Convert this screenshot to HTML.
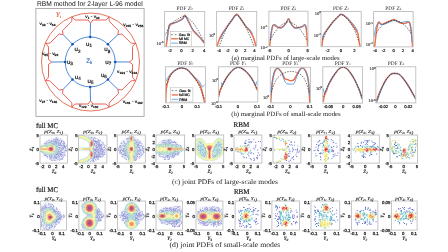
<!DOCTYPE html><html><head><meta charset="utf-8"><style>html,body{margin:0;padding:0;background:#fff;overflow:hidden}svg{display:block}</style></head><body>
<svg width="448" height="252" viewBox="0 0 448 252" style="will-change:transform;text-rendering:geometricPrecision">
<rect width="448" height="252" fill="#fff"/>
<text x="36.9" y="5.9" font-family="'Liberation Sans', sans-serif" font-size="6.8" fill="#111" text-anchor="start" textLength="105.8" lengthAdjust="spacingAndGlyphs">RBM method for 2-layer L-96 model</text>
<rect x="35.9" y="8.5" width="108.2" height="107.9" fill="none" stroke="#a6a6a6" stroke-width="0.9"/>
<circle cx="90.5" cy="62.0" r="49.0" fill="none" stroke="#e5765c" stroke-width="1.0"/>
<path d="M71.86,17.01 L74.3,19.4 L75.7,20 L88.1,20 L90.5,23.2 L92.9,20 L105.3,20 L106.7,19.4 L109.14,17.01" fill="none" stroke="#e4463c" stroke-width="0.85" stroke-linejoin="round"/>
<path d="M109.14,17.01 L109.17,20.42 L109.74,21.84 L118.5,30.6 L117.94,34.56 L121.9,34 L130.66,42.76 L132.08,43.33 L135.49,43.36" fill="none" stroke="#e4463c" stroke-width="0.85" stroke-linejoin="round"/>
<path d="M135.49,43.36 L133.1,45.8 L132.5,47.2 L132.5,59.6 L129.3,62 L132.5,64.4 L132.5,76.8 L133.1,78.2 L135.49,80.64" fill="none" stroke="#e4463c" stroke-width="0.85" stroke-linejoin="round"/>
<path d="M135.49,80.64 L132.08,80.67 L130.66,81.24 L121.9,90 L117.94,89.44 L118.5,93.4 L109.74,102.16 L109.17,103.58 L109.14,106.99" fill="none" stroke="#e4463c" stroke-width="0.85" stroke-linejoin="round"/>
<path d="M109.14,106.99 L106.7,104.6 L105.3,104 L92.9,104 L90.5,100.8 L88.1,104 L75.7,104 L74.3,104.6 L71.86,106.99" fill="none" stroke="#e4463c" stroke-width="0.85" stroke-linejoin="round"/>
<path d="M71.86,106.99 L71.83,103.58 L71.26,102.16 L62.5,93.4 L63.06,89.44 L59.1,90 L50.34,81.24 L48.92,80.67 L45.51,80.64" fill="none" stroke="#e4463c" stroke-width="0.85" stroke-linejoin="round"/>
<path d="M45.51,80.64 L47.9,78.2 L48.5,76.8 L48.5,64.4 L51.7,62 L48.5,59.6 L48.5,47.2 L47.9,45.8 L45.51,43.36" fill="none" stroke="#e4463c" stroke-width="0.85" stroke-linejoin="round"/>
<path d="M45.51,43.36 L48.92,43.33 L50.34,42.76 L59.1,34 L63.06,34.56 L62.5,30.6 L71.26,21.84 L71.83,20.42 L71.86,17.01" fill="none" stroke="#e4463c" stroke-width="0.85" stroke-linejoin="round"/>
<circle cx="90.2" cy="61.9" r="25.0" fill="none" stroke="#4a88d2" stroke-width="0.95"/>
<line x1="90.2" y1="36.9" x2="90.5" y2="23.2" stroke="#4a88d2" stroke-width="1.0"/>
<line x1="107.88" y1="44.22" x2="117.94" y2="34.56" stroke="#4a88d2" stroke-width="1.0"/>
<line x1="115.2" y1="61.9" x2="129.3" y2="62" stroke="#4a88d2" stroke-width="1.0"/>
<line x1="107.88" y1="79.58" x2="117.94" y2="89.44" stroke="#4a88d2" stroke-width="1.0"/>
<line x1="90.2" y1="86.9" x2="90.5" y2="100.8" stroke="#4a88d2" stroke-width="1.0"/>
<line x1="72.52" y1="79.58" x2="63.06" y2="89.44" stroke="#4a88d2" stroke-width="1.0"/>
<line x1="65.2" y1="61.9" x2="51.7" y2="62" stroke="#4a88d2" stroke-width="1.0"/>
<line x1="72.52" y1="44.22" x2="63.06" y2="34.56" stroke="#4a88d2" stroke-width="1.0"/>
<circle cx="90.2" cy="36.9" r="1.25" fill="#1450b4"/>
<circle cx="107.88" cy="44.22" r="1.25" fill="#1450b4"/>
<circle cx="115.2" cy="61.9" r="1.25" fill="#1450b4"/>
<circle cx="107.88" cy="79.58" r="1.25" fill="#1450b4"/>
<circle cx="90.2" cy="86.9" r="1.25" fill="#1450b4"/>
<circle cx="72.52" cy="79.58" r="1.25" fill="#1450b4"/>
<circle cx="65.2" cy="61.9" r="1.25" fill="#1450b4"/>
<circle cx="72.52" cy="44.22" r="1.25" fill="#1450b4"/>
<text x="86" y="45.7" font-family="'Liberation Sans', sans-serif" font-size="6.2" fill="#111" stroke="#111" stroke-width="0.18">u<tspan font-size="4.6" dy="1.4">1</tspan></text>
<text x="74.6" y="51.1" font-family="'Liberation Sans', sans-serif" font-size="6.2" fill="#111" stroke="#111" stroke-width="0.18">u<tspan font-size="4.6" dy="1.4">2</tspan></text>
<text x="66.9" y="64" font-family="'Liberation Sans', sans-serif" font-size="6.2" fill="#111" stroke="#111" stroke-width="0.18">u<tspan font-size="4.6" dy="1.4">3</tspan></text>
<text x="74.8" y="78.9" font-family="'Liberation Sans', sans-serif" font-size="6.2" fill="#111" stroke="#111" stroke-width="0.18">u<tspan font-size="4.6" dy="1.4">4</tspan></text>
<text x="87.6" y="82.9" font-family="'Liberation Sans', sans-serif" font-size="6.2" fill="#111" stroke="#111" stroke-width="0.18">u<tspan font-size="4.6" dy="1.4">5</tspan></text>
<text x="100.9" y="76.9" font-family="'Liberation Sans', sans-serif" font-size="6.2" fill="#111" stroke="#111" stroke-width="0.18">u<tspan font-size="4.6" dy="1.4">6</tspan></text>
<text x="105.3" y="64" font-family="'Liberation Sans', sans-serif" font-size="6.2" fill="#111" stroke="#111" stroke-width="0.18">u<tspan font-size="4.6" dy="1.4">7</tspan></text>
<text x="104.2" y="51.1" font-family="'Liberation Sans', sans-serif" font-size="6.2" fill="#111" stroke="#111" stroke-width="0.18">u<tspan font-size="4.6" dy="1.4">8</tspan></text>
<text x="86.2" y="63.4" font-family="'Liberation Sans', sans-serif" font-size="6.4" fill="#3d6fc4" stroke="#3d6fc4" stroke-width="0.15">Z<tspan font-size="4.4" dy="0.9">k</tspan></text>
<text x="56.0" y="17.2" font-family="'Liberation Serif', serif" font-style="italic" font-size="6.6" fill="#e0553f" stroke="#e0553f" stroke-width="0.15">Y<tspan font-size="4.3" dy="1">i</tspan></text>
<text x="85.3" y="18" font-family="'Liberation Sans', sans-serif" font-size="4.4" fill="#111" stroke="#111" stroke-width="0.2" textLength="14.3" lengthAdjust="spacingAndGlyphs">v<tspan font-size="3" dy="0.9">1</tspan><tspan dy="-0.9"> - v</tspan><tspan font-size="3" dy="0.9">32</tspan></text>
<text x="39.6" y="25.2" font-family="'Liberation Sans', sans-serif" font-size="4.4" fill="#111" stroke="#111" stroke-width="0.2" textLength="15.8" lengthAdjust="spacingAndGlyphs">v<tspan font-size="3" dy="0.9">33</tspan><tspan dy="-0.9"> - v</tspan><tspan font-size="3" dy="0.9">64</tspan></text>
<text x="123.3" y="25.6" font-family="'Liberation Sans', sans-serif" font-size="4.4" fill="#111" stroke="#111" stroke-width="0.2" textLength="20" lengthAdjust="spacingAndGlyphs">v<tspan font-size="3" dy="0.9">225</tspan><tspan dy="-0.9"> - v</tspan><tspan font-size="3" dy="0.9">256</tspan></text>
<text x="42" y="55.2" font-family="'Liberation Sans', sans-serif" font-size="4.4" fill="#111" stroke="#111" stroke-width="0.2" textLength="16.2" lengthAdjust="spacingAndGlyphs">v<tspan font-size="3" dy="0.9">65</tspan><tspan dy="-0.9"> - v</tspan><tspan font-size="3" dy="0.9">96</tspan></text>
<text x="117.1" y="72.6" font-family="'Liberation Sans', sans-serif" font-size="4.4" fill="#111" stroke="#111" stroke-width="0.2" textLength="20" lengthAdjust="spacingAndGlyphs">v<tspan font-size="3" dy="0.9">193</tspan><tspan dy="-0.9"> - v</tspan><tspan font-size="3" dy="0.9">224</tspan></text>
<text x="39.3" y="102" font-family="'Liberation Sans', sans-serif" font-size="4.4" fill="#111" stroke="#111" stroke-width="0.2" textLength="17.8" lengthAdjust="spacingAndGlyphs">v<tspan font-size="3" dy="0.9">97</tspan><tspan dy="-0.9"> - v</tspan><tspan font-size="3" dy="0.9">128</tspan></text>
<text x="79" y="107.4" font-family="'Liberation Sans', sans-serif" font-size="4.4" fill="#111" stroke="#111" stroke-width="0.2" textLength="19.2" lengthAdjust="spacingAndGlyphs">v<tspan font-size="3" dy="0.9">129</tspan><tspan dy="-0.9"> - v</tspan><tspan font-size="3" dy="0.9">160</tspan></text>
<text x="122.7" y="103" font-family="'Liberation Sans', sans-serif" font-size="4.4" fill="#111" stroke="#111" stroke-width="0.2" textLength="20" lengthAdjust="spacingAndGlyphs">v<tspan font-size="3" dy="0.9">161</tspan><tspan dy="-0.9"> - v</tspan><tspan font-size="3" dy="0.9">192</tspan></text>
<defs>
<clipPath id="mc0"><rect x="164.5" y="11.6" width="40.2" height="35.2"/></clipPath>
<clipPath id="mc1"><rect x="216.6" y="11.6" width="40.1" height="35"/></clipPath>
<clipPath id="mc2"><rect x="268.9" y="11.2" width="39.1" height="35.2"/></clipPath>
<clipPath id="mc3"><rect x="321" y="11.4" width="40.2" height="35.3"/></clipPath>
<clipPath id="mc4"><rect x="373.6" y="11.5" width="39.5" height="35.4"/></clipPath>
<clipPath id="mc5"><rect x="165.4" y="66.8" width="40" height="36"/></clipPath>
<clipPath id="mc6"><rect x="218.4" y="66.8" width="39.4" height="35.2"/></clipPath>
<clipPath id="mc7"><rect x="270.3" y="67.2" width="40.1" height="35.7"/></clipPath>
<clipPath id="mc8"><rect x="322.8" y="66.8" width="39.8" height="36.4"/></clipPath>
<clipPath id="mc9"><rect x="375.9" y="66.8" width="39.9" height="36.1"/></clipPath>
</defs>
<g clip-path="url(#mc0)">
<path d="M166.1,46.9 C166.52,43.88 168.02,32.52 168.6,28.8 C169.18,25.08 168.92,25.47 169.6,24.6 C170.28,23.73 171.15,24.22 172.7,23.6 C174.25,22.98 177.18,21.77 178.9,20.9 C180.62,20.03 181.97,19.33 183,18.4 C184.03,17.47 184.07,14.6 185.1,15.3 C186.13,16 187.83,20.02 189.2,22.6 C190.57,25.18 191.58,28.4 193.3,30.8 C195.02,33.2 197.7,35 199.5,37 C201.3,39 203.33,41.83 204.1,42.8" fill="none" stroke="#ee7048" stroke-width="1.5" stroke-linejoin="round" stroke-linecap="round"/>
<path d="M166.8,40 C167.07,38.17 167.9,31.63 168.4,29 C168.9,26.37 169.05,25.23 169.8,24.2 C170.55,23.17 171.87,23.08 172.9,22.8 C173.93,22.52 175,22.75 176,22.5 C177,22.25 177.73,21.9 178.9,21.3 C180.07,20.7 181.97,19.85 183,18.9 C184.03,17.95 184.23,15.15 185.1,15.6 C185.97,16.05 187.3,19.97 188.2,21.6 C189.1,23.23 189.65,24 190.5,25.4 C191.35,26.8 192.22,28.65 193.3,30 C194.38,31.35 195.97,32.28 197,33.5 C198.03,34.72 198.33,35.88 199.5,37.3 C200.67,38.72 203.25,41.22 204,42" fill="none" stroke="#3f8fdf" stroke-width="0.8" stroke-linejoin="round" stroke-linecap="round"/>
<path d="M164.6,36 C165.5,34.33 168.1,28.63 170,26 C171.9,23.37 173.67,21.8 176,20.2 C178.33,18.6 181.67,16.52 184,16.4 C186.33,16.28 188,17.73 190,19.5 C192,21.27 194.33,24.58 196,27 C197.67,29.42 198.6,31.42 200,34 C201.4,36.58 203.67,41.08 204.4,42.5" fill="none" stroke="#1a1a1a" stroke-width="0.6" stroke-linejoin="round" stroke-linecap="butt" stroke-dasharray="1.5,1.2"/>
</g>
<rect x="164.5" y="11.6" width="40.2" height="35.2" fill="none" stroke="#bababa" stroke-width="0.85"/>
<text x="184.6" y="9.6" font-family="'Liberation Serif', serif" font-size="5.3" fill="#2a2a2a" text-anchor="middle" textLength="16" lengthAdjust="spacingAndGlyphs">PDF <tspan font-style="italic">Z</tspan><tspan font-size="3.6" dy="0.8">0</tspan></text>
<g clip-path="url(#mc1)">
<path d="M217,46.7 C217.37,45.53 218.42,41.7 219.2,39.7 C219.98,37.7 220.45,36.78 221.7,34.7 C222.95,32.62 225.03,29.57 226.7,27.2 C228.37,24.83 230.03,22.65 231.7,20.5 C233.37,18.35 235.03,14.3 236.7,14.3 C238.37,14.3 240.18,18.5 241.7,20.5 C243.22,22.5 244.42,24.5 245.8,26.3 C247.18,28.1 248.75,29.48 250,31.3 C251.25,33.12 252.33,34.83 253.3,37.2 C254.27,39.57 255.3,43.92 255.8,45.5 C256.3,47.08 256.22,46.5 256.3,46.7" fill="none" stroke="#ee7048" stroke-width="1.5" stroke-linejoin="round" stroke-linecap="round"/>
<path d="M220.8,38.8 C220.98,38.3 221.37,37.02 221.9,35.8 C222.43,34.58 223.2,32.88 224,31.5 C224.8,30.12 225.42,29.28 226.7,27.5 C227.98,25.72 230.03,22.97 231.7,20.8 C233.37,18.63 235.03,14.5 236.7,14.5 C238.37,14.5 240.18,18.88 241.7,20.8 C243.22,22.72 244.75,24.72 245.8,26 C246.85,27.28 247.3,27.87 248,28.5 C248.7,29.13 249.25,28.92 250,29.8 C250.75,30.68 252.08,33.13 252.5,33.8" fill="none" stroke="#3f8fdf" stroke-width="0.8" stroke-linejoin="round" stroke-linecap="round"/>
<path d="M219.2,46.7 C220,44.58 222.2,38.12 224,34 C225.8,29.88 227.88,25.08 230,22 C232.12,18.92 234.53,15.5 236.7,15.5 C238.87,15.5 240.95,18.92 243,22 C245.05,25.08 247.13,29.88 249,34 C250.87,38.12 253.33,44.58 254.2,46.7" fill="none" stroke="#1a1a1a" stroke-width="0.6" stroke-linejoin="round" stroke-linecap="butt" stroke-dasharray="1.5,1.2"/>
</g>
<rect x="216.6" y="11.6" width="40.1" height="35" fill="none" stroke="#bababa" stroke-width="0.85"/>
<text x="236.65" y="9.6" font-family="'Liberation Serif', serif" font-size="5.3" fill="#2a2a2a" text-anchor="middle" textLength="16" lengthAdjust="spacingAndGlyphs">PDF <tspan font-style="italic">Z</tspan><tspan font-size="3.6" dy="0.8">1</tspan></text>
<g clip-path="url(#mc2)">
<path d="M269.6,46.4 C269.85,44.3 270.58,37.22 271.1,33.8 C271.62,30.38 272.17,27.35 272.7,25.9 C273.23,24.45 273.63,24.97 274.3,25.1 C274.97,25.23 275.77,26.25 276.7,26.7 C277.63,27.15 278.85,27.8 279.9,27.8 C280.95,27.8 281.95,27.55 283,26.7 C284.05,25.85 285.27,24.03 286.2,22.7 C287.13,21.37 287.8,18.57 288.6,18.7 C289.4,18.83 290.07,22.03 291,23.5 C291.93,24.97 293.02,26.83 294.2,27.5 C295.38,28.17 296.78,27.63 298.1,27.5 C299.42,27.37 300.95,27.1 302.1,26.7 C303.25,26.3 304.27,24.45 305,25.1 C305.73,25.75 306.05,27.05 306.5,30.6 C306.95,34.15 307.5,43.77 307.7,46.4" fill="none" stroke="#ee7048" stroke-width="1.5" stroke-linejoin="round" stroke-linecap="round"/>
<path d="M270.3,40 C270.58,38 271.33,30.58 272,28 C272.67,25.42 273.47,24.83 274.3,24.5 C275.13,24.17 276.05,25.42 277,26 C277.95,26.58 279,27.83 280,28 C281,28.17 281.97,27.83 283,27 C284.03,26.17 285.27,24.25 286.2,23 C287.13,21.75 287.8,19.33 288.6,19.5 C289.4,19.67 290.07,22.58 291,24 C291.93,25.42 293.03,27.33 294.2,28 C295.37,28.67 296.7,28.25 298,28 C299.3,27.75 300.83,27.08 302,26.5 C303.17,25.92 304.25,24.08 305,24.5 C305.75,24.92 306.25,28.25 306.5,29" fill="none" stroke="#3f8fdf" stroke-width="0.8" stroke-linejoin="round" stroke-linecap="round"/>
<path d="M270.3,40.2 C271.08,38.83 273.22,34.45 275,32 C276.78,29.55 278.73,27.18 281,25.5 C283.27,23.82 286.1,21.9 288.6,21.9 C291.1,21.9 293.77,23.82 296,25.5 C298.23,27.18 300.18,29.55 302,32 C303.82,34.45 306.08,38.83 306.9,40.2" fill="none" stroke="#1a1a1a" stroke-width="0.6" stroke-linejoin="round" stroke-linecap="butt" stroke-dasharray="1.5,1.2"/>
</g>
<rect x="268.9" y="11.2" width="39.1" height="35.2" fill="none" stroke="#bababa" stroke-width="0.85"/>
<text x="288.45" y="9.6" font-family="'Liberation Serif', serif" font-size="5.3" fill="#2a2a2a" text-anchor="middle" textLength="16" lengthAdjust="spacingAndGlyphs">PDF <tspan font-style="italic">Z</tspan><tspan font-size="3.6" dy="0.8">2</tspan></text>
<g clip-path="url(#mc3)">
<path d="M321.8,46.7 C322.08,44.83 322.52,38.48 323.5,35.5 C324.48,32.52 326.17,31.02 327.7,28.8 C329.23,26.58 331.03,24.13 332.7,22.2 C334.37,20.27 336.32,18.52 337.7,17.2 C339.08,15.88 339.75,14.45 341,14.3 C342.25,14.15 343.82,15.27 345.2,16.3 C346.58,17.33 347.92,18.83 349.3,20.5 C350.68,22.17 352.1,24.22 353.5,26.3 C354.9,28.38 356.78,30.5 357.7,33 C358.62,35.5 358.58,39.02 359,41.3 C359.42,43.58 360,45.8 360.2,46.7" fill="none" stroke="#ee7048" stroke-width="1.5" stroke-linejoin="round" stroke-linecap="round"/>
<path d="M322.5,38 C322.75,37.33 323.13,35.5 324,34 C324.87,32.5 326.53,30.5 327.7,29 C328.87,27.5 330.17,26.08 331,25 C331.83,23.92 331.58,23.75 332.7,22.5 C333.82,21.25 336.32,18.83 337.7,17.5 C339.08,16.17 339.75,14.67 341,14.5 C342.25,14.33 343.82,15.58 345.2,16.5 C346.58,17.42 348.17,18.92 349.3,20 C350.43,21.08 351.13,22.08 352,23 C352.87,23.92 353.58,24.17 354.5,25.5 C355.42,26.83 357,30.08 357.5,31" fill="none" stroke="#3f8fdf" stroke-width="0.8" stroke-linejoin="round" stroke-linecap="round"/>
<path d="M322.7,39.7 C323.58,37.92 326.12,32.2 328,29 C329.88,25.8 331.83,22.88 334,20.5 C336.17,18.12 338.67,14.78 341,14.7 C343.33,14.62 345.83,17.62 348,20 C350.17,22.38 352.25,25.58 354,29 C355.75,32.42 357.75,38.58 358.5,40.5" fill="none" stroke="#1a1a1a" stroke-width="0.6" stroke-linejoin="round" stroke-linecap="butt" stroke-dasharray="1.5,1.2"/>
</g>
<rect x="321" y="11.4" width="40.2" height="35.3" fill="none" stroke="#bababa" stroke-width="0.85"/>
<text x="341.1" y="9.6" font-family="'Liberation Serif', serif" font-size="5.3" fill="#2a2a2a" text-anchor="middle" textLength="16" lengthAdjust="spacingAndGlyphs">PDF <tspan font-style="italic">Z</tspan><tspan font-size="3.6" dy="0.8">3</tspan></text>
<g clip-path="url(#mc4)">
<path d="M374.6,46.9 C374.92,44.22 375.87,34.9 376.5,30.8 C377.13,26.7 377.62,23.4 378.4,22.3 C379.18,21.2 380.1,24.05 381.2,24.2 C382.3,24.35 383.57,23.68 385,23.2 C386.43,22.72 388.37,21.93 389.8,21.3 C391.23,20.67 392.33,19.4 393.6,19.4 C394.87,19.4 396.13,20.67 397.4,21.3 C398.67,21.93 399.78,22.88 401.2,23.2 C402.62,23.52 404.55,23.35 405.9,23.2 C407.25,23.05 408.42,21.03 409.3,22.3 C410.18,23.57 410.65,26.7 411.2,30.8 C411.75,34.9 412.37,44.22 412.6,46.9" fill="none" stroke="#ee7048" stroke-width="1.5" stroke-linejoin="round" stroke-linecap="round"/>
<path d="M373.8,37.5 C374.17,35.75 375.23,29.42 376,27 C376.77,24.58 377.53,23.42 378.4,23 C379.27,22.58 380.1,24.33 381.2,24.5 C382.3,24.67 383.57,24.42 385,24 C386.43,23.58 388.37,22.58 389.8,22 C391.23,21.42 392.33,20.58 393.6,20.5 C394.87,20.42 396.13,21.17 397.4,21.5 C398.67,21.83 399.78,22.5 401.2,22.5 C402.62,22.5 404.55,21.5 405.9,21.5 C407.25,21.5 408.45,21.08 409.3,22.5 C410.15,23.92 410.55,26.87 411,30 C411.45,33.13 411.83,39.42 412,41.3" fill="none" stroke="#3f8fdf" stroke-width="0.8" stroke-linejoin="round" stroke-linecap="round"/>
<path d="M376.5,32.7 C377.25,31.67 379.25,28.28 381,26.5 C382.75,24.72 384.9,23.02 387,22 C389.1,20.98 391.43,20.4 393.6,20.4 C395.77,20.4 397.93,20.98 400,22 C402.07,23.02 404.07,24.55 406,26.5 C407.93,28.45 410.67,32.5 411.6,33.7" fill="none" stroke="#1a1a1a" stroke-width="0.6" stroke-linejoin="round" stroke-linecap="butt" stroke-dasharray="1.5,1.2"/>
</g>
<rect x="373.6" y="11.5" width="39.5" height="35.4" fill="none" stroke="#bababa" stroke-width="0.85"/>
<text x="393.35" y="9.6" font-family="'Liberation Serif', serif" font-size="5.3" fill="#2a2a2a" text-anchor="middle" textLength="16" lengthAdjust="spacingAndGlyphs">PDF <tspan font-style="italic">Z</tspan><tspan font-size="3.6" dy="0.8">4</tspan></text>
<g clip-path="url(#mc5)">
<path d="M165.7,102.8 C165.8,100.48 165.85,92.77 166.3,88.9 C166.75,85.03 167.53,82.17 168.4,79.6 C169.27,77.03 170.13,75.22 171.5,73.5 C172.87,71.78 174.88,70.23 176.6,69.3 C178.32,68.37 180.07,67.9 181.8,67.9 C183.53,67.9 185.47,68.37 187,69.3 C188.53,70.23 189.63,71.95 191,73.5 C192.37,75.05 193.98,77.07 195.2,78.6 C196.42,80.13 197.27,80.98 198.3,82.7 C199.33,84.42 200.37,85.63 201.4,88.9 C202.43,92.17 203.98,100.07 204.5,102.3" fill="none" stroke="#ee7048" stroke-width="1.5" stroke-linejoin="round" stroke-linecap="round"/>
<path d="M166.3,80.7 C166.58,80.17 167.13,78.78 168,77.5 C168.87,76.22 170.07,74.42 171.5,73 C172.93,71.58 174.88,69.9 176.6,69 C178.32,68.1 180.07,67.52 181.8,67.6 C183.53,67.68 185.47,68.6 187,69.5 C188.53,70.4 189.67,71.62 191,73 C192.33,74.38 193.95,76.77 195,77.8 C196.05,78.83 196.55,78.58 197.3,79.2 C198.05,79.82 198.8,80.45 199.5,81.5 C200.2,82.55 201.02,84.6 201.5,85.5 C201.98,86.4 201.9,87.02 202.4,86.9 C202.9,86.78 204.15,85.15 204.5,84.8" fill="none" stroke="#3f8fdf" stroke-width="0.8" stroke-linejoin="round" stroke-linecap="round"/>
<path d="M166.3,84.8 C167.08,83.17 169.38,77.47 171,75 C172.62,72.53 174.2,71.17 176,70 C177.8,68.83 179.8,67.92 181.8,68 C183.8,68.08 185.97,69 188,70.5 C190.03,72 192.17,74.5 194,77 C195.83,79.5 197.25,81.8 199,85.5 C200.75,89.2 203.58,96.92 204.5,99.2" fill="none" stroke="#1a1a1a" stroke-width="0.6" stroke-linejoin="round" stroke-linecap="butt" stroke-dasharray="1.5,1.2"/>
</g>
<rect x="165.4" y="66.8" width="40" height="36" fill="none" stroke="#bababa" stroke-width="0.85"/>
<text x="185.4" y="64.6" font-family="'Liberation Serif', serif" font-size="5.3" fill="#2a2a2a" text-anchor="middle" textLength="16" lengthAdjust="spacingAndGlyphs">PDF <tspan font-style="italic">Y</tspan><tspan font-size="3.6" dy="0.8">0</tspan></text>
<g clip-path="url(#mc6)">
<path d="M218.7,96.5 C218.83,95.75 218.95,93.75 219.5,92 C220.05,90.25 220.92,88.25 222,86 C223.08,83.75 224.67,80.67 226,78.5 C227.33,76.33 228.67,74.58 230,73 C231.33,71.42 232.67,69.95 234,69 C235.33,68.05 236.67,67.38 238,67.3 C239.33,67.22 240.67,67.8 242,68.5 C243.33,69.2 244.67,70.25 246,71.5 C247.33,72.75 248.67,74.17 250,76 C251.33,77.83 252.92,80.42 254,82.5 C255.08,84.58 255.95,87.25 256.5,88.5 C257.05,89.75 257.17,89.75 257.3,90" fill="none" stroke="#ee7048" stroke-width="1.5" stroke-linejoin="round" stroke-linecap="round"/>
<path d="M221.4,82.8 C221.53,83.37 221.93,86 222.2,86.2 C222.47,86.4 222.37,85.32 223,84 C223.63,82.68 224.83,80.17 226,78.3 C227.17,76.43 228.67,74.38 230,72.8 C231.33,71.22 232.67,69.73 234,68.8 C235.33,67.87 236.67,67.28 238,67.2 C239.33,67.12 240.67,67.62 242,68.3 C243.33,68.98 244.67,70.05 246,71.3 C247.33,72.55 248.67,73.97 250,75.8 C251.33,77.63 253.07,80.68 254,82.3 C254.93,83.92 255.17,85.58 255.6,85.5 C256.03,85.42 256.43,82.42 256.6,81.8" fill="none" stroke="#3f8fdf" stroke-width="0.8" stroke-linejoin="round" stroke-linecap="round"/>
<path d="M219,95 C219.5,93.58 220.83,89.22 222,86.5 C223.17,83.78 224.67,80.92 226,78.7 C227.33,76.48 228.67,74.78 230,73.2 C231.33,71.62 232.67,70.15 234,69.2 C235.33,68.25 236.67,67.58 238,67.5 C239.33,67.42 240.67,68 242,68.7 C243.33,69.4 244.67,70.45 246,71.7 C247.33,72.95 248.67,74.37 250,76.2 C251.33,78.03 252.78,80.48 254,82.7 C255.22,84.92 256.75,88.37 257.3,89.5" fill="none" stroke="#1a1a1a" stroke-width="0.6" stroke-linejoin="round" stroke-linecap="butt" stroke-dasharray="1.5,1.2"/>
</g>
<rect x="218.4" y="66.8" width="39.4" height="35.2" fill="none" stroke="#bababa" stroke-width="0.85"/>
<text x="238.1" y="64.6" font-family="'Liberation Serif', serif" font-size="5.3" fill="#2a2a2a" text-anchor="middle" textLength="16" lengthAdjust="spacingAndGlyphs">PDF <tspan font-style="italic">Y</tspan><tspan font-size="3.6" dy="0.8">1</tspan></text>
<g clip-path="url(#mc7)">
<path d="M270.7,102.3 C270.97,99.03 271.68,87.68 272.3,82.7 C272.92,77.72 273.53,74.8 274.4,72.4 C275.27,70 276.3,68.3 277.5,68.3 C278.7,68.3 280.4,70.68 281.6,72.4 C282.8,74.12 283.67,77.4 284.7,78.6 C285.73,79.8 286.77,79.25 287.8,79.6 C288.83,79.95 289.87,80.7 290.9,80.7 C291.93,80.7 292.98,80.63 294,79.6 C295.02,78.57 295.98,76.22 297,74.5 C298.02,72.78 299.07,70.4 300.1,69.3 C301.13,68.2 302.17,67.38 303.2,67.9 C304.23,68.42 305.43,70.27 306.3,72.4 C307.17,74.53 307.82,75.72 308.4,80.7 C308.98,85.68 309.57,98.7 309.8,102.3" fill="none" stroke="#ee7048" stroke-width="1.5" stroke-linejoin="round" stroke-linecap="round"/>
<path d="M271,95 C271.25,92.5 271.93,83.92 272.5,80 C273.07,76.08 273.57,73.5 274.4,71.5 C275.23,69.5 276.3,67.75 277.5,68 C278.7,68.25 280.4,70.83 281.6,73 C282.8,75.17 283.8,79.2 284.7,81 C285.6,82.8 285.95,83.3 287,83.8 C288.05,84.3 289.83,84.05 291,84 C292.17,83.95 293,84.83 294,83.5 C295,82.17 295.98,78.25 297,76 C298.02,73.75 299.07,71.25 300.1,70 C301.13,68.75 302.17,68 303.2,68.5 C304.23,69 305.43,70.75 306.3,73 C307.17,75.25 307.87,78.33 308.4,82 C308.93,85.67 309.32,92.83 309.5,95" fill="none" stroke="#3f8fdf" stroke-width="0.8" stroke-linejoin="round" stroke-linecap="round"/>
<path d="M271.3,92 C272.08,90 274.05,83.08 276,80 C277.95,76.92 280.52,74.93 283,73.5 C285.48,72.07 288.23,71.4 290.9,71.4 C293.57,71.4 296.65,72.07 299,73.5 C301.35,74.93 303.27,76.75 305,80 C306.73,83.25 308.67,90.83 309.4,93" fill="none" stroke="#1a1a1a" stroke-width="0.6" stroke-linejoin="round" stroke-linecap="butt" stroke-dasharray="1.5,1.2"/>
</g>
<rect x="270.3" y="67.2" width="40.1" height="35.7" fill="none" stroke="#bababa" stroke-width="0.85"/>
<text x="290.35" y="64.6" font-family="'Liberation Serif', serif" font-size="5.3" fill="#2a2a2a" text-anchor="middle" textLength="16" lengthAdjust="spacingAndGlyphs">PDF <tspan font-style="italic">Y</tspan><tspan font-size="3.6" dy="0.8">2</tspan></text>
<g clip-path="url(#mc8)">
<path d="M323.3,101.3 C323.5,100.25 323.98,96.72 324.5,95 C325.02,93.28 325.73,92.67 326.4,91 C327.07,89.33 327.57,87.08 328.5,85 C329.43,82.92 330.75,80.58 332,78.5 C333.25,76.42 334.75,74.17 336,72.5 C337.25,70.83 338.35,69.37 339.5,68.5 C340.65,67.63 341.73,67.3 342.9,67.3 C344.07,67.3 345.23,67.55 346.5,68.5 C347.77,69.45 349.17,71.17 350.5,73 C351.83,74.83 353.25,77.17 354.5,79.5 C355.75,81.83 357,84.67 358,87 C359,89.33 359.87,91.63 360.5,93.5 C361.13,95.37 361.58,97.42 361.8,98.2" fill="none" stroke="#ee7048" stroke-width="1.5" stroke-linejoin="round" stroke-linecap="round"/>
<path d="M323.3,88.9 C323.5,89.58 323.97,92.98 324.5,93 C325.03,93.02 325.75,90.58 326.5,89 C327.25,87.42 328.08,85.33 329,83.5 C329.92,81.67 330.83,79.88 332,78 C333.17,76.12 334.75,73.82 336,72.2 C337.25,70.58 338.35,69.13 339.5,68.3 C340.65,67.47 341.73,67.18 342.9,67.2 C344.07,67.22 345.23,67.47 346.5,68.4 C347.77,69.33 349.17,71 350.5,72.8 C351.83,74.6 353.25,76.92 354.5,79.2 C355.75,81.48 357,84.28 358,86.5 C359,88.72 359.83,90.42 360.5,92.5 C361.17,94.58 361.75,97.92 362,99" fill="none" stroke="#3f8fdf" stroke-width="0.8" stroke-linejoin="round" stroke-linecap="round"/>
<path d="M323.5,97 C323.92,95.83 325.08,92.25 326,90 C326.92,87.75 328,85.5 329,83.5 C330,81.5 330.83,79.87 332,78 C333.17,76.13 334.75,73.9 336,72.3 C337.25,70.7 338.35,69.23 339.5,68.4 C340.65,67.57 341.73,67.28 342.9,67.3 C344.07,67.32 345.23,67.55 346.5,68.5 C347.77,69.45 349.17,71.17 350.5,73 C351.83,74.83 353.25,77.17 354.5,79.5 C355.75,81.83 356.78,84.08 358,87 C359.22,89.92 361.17,95.33 361.8,97" fill="none" stroke="#1a1a1a" stroke-width="0.6" stroke-linejoin="round" stroke-linecap="butt" stroke-dasharray="1.5,1.2"/>
</g>
<rect x="322.8" y="66.8" width="39.8" height="36.4" fill="none" stroke="#bababa" stroke-width="0.85"/>
<text x="342.7" y="64.6" font-family="'Liberation Serif', serif" font-size="5.3" fill="#2a2a2a" text-anchor="middle" textLength="16" lengthAdjust="spacingAndGlyphs">PDF <tspan font-style="italic">Y</tspan><tspan font-size="3.6" dy="0.8">3</tspan></text>
<g clip-path="url(#mc9)">
<path d="M376.3,101.3 C376.75,100.08 377.97,96.55 379,94 C380.03,91.45 381.25,88.5 382.5,86 C383.75,83.5 385.17,80.92 386.5,79 C387.83,77.08 389.42,75.42 390.5,74.5 C391.58,73.58 392,73.67 393,73.5 C394,73.33 395.5,73.42 396.5,73.5 C397.5,73.58 398,73.33 399,74 C400,74.67 401.25,76 402.5,77.5 C403.75,79 405.17,81 406.5,83 C407.83,85 409.33,87.5 410.5,89.5 C411.67,91.5 412.67,93.55 413.5,95 C414.33,96.45 415.17,97.67 415.5,98.2" fill="none" stroke="#ee7048" stroke-width="1.5" stroke-linejoin="round" stroke-linecap="round"/>
<path d="M376.8,102.5 C377.25,101.17 378.47,97.25 379.5,94.5 C380.53,91.75 381.75,88.67 383,86 C384.25,83.33 385.67,80.47 387,78.5 C388.33,76.53 389.83,75.08 391,74.2 C392.17,73.32 393,73.3 394,73.2 C395,73.1 396.08,73.38 397,73.6 C397.92,73.82 398.5,73.77 399.5,74.5 C400.5,75.23 401.75,76.5 403,78 C404.25,79.5 405.67,81.5 407,83.5 C408.33,85.5 409.83,87.92 411,90 C412.17,92.08 413.25,94.42 414,96 C414.75,97.58 415.25,98.92 415.5,99.5" fill="none" stroke="#3f8fdf" stroke-width="0.8" stroke-linejoin="round" stroke-linecap="round"/>
<path d="M377,100 C377.5,98.67 378.83,94.75 380,92 C381.17,89.25 382.67,86 384,83.5 C385.33,81 386.67,78.58 388,77 C389.33,75.42 390.75,74.58 392,74 C393.25,73.42 394.33,73.42 395.5,73.5 C396.67,73.58 397.75,73.67 399,74.5 C400.25,75.33 401.67,76.92 403,78.5 C404.33,80.08 405.67,82 407,84 C408.33,86 409.67,88.25 411,90.5 C412.33,92.75 414.33,96.33 415,97.5" fill="none" stroke="#1a1a1a" stroke-width="0.6" stroke-linejoin="round" stroke-linecap="butt" stroke-dasharray="1.5,1.2"/>
</g>
<rect x="375.9" y="66.8" width="39.9" height="36.1" fill="none" stroke="#bababa" stroke-width="0.85"/>
<text x="395.85" y="64.6" font-family="'Liberation Serif', serif" font-size="5.3" fill="#2a2a2a" text-anchor="middle" textLength="16" lengthAdjust="spacingAndGlyphs">PDF <tspan font-style="italic">Y</tspan><tspan font-size="3.6" dy="0.8">4</tspan></text>
<text x="170" y="51.8" font-family="'Liberation Sans', sans-serif" font-size="4.2" fill="#222" text-anchor="middle" stroke="#222" stroke-width="0.22">-2</text>
<text x="181.5" y="51.8" font-family="'Liberation Sans', sans-serif" font-size="4.2" fill="#222" text-anchor="middle" stroke="#222" stroke-width="0.22">0</text>
<text x="192.6" y="51.8" font-family="'Liberation Sans', sans-serif" font-size="4.2" fill="#222" text-anchor="middle" stroke="#222" stroke-width="0.22">2</text>
<text x="204.2" y="51.8" font-family="'Liberation Sans', sans-serif" font-size="4.2" fill="#222" text-anchor="middle" stroke="#222" stroke-width="0.22">4</text>
<text x="219" y="51.8" font-family="'Liberation Sans', sans-serif" font-size="4.2" fill="#222" text-anchor="middle" stroke="#222" stroke-width="0.22">-4</text>
<text x="227.8" y="51.8" font-family="'Liberation Sans', sans-serif" font-size="4.2" fill="#222" text-anchor="middle" stroke="#222" stroke-width="0.22">-2</text>
<text x="236.5" y="51.8" font-family="'Liberation Sans', sans-serif" font-size="4.2" fill="#222" text-anchor="middle" stroke="#222" stroke-width="0.22">0</text>
<text x="245.2" y="51.8" font-family="'Liberation Sans', sans-serif" font-size="4.2" fill="#222" text-anchor="middle" stroke="#222" stroke-width="0.22">2</text>
<text x="254.5" y="51.8" font-family="'Liberation Sans', sans-serif" font-size="4.2" fill="#222" text-anchor="middle" stroke="#222" stroke-width="0.22">4</text>
<text x="269.5" y="51.8" font-family="'Liberation Sans', sans-serif" font-size="4.2" fill="#222" text-anchor="middle" stroke="#222" stroke-width="0.22">-5</text>
<text x="288.6" y="51.8" font-family="'Liberation Sans', sans-serif" font-size="4.2" fill="#222" text-anchor="middle" stroke="#222" stroke-width="0.22">0</text>
<text x="307.6" y="51.8" font-family="'Liberation Sans', sans-serif" font-size="4.2" fill="#222" text-anchor="middle" stroke="#222" stroke-width="0.22">5</text>
<text x="327.7" y="51.8" font-family="'Liberation Sans', sans-serif" font-size="4.2" fill="#222" text-anchor="middle" stroke="#222" stroke-width="0.22">-2</text>
<text x="341" y="51.8" font-family="'Liberation Sans', sans-serif" font-size="4.2" fill="#222" text-anchor="middle" stroke="#222" stroke-width="0.22">0</text>
<text x="354.3" y="51.8" font-family="'Liberation Sans', sans-serif" font-size="4.2" fill="#222" text-anchor="middle" stroke="#222" stroke-width="0.22">2</text>
<text x="375" y="51.8" font-family="'Liberation Sans', sans-serif" font-size="4.2" fill="#222" text-anchor="middle" stroke="#222" stroke-width="0.22">-4</text>
<text x="383.5" y="51.8" font-family="'Liberation Sans', sans-serif" font-size="4.2" fill="#222" text-anchor="middle" stroke="#222" stroke-width="0.22">-2</text>
<text x="393.6" y="51.8" font-family="'Liberation Sans', sans-serif" font-size="4.2" fill="#222" text-anchor="middle" stroke="#222" stroke-width="0.22">0</text>
<text x="403" y="51.8" font-family="'Liberation Sans', sans-serif" font-size="4.2" fill="#222" text-anchor="middle" stroke="#222" stroke-width="0.22">2</text>
<text x="412.6" y="51.8" font-family="'Liberation Sans', sans-serif" font-size="4.2" fill="#222" text-anchor="middle" stroke="#222" stroke-width="0.22">4</text>
<text x="165.8" y="107.9" font-family="'Liberation Sans', sans-serif" font-size="4.2" fill="#222" text-anchor="middle" stroke="#222" stroke-width="0.22">-0.1</text>
<text x="181.8" y="107.9" font-family="'Liberation Sans', sans-serif" font-size="4.2" fill="#222" text-anchor="middle" stroke="#222" stroke-width="0.22">0</text>
<text x="197.3" y="107.9" font-family="'Liberation Sans', sans-serif" font-size="4.2" fill="#222" text-anchor="middle" stroke="#222" stroke-width="0.22">0.1</text>
<text x="218.6" y="107.9" font-family="'Liberation Sans', sans-serif" font-size="4.2" fill="#222" text-anchor="middle" stroke="#222" stroke-width="0.22">-0.1</text>
<text x="238" y="107.9" font-family="'Liberation Sans', sans-serif" font-size="4.2" fill="#222" text-anchor="middle" stroke="#222" stroke-width="0.22">0</text>
<text x="257.2" y="107.9" font-family="'Liberation Sans', sans-serif" font-size="4.2" fill="#222" text-anchor="middle" stroke="#222" stroke-width="0.22">0.1</text>
<text x="270.6" y="107.9" font-family="'Liberation Sans', sans-serif" font-size="4.2" fill="#222" text-anchor="middle" stroke="#222" stroke-width="0.22">-0.1</text>
<text x="290.5" y="107.9" font-family="'Liberation Sans', sans-serif" font-size="4.2" fill="#222" text-anchor="middle" stroke="#222" stroke-width="0.22">0</text>
<text x="309.6" y="107.9" font-family="'Liberation Sans', sans-serif" font-size="4.2" fill="#222" text-anchor="middle" stroke="#222" stroke-width="0.22">0.1</text>
<text x="328.4" y="107.9" font-family="'Liberation Sans', sans-serif" font-size="4.2" fill="#222" text-anchor="middle" stroke="#222" stroke-width="0.22">-0.05</text>
<text x="343.2" y="107.9" font-family="'Liberation Sans', sans-serif" font-size="4.2" fill="#222" text-anchor="middle" stroke="#222" stroke-width="0.22">0</text>
<text x="356.7" y="107.9" font-family="'Liberation Sans', sans-serif" font-size="4.2" fill="#222" text-anchor="middle" stroke="#222" stroke-width="0.22">0.05</text>
<text x="383.4" y="107.9" font-family="'Liberation Sans', sans-serif" font-size="4.2" fill="#222" text-anchor="middle" stroke="#222" stroke-width="0.22">-0.02</text>
<text x="395.5" y="107.9" font-family="'Liberation Sans', sans-serif" font-size="4.2" fill="#222" text-anchor="middle" stroke="#222" stroke-width="0.22">0</text>
<text x="408.3" y="107.9" font-family="'Liberation Sans', sans-serif" font-size="4.2" fill="#222" text-anchor="middle" stroke="#222" stroke-width="0.22">0.02</text>
<text x="163.6" y="45" font-family="'Liberation Sans', sans-serif" font-size="4.1" fill="#222" stroke="#222" stroke-width="0.1" text-anchor="end">10<tspan font-size="2.9" dy="-1.7">-5</tspan></text>
<text x="215.2" y="37" font-family="'Liberation Sans', sans-serif" font-size="4.1" fill="#222" stroke="#222" stroke-width="0.1" text-anchor="end">10<tspan font-size="2.9" dy="-1.7">0</tspan></text>
<text x="267.6" y="29.1" font-family="'Liberation Sans', sans-serif" font-size="4.1" fill="#222" stroke="#222" stroke-width="0.1" text-anchor="end">10<tspan font-size="2.9" dy="-1.7">-1</tspan></text>
<text x="267.6" y="49.3" font-family="'Liberation Sans', sans-serif" font-size="4.1" fill="#222" stroke="#222" stroke-width="0.1" text-anchor="end">10<tspan font-size="2.9" dy="-1.7">-2</tspan></text>
<text x="320.8" y="14.5" font-family="'Liberation Sans', sans-serif" font-size="4.1" fill="#222" stroke="#222" stroke-width="0.1" text-anchor="end">10<tspan font-size="2.9" dy="-1.7">0</tspan></text>
<text x="320.8" y="36.8" font-family="'Liberation Sans', sans-serif" font-size="4.1" fill="#222" stroke="#222" stroke-width="0.1" text-anchor="end">10<tspan font-size="2.9" dy="-1.7">-2</tspan></text>
<text x="372.9" y="25.3" font-family="'Liberation Sans', sans-serif" font-size="4.1" fill="#222" stroke="#222" stroke-width="0.1" text-anchor="end">10<tspan font-size="2.9" dy="-1.7">-1</tspan></text>
<text x="372.9" y="46.1" font-family="'Liberation Sans', sans-serif" font-size="4.1" fill="#222" stroke="#222" stroke-width="0.1" text-anchor="end">10<tspan font-size="2.9" dy="-1.7">-2</tspan></text>
<text x="218.2" y="81.7" font-family="'Liberation Sans', sans-serif" font-size="4.1" fill="#222" stroke="#222" stroke-width="0.1" text-anchor="end">10<tspan font-size="2.9" dy="-1.7">0</tspan></text>
<text x="218.2" y="104.6" font-family="'Liberation Sans', sans-serif" font-size="4.1" fill="#222" stroke="#222" stroke-width="0.1" text-anchor="end">10<tspan font-size="2.9" dy="-1.7">-5</tspan></text>
<text x="269.2" y="99.1" font-family="'Liberation Sans', sans-serif" font-size="4.1" fill="#222" stroke="#222" stroke-width="0.1" text-anchor="end">10<tspan font-size="2.9" dy="-1.7">0</tspan></text>
<text x="322.2" y="89.9" font-family="'Liberation Sans', sans-serif" font-size="4.1" fill="#222" stroke="#222" stroke-width="0.1" text-anchor="end">10<tspan font-size="2.9" dy="-1.7">0</tspan></text>
<text x="375.7" y="70.3" font-family="'Liberation Sans', sans-serif" font-size="4.1" fill="#222" stroke="#222" stroke-width="0.1" text-anchor="end">10<tspan font-size="2.9" dy="-1.7">0</tspan></text>
<text x="375.7" y="102.2" font-family="'Liberation Sans', sans-serif" font-size="4.1" fill="#222" stroke="#222" stroke-width="0.1" text-anchor="end">10<tspan font-size="2.9" dy="-1.7">-5</tspan></text>
<rect x="170.2" y="31.6" width="21" height="14.7" fill="#fff" stroke="#b0b0b0" stroke-width="0.5"/>
<line x1="171.2" y1="34.7" x2="177.8" y2="34.7" stroke="#1a1a1a" stroke-width="0.55" stroke-dasharray="1.7,1.9"/>
<line x1="171.2" y1="38.8" x2="177.8" y2="38.8" stroke="#ee7048" stroke-width="1.35"/>
<line x1="171.2" y1="43.1" x2="177.8" y2="43.1" stroke="#3f8fdf" stroke-width="0.75"/>
<text x="178.7" y="35.95" font-family="'Liberation Sans', sans-serif" font-size="3.5" fill="#1a1a1a" text-anchor="start" stroke="#1a1a1a" stroke-width="0.2" textLength="11.4" lengthAdjust="spacingAndGlyphs">Gau. fit</text>
<text x="178.7" y="40.05" font-family="'Liberation Sans', sans-serif" font-size="3.5" fill="#1a1a1a" text-anchor="start" stroke="#1a1a1a" stroke-width="0.2" textLength="10.6" lengthAdjust="spacingAndGlyphs">full MC</text>
<text x="178.7" y="44.35" font-family="'Liberation Sans', sans-serif" font-size="3.5" fill="#1a1a1a" text-anchor="start" stroke="#1a1a1a" stroke-width="0.2" textLength="8" lengthAdjust="spacingAndGlyphs">RBM</text>
<rect x="170.7" y="87.8" width="22.2" height="14.1" fill="#fff" stroke="#b0b0b0" stroke-width="0.5"/>
<line x1="171.7" y1="90.6" x2="178.3" y2="90.6" stroke="#1a1a1a" stroke-width="0.55" stroke-dasharray="1.7,1.9"/>
<line x1="171.7" y1="94.9" x2="178.3" y2="94.9" stroke="#ee7048" stroke-width="1.35"/>
<line x1="171.7" y1="99.3" x2="178.3" y2="99.3" stroke="#3f8fdf" stroke-width="0.75"/>
<text x="179.2" y="91.85" font-family="'Liberation Sans', sans-serif" font-size="3.5" fill="#1a1a1a" text-anchor="start" stroke="#1a1a1a" stroke-width="0.2" textLength="11.4" lengthAdjust="spacingAndGlyphs">Gau. fit</text>
<text x="179.2" y="96.15" font-family="'Liberation Sans', sans-serif" font-size="3.5" fill="#1a1a1a" text-anchor="start" stroke="#1a1a1a" stroke-width="0.2" textLength="10.6" lengthAdjust="spacingAndGlyphs">full MC</text>
<text x="179.2" y="100.55" font-family="'Liberation Sans', sans-serif" font-size="3.5" fill="#1a1a1a" text-anchor="start" stroke="#1a1a1a" stroke-width="0.2" textLength="8" lengthAdjust="spacingAndGlyphs">RBM</text>
<text x="231.5" y="60" font-family="'Liberation Serif', serif" font-size="6.6" fill="#1a1a1a" text-anchor="start" textLength="108.2" lengthAdjust="spacingAndGlyphs">(a) marginal PDFs of large-scale modes</text>
<text x="231.2" y="116.2" font-family="'Liberation Serif', serif" font-size="6.6" fill="#1a1a1a" text-anchor="start" textLength="109.5" lengthAdjust="spacingAndGlyphs">(b) marginal PDFs of small-scale modes</text>
<defs>
<filter id="bl" x="-10%" y="-10%" width="120%" height="120%"><feGaussianBlur stdDeviation="0.45"/></filter>
<filter id="bl2" x="-10%" y="-10%" width="120%" height="120%"><feGaussianBlur stdDeviation="0.25"/></filter>
<pattern id="cl" width="6" height="6" patternUnits="userSpaceOnUse"><rect width="6" height="6" fill="#e6e6f4"/><rect x="1.33" y="3.05" width="0.6" height="0.6" fill="#8aa0d8"/><rect x="5.13" y="2.65" width="0.6" height="0.6" fill="#7a7fd0"/><rect x="3.39" y="5.09" width="0.6" height="0.6" fill="#6f74c4"/><rect x="1.45" y="1.31" width="0.6" height="0.6" fill="#6f74c4"/><rect x="3.03" y="3.08" width="0.6" height="0.6" fill="#6f74c4"/><rect x="3.58" y="0.84" width="0.6" height="0.6" fill="#9a8ed6"/><rect x="4.86" y="2.93" width="0.6" height="0.6" fill="#7a7fd0"/><rect x="3.76" y="0.36" width="0.6" height="0.6" fill="#7a7fd0"/><rect x="1.69" y="0.17" width="0.6" height="0.6" fill="#8aa0d8"/><rect x="2.65" y="4.03" width="0.6" height="0.6" fill="#6f74c4"/><rect x="4" y="5.16" width="0.6" height="0.6" fill="#6f74c4"/><rect x="4.08" y="3.23" width="0.6" height="0.6" fill="#9a8ed6"/><rect x="4.92" y="0.55" width="0.6" height="0.6" fill="#9a8ed6"/><rect x="2.77" y="1.44" width="0.6" height="0.6" fill="#6f74c4"/></pattern>
<pattern id="sp" width="8" height="8" patternUnits="userSpaceOnUse"><rect width="8" height="8" fill="#000"/><rect x="5.61" y="6.16" width="0.9" height="0.9" fill="#fff"/><rect x="3.03" y="6" width="0.9" height="0.9" fill="#fff"/><rect x="4.13" y="3.85" width="0.9" height="0.9" fill="#fff"/><rect x="2.93" y="1.67" width="0.9" height="0.9" fill="#fff"/><rect x="2.42" y="6.59" width="0.9" height="0.9" fill="#fff"/><rect x="0.21" y="2.01" width="0.9" height="0.9" fill="#fff"/><rect x="4.36" y="5.01" width="0.9" height="0.9" fill="#fff"/><rect x="5.03" y="2.35" width="0.9" height="0.9" fill="#fff"/><rect x="3.9" y="4.12" width="0.9" height="0.9" fill="#fff"/><rect x="0.75" y="4.72" width="0.9" height="0.9" fill="#fff"/><rect x="4.56" y="7.11" width="0.9" height="0.9" fill="#fff"/><rect x="1.92" y="0.9" width="0.9" height="0.9" fill="#fff"/><rect x="3.47" y="4.6" width="0.9" height="0.9" fill="#fff"/><rect x="3.48" y="2.48" width="0.9" height="0.9" fill="#fff"/><rect x="0.48" y="6.46" width="0.9" height="0.9" fill="#fff"/><rect x="0.14" y="3.08" width="0.9" height="0.9" fill="#fff"/><rect x="2.99" y="0.86" width="0.9" height="0.9" fill="#fff"/><rect x="4.36" y="5.48" width="0.9" height="0.9" fill="#fff"/><rect x="2.72" y="4.22" width="0.9" height="0.9" fill="#fff"/><rect x="3.97" y="6.64" width="0.9" height="0.9" fill="#fff"/><rect x="2.01" y="1.7" width="0.9" height="0.9" fill="#fff"/><rect x="0.26" y="0.05" width="0.9" height="0.9" fill="#fff"/><rect x="0.78" y="3.86" width="0.9" height="0.9" fill="#fff"/><rect x="6.83" y="6.99" width="0.9" height="0.9" fill="#fff"/><rect x="2.1" y="1.9" width="0.9" height="0.9" fill="#fff"/><rect x="4.97" y="7.06" width="0.9" height="0.9" fill="#fff"/><rect x="2.45" y="2.59" width="0.9" height="0.9" fill="#fff"/><rect x="1" y="6.2" width="0.9" height="0.9" fill="#fff"/><rect x="2.71" y="6.26" width="0.9" height="0.9" fill="#fff"/><rect x="2.78" y="6.24" width="0.9" height="0.9" fill="#fff"/><rect x="4.9" y="0.74" width="0.9" height="0.9" fill="#fff"/><rect x="7" y="5.84" width="0.9" height="0.9" fill="#fff"/><rect x="1.95" y="4.57" width="0.9" height="0.9" fill="#fff"/><rect x="5.15" y="6.74" width="0.9" height="0.9" fill="#fff"/></pattern>
<mask id="spm" maskUnits="userSpaceOnUse" x="0" y="0" width="448" height="252"><rect width="448" height="252" fill="url(#sp)"/></mask>
<pattern id="bd" width="8" height="8" patternUnits="userSpaceOnUse"><rect x="3.15" y="1.86" width="0.7" height="0.7" fill="#4f9ad8"/><rect x="3.95" y="0.08" width="0.7" height="0.7" fill="#8a7ad0"/><rect x="7.11" y="2.27" width="0.7" height="0.7" fill="#8a7ad0"/><rect x="4.43" y="4.55" width="0.7" height="0.7" fill="#5a6cc8"/><rect x="4.56" y="2.39" width="0.7" height="0.7" fill="#4f9ad8"/><rect x="4.89" y="2.54" width="0.7" height="0.7" fill="#4f9ad8"/><rect x="5.31" y="0.16" width="0.7" height="0.7" fill="#5a6cc8"/></pattern>
<clipPath id="jc0"><rect x="40" y="135" width="27.4" height="28.1"/></clipPath>
<clipPath id="jc1"><rect x="78.6" y="135" width="28.3" height="28.1"/></clipPath>
<clipPath id="jc2"><rect x="117.3" y="135" width="28" height="28.1"/></clipPath>
<clipPath id="jc3"><rect x="156" y="135" width="28.6" height="28.1"/></clipPath>
<clipPath id="jc4"><rect x="195.3" y="135" width="28.4" height="28.1"/></clipPath>
<clipPath id="jc5"><rect x="234" y="135" width="27.9" height="28.1"/></clipPath>
<clipPath id="jc6"><rect x="273" y="135" width="27.9" height="28.1"/></clipPath>
<clipPath id="jc7"><rect x="311.3" y="135" width="28.7" height="28.1"/></clipPath>
<clipPath id="jc8"><rect x="351.1" y="135" width="28.2" height="28.1"/></clipPath>
<clipPath id="jc9"><rect x="390" y="135" width="27.6" height="28.1"/></clipPath>
<clipPath id="jc10"><rect x="40.7" y="201" width="25.7" height="29.1"/></clipPath>
<clipPath id="jc11"><rect x="78.9" y="201" width="26.2" height="29.1"/></clipPath>
<clipPath id="jc12"><rect x="117.6" y="201" width="28" height="29.1"/></clipPath>
<clipPath id="jc13"><rect x="156" y="201" width="26.4" height="29.1"/></clipPath>
<clipPath id="jc14"><rect x="196" y="201" width="26.9" height="29.1"/></clipPath>
<clipPath id="jc15"><rect x="235.1" y="201" width="26" height="29.1"/></clipPath>
<clipPath id="jc16"><rect x="271.9" y="201" width="27.5" height="29.1"/></clipPath>
<clipPath id="jc17"><rect x="311" y="201" width="28.7" height="29.1"/></clipPath>
<clipPath id="jc18"><rect x="351.4" y="201" width="26.5" height="29.1"/></clipPath>
<clipPath id="jc19"><rect x="391.4" y="201" width="25.7" height="29.1"/></clipPath>
</defs>
<g clip-path="url(#jc0)">
<path d="M40.27,146.8 C40.82,145.44 42.33,144.32 43.56,143.15 C44.8,141.98 46.17,140.67 47.67,139.78 C49.18,138.89 50.96,138.23 52.6,137.81 C54.25,137.39 55.89,137.06 57.54,137.25 C59.18,137.44 61.1,137.9 62.47,138.93 C63.84,139.96 65.07,141.74 65.76,143.43 C66.44,145.12 66.58,147.18 66.58,149.05 C66.58,150.92 66.44,152.98 65.76,154.67 C65.07,156.36 63.84,158.14 62.47,159.17 C61.1,160.2 59.18,160.62 57.54,160.85 C55.89,161.09 54.25,160.99 52.6,160.57 C50.96,160.15 49.18,159.26 47.67,158.32 C46.17,157.39 44.8,156.12 43.56,154.95 C42.33,153.78 40.82,152.66 40.27,151.3 C39.73,149.94 39.73,148.16 40.27,146.8Z" fill="#f1f1f9"/>
<path d="M44.05,147.44 C44.44,146.46 45.53,145.65 46.42,144.81 C47.3,143.96 48.29,143.02 49.38,142.38 C50.46,141.74 51.74,141.27 52.93,140.96 C54.11,140.66 55.29,140.42 56.48,140.56 C57.66,140.69 59.04,141.03 60.03,141.77 C61.01,142.51 61.9,143.79 62.4,145.01 C62.89,146.22 62.99,147.71 62.99,149.06 C62.99,150.4 62.89,151.89 62.4,153.1 C61.9,154.32 61.01,155.6 60.03,156.34 C59.04,157.08 57.66,157.38 56.48,157.55 C55.29,157.72 54.11,157.65 52.93,157.35 C51.74,157.05 50.46,156.41 49.38,155.73 C48.29,155.06 47.3,154.15 46.42,153.3 C45.53,152.46 44.44,151.65 44.05,150.67 C43.65,149.7 43.65,148.41 44.05,147.44Z" fill="#e6e6f4"/>
<g filter="url(#bl2)">
<path fill="#7292d4" d="M55.64 137.79h.75v.75h-.75zM56.19 137.54h.75v.75h-.75zM55.48 138.4h.75v.75h-.75zM57.61 138.62h.75v.75h-.75zM55.61 139.42h.75v.75h-.75zM57.8 139.2h.75v.75h-.75zM52.92 139.81h.75v.75h-.75zM54.82 139.9h.75v.75h-.75zM54.65 140.98h.75v.75h-.75zM56 140.79h.75v.75h-.75zM46.37 141.58h.75v.75h-.75zM49.15 141.49h.75v.75h-.75zM50.59 141.85h.75v.75h-.75zM53.07 142.56h.75v.75h-.75zM62.85 142.64h.75v.75h-.75zM63.42 142.6h.75v.75h-.75zM49.94 143.31h.75v.75h-.75zM52.31 143.07h.75v.75h-.75zM59.49 143h.75v.75h-.75zM52.02 144.02h.75v.75h-.75zM53.65 143.78h.75v.75h-.75zM57.89 144.11h.75v.75h-.75zM58.54 143.84h.75v.75h-.75zM60.87 144.1h.75v.75h-.75zM46.49 144.71h.75v.75h-.75zM47.61 144.76h.75v.75h-.75zM48.16 144.74h.75v.75h-.75zM54.59 144.89h.75v.75h-.75zM57.88 144.67h.75v.75h-.75zM47.24 145.37h.75v.75h-.75zM48.94 145.75h.75v.75h-.75zM52.92 145.45h.75v.75h-.75zM55.24 145.58h.75v.75h-.75zM61.2 145.37h.75v.75h-.75zM55.6 146.21h.75v.75h-.75zM61.66 146.6h.75v.75h-.75zM41.81 147.18h.75v.75h-.75zM45.63 147.11h.75v.75h-.75zM49.65 147.18h.75v.75h-.75zM51.4 147.18h.75v.75h-.75zM53.73 146.95h.75v.75h-.75zM55.23 147.27h.75v.75h-.75zM64.21 147.28h.75v.75h-.75zM40.92 148.13h.75v.75h-.75zM43.37 147.86h.75v.75h-.75zM53.05 148.21h.75v.75h-.75zM53.64 147.98h.75v.75h-.75zM59.26 148.25h.75v.75h-.75zM62.82 148.1h.75v.75h-.75zM41.67 149.03h.75v.75h-.75zM48.39 148.88h.75v.75h-.75zM50.43 148.72h.75v.75h-.75zM46.45 149.57h.75v.75h-.75zM49.19 149.47h.75v.75h-.75zM60.9 149.77h.75v.75h-.75zM64.96 149.8h.75v.75h-.75zM44.95 150.63h.75v.75h-.75zM53.92 150.44h.75v.75h-.75zM57.64 150.5h.75v.75h-.75zM45.6 151.43h.75v.75h-.75zM53.22 150.97h.75v.75h-.75zM55.58 151.3h.75v.75h-.75zM56.24 151.19h.75v.75h-.75zM58.69 151.12h.75v.75h-.75zM61.09 151.45h.75v.75h-.75zM44.37 152.03h.75v.75h-.75zM47.63 152.13h.75v.75h-.75zM51.4 152.09h.75v.75h-.75zM56.13 151.89h.75v.75h-.75zM56.83 151.87h.75v.75h-.75zM61.96 151.92h.75v.75h-.75zM62.6 152.13h.75v.75h-.75zM53.74 152.85h.75v.75h-.75zM62.81 152.76h.75v.75h-.75zM59.2 153.84h.75v.75h-.75zM53.98 154.33h.75v.75h-.75zM54.76 154.25h.75v.75h-.75zM64.23 154.31h.75v.75h-.75zM46.38 156.23h.75v.75h-.75zM48.93 156.14h.75v.75h-.75zM61.12 155.88h.75v.75h-.75zM58.77 156.7h.75v.75h-.75zM63.23 156.87h.75v.75h-.75zM53.73 157.64h.75v.75h-.75zM56.17 157.68h.75v.75h-.75zM58.36 157.74h.75v.75h-.75zM56.44 158.33h.75v.75h-.75zM62.45 158.43h.75v.75h-.75zM61.74 159.14h.75v.75h-.75z"/>
<path fill="#8c84d0" d="M56.29 138.43h.75v.75h-.75zM60.34 138.5h.75v.75h-.75zM53.05 139.31h.75v.75h-.75zM57.06 138.98h.75v.75h-.75zM48.03 139.76h.75v.75h-.75zM62.52 140.77h.75v.75h-.75zM63.31 140.92h.75v.75h-.75zM49.22 142.35h.75v.75h-.75zM51.64 142.19h.75v.75h-.75zM54.58 142.29h.75v.75h-.75zM55.27 142.63h.75v.75h-.75zM52.98 143.19h.75v.75h-.75zM56.14 143.44h.75v.75h-.75zM60.06 143.14h.75v.75h-.75zM62.51 143.17h.75v.75h-.75zM49.01 144.04h.75v.75h-.75zM60.05 143.9h.75v.75h-.75zM52.25 144.9h.75v.75h-.75zM58.72 145h.75v.75h-.75zM64.03 144.87h.75v.75h-.75zM45.83 145.68h.75v.75h-.75zM48.37 145.53h.75v.75h-.75zM53.87 145.84h.75v.75h-.75zM57.01 145.5h.75v.75h-.75zM63.35 145.67h.75v.75h-.75zM46.47 146.24h.75v.75h-.75zM49.69 146.26h.75v.75h-.75zM56.22 146.21h.75v.75h-.75zM64.79 146.28h.75v.75h-.75zM48.45 147.03h.75v.75h-.75zM52.04 147.44h.75v.75h-.75zM57.6 147.33h.75v.75h-.75zM65.18 147.09h.75v.75h-.75zM48.36 148.14h.75v.75h-.75zM43.27 148.63h.75v.75h-.75zM47.35 148.65h.75v.75h-.75zM51.59 148.93h.75v.75h-.75zM52.05 148.9h.75v.75h-.75zM58.73 148.89h.75v.75h-.75zM47.19 149.59h.75v.75h-.75zM56.94 150.58h.75v.75h-.75zM44.14 151.12h.75v.75h-.75zM44.97 151.12h.75v.75h-.75zM48.07 151.11h.75v.75h-.75zM51.55 151.33h.75v.75h-.75zM59.18 151.26h.75v.75h-.75zM60.96 151.8h.75v.75h-.75zM52.11 152.94h.75v.75h-.75zM55.62 152.67h.75v.75h-.75zM56.88 152.94h.75v.75h-.75zM45.59 153.63h.75v.75h-.75zM49.05 153.83h.75v.75h-.75zM52.14 153.73h.75v.75h-.75zM56.28 153.8h.75v.75h-.75zM43.56 154.55h.75v.75h-.75zM48.2 154.19h.75v.75h-.75zM49.57 154.37h.75v.75h-.75zM56.24 154.46h.75v.75h-.75zM58.62 154.35h.75v.75h-.75zM62.65 154.61h.75v.75h-.75zM44.15 155.36h.75v.75h-.75zM46.4 155.37h.75v.75h-.75zM54.02 155.05h.75v.75h-.75zM54.46 155.09h.75v.75h-.75zM57.91 155.15h.75v.75h-.75zM60.34 155.02h.75v.75h-.75zM63.6 155.27h.75v.75h-.75zM47.26 155.9h.75v.75h-.75zM52.17 156.85h.75v.75h-.75zM53.08 156.75h.75v.75h-.75zM54.78 156.64h.75v.75h-.75zM51.37 157.71h.75v.75h-.75zM49.58 158.95h.75v.75h-.75zM58.53 159.27h.75v.75h-.75zM60.33 159.3h.75v.75h-.75zM51.17 159.89h.75v.75h-.75zM52.13 160.05h.75v.75h-.75zM55.55 159.86h.75v.75h-.75z"/>
<path fill="#6670c4" d="M54.45 139.21h.75v.75h-.75zM51.21 140.69h.75v.75h-.75zM55.19 140.78h.75v.75h-.75zM60.93 140.94h.75v.75h-.75zM52.35 141.5h.75v.75h-.75zM52.76 141.42h.75v.75h-.75zM54.53 141.83h.75v.75h-.75zM58.37 141.85h.75v.75h-.75zM46.4 142.48h.75v.75h-.75zM60.82 142.21h.75v.75h-.75zM44.02 143.25h.75v.75h-.75zM46.61 143.33h.75v.75h-.75zM54.04 143.21h.75v.75h-.75zM54.38 143.16h.75v.75h-.75zM57.91 143.13h.75v.75h-.75zM64.06 143.02h.75v.75h-.75zM48.43 143.78h.75v.75h-.75zM50.55 143.92h.75v.75h-.75zM51.26 144.04h.75v.75h-.75zM52.91 144.18h.75v.75h-.75zM55.24 143.8h.75v.75h-.75zM63.46 143.97h.75v.75h-.75zM45.16 144.65h.75v.75h-.75zM62.56 144.95h.75v.75h-.75zM65.91 144.74h.75v.75h-.75zM51.35 145.84h.75v.75h-.75zM52.07 145.4h.75v.75h-.75zM59.54 145.36h.75v.75h-.75zM64.07 145.43h.75v.75h-.75zM51.45 146.35h.75v.75h-.75zM54.71 146.64h.75v.75h-.75zM64.07 146.22h.75v.75h-.75zM65.72 146.26h.75v.75h-.75zM44.25 147.08h.75v.75h-.75zM44.81 147.04h.75v.75h-.75zM48.93 147.38h.75v.75h-.75zM50.72 147.42h.75v.75h-.75zM61.9 146.96h.75v.75h-.75zM63.37 147.3h.75v.75h-.75zM44.78 148.07h.75v.75h-.75zM48.85 147.88h.75v.75h-.75zM50.82 148.06h.75v.75h-.75zM51.21 147.93h.75v.75h-.75zM53.08 148.66h.75v.75h-.75zM55.97 148.95h.75v.75h-.75zM57.22 148.71h.75v.75h-.75zM62.51 148.96h.75v.75h-.75zM49.99 149.67h.75v.75h-.75zM44.29 150.25h.75v.75h-.75zM45.95 150.56h.75v.75h-.75zM49.02 150.55h.75v.75h-.75zM51.65 150.38h.75v.75h-.75zM65.62 150.35h.75v.75h-.75zM47.18 151h.75v.75h-.75zM49.85 151.97h.75v.75h-.75zM57.58 151.76h.75v.75h-.75zM52.9 152.86h.75v.75h-.75zM44.37 153.61h.75v.75h-.75zM44.93 153.63h.75v.75h-.75zM47.41 153.36h.75v.75h-.75zM48.38 153.71h.75v.75h-.75zM49.83 153.6h.75v.75h-.75zM53.94 153.52h.75v.75h-.75zM54.72 153.44h.75v.75h-.75zM61.24 153.75h.75v.75h-.75zM55.63 154.22h.75v.75h-.75zM57.23 154.29h.75v.75h-.75zM60.1 154.32h.75v.75h-.75zM61.59 154.19h.75v.75h-.75zM45.06 155.02h.75v.75h-.75zM49.78 155.4h.75v.75h-.75zM61.89 155.86h.75v.75h-.75zM53.9 156.87h.75v.75h-.75zM55.49 157.04h.75v.75h-.75zM56.11 156.89h.75v.75h-.75zM50.79 158.38h.75v.75h-.75zM53.81 160.07h.75v.75h-.75z"/>
<path fill="#7680cc" d="M56.43 139.4h.75v.75h-.75zM49.75 139.91h.75v.75h-.75zM56.79 140.06h.75v.75h-.75zM59.32 139.99h.75v.75h-.75zM47.52 140.72h.75v.75h-.75zM50.84 141.02h.75v.75h-.75zM53.78 140.86h.75v.75h-.75zM56.4 141.77h.75v.75h-.75zM61.03 141.49h.75v.75h-.75zM64.14 141.67h.75v.75h-.75zM52.32 142.5h.75v.75h-.75zM56.3 142.38h.75v.75h-.75zM60.04 142.16h.75v.75h-.75zM45.19 143.01h.75v.75h-.75zM50.49 143.44h.75v.75h-.75zM45.13 144.25h.75v.75h-.75zM56.15 143.86h.75v.75h-.75zM49.1 144.83h.75v.75h-.75zM53.98 144.81h.75v.75h-.75zM59.53 144.66h.75v.75h-.75zM63.29 145h.75v.75h-.75zM41.59 145.56h.75v.75h-.75zM44.39 145.42h.75v.75h-.75zM49.86 145.57h.75v.75h-.75zM50.52 145.46h.75v.75h-.75zM54.61 145.56h.75v.75h-.75zM43.54 146.52h.75v.75h-.75zM44.99 146.25h.75v.75h-.75zM48.23 146.32h.75v.75h-.75zM50.73 146.17h.75v.75h-.75zM52.78 146.43h.75v.75h-.75zM52.84 147.35h.75v.75h-.75zM57.09 147.39h.75v.75h-.75zM58.77 147.09h.75v.75h-.75zM59.55 146.97h.75v.75h-.75zM54.78 148.01h.75v.75h-.75zM63.36 147.93h.75v.75h-.75zM42.49 148.63h.75v.75h-.75zM54.41 148.92h.75v.75h-.75zM60.76 148.83h.75v.75h-.75zM41.55 149.45h.75v.75h-.75zM45.14 149.4h.75v.75h-.75zM48.07 149.67h.75v.75h-.75zM53.03 149.56h.75v.75h-.75zM57.82 149.78h.75v.75h-.75zM62.51 149.38h.75v.75h-.75zM65.63 149.62h.75v.75h-.75zM50.66 150.28h.75v.75h-.75zM53.11 150.26h.75v.75h-.75zM54.39 150.45h.75v.75h-.75zM56.38 150.37h.75v.75h-.75zM60.12 150.16h.75v.75h-.75zM61.07 150.44h.75v.75h-.75zM63.98 150.46h.75v.75h-.75zM66.4 150.19h.75v.75h-.75zM40.97 151.23h.75v.75h-.75zM44.83 152.17h.75v.75h-.75zM45.64 152.14h.75v.75h-.75zM48.33 152.07h.75v.75h-.75zM53.02 151.91h.75v.75h-.75zM55.37 151.79h.75v.75h-.75zM47.59 152.78h.75v.75h-.75zM49.73 152.92h.75v.75h-.75zM58.7 152.7h.75v.75h-.75zM53.13 153.54h.75v.75h-.75zM58.36 153.57h.75v.75h-.75zM60.33 153.49h.75v.75h-.75zM48.86 154.45h.75v.75h-.75zM53.1 154.18h.75v.75h-.75zM61.7 155.35h.75v.75h-.75zM65.09 155.06h.75v.75h-.75zM50.71 156.16h.75v.75h-.75zM54.55 156.13h.75v.75h-.75zM55.42 155.86h.75v.75h-.75zM57.19 156.13h.75v.75h-.75zM58.62 155.99h.75v.75h-.75zM49.16 156.77h.75v.75h-.75zM49.57 156.88h.75v.75h-.75zM50.69 156.95h.75v.75h-.75zM54.76 158.3h.75v.75h-.75zM61.62 158.42h.75v.75h-.75zM53.6 159.31h.75v.75h-.75zM59.19 160.19h.75v.75h-.75z"/>
<path fill="#9c98da" d="M51.6 140.19h.75v.75h-.75zM58.44 140h.75v.75h-.75zM60.95 140.22h.75v.75h-.75zM61.61 139.94h.75v.75h-.75zM57.7 141.02h.75v.75h-.75zM59.51 140.59h.75v.75h-.75zM45.57 141.72h.75v.75h-.75zM53.56 141.83h.75v.75h-.75zM55.17 141.44h.75v.75h-.75zM56.98 141.48h.75v.75h-.75zM57.76 141.48h.75v.75h-.75zM48.17 142.31h.75v.75h-.75zM50.02 142.62h.75v.75h-.75zM50.63 142.17h.75v.75h-.75zM54.04 142.5h.75v.75h-.75zM59.42 142.34h.75v.75h-.75zM56.78 143.2h.75v.75h-.75zM63.37 143.29h.75v.75h-.75zM47.59 143.86h.75v.75h-.75zM50.59 144.82h.75v.75h-.75zM52.81 144.83h.75v.75h-.75zM55.21 145.02h.75v.75h-.75zM60.11 144.93h.75v.75h-.75zM60.88 144.8h.75v.75h-.75zM46.7 145.35h.75v.75h-.75zM56.41 145.64h.75v.75h-.75zM57.73 145.85h.75v.75h-.75zM45.88 146.65h.75v.75h-.75zM47.61 146.38h.75v.75h-.75zM48.93 146.56h.75v.75h-.75zM52.2 146.37h.75v.75h-.75zM56.83 146.5h.75v.75h-.75zM62.74 146.57h.75v.75h-.75zM47.43 146.96h.75v.75h-.75zM54.79 147.44h.75v.75h-.75zM60.21 147.42h.75v.75h-.75zM45.68 148.19h.75v.75h-.75zM52.29 147.75h.75v.75h-.75zM55.99 148.16h.75v.75h-.75zM60.92 147.94h.75v.75h-.75zM64.96 147.87h.75v.75h-.75zM65.57 147.88h.75v.75h-.75zM57.62 149.01h.75v.75h-.75zM61.83 148.77h.75v.75h-.75zM44.4 149.76h.75v.75h-.75zM53.77 149.6h.75v.75h-.75zM56.43 149.48h.75v.75h-.75zM47.34 150.5h.75v.75h-.75zM48.32 150.41h.75v.75h-.75zM49.86 150.31h.75v.75h-.75zM52.38 150.23h.75v.75h-.75zM55.17 150.36h.75v.75h-.75zM46.66 151.21h.75v.75h-.75zM57.96 151.19h.75v.75h-.75zM60.1 151.4h.75v.75h-.75zM65.68 151.11h.75v.75h-.75zM43.5 151.78h.75v.75h-.75zM52.33 151.93h.75v.75h-.75zM59.35 152.05h.75v.75h-.75zM63.5 151.75h.75v.75h-.75zM63.99 152.05h.75v.75h-.75zM46.49 152.65h.75v.75h-.75zM49.05 152.77h.75v.75h-.75zM50.37 152.57h.75v.75h-.75zM57.8 152.79h.75v.75h-.75zM59.6 152.59h.75v.75h-.75zM60.4 152.92h.75v.75h-.75zM61.58 152.61h.75v.75h-.75zM51.61 153.79h.75v.75h-.75zM64.07 153.82h.75v.75h-.75zM50.42 154.62h.75v.75h-.75zM52.36 154.58h.75v.75h-.75zM46.02 155.04h.75v.75h-.75zM49.1 155.09h.75v.75h-.75zM50.44 155.05h.75v.75h-.75zM51.48 155.01h.75v.75h-.75zM56.36 155.21h.75v.75h-.75zM58.53 155.28h.75v.75h-.75zM51.39 155.96h.75v.75h-.75zM59.58 156.02h.75v.75h-.75zM47.18 156.63h.75v.75h-.75zM57.17 156.76h.75v.75h-.75zM59.45 156.76h.75v.75h-.75zM47.38 157.81h.75v.75h-.75zM49.89 157.6h.75v.75h-.75zM55.19 157.35h.75v.75h-.75zM61.92 157.56h.75v.75h-.75zM49.83 158.5h.75v.75h-.75zM52.87 158.25h.75v.75h-.75zM59.37 158.46h.75v.75h-.75zM60.18 158.62h.75v.75h-.75zM61.03 158.5h.75v.75h-.75zM51.23 159.44h.75v.75h-.75zM57.05 159.07h.75v.75h-.75zM54.84 160.24h.75v.75h-.75z"/>
</g>
<g filter="url(#bl)">
<path d="M40,146.52 C40.91,145.3 43.52,144.98 45.48,144.27 C47.44,143.57 50.14,142.45 51.78,142.31 C53.43,142.17 54.39,142.77 55.34,143.43 C56.3,144.09 57.08,145.3 57.54,146.24 C57.99,147.18 58.08,148.11 58.08,149.05 C58.08,149.99 57.99,150.92 57.54,151.86 C57.08,152.8 56.3,154.01 55.34,154.67 C54.39,155.33 53.43,155.93 51.78,155.79 C50.14,155.65 47.44,154.53 45.48,153.83 C43.52,153.12 40.91,152.8 40,151.58 C39.09,150.36 39.09,147.74 40,146.52Z" fill="#b9e1da"/>
<path d="M40,147.36 C40.91,146.52 43.65,146.19 45.48,145.68 C47.31,145.16 49.5,144.32 50.96,144.27 C52.42,144.23 53.43,144.88 54.25,145.4 C55.07,145.91 55.57,146.76 55.89,147.36 C56.21,147.97 56.17,148.49 56.17,149.05 C56.17,149.61 56.21,150.13 55.89,150.74 C55.57,151.34 55.07,152.19 54.25,152.7 C53.43,153.22 52.42,153.87 50.96,153.83 C49.5,153.78 47.31,152.94 45.48,152.42 C43.65,151.91 40.91,151.58 40,150.74 C39.09,149.89 39.09,148.21 40,147.36Z" fill="#d7eeba"/>
<path d="M40,147.93 C40.91,147.41 43.84,147.41 45.48,147.08 C47.12,146.76 48.63,146.05 49.86,145.96 C51.1,145.87 52.15,146.19 52.88,146.52 C53.61,146.85 53.97,147.5 54.25,147.93 C54.52,148.35 54.52,148.68 54.52,149.05 C54.52,149.42 54.52,149.75 54.25,150.17 C53.97,150.6 53.61,151.25 52.88,151.58 C52.15,151.91 51.1,152.23 49.86,152.14 C48.63,152.05 47.12,151.34 45.48,151.02 C43.84,150.69 40.91,150.69 40,150.17 C39.09,149.66 39.09,148.44 40,147.93Z" fill="#faf3ad"/>
<path d="M41.1,149.05 L50.41,149.05" fill="none" stroke="#f3a674" stroke-width="1.2" stroke-linecap="round" stroke-linejoin="round"/>
<ellipse cx="50.96" cy="149.05" rx="2.74" ry="2.53" fill="#f3a674"/>
<ellipse cx="50.96" cy="149.05" rx="2.06" ry="1.97" fill="#dc6276"/>
<ellipse cx="50.96" cy="149.05" rx="1.1" ry="1.12" fill="#a5528f"/>
</g>
<g filter="url(#bl2)" opacity="0.8">
<path fill="#9aa8dc" d="M50.85 143.01h.7v.7h-.7zM55.19 145.02h.7v.7h-.7zM50.64 145.37h.7v.7h-.7zM51.29 145.37h.7v.7h-.7zM57.15 150.4h.7v.7h-.7zM56.01 151.17h.7v.7h-.7zM42.75 152.65h.7v.7h-.7zM43.15 152.74h.7v.7h-.7zM56.78 152.62h.7v.7h-.7zM47.39 154.22h.7v.7h-.7zM50.75 154.42h.7v.7h-.7z"/>
<path fill="#6fa8d0" d="M52.09 143.12h.7v.7h-.7zM53.65 143.44h.7v.7h-.7zM45.76 145.84h.7v.7h-.7zM46.5 146.51h.7v.7h-.7zM55.37 148.23h.7v.7h-.7zM57.09 148.18h.7v.7h-.7zM53.17 151.35h.7v.7h-.7zM56.81 152.16h.7v.7h-.7zM52.77 153.57h.7v.7h-.7zM51.21 155.04h.7v.7h-.7z"/>
<path fill="#7a9ad6" d="M53.15 143.38h.7v.7h-.7zM51.6 143.87h.7v.7h-.7zM53.16 144.23h.7v.7h-.7zM54.72 143.91h.7v.7h-.7zM46.78 144.67h.7v.7h-.7zM48.98 144.69h.7v.7h-.7zM51.95 144.96h.7v.7h-.7zM42.53 145.56h.7v.7h-.7zM52.8 146.26h.7v.7h-.7zM56.31 146.5h.7v.7h-.7zM40.83 147.05h.7v.7h-.7zM56.43 148.78h.7v.7h-.7zM41.09 151.03h.7v.7h-.7zM55.29 152.72h.7v.7h-.7z"/>
<path fill="#8a90d4" d="M54.02 144.19h.7v.7h-.7zM44.84 144.84h.7v.7h-.7zM47.56 145.69h.7v.7h-.7zM56.04 145.7h.7v.7h-.7zM47.46 146.45h.7v.7h-.7zM55.57 150.24h.7v.7h-.7zM54.5 151.22h.7v.7h-.7zM41.92 151.78h.7v.7h-.7zM51.2 154.19h.7v.7h-.7zM50.54 155.17h.7v.7h-.7z"/>
</g>
</g>
<rect x="40" y="135" width="27.4" height="28.1" fill="none" stroke="#bababa" stroke-width="0.85"/>
<g clip-path="url(#jc5)">
<path fill="#5a6ad0" d="M248.49 139.12h.95v.95h-.95zM253.37 139.14h.95v.95h-.95zM250.3 141.12h.95v.95h-.95zM258.14 140.99h.95v.95h-.95zM260.02 141.3h.95v.95h-.95zM251.23 141.71h.95v.95h-.95zM245.03 143.12h.95v.95h-.95zM245.46 142.87h.95v.95h-.95zM248.53 144.64h.95v.95h-.95zM259.97 147.47h.95v.95h-.95zM257.28 149.46h.95v.95h-.95zM241.17 153.52h.95v.95h-.95zM248.42 155.51h.95v.95h-.95zM243.71 157.05h.95v.95h-.95zM256.8 157.17h.95v.95h-.95zM254.05 159.13h.95v.95h-.95zM253.49 160.07h.95v.95h-.95z"/>
<path fill="#4a5cc0" d="M245.55 140.31h.95v.95h-.95zM255.24 141.68h.95v.95h-.95zM255.37 144.7h.95v.95h-.95zM253.47 147.78h.95v.95h-.95zM250.37 153.16h.95v.95h-.95zM259.23 154.54h.95v.95h-.95zM245.82 157.37h.95v.95h-.95zM256.09 157.36h.95v.95h-.95zM249.76 158.03h.95v.95h-.95zM250.73 159.23h.95v.95h-.95z"/>
<path fill="#4a8ad0" d="M248.48 141.28h.95v.95h-.95zM249.45 142.21h.95v.95h-.95zM244 143.14h.95v.95h-.95zM254.37 148.66h.95v.95h-.95zM251.15 152.25h.95v.95h-.95zM242.8 156.26h.95v.95h-.95z"/>
<path fill="#6a5cc0" d="M244.51 141.8h.95v.95h-.95zM248.72 141.88h.95v.95h-.95zM247.73 144.13h.95v.95h-.95zM255.13 146.51h.95v.95h-.95zM257.76 152.26h.95v.95h-.95zM253.09 153.31h.95v.95h-.95zM256.98 155.33h.95v.95h-.95zM253.49 157.84h.95v.95h-.95zM257 158.18h.95v.95h-.95z"/>
<path fill="#58b4c4" d="M244.98 144.9h.95v.95h-.95zM247.32 145.02h.95v.95h-.95zM239.96 145.47h.95v.95h-.95zM242.06 145.66h.95v.95h-.95zM243.86 145.52h.95v.95h-.95zM245.46 145.68h.95v.95h-.95zM246.78 145.63h.95v.95h-.95zM237.21 146.89h.95v.95h-.95zM248.62 146.85h.95v.95h-.95zM235.51 147.44h.95v.95h-.95zM249.79 149.74h.95v.95h-.95zM235.54 150.58h.95v.95h-.95zM237.07 151.25h.95v.95h-.95zM238.13 151.32h.95v.95h-.95zM239.28 151.63h.95v.95h-.95zM240.04 151.45h.95v.95h-.95zM248.49 151.46h.95v.95h-.95zM250.32 151.49h.95v.95h-.95zM240.71 152.64h.95v.95h-.95zM241.61 152.66h.95v.95h-.95zM244.61 152.64h.95v.95h-.95zM248.28 152.38h.95v.95h-.95zM242.74 153.46h.95v.95h-.95zM247.45 153.6h.95v.95h-.95zM247.57 154.03h.95v.95h-.95z"/>
<path fill="#f2e266" d="M245.02 145.77h.95v.95h-.95zM240.68 146.97h.95v.95h-.95zM242.63 146.63h.95v.95h-.95zM243.82 146.67h.95v.95h-.95zM244.93 146.91h.95v.95h-.95zM246 146.79h.95v.95h-.95zM236.47 147.73h.95v.95h-.95zM237.07 147.66h.95v.95h-.95zM237.93 147.66h.95v.95h-.95zM239.29 147.66h.95v.95h-.95zM240.13 147.69h.95v.95h-.95zM241.16 147.49h.95v.95h-.95zM247.58 148.88h.95v.95h-.95zM236.44 149.82h.95v.95h-.95zM243.07 149.73h.95v.95h-.95zM238.01 150.44h.95v.95h-.95zM240.11 150.79h.95v.95h-.95zM241.22 150.63h.95v.95h-.95zM241.89 150.65h.95v.95h-.95zM242.73 150.78h.95v.95h-.95zM243.71 150.53h.95v.95h-.95zM243.74 151.36h.95v.95h-.95zM245.04 151.25h.95v.95h-.95zM245.72 151.62h.95v.95h-.95z"/>
<path fill="#d62e3a" d="M245.01 147.76h.95v.95h-.95zM245.84 147.61h.95v.95h-.95zM246.46 147.52h.95v.95h-.95zM245.93 148.75h.95v.95h-.95zM246.73 148.4h.95v.95h-.95zM244.63 149.35h.95v.95h-.95zM245.65 149.46h.95v.95h-.95zM246.88 149.53h.95v.95h-.95zM244.66 150.61h.95v.95h-.95zM245.49 150.31h.95v.95h-.95zM246.63 150.26h.95v.95h-.95z"/>
<path fill="#f59548" d="M235.45 148.67h.95v.95h-.95zM236.36 148.81h.95v.95h-.95zM237.04 148.8h.95v.95h-.95zM238.25 148.8h.95v.95h-.95zM239.71 148.64h.95v.95h-.95zM240.79 148.61h.95v.95h-.95zM241.78 148.53h.95v.95h-.95zM235.02 149.51h.95v.95h-.95zM238.15 149.33h.95v.95h-.95zM238.75 149.47h.95v.95h-.95zM240 149.54h.95v.95h-.95zM240.82 149.39h.95v.95h-.95zM242.17 149.57h.95v.95h-.95zM243.88 149.31h.95v.95h-.95z"/>
</g>
<rect x="234" y="135" width="27.9" height="28.1" fill="none" stroke="#bababa" stroke-width="0.85"/>
<g clip-path="url(#jc10)">
<path d="M40.7,206.82 C41.56,202.94 43.91,202.94 45.84,202.46 C47.77,201.97 50.12,202.7 52.27,203.91 C54.41,205.12 56.46,207.69 58.69,209.73 C60.92,211.77 65.63,213.95 65.63,216.13 C65.63,218.31 60.92,220.74 58.69,222.82 C56.46,224.91 54.41,227.43 52.27,228.64 C50.12,229.86 47.77,230.58 45.84,230.1 C43.91,229.62 41.56,229.61 40.7,225.73 C39.84,221.85 39.84,210.7 40.7,206.82Z" fill="#f1f1f9"/>
<path d="M43.63,209.46 C44.25,206.67 45.95,206.67 47.34,206.32 C48.72,205.97 50.42,206.5 51.96,207.37 C53.5,208.24 54.98,210.09 56.59,211.56 C58.19,213.03 61.58,214.6 61.58,216.17 C61.58,217.74 58.19,219.49 56.59,220.99 C54.98,222.49 53.5,224.3 51.96,225.18 C50.42,226.05 48.72,226.57 47.34,226.23 C45.95,225.88 44.25,225.88 43.63,223.08 C43.02,220.29 43.02,212.26 43.63,209.46Z" fill="#e6e6f4"/>
<g filter="url(#bl2)">
<path fill="#7292d4" d="M44.76 203.47h.75v.75h-.75zM49.47 203.51h.75v.75h-.75zM50.39 204.51h.75v.75h-.75zM47.86 206.97h.75v.75h-.75zM49.46 206.72h.75v.75h-.75zM50.3 207.84h.75v.75h-.75zM51.3 207.8h.75v.75h-.75zM48.3 208.26h.75v.75h-.75zM56.66 208.43h.75v.75h-.75zM52.97 209.31h.75v.75h-.75zM49.08 209.97h.75v.75h-.75zM54.26 209.78h.75v.75h-.75zM47.45 210.95h.75v.75h-.75zM54.63 210.64h.75v.75h-.75zM43.31 211.63h.75v.75h-.75zM48.21 211.51h.75v.75h-.75zM48.04 212.45h.75v.75h-.75zM51.4 212.52h.75v.75h-.75zM60.18 212.56h.75v.75h-.75zM43.44 213h.75v.75h-.75zM45.93 213.43h.75v.75h-.75zM49.57 213.22h.75v.75h-.75zM57.7 214.22h.75v.75h-.75zM48.73 214.61h.75v.75h-.75zM51.18 214.55h.75v.75h-.75zM51.99 214.72h.75v.75h-.75zM53.68 214.93h.75v.75h-.75zM55.09 214.57h.75v.75h-.75zM57.02 214.74h.75v.75h-.75zM60.09 214.72h.75v.75h-.75zM63.27 214.57h.75v.75h-.75zM50.62 215.83h.75v.75h-.75zM64.06 216.43h.75v.75h-.75zM40.99 217.07h.75v.75h-.75zM55.41 216.99h.75v.75h-.75zM46.66 217.98h.75v.75h-.75zM47.47 218.21h.75v.75h-.75zM48.28 217.99h.75v.75h-.75zM50.47 217.88h.75v.75h-.75zM51.08 218.2h.75v.75h-.75zM57.45 218.03h.75v.75h-.75zM42.48 218.96h.75v.75h-.75zM45.47 218.63h.75v.75h-.75zM49.64 219.04h.75v.75h-.75zM41.94 219.51h.75v.75h-.75zM48.7 219.75h.75v.75h-.75zM53.49 219.36h.75v.75h-.75zM54.35 219.38h.75v.75h-.75zM55.45 219.62h.75v.75h-.75zM41.76 220.42h.75v.75h-.75zM49.77 220.57h.75v.75h-.75zM56.67 220.5h.75v.75h-.75zM44.95 221.19h.75v.75h-.75zM50.63 221.42h.75v.75h-.75zM51.93 221.2h.75v.75h-.75zM55.31 221.13h.75v.75h-.75zM56.84 221.38h.75v.75h-.75zM58.61 220.98h.75v.75h-.75zM45.14 222.02h.75v.75h-.75zM46.38 221.91h.75v.75h-.75zM48.76 221.84h.75v.75h-.75zM55.54 222.05h.75v.75h-.75zM59.32 222.07h.75v.75h-.75zM43.45 222.82h.75v.75h-.75zM54.72 222.74h.75v.75h-.75zM47.09 223.5h.75v.75h-.75zM48.03 223.8h.75v.75h-.75zM41.47 224.21h.75v.75h-.75zM48.17 224.62h.75v.75h-.75zM43.24 225.43h.75v.75h-.75zM47.28 225.36h.75v.75h-.75zM52.12 225.45h.75v.75h-.75zM41.07 225.84h.75v.75h-.75zM41.76 225.76h.75v.75h-.75zM48.99 225.78h.75v.75h-.75zM52.23 226.03h.75v.75h-.75zM49.12 226.97h.75v.75h-.75zM47.88 227.56h.75v.75h-.75zM52.74 227.7h.75v.75h-.75z"/>
<path fill="#6670c4" d="M48.33 203.44h.75v.75h-.75zM51.96 204.36h.75v.75h-.75zM44.87 206.13h.75v.75h-.75zM53.46 206.17h.75v.75h-.75zM44.28 206.82h.75v.75h-.75zM41.02 207.8h.75v.75h-.75zM49.09 207.72h.75v.75h-.75zM56.02 207.55h.75v.75h-.75zM48.66 208.52h.75v.75h-.75zM49.63 209.15h.75v.75h-.75zM56.71 209.2h.75v.75h-.75zM41.77 209.97h.75v.75h-.75zM51.88 210h.75v.75h-.75zM43.4 210.79h.75v.75h-.75zM50.52 210.82h.75v.75h-.75zM53.06 210.55h.75v.75h-.75zM43.95 211.67h.75v.75h-.75zM49.05 211.8h.75v.75h-.75zM52.34 211.69h.75v.75h-.75zM53.11 211.76h.75v.75h-.75zM43.31 212.37h.75v.75h-.75zM43.88 212.4h.75v.75h-.75zM46.4 212.27h.75v.75h-.75zM52.11 212.45h.75v.75h-.75zM45.05 213.11h.75v.75h-.75zM46.71 213.15h.75v.75h-.75zM58.36 213.41h.75v.75h-.75zM45.03 214.18h.75v.75h-.75zM45.62 213.81h.75v.75h-.75zM46.27 213.89h.75v.75h-.75zM48.28 214.73h.75v.75h-.75zM59.45 214.76h.75v.75h-.75zM42.67 215.61h.75v.75h-.75zM45.49 215.44h.75v.75h-.75zM51.24 215.8h.75v.75h-.75zM57.81 215.66h.75v.75h-.75zM59.41 215.37h.75v.75h-.75zM40.88 216.24h.75v.75h-.75zM46.54 216.2h.75v.75h-.75zM48.77 216.23h.75v.75h-.75zM50.56 216.44h.75v.75h-.75zM52.75 216.47h.75v.75h-.75zM57.55 216.53h.75v.75h-.75zM60.29 216.61h.75v.75h-.75zM61.05 216.33h.75v.75h-.75zM62.62 216.45h.75v.75h-.75zM43.32 217.18h.75v.75h-.75zM50.4 217.28h.75v.75h-.75zM53.94 216.96h.75v.75h-.75zM56.12 217.07h.75v.75h-.75zM48.9 218.18h.75v.75h-.75zM60.01 218.01h.75v.75h-.75zM41.88 218.8h.75v.75h-.75zM47.34 218.71h.75v.75h-.75zM56.29 218.97h.75v.75h-.75zM49.73 219.56h.75v.75h-.75zM51.3 219.68h.75v.75h-.75zM56.89 219.52h.75v.75h-.75zM57.9 219.38h.75v.75h-.75zM47.29 220.24h.75v.75h-.75zM48.14 220.59h.75v.75h-.75zM48.87 220.51h.75v.75h-.75zM51.23 220.44h.75v.75h-.75zM46.74 221.43h.75v.75h-.75zM53.47 221.23h.75v.75h-.75zM54.58 222.12h.75v.75h-.75zM56.78 221.81h.75v.75h-.75zM47.36 222.56h.75v.75h-.75zM48.27 222.61h.75v.75h-.75zM51.33 222.73h.75v.75h-.75zM50.32 223.69h.75v.75h-.75zM51.06 223.56h.75v.75h-.75zM56.2 223.85h.75v.75h-.75zM46.69 224.53h.75v.75h-.75zM47.29 224.53h.75v.75h-.75zM40.74 225.22h.75v.75h-.75zM45.92 225.4h.75v.75h-.75zM46.46 225.05h.75v.75h-.75zM50.52 225.04h.75v.75h-.75zM51.47 226.11h.75v.75h-.75zM54.41 226.22h.75v.75h-.75zM43.37 227.72h.75v.75h-.75zM45.82 228.59h.75v.75h-.75z"/>
<path fill="#9c98da" d="M51.21 203.74h.75v.75h-.75zM48.18 204.43h.75v.75h-.75zM44.05 205.17h.75v.75h-.75zM52.9 204.98h.75v.75h-.75zM45.54 206.13h.75v.75h-.75zM42.27 206.89h.75v.75h-.75zM46.36 206.8h.75v.75h-.75zM41.91 207.75h.75v.75h-.75zM44.01 207.7h.75v.75h-.75zM48.08 207.67h.75v.75h-.75zM42.68 208.48h.75v.75h-.75zM44.94 208.36h.75v.75h-.75zM52.87 208.35h.75v.75h-.75zM43.92 209.19h.75v.75h-.75zM50.57 209.04h.75v.75h-.75zM45.62 210h.75v.75h-.75zM46.28 210.8h.75v.75h-.75zM51.38 210.67h.75v.75h-.75zM51.93 210.74h.75v.75h-.75zM57.02 211.63h.75v.75h-.75zM59.2 211.82h.75v.75h-.75zM50.48 212.97h.75v.75h-.75zM59.12 213.38h.75v.75h-.75zM51.32 214.16h.75v.75h-.75zM52.7 214.05h.75v.75h-.75zM60.34 214.16h.75v.75h-.75zM40.72 214.85h.75v.75h-.75zM45.74 214.72h.75v.75h-.75zM47.13 214.56h.75v.75h-.75zM49.65 214.96h.75v.75h-.75zM54.48 214.61h.75v.75h-.75zM53.04 215.71h.75v.75h-.75zM56.68 215.74h.75v.75h-.75zM42.6 216.32h.75v.75h-.75zM44.08 216.24h.75v.75h-.75zM45.86 216.56h.75v.75h-.75zM55.91 216.45h.75v.75h-.75zM56.93 216.23h.75v.75h-.75zM59.35 216.62h.75v.75h-.75zM63.35 216.58h.75v.75h-.75zM42.42 217.42h.75v.75h-.75zM45.52 217.13h.75v.75h-.75zM51.13 217.13h.75v.75h-.75zM59.94 217.23h.75v.75h-.75zM61.13 217.07h.75v.75h-.75zM51.97 218.09h.75v.75h-.75zM54.55 217.97h.75v.75h-.75zM60.73 218.2h.75v.75h-.75zM52.25 218.97h.75v.75h-.75zM59.92 218.8h.75v.75h-.75zM60.86 218.72h.75v.75h-.75zM45.91 219.84h.75v.75h-.75zM47.54 219.67h.75v.75h-.75zM51.92 219.58h.75v.75h-.75zM58.6 219.37h.75v.75h-.75zM59.97 219.75h.75v.75h-.75zM44.18 220.48h.75v.75h-.75zM41.67 221.42h.75v.75h-.75zM45.92 221.09h.75v.75h-.75zM44.13 221.91h.75v.75h-.75zM45.87 221.97h.75v.75h-.75zM41.02 222.93h.75v.75h-.75zM44.11 223.54h.75v.75h-.75zM48.82 223.48h.75v.75h-.75zM41.12 224.24h.75v.75h-.75zM56.23 224.33h.75v.75h-.75zM51.5 225.2h.75v.75h-.75zM46.69 226.14h.75v.75h-.75zM46.53 228.52h.75v.75h-.75zM49.02 228.49h.75v.75h-.75zM49.57 228.46h.75v.75h-.75zM46.47 229.32h.75v.75h-.75zM48.2 229.21h.75v.75h-.75z"/>
<path fill="#8c84d0" d="M45.77 204.63h.75v.75h-.75zM48.91 204.62h.75v.75h-.75zM44.81 205.08h.75v.75h-.75zM50.42 205.44h.75v.75h-.75zM50.29 205.94h.75v.75h-.75zM52.9 205.79h.75v.75h-.75zM44.87 207.04h.75v.75h-.75zM45.94 207.37h.75v.75h-.75zM46.27 207.58h.75v.75h-.75zM49.91 207.64h.75v.75h-.75zM45.49 208.62h.75v.75h-.75zM46.65 208.61h.75v.75h-.75zM50.74 208.64h.75v.75h-.75zM55.98 208.54h.75v.75h-.75zM40.82 209.41h.75v.75h-.75zM41.52 209.39h.75v.75h-.75zM42.73 209.44h.75v.75h-.75zM46.66 209.13h.75v.75h-.75zM53.62 209.35h.75v.75h-.75zM54.45 209.39h.75v.75h-.75zM46.6 209.87h.75v.75h-.75zM49.81 209.88h.75v.75h-.75zM53.76 210.16h.75v.75h-.75zM40.85 210.61h.75v.75h-.75zM44.76 210.77h.75v.75h-.75zM58.43 210.66h.75v.75h-.75zM45.91 211.52h.75v.75h-.75zM49.74 211.64h.75v.75h-.75zM51.12 211.62h.75v.75h-.75zM56.04 211.36h.75v.75h-.75zM57.77 211.64h.75v.75h-.75zM45.72 212.17h.75v.75h-.75zM48.66 212.32h.75v.75h-.75zM50.37 212.39h.75v.75h-.75zM54.64 212.63h.75v.75h-.75zM51.97 213.35h.75v.75h-.75zM56.27 213.23h.75v.75h-.75zM53.83 213.92h.75v.75h-.75zM56.96 213.78h.75v.75h-.75zM52.74 214.61h.75v.75h-.75zM51.92 215.47h.75v.75h-.75zM53.55 215.66h.75v.75h-.75zM60.88 215.49h.75v.75h-.75zM64.17 215.55h.75v.75h-.75zM47.15 216.29h.75v.75h-.75zM48.11 216.41h.75v.75h-.75zM49.69 216.47h.75v.75h-.75zM53.47 216.54h.75v.75h-.75zM54.66 216.49h.75v.75h-.75zM55.26 216.53h.75v.75h-.75zM58.38 216.59h.75v.75h-.75zM44.3 217.4h.75v.75h-.75zM45.05 217.76h.75v.75h-.75zM46.42 218.61h.75v.75h-.75zM50.53 218.56h.75v.75h-.75zM55.53 218.67h.75v.75h-.75zM59.38 218.74h.75v.75h-.75zM55.95 219.69h.75v.75h-.75zM52.66 220.64h.75v.75h-.75zM56.05 220.49h.75v.75h-.75zM42.4 221.11h.75v.75h-.75zM52.85 220.97h.75v.75h-.75zM56.29 221.19h.75v.75h-.75zM49.77 222.15h.75v.75h-.75zM50.6 221.84h.75v.75h-.75zM53.82 222.59h.75v.75h-.75zM48.75 224.44h.75v.75h-.75zM50.56 224.48h.75v.75h-.75zM51.1 224.39h.75v.75h-.75zM48.12 225.19h.75v.75h-.75zM48.76 225h.75v.75h-.75zM49.58 225.43h.75v.75h-.75zM53.75 224.97h.75v.75h-.75zM45.88 226.1h.75v.75h-.75z"/>
<path fill="#7680cc" d="M42.75 205.92h.75v.75h-.75zM51.09 206.08h.75v.75h-.75zM43.41 206.71h.75v.75h-.75zM52.78 206.96h.75v.75h-.75zM47.52 207.82h.75v.75h-.75zM51.92 207.56h.75v.75h-.75zM41.9 208.4h.75v.75h-.75zM43.31 208.35h.75v.75h-.75zM51.89 208.54h.75v.75h-.75zM44.94 209.03h.75v.75h-.75zM47.45 209.1h.75v.75h-.75zM43.93 210.24h.75v.75h-.75zM44.7 209.97h.75v.75h-.75zM50.29 210h.75v.75h-.75zM51.09 209.82h.75v.75h-.75zM44.32 211.03h.75v.75h-.75zM53.69 210.58h.75v.75h-.75zM55.08 210.65h.75v.75h-.75zM56.05 210.84h.75v.75h-.75zM57.91 210.97h.75v.75h-.75zM42.38 211.65h.75v.75h-.75zM47.45 211.44h.75v.75h-.75zM53.95 211.36h.75v.75h-.75zM55.3 211.74h.75v.75h-.75zM41.81 212.51h.75v.75h-.75zM47.42 212.64h.75v.75h-.75zM55.35 212.49h.75v.75h-.75zM57.05 212.49h.75v.75h-.75zM47.37 213.16h.75v.75h-.75zM48.26 213.37h.75v.75h-.75zM48.82 213.37h.75v.75h-.75zM53.14 213.1h.75v.75h-.75zM53.91 213h.75v.75h-.75zM54.3 212.97h.75v.75h-.75zM57.85 213.09h.75v.75h-.75zM41.08 214.06h.75v.75h-.75zM43.14 213.88h.75v.75h-.75zM47.99 214.07h.75v.75h-.75zM48.68 213.82h.75v.75h-.75zM49.79 213.89h.75v.75h-.75zM52.28 214.06h.75v.75h-.75zM44.23 215.02h.75v.75h-.75zM56.08 214.94h.75v.75h-.75zM62.69 214.99h.75v.75h-.75zM43.92 215.59h.75v.75h-.75zM44.67 215.36h.75v.75h-.75zM51.18 216.32h.75v.75h-.75zM47.52 217.01h.75v.75h-.75zM54.52 217.15h.75v.75h-.75zM56.91 217.08h.75v.75h-.75zM59.42 217.27h.75v.75h-.75zM63.4 217h.75v.75h-.75zM41.46 217.83h.75v.75h-.75zM43.32 218.11h.75v.75h-.75zM49.73 217.79h.75v.75h-.75zM53.71 218.11h.75v.75h-.75zM56.25 217.85h.75v.75h-.75zM58.57 218.08h.75v.75h-.75zM59.31 218h.75v.75h-.75zM53.13 218.7h.75v.75h-.75zM53.55 218.89h.75v.75h-.75zM54.46 218.65h.75v.75h-.75zM56.92 218.82h.75v.75h-.75zM57.6 218.99h.75v.75h-.75zM58.43 218.82h.75v.75h-.75zM48.11 219.74h.75v.75h-.75zM53.06 219.77h.75v.75h-.75zM46.55 220.28h.75v.75h-.75zM49.53 221.38h.75v.75h-.75zM41.01 222.13h.75v.75h-.75zM47.4 221.8h.75v.75h-.75zM58.6 222.18h.75v.75h-.75zM48.8 222.99h.75v.75h-.75zM50.32 222.84h.75v.75h-.75zM52.18 222.98h.75v.75h-.75zM58.49 222.96h.75v.75h-.75zM53.48 223.74h.75v.75h-.75zM55.11 223.66h.75v.75h-.75zM43.52 224.49h.75v.75h-.75zM55.22 225.82h.75v.75h-.75zM44.94 226.92h.75v.75h-.75zM50.4 226.83h.75v.75h-.75zM51.07 226.91h.75v.75h-.75zM53.82 226.92h.75v.75h-.75zM49.04 227.74h.75v.75h-.75zM44.12 228.42h.75v.75h-.75zM47.5 229.35h.75v.75h-.75z"/>
</g>
<g filter="url(#bl)">
<path d="M43.27,211.78 C43.77,209.6 45,208.94 46.28,208.38 C47.55,207.81 49.44,207.68 50.9,208.38 C52.37,209.08 53.83,211.17 55.07,212.57 C56.3,213.96 58.3,215.36 58.3,216.76 C58.3,218.15 56.3,219.55 55.07,220.95 C53.83,222.34 52.37,224.4 50.9,225.14 C49.44,225.88 47.55,226.01 46.28,225.4 C45,224.79 43.77,223.74 43.27,221.47 C42.77,219.2 42.77,213.96 43.27,211.78Z" fill="#b9e1da"/>
<path d="M44.43,212.68 C44.84,210.86 45.87,210.31 46.93,209.84 C47.99,209.37 49.57,209.26 50.79,209.84 C52.01,210.42 53.23,212.17 54.26,213.33 C55.28,214.5 56.96,215.66 56.96,216.82 C56.96,217.99 55.28,219.15 54.26,220.32 C53.23,221.48 52.01,223.19 50.79,223.81 C49.57,224.43 47.99,224.53 46.93,224.03 C45.87,223.52 44.84,222.64 44.43,220.75 C44.01,218.86 44.01,214.5 44.43,212.68Z" fill="#d7eeba"/>
<path d="M45.74,213.69 C46.06,212.28 46.86,211.86 47.67,211.5 C48.49,211.13 49.71,211.05 50.66,211.5 C51.6,211.95 52.54,213.3 53.34,214.2 C54.13,215.1 55.43,216 55.43,216.9 C55.43,217.8 54.13,218.7 53.34,219.6 C52.54,220.5 51.6,221.82 50.66,222.3 C49.71,222.78 48.49,222.86 47.67,222.47 C46.86,222.07 46.06,221.4 45.74,219.94 C45.41,218.47 45.41,215.1 45.74,213.69Z" fill="#faf3ad"/>
<path d="M47.59,215.12 C47.78,214.3 48.24,214.05 48.72,213.84 C49.2,213.62 49.92,213.57 50.47,213.84 C51.02,214.1 51.58,214.89 52.04,215.42 C52.51,215.95 53.27,216.47 53.27,217 C53.27,217.53 52.51,218.06 52.04,218.59 C51.58,219.11 51.02,219.89 50.47,220.17 C49.92,220.45 49.2,220.5 48.72,220.27 C48.24,220.04 47.78,219.64 47.59,218.78 C47.4,217.93 47.4,215.95 47.59,215.12Z" fill="#f3a674"/>
<ellipse cx="50.21" cy="217.15" rx="1.93" ry="1.75" fill="#dc6276"/>
<ellipse cx="50.08" cy="217.15" rx="1.16" ry="1.05" fill="#a5528f"/>
</g>
<g filter="url(#bl2)" opacity="0.8">
<path fill="#9aa8dc" d="M48.95 209.14h.7v.7h-.7zM48.86 209.79h.7v.7h-.7zM46.48 210.63h.7v.7h-.7zM44.78 211.69h.7v.7h-.7zM51.93 211.83h.7v.7h-.7zM44.79 212.25h.7v.7h-.7zM43.3 213.4h.7v.7h-.7zM43.99 213.84h.7v.7h-.7zM44.75 216.17h.7v.7h-.7zM57.65 216.98h.7v.7h-.7zM55.11 220.22h.7v.7h-.7zM49.06 223.58h.7v.7h-.7zM46.68 224.46h.7v.7h-.7zM47.49 224.57h.7v.7h-.7z"/>
<path fill="#7a9ad6" d="M50.48 209.17h.7v.7h-.7zM54.46 214.13h.7v.7h-.7zM55.22 213.77h.7v.7h-.7zM43.3 214.58h.7v.7h-.7zM45.13 218.01h.7v.7h-.7zM43.5 220.28h.7v.7h-.7zM44.01 220.23h.7v.7h-.7zM52.01 221.37h.7v.7h-.7zM43.99 221.97h.7v.7h-.7zM46.34 222.15h.7v.7h-.7zM53.47 221.91h.7v.7h-.7zM50.44 222.7h.7v.7h-.7zM49.02 224.54h.7v.7h-.7z"/>
<path fill="#6fa8d0" d="M51.47 209.39h.7v.7h-.7zM47.48 210h.7v.7h-.7zM46.7 211.63h.7v.7h-.7zM53.46 211.53h.7v.7h-.7zM43.48 216.44h.7v.7h-.7zM56.84 216.3h.7v.7h-.7zM56.83 217.38h.7v.7h-.7zM45.13 218.63h.7v.7h-.7zM53.9 221.27h.7v.7h-.7zM46.26 222.72h.7v.7h-.7zM51.28 223.84h.7v.7h-.7zM48.33 224.25h.7v.7h-.7zM51.11 224.39h.7v.7h-.7z"/>
<path fill="#8a90d4" d="M50.4 210.14h.7v.7h-.7zM45.52 210.95h.7v.7h-.7zM52.72 211.78h.7v.7h-.7zM52.34 212.29h.7v.7h-.7zM45.09 213.1h.7v.7h-.7zM45.54 215h.7v.7h-.7zM56.31 215.77h.7v.7h-.7zM56.67 215.64h.7v.7h-.7zM56.1 217.31h.7v.7h-.7zM54.34 218.69h.7v.7h-.7zM52.98 220.2h.7v.7h-.7zM52.34 222.22h.7v.7h-.7z"/>
</g>
</g>
<rect x="40.7" y="201" width="25.7" height="29.1" fill="none" stroke="#bababa" stroke-width="0.85"/>
<g clip-path="url(#jc15)">
<path fill="#6a5cc0" d="M248.64 203.96h.95v.95h-.95zM252.72 206.92h.95v.95h-.95zM244.92 208.94h.95v.95h-.95zM239.87 209.7h.95v.95h-.95zM257.92 209.91h.95v.95h-.95zM257.12 210.85h.95v.95h-.95zM252.62 211.77h.95v.95h-.95zM255.46 218.68h.95v.95h-.95zM238.2 219.59h.95v.95h-.95zM239.34 220.05h.95v.95h-.95zM240.03 221.37h.95v.95h-.95zM255.1 221.46h.95v.95h-.95zM255.15 222.23h.95v.95h-.95zM239.12 223.35h.95v.95h-.95zM240.1 223.21h.95v.95h-.95zM255.64 224.16h.95v.95h-.95zM242.75 224.88h.95v.95h-.95zM239.36 225.84h.95v.95h-.95zM240.87 225.86h.95v.95h-.95zM249.59 227.02h.95v.95h-.95z"/>
<path fill="#4a5cc0" d="M243.19 207.07h.95v.95h-.95zM243.85 206.9h.95v.95h-.95zM246.85 208.19h.95v.95h-.95zM255.22 208.12h.95v.95h-.95zM249.83 209.09h.95v.95h-.95zM253.27 209.14h.95v.95h-.95zM239.01 211.81h.95v.95h-.95zM256.47 213.86h.95v.95h-.95zM240.07 218.58h.95v.95h-.95zM251.49 218.49h.95v.95h-.95zM239.29 221.28h.95v.95h-.95zM249.67 224.09h.95v.95h-.95zM245.83 226.24h.95v.95h-.95z"/>
<path fill="#4a8ad0" d="M247.47 208.23h.95v.95h-.95zM241.21 210.13h.95v.95h-.95zM242.31 209.88h.95v.95h-.95zM238.09 210.5h.95v.95h-.95zM240.41 211.04h.95v.95h-.95zM250.72 211.06h.95v.95h-.95zM252.39 210.97h.95v.95h-.95zM252.74 213.85h.95v.95h-.95zM255.37 213.92h.95v.95h-.95zM257.54 214.55h.95v.95h-.95zM253.63 220.36h.95v.95h-.95zM254.21 220.5h.95v.95h-.95zM241.93 223.4h.95v.95h-.95zM246.08 224.98h.95v.95h-.95zM246.63 225.71h.95v.95h-.95zM243.89 226.79h.95v.95h-.95zM245.8 226.79h.95v.95h-.95z"/>
<path fill="#5a6ad0" d="M248.71 207.74h.95v.95h-.95zM253.19 210.12h.95v.95h-.95zM254.29 209.82h.95v.95h-.95zM256.04 218.33h.95v.95h-.95zM243.28 221.46h.95v.95h-.95zM256.05 221.08h.95v.95h-.95zM247.93 223.2h.95v.95h-.95zM257.5 223.04h.95v.95h-.95zM248.72 224.16h.95v.95h-.95zM250.62 226.27h.95v.95h-.95z"/>
<path fill="#58b4c4" d="M245.79 209.68h.95v.95h-.95zM246.54 209.74h.95v.95h-.95zM243.92 210.86h.95v.95h-.95zM245.2 210.61h.95v.95h-.95zM247.76 210.56h.95v.95h-.95zM248.66 210.76h.95v.95h-.95zM240.98 211.6h.95v.95h-.95zM248.73 211.46h.95v.95h-.95zM240.82 213.54h.95v.95h-.95zM251.51 213.64h.95v.95h-.95zM240.02 214.83h.95v.95h-.95zM250.44 215.36h.95v.95h-.95zM240.89 216.43h.95v.95h-.95zM240.4 217.74h.95v.95h-.95zM251.49 217.4h.95v.95h-.95zM242.08 218.23h.95v.95h-.95zM241.02 219.08h.95v.95h-.95zM248.58 219.48h.95v.95h-.95zM249.73 219.19h.95v.95h-.95zM242.74 220.2h.95v.95h-.95zM243.91 220.27h.95v.95h-.95zM244.69 220.49h.95v.95h-.95zM246.05 220.33h.95v.95h-.95zM247.91 220.3h.95v.95h-.95zM248.9 220.38h.95v.95h-.95zM249.56 220.54h.95v.95h-.95zM243.83 221.36h.95v.95h-.95zM245.86 220.95h.95v.95h-.95zM246.86 221.26h.95v.95h-.95z"/>
<path fill="#a6d890" d="M245.81 210.95h.95v.95h-.95zM243.82 211.72h.95v.95h-.95zM245.85 211.57h.95v.95h-.95zM246.64 211.55h.95v.95h-.95zM248 211.61h.95v.95h-.95zM248.59 212.59h.95v.95h-.95zM241.82 213.61h.95v.95h-.95zM242.32 215.72h.95v.95h-.95zM241.97 216.28h.95v.95h-.95zM242.32 217.31h.95v.95h-.95zM249.48 217.59h.95v.95h-.95zM242.77 218.27h.95v.95h-.95zM247.95 218.45h.95v.95h-.95zM248.75 218.67h.95v.95h-.95zM244.12 219.63h.95v.95h-.95zM245.09 219.11h.95v.95h-.95zM245.74 219.11h.95v.95h-.95zM246.59 219.38h.95v.95h-.95zM248 219.37h.95v.95h-.95z"/>
<path fill="#f2e266" d="M243.71 212.87h.95v.95h-.95zM244.78 212.98h.95v.95h-.95zM245.6 212.87h.95v.95h-.95zM246.75 212.97h.95v.95h-.95zM247.76 212.89h.95v.95h-.95zM243.29 213.44h.95v.95h-.95zM244.01 213.55h.95v.95h-.95zM246.93 213.39h.95v.95h-.95zM247.46 213.39h.95v.95h-.95zM242.8 214.44h.95v.95h-.95zM248.95 216.48h.95v.95h-.95zM243.16 217.29h.95v.95h-.95zM247.69 217.29h.95v.95h-.95zM244.1 218.25h.95v.95h-.95zM244.72 218.28h.95v.95h-.95zM246.7 218.21h.95v.95h-.95z"/>
<path fill="#f59548" d="M244.9 213.74h.95v.95h-.95zM245.91 213.56h.95v.95h-.95zM243.76 214.56h.95v.95h-.95zM247.57 214.8h.95v.95h-.95zM243.71 215.77h.95v.95h-.95zM248.02 215.34h.95v.95h-.95zM243.95 216.77h.95v.95h-.95zM247.07 216.54h.95v.95h-.95zM245.15 217.37h.95v.95h-.95zM245.58 217.62h.95v.95h-.95zM246.66 217.3h.95v.95h-.95z"/>
<path fill="#d62e3a" d="M244.81 214.86h.95v.95h-.95zM245.94 214.37h.95v.95h-.95zM246.97 214.74h.95v.95h-.95zM245.03 215.52h.95v.95h-.95zM245.8 215.48h.95v.95h-.95zM245.05 216.46h.95v.95h-.95zM245.94 216.56h.95v.95h-.95z"/>
</g>
<rect x="235.1" y="201" width="26" height="29.1" fill="none" stroke="#bababa" stroke-width="0.85"/>
<g clip-path="url(#jc1)">
<path d="M87.09,136.41 C87.8,134.39 92,136.45 94.17,136.97 C96.33,137.48 98.36,138.42 100.11,139.5 C101.85,140.57 103.65,141.84 104.64,143.43 C105.63,145.02 106.05,147.18 106.05,149.05 C106.05,150.92 105.63,153.08 104.64,154.67 C103.65,156.26 101.85,157.53 100.11,158.6 C98.36,159.68 96.33,160.62 94.17,161.13 C92,161.65 87.8,163.71 87.09,161.69 C86.38,159.68 89.92,153.27 89.92,149.05 C89.92,144.84 86.38,138.42 87.09,136.41Z" fill="#f1f1f9"/>
<path d="M89.81,139.95 C90.32,138.5 93.34,139.98 94.9,140.35 C96.46,140.72 97.92,141.4 99.18,142.17 C100.44,142.95 101.73,143.86 102.44,145 C103.15,146.15 103.46,147.7 103.46,149.05 C103.46,150.4 103.15,151.95 102.44,153.1 C101.73,154.24 100.44,155.15 99.18,155.93 C97.92,156.7 96.46,157.38 94.9,157.75 C93.34,158.12 90.32,159.6 89.81,158.15 C89.3,156.7 91.85,152.08 91.85,149.05 C91.85,146.02 89.3,141.4 89.81,139.95Z" fill="#e6e6f4"/>
<g filter="url(#bl2)">
<path fill="#7292d4" d="M88.26 136.66h.75v.75h-.75zM91.4 136.77h.75v.75h-.75zM95.61 138.22h.75v.75h-.75zM97.86 139.23h.75v.75h-.75zM91.77 141.8h.75v.75h-.75zM93.34 141.41h.75v.75h-.75zM91.46 142.37h.75v.75h-.75zM96.2 143.18h.75v.75h-.75zM102.65 143.4h.75v.75h-.75zM89.39 144.2h.75v.75h-.75zM93.43 143.79h.75v.75h-.75zM98.79 144.11h.75v.75h-.75zM89.92 144.93h.75v.75h-.75zM99.72 144.81h.75v.75h-.75zM92.98 145.61h.75v.75h-.75zM99.69 145.48h.75v.75h-.75zM97.32 146.22h.75v.75h-.75zM97.82 146.56h.75v.75h-.75zM92.97 148.03h.75v.75h-.75zM91.81 148.97h.75v.75h-.75zM92.15 148.75h.75v.75h-.75zM102.16 148.93h.75v.75h-.75zM101.31 149.76h.75v.75h-.75zM103.59 149.83h.75v.75h-.75zM93.99 150.57h.75v.75h-.75zM98.11 150.26h.75v.75h-.75zM103.03 150.59h.75v.75h-.75zM98.16 151.33h.75v.75h-.75zM94.56 152.02h.75v.75h-.75zM95.54 151.93h.75v.75h-.75zM101.95 151.92h.75v.75h-.75zM102.71 152.2h.75v.75h-.75zM92.29 152.62h.75v.75h-.75zM95.38 152.69h.75v.75h-.75zM102.65 152.64h.75v.75h-.75zM91.45 153.52h.75v.75h-.75zM98.1 153.49h.75v.75h-.75zM104.52 153.74h.75v.75h-.75zM91.38 154.42h.75v.75h-.75zM100.37 154.59h.75v.75h-.75zM91.63 154.97h.75v.75h-.75zM93.99 155.36h.75v.75h-.75zM97.04 155.4h.75v.75h-.75zM98.13 156.02h.75v.75h-.75zM96.41 156.72h.75v.75h-.75zM90.05 157.68h.75v.75h-.75zM90.73 157.79h.75v.75h-.75zM94.59 157.5h.75v.75h-.75zM96.58 157.54h.75v.75h-.75zM92.44 158.38h.75v.75h-.75zM97.81 158.6h.75v.75h-.75zM90.92 160.24h.75v.75h-.75zM90.13 160.93h.75v.75h-.75zM93.15 160.77h.75v.75h-.75z"/>
<path fill="#6670c4" d="M89.77 137.57h.75v.75h-.75zM94.64 137.76h.75v.75h-.75zM88.44 138.49h.75v.75h-.75zM88.22 139.33h.75v.75h-.75zM98.68 140.09h.75v.75h-.75zM100.32 140.04h.75v.75h-.75zM94.94 140.82h.75v.75h-.75zM96.4 140.97h.75v.75h-.75zM94.98 141.58h.75v.75h-.75zM95.77 141.67h.75v.75h-.75zM98.97 141.56h.75v.75h-.75zM101.91 141.65h.75v.75h-.75zM96.52 142.64h.75v.75h-.75zM97.38 142.35h.75v.75h-.75zM98.93 142.63h.75v.75h-.75zM98.82 143.09h.75v.75h-.75zM91.81 143.9h.75v.75h-.75zM93.91 144.02h.75v.75h-.75zM97.08 144h.75v.75h-.75zM93.87 144.68h.75v.75h-.75zM98.07 144.81h.75v.75h-.75zM100.5 144.96h.75v.75h-.75zM103.62 144.64h.75v.75h-.75zM96.16 145.61h.75v.75h-.75zM98.91 145.62h.75v.75h-.75zM93.12 146.65h.75v.75h-.75zM98.82 146.58h.75v.75h-.75zM89.96 147.21h.75v.75h-.75zM93.26 147.41h.75v.75h-.75zM98.89 147.33h.75v.75h-.75zM101.39 147.96h.75v.75h-.75zM90.84 148.77h.75v.75h-.75zM101.45 148.76h.75v.75h-.75zM92.25 149.72h.75v.75h-.75zM93.28 149.42h.75v.75h-.75zM97.34 149.56h.75v.75h-.75zM92.61 150.62h.75v.75h-.75zM104.64 150.4h.75v.75h-.75zM90.96 151.31h.75v.75h-.75zM91.78 151.03h.75v.75h-.75zM95.69 150.98h.75v.75h-.75zM102.66 151.13h.75v.75h-.75zM90.9 152.11h.75v.75h-.75zM98.13 152.13h.75v.75h-.75zM101.24 152.63h.75v.75h-.75zM100.45 153.58h.75v.75h-.75zM90.86 154.42h.75v.75h-.75zM94.2 154.35h.75v.75h-.75zM101.93 154.29h.75v.75h-.75zM104.47 154.18h.75v.75h-.75zM88.97 155.27h.75v.75h-.75zM90.71 155.45h.75v.75h-.75zM97.9 155.11h.75v.75h-.75zM95.63 155.81h.75v.75h-.75zM96.31 156.15h.75v.75h-.75zM96.96 155.89h.75v.75h-.75zM98.91 155.81h.75v.75h-.75zM100.31 155.99h.75v.75h-.75zM88.28 157.03h.75v.75h-.75zM93.07 156.62h.75v.75h-.75zM95.85 157.43h.75v.75h-.75zM93.44 158.21h.75v.75h-.75zM87.52 160.74h.75v.75h-.75z"/>
<path fill="#9c98da" d="M91.01 137.63h.75v.75h-.75zM93.43 139.76h.75v.75h-.75zM97.9 140.04h.75v.75h-.75zM90.89 140.93h.75v.75h-.75zM102.86 142.59h.75v.75h-.75zM97.99 143.34h.75v.75h-.75zM100.5 144.22h.75v.75h-.75zM101.29 143.99h.75v.75h-.75zM102.62 143.76h.75v.75h-.75zM89.22 145.73h.75v.75h-.75zM89.87 146.52h.75v.75h-.75zM101.14 146.61h.75v.75h-.75zM101.28 147.42h.75v.75h-.75zM90.58 147.94h.75v.75h-.75zM93.78 148.04h.75v.75h-.75zM96.37 147.86h.75v.75h-.75zM93.08 148.98h.75v.75h-.75zM93.95 148.68h.75v.75h-.75zM97.19 149.04h.75v.75h-.75zM94.92 149.59h.75v.75h-.75zM95.58 149.57h.75v.75h-.75zM96.31 149.78h.75v.75h-.75zM101.8 149.8h.75v.75h-.75zM101.44 150.48h.75v.75h-.75zM98.77 150.96h.75v.75h-.75zM101.1 150.97h.75v.75h-.75zM92.23 152.16h.75v.75h-.75zM94.04 152.01h.75v.75h-.75zM96.99 153.83h.75v.75h-.75zM101.9 153.35h.75v.75h-.75zM98.76 154.26h.75v.75h-.75zM95.55 154.97h.75v.75h-.75zM102.93 155.37h.75v.75h-.75zM90.24 155.76h.75v.75h-.75zM102.73 156h.75v.75h-.75zM98.01 157.02h.75v.75h-.75zM100.4 156.65h.75v.75h-.75zM97.17 157.5h.75v.75h-.75zM98.07 157.36h.75v.75h-.75zM88.43 158.38h.75v.75h-.75zM92.98 159.38h.75v.75h-.75zM97.23 159.1h.75v.75h-.75zM95.67 160.16h.75v.75h-.75zM94.15 161.04h.75v.75h-.75z"/>
<path fill="#7680cc" d="M92.42 137.56h.75v.75h-.75zM94.13 137.43h.75v.75h-.75zM93.04 139.37h.75v.75h-.75zM88.59 140.25h.75v.75h-.75zM92.42 139.8h.75v.75h-.75zM93.97 141.01h.75v.75h-.75zM95.44 140.62h.75v.75h-.75zM97.44 140.85h.75v.75h-.75zM97.85 140.58h.75v.75h-.75zM97.89 141.74h.75v.75h-.75zM92.5 142.3h.75v.75h-.75zM92.54 142.96h.75v.75h-.75zM94.24 143.37h.75v.75h-.75zM94.6 143.09h.75v.75h-.75zM91.79 145h.75v.75h-.75zM100.95 145.84h.75v.75h-.75zM92.24 147.35h.75v.75h-.75zM97.09 147h.75v.75h-.75zM104.23 147.2h.75v.75h-.75zM97.78 148h.75v.75h-.75zM98.86 147.96h.75v.75h-.75zM96.21 148.8h.75v.75h-.75zM100.36 148.87h.75v.75h-.75zM102.56 148.96h.75v.75h-.75zM90.93 149.79h.75v.75h-.75zM97.85 149.4h.75v.75h-.75zM99.56 149.51h.75v.75h-.75zM100.2 149.69h.75v.75h-.75zM105.87 149.49h.75v.75h-.75zM93.34 150.22h.75v.75h-.75zM94.95 150.25h.75v.75h-.75zM95.44 150.28h.75v.75h-.75zM99.59 150.3h.75v.75h-.75zM100.44 151.28h.75v.75h-.75zM102.23 151.27h.75v.75h-.75zM93.14 152.09h.75v.75h-.75zM98.62 152h.75v.75h-.75zM100.34 151.84h.75v.75h-.75zM104.38 152.08h.75v.75h-.75zM91.67 152.91h.75v.75h-.75zM92.97 152.73h.75v.75h-.75zM97.17 152.66h.75v.75h-.75zM98.86 152.59h.75v.75h-.75zM93.14 153.8h.75v.75h-.75zM94.82 153.44h.75v.75h-.75zM99.5 153.63h.75v.75h-.75zM103.44 153.69h.75v.75h-.75zM89.23 154.51h.75v.75h-.75zM95.82 154.22h.75v.75h-.75zM99.38 154.43h.75v.75h-.75zM96.53 155.27h.75v.75h-.75zM99.43 155.4h.75v.75h-.75zM89.19 156.1h.75v.75h-.75zM94.15 156.02h.75v.75h-.75zM94.23 156.72h.75v.75h-.75zM89.33 158.38h.75v.75h-.75zM90.77 158.23h.75v.75h-.75zM94.12 158.27h.75v.75h-.75zM92.65 159.1h.75v.75h-.75zM94.92 159.2h.75v.75h-.75zM97.79 159.24h.75v.75h-.75zM92.97 160.08h.75v.75h-.75zM92.63 161.02h.75v.75h-.75z"/>
<path fill="#8c84d0" d="M90.58 138.57h.75v.75h-.75zM92.98 138.6h.75v.75h-.75zM94.03 140.11h.75v.75h-.75zM88.64 140.68h.75v.75h-.75zM91.35 140.9h.75v.75h-.75zM92.98 140.86h.75v.75h-.75zM88.31 141.79h.75v.75h-.75zM89.18 141.71h.75v.75h-.75zM96.61 141.4h.75v.75h-.75zM97.3 141.8h.75v.75h-.75zM90.96 142.23h.75v.75h-.75zM90 143.86h.75v.75h-.75zM90.63 144.17h.75v.75h-.75zM98 143.96h.75v.75h-.75zM99.6 144.22h.75v.75h-.75zM90.66 145.04h.75v.75h-.75zM93.36 144.56h.75v.75h-.75zM95.77 145.01h.75v.75h-.75zM96.24 144.66h.75v.75h-.75zM98.66 144.99h.75v.75h-.75zM101.43 144.77h.75v.75h-.75zM104.65 144.81h.75v.75h-.75zM94.89 145.56h.75v.75h-.75zM97.94 145.77h.75v.75h-.75zM92.33 146.45h.75v.75h-.75zM95.79 146.5h.75v.75h-.75zM100.21 146.48h.75v.75h-.75zM104.2 146.19h.75v.75h-.75zM95.58 147.13h.75v.75h-.75zM96.59 147.12h.75v.75h-.75zM101.87 147.4h.75v.75h-.75zM103.44 147.07h.75v.75h-.75zM95.84 147.83h.75v.75h-.75zM100.27 147.93h.75v.75h-.75zM105.08 148.05h.75v.75h-.75zM94.75 148.91h.75v.75h-.75zM95.62 148.88h.75v.75h-.75zM104.36 148.89h.75v.75h-.75zM93.97 149.6h.75v.75h-.75zM90.64 150.48h.75v.75h-.75zM97.03 150.54h.75v.75h-.75zM96.43 151.14h.75v.75h-.75zM89.96 152.14h.75v.75h-.75zM94.69 152.88h.75v.75h-.75zM103.85 152.59h.75v.75h-.75zM90.07 153.68h.75v.75h-.75zM95.67 153.58h.75v.75h-.75zM98.87 153.43h.75v.75h-.75zM89.93 154.55h.75v.75h-.75zM101.44 154.61h.75v.75h-.75zM102.57 154.57h.75v.75h-.75zM103.74 154.26h.75v.75h-.75zM94.6 155.9h.75v.75h-.75zM99.66 156.14h.75v.75h-.75zM101.42 156.22h.75v.75h-.75zM94.59 157.03h.75v.75h-.75zM95.81 156.77h.75v.75h-.75zM98.72 156.72h.75v.75h-.75zM101.91 156.66h.75v.75h-.75zM93.77 157.37h.75v.75h-.75zM89.11 159.13h.75v.75h-.75zM92.21 159.79h.75v.75h-.75z"/>
</g>
<g filter="url(#bl)">
<path d="M78.6,135.98 C79.54,136.26 82.56,136.99 84.26,137.67 C85.96,138.35 87.61,139.1 88.79,140.06 C89.97,141.02 90.82,142.31 91.33,143.43 C91.85,144.55 92,145.87 91.9,146.8 C91.81,147.74 90.96,148.68 90.77,149.05" fill="none" stroke="#b9e1da" stroke-width="4.2" stroke-linecap="round" stroke-linejoin="round"/>
<path d="M78.6,162.12 C79.54,161.84 82.56,161.11 84.26,160.43 C85.96,159.75 87.61,159 88.79,158.04 C89.97,157.08 90.82,155.79 91.33,154.67 C91.85,153.55 92,152.23 91.9,151.3 C91.81,150.36 90.96,149.42 90.77,149.05" fill="none" stroke="#b9e1da" stroke-width="4.2" stroke-linecap="round" stroke-linejoin="round"/>
<path d="M78.6,149.05 L91.05,149.05" fill="none" stroke="#b9e1da" stroke-width="3" stroke-linecap="round" stroke-linejoin="round"/>
<path d="M78.6,135.98 C79.54,136.26 82.56,136.99 84.26,137.67 C85.96,138.35 87.61,139.1 88.79,140.06 C89.97,141.02 90.82,142.31 91.33,143.43 C91.85,144.55 92,145.87 91.9,146.8 C91.81,147.74 90.96,148.68 90.77,149.05" fill="none" stroke="#d7eeba" stroke-width="2.9" stroke-linecap="round" stroke-linejoin="round"/>
<path d="M78.6,162.12 C79.54,161.84 82.56,161.11 84.26,160.43 C85.96,159.75 87.61,159 88.79,158.04 C89.97,157.08 90.82,155.79 91.33,154.67 C91.85,153.55 92,152.23 91.9,151.3 C91.81,150.36 90.96,149.42 90.77,149.05" fill="none" stroke="#d7eeba" stroke-width="2.9" stroke-linecap="round" stroke-linejoin="round"/>
<path d="M78.6,149.05 L91.05,149.05" fill="none" stroke="#d7eeba" stroke-width="2.1" stroke-linecap="round" stroke-linejoin="round"/>
<path d="M78.6,135.98 C79.54,136.26 82.56,136.99 84.26,137.67 C85.96,138.35 87.61,139.1 88.79,140.06 C89.97,141.02 90.82,142.31 91.33,143.43 C91.85,144.55 92,145.87 91.9,146.8 C91.81,147.74 90.96,148.68 90.77,149.05" fill="none" stroke="#faf3ad" stroke-width="1.8" stroke-linecap="round" stroke-linejoin="round"/>
<path d="M78.6,162.12 C79.54,161.84 82.56,161.11 84.26,160.43 C85.96,159.75 87.61,159 88.79,158.04 C89.97,157.08 90.82,155.79 91.33,154.67 C91.85,153.55 92,152.23 91.9,151.3 C91.81,150.36 90.96,149.42 90.77,149.05" fill="none" stroke="#faf3ad" stroke-width="1.8" stroke-linecap="round" stroke-linejoin="round"/>
<path d="M78.6,149.05 L91.05,149.05" fill="none" stroke="#faf3ad" stroke-width="1.4" stroke-linecap="round" stroke-linejoin="round"/>
<path d="M83.69,149.05 L90.49,149.05" fill="none" stroke="#f3a674" stroke-width="0.9" stroke-linecap="round" stroke-linejoin="round"/>
<ellipse cx="91.48" cy="143.71" rx="1.42" ry="3.09" fill="#f3a674"/>
<ellipse cx="91.48" cy="154.39" rx="1.42" ry="3.09" fill="#f3a674"/>
<ellipse cx="91.62" cy="143.71" rx="0.91" ry="2.25" fill="#dc6276"/>
<ellipse cx="91.62" cy="154.39" rx="0.91" ry="2.25" fill="#dc6276"/>
<ellipse cx="91.62" cy="143.71" rx="0.42" ry="0.98" fill="#a5528f"/>
</g>
<g filter="url(#bl2)" opacity="0.8">
<path fill="#8a90d4" d="M90.96 140.6h.7v.7h-.7zM90.2 145.03h.7v.7h-.7z"/>
<path fill="#6fa8d0" d="M92.99 144.69h.7v.7h-.7zM93.3 148.69h.7v.7h-.7zM93.01 155.78h.7v.7h-.7z"/>
<path fill="#7a9ad6" d="M92.52 148.16h.7v.7h-.7zM93.33 151.24h.7v.7h-.7zM93.8 152.05h.7v.7h-.7zM93.44 152.7h.7v.7h-.7zM88.49 159.78h.7v.7h-.7z"/>
<path fill="#9aa8dc" d="M93.33 149.66h.7v.7h-.7zM89.83 150.26h.7v.7h-.7zM89.76 151.35h.7v.7h-.7zM90.57 151.23h.7v.7h-.7zM89.76 154.62h.7v.7h-.7zM89.97 158.47h.7v.7h-.7zM88.32 159.4h.7v.7h-.7z"/>
</g>
</g>
<rect x="78.6" y="135" width="28.3" height="28.1" fill="none" stroke="#bababa" stroke-width="0.85"/>
<g clip-path="url(#jc6)">
<path fill="#58b4c4" d="M273.26 135.15h.95v.95h-.95zM273.95 135.07h.95v.95h-.95zM273.43 137.07h.95v.95h-.95zM274.07 137.06h.95v.95h-.95zM275.2 137.31h.95v.95h-.95zM276 137.97h.95v.95h-.95zM276.81 138.39h.95v.95h-.95zM281.8 138.27h.95v.95h-.95zM279.21 139.03h.95v.95h-.95zM283.09 139.26h.95v.95h-.95zM280.62 140.08h.95v.95h-.95zM282.82 141.17h.95v.95h-.95zM284.89 140.85h.95v.95h-.95zM285.53 141.69h.95v.95h-.95zM286.41 147.58h.95v.95h-.95zM273.17 148.42h.95v.95h-.95zM281.79 148.52h.95v.95h-.95zM284.42 148.51h.95v.95h-.95zM273.97 149.68h.95v.95h-.95zM278.97 149.58h.95v.95h-.95zM282.56 149.73h.95v.95h-.95zM283.71 149.69h.95v.95h-.95zM283.47 155.52h.95v.95h-.95zM280.8 158.39h.95v.95h-.95zM283.55 158.83h.95v.95h-.95zM279.66 160.92h.95v.95h-.95zM276.41 161.77h.95v.95h-.95zM276.93 161.85h.95v.95h-.95zM277.79 161.78h.95v.95h-.95z"/>
<path fill="#f2e266" d="M274.23 136.06h.95v.95h-.95zM275.93 137.08h.95v.95h-.95zM277.78 137.35h.95v.95h-.95zM278.78 137.32h.95v.95h-.95zM278.77 138.31h.95v.95h-.95zM282.06 139.15h.95v.95h-.95zM283.62 140.35h.95v.95h-.95zM283.93 140.7h.95v.95h-.95zM284.83 142.03h.95v.95h-.95zM285.78 145.6h.95v.95h-.95zM285.79 146.78h.95v.95h-.95zM274.06 148.77h.95v.95h-.95zM275.46 148.88h.95v.95h-.95zM275.99 148.65h.95v.95h-.95zM277.24 148.59h.95v.95h-.95zM278.89 148.72h.95v.95h-.95zM279.68 148.81h.95v.95h-.95zM280.62 148.88h.95v.95h-.95zM282.79 148.81h.95v.95h-.95zM285.83 148.34h.95v.95h-.95zM280.01 149.33h.95v.95h-.95zM281.84 149.31h.95v.95h-.95zM285.83 149.53h.95v.95h-.95zM285.41 150.49h.95v.95h-.95zM285.74 151.57h.95v.95h-.95zM286.63 151.29h.95v.95h-.95zM282.55 158.15h.95v.95h-.95zM283.74 158.12h.95v.95h-.95zM281.65 159.26h.95v.95h-.95zM279.04 160.12h.95v.95h-.95zM280.16 159.83h.95v.95h-.95zM276.27 160.66h.95v.95h-.95zM278.17 160.95h.95v.95h-.95zM273.14 161.75h.95v.95h-.95zM274.14 162.02h.95v.95h-.95z"/>
<path fill="#4a8ad0" d="M288.36 140.13h.95v.95h-.95zM294.05 141.78h.95v.95h-.95zM290.64 144.13h.95v.95h-.95zM293.92 144.68h.95v.95h-.95zM288.56 148.76h.95v.95h-.95zM288.71 150.63h.95v.95h-.95zM288.35 155.46h.95v.95h-.95z"/>
<path fill="#6a5cc0" d="M290.62 141.23h.95v.95h-.95zM287.67 146.48h.95v.95h-.95zM298.88 150.62h.95v.95h-.95zM292.18 151.31h.95v.95h-.95zM287.75 153.33h.95v.95h-.95zM295.37 154.4h.95v.95h-.95zM287.39 155.47h.95v.95h-.95zM292.51 157h.95v.95h-.95zM293.21 159.15h.95v.95h-.95z"/>
<path fill="#5a6ad0" d="M290.64 141.68h.95v.95h-.95zM291.62 144.72h.95v.95h-.95zM297.35 145.63h.95v.95h-.95zM293.22 148.88h.95v.95h-.95zM297.07 148.54h.95v.95h-.95zM295.22 149.25h.95v.95h-.95zM296.86 149.35h.95v.95h-.95zM298.2 151.68h.95v.95h-.95zM296.35 152.48h.95v.95h-.95zM288.75 156.12h.95v.95h-.95zM293.06 156.17h.95v.95h-.95zM290.17 159.77h.95v.95h-.95z"/>
<path fill="#f59548" d="M284.56 142.77h.95v.95h-.95zM285.53 142.94h.95v.95h-.95zM286.41 142.95h.95v.95h-.95zM284.95 143.74h.95v.95h-.95zM284.93 144.63h.95v.95h-.95zM284.82 152.19h.95v.95h-.95zM285.39 152.38h.95v.95h-.95zM286.76 154.29h.95v.95h-.95zM286.71 155.15h.95v.95h-.95zM284.01 155.96h.95v.95h-.95zM286.69 156.28h.95v.95h-.95zM283.89 157.19h.95v.95h-.95zM286.67 157.03h.95v.95h-.95zM284.45 158.28h.95v.95h-.95zM286.36 158.07h.95v.95h-.95zM284.66 159.15h.95v.95h-.95zM285.6 159.31h.95v.95h-.95z"/>
<path fill="#4a5cc0" d="M289.17 143.92h.95v.95h-.95zM287.58 145.77h.95v.95h-.95zM292.3 147.54h.95v.95h-.95zM292.5 149.49h.95v.95h-.95zM289.53 150.77h.95v.95h-.95zM296.76 150.52h.95v.95h-.95zM289.39 152.64h.95v.95h-.95zM296.31 156.07h.95v.95h-.95zM291.42 157.82h.95v.95h-.95zM285.85 160.03h.95v.95h-.95zM288.55 160.7h.95v.95h-.95z"/>
<path fill="#d62e3a" d="M284.95 153.49h.95v.95h-.95zM285.51 153.55h.95v.95h-.95zM284.72 154.28h.95v.95h-.95zM285.84 154.04h.95v.95h-.95zM285.82 155.33h.95v.95h-.95zM284.43 156.41h.95v.95h-.95zM285.46 156.13h.95v.95h-.95zM284.68 157.23h.95v.95h-.95zM285.92 157.04h.95v.95h-.95zM285.45 158.01h.95v.95h-.95z"/>
</g>
<rect x="273" y="135" width="27.9" height="28.1" fill="none" stroke="#bababa" stroke-width="0.85"/>
<g clip-path="url(#jc11)">
<path d="M82.83,202.16 C84.66,201.68 89.16,202.75 92,203.91 C94.84,205.07 97.85,207.21 99.86,209.15 C101.87,211.09 104.05,213.42 104.05,215.55 C104.05,217.68 101.87,220.01 99.86,221.95 C97.85,223.89 94.84,226.03 92,227.19 C89.16,228.35 84.66,229.42 82.83,228.94 C81,228.45 80.34,226.51 81,224.28 C81.65,222.05 86.76,218.46 86.76,215.55 C86.76,212.64 81.65,209.05 81,206.82 C80.34,204.59 81,202.65 82.83,202.16Z" fill="#f1f1f9"/>
<path d="M84.9,205.91 C86.22,205.56 89.46,206.33 91.5,207.17 C93.54,208.01 95.71,209.54 97.16,210.94 C98.61,212.34 100.18,214.01 100.18,215.55 C100.18,217.09 98.61,218.76 97.16,220.16 C95.71,221.56 93.54,223.09 91.5,223.93 C89.46,224.77 86.22,225.54 84.9,225.19 C83.58,224.84 83.11,223.44 83.58,221.84 C84.05,220.23 87.73,217.65 87.73,215.55 C87.73,213.45 84.05,210.87 83.58,209.26 C83.11,207.66 83.58,206.26 84.9,205.91Z" fill="#e6e6f4"/>
<g filter="url(#bl2)">
<path fill="#8c84d0" d="M84.13 202.6h.75v.75h-.75zM84.12 203.72h.75v.75h-.75zM86.43 203.79h.75v.75h-.75zM87.3 203.76h.75v.75h-.75zM88.49 203.59h.75v.75h-.75zM84.09 205.43h.75v.75h-.75zM88.04 205.89h.75v.75h-.75zM83.78 206.69h.75v.75h-.75zM95.73 206.8h.75v.75h-.75zM87.12 207.58h.75v.75h-.75zM91.22 207.39h.75v.75h-.75zM92.88 207.44h.75v.75h-.75zM84.11 208.3h.75v.75h-.75zM91.88 208.19h.75v.75h-.75zM95.21 208.53h.75v.75h-.75zM98.17 208.35h.75v.75h-.75zM86.25 209.27h.75v.75h-.75zM88.76 209.19h.75v.75h-.75zM94.27 209h.75v.75h-.75zM98.92 209.92h.75v.75h-.75zM91.67 210.62h.75v.75h-.75zM99.33 210.96h.75v.75h-.75zM84.64 211.73h.75v.75h-.75zM85.34 211.54h.75v.75h-.75zM94.45 211.5h.75v.75h-.75zM96.48 211.73h.75v.75h-.75zM100.79 211.42h.75v.75h-.75zM98.53 212.4h.75v.75h-.75zM89.67 213.1h.75v.75h-.75zM91.93 213.35h.75v.75h-.75zM93.35 213.36h.75v.75h-.75zM86.86 214.91h.75v.75h-.75zM95.06 215.05h.75v.75h-.75zM97.38 215.61h.75v.75h-.75zM103.15 215.82h.75v.75h-.75zM87.18 216.35h.75v.75h-.75zM90.37 216.51h.75v.75h-.75zM96.5 216.26h.75v.75h-.75zM92.88 216.96h.75v.75h-.75zM94.54 217.17h.75v.75h-.75zM85.6 218.19h.75v.75h-.75zM94.46 218.06h.75v.75h-.75zM86.49 218.87h.75v.75h-.75zM85.29 219.59h.75v.75h-.75zM88.48 219.64h.75v.75h-.75zM89.44 219.61h.75v.75h-.75zM92.93 219.6h.75v.75h-.75zM94.41 219.49h.75v.75h-.75zM97.75 219.41h.75v.75h-.75zM100.8 219.78h.75v.75h-.75zM85.34 220.5h.75v.75h-.75zM91.87 220.54h.75v.75h-.75zM83.95 220.98h.75v.75h-.75zM86.32 221.27h.75v.75h-.75zM87.96 221.08h.75v.75h-.75zM90.22 222.23h.75v.75h-.75zM91.26 222.11h.75v.75h-.75zM88.64 222.59h.75v.75h-.75zM91.87 222.59h.75v.75h-.75zM92.6 222.87h.75v.75h-.75zM93.53 222.76h.75v.75h-.75zM95.9 222.8h.75v.75h-.75zM82.09 223.73h.75v.75h-.75zM96.47 223.41h.75v.75h-.75zM81.33 224.48h.75v.75h-.75zM85.57 224.36h.75v.75h-.75zM87.9 224.97h.75v.75h-.75zM88.81 225.15h.75v.75h-.75zM83.32 226.25h.75v.75h-.75zM83.95 226.92h.75v.75h-.75zM87.01 226.65h.75v.75h-.75zM82.5 227.51h.75v.75h-.75z"/>
<path fill="#7292d4" d="M84.47 203.82h.75v.75h-.75zM89.4 205.3h.75v.75h-.75zM88.65 205.77h.75v.75h-.75zM89.39 206.12h.75v.75h-.75zM90.92 206.16h.75v.75h-.75zM94.48 206.21h.75v.75h-.75zM91.24 206.84h.75v.75h-.75zM92.58 206.88h.75v.75h-.75zM85.66 207.63h.75v.75h-.75zM86.18 208.55h.75v.75h-.75zM88.02 209.29h.75v.75h-.75zM90.42 209.12h.75v.75h-.75zM83.99 209.88h.75v.75h-.75zM85.67 209.94h.75v.75h-.75zM85.29 210.84h.75v.75h-.75zM88.54 210.6h.75v.75h-.75zM88.04 211.59h.75v.75h-.75zM97.38 211.81h.75v.75h-.75zM99.15 211.7h.75v.75h-.75zM88.94 212.41h.75v.75h-.75zM90.09 212.55h.75v.75h-.75zM98.91 212.42h.75v.75h-.75zM85.61 213.25h.75v.75h-.75zM88.53 213.43h.75v.75h-.75zM92.71 213.11h.75v.75h-.75zM97.43 213.16h.75v.75h-.75zM88.93 214h.75v.75h-.75zM98.98 214.12h.75v.75h-.75zM99.65 214.17h.75v.75h-.75zM91.19 215.04h.75v.75h-.75zM93.61 214.62h.75v.75h-.75zM95.7 214.61h.75v.75h-.75zM96.75 214.81h.75v.75h-.75zM98.23 214.74h.75v.75h-.75zM95.28 216.54h.75v.75h-.75zM97.48 216.57h.75v.75h-.75zM102.11 216.19h.75v.75h-.75zM87.25 217.28h.75v.75h-.75zM89.41 217.2h.75v.75h-.75zM91.32 216.95h.75v.75h-.75zM92.06 217.32h.75v.75h-.75zM98.96 217.2h.75v.75h-.75zM101.25 216.98h.75v.75h-.75zM88.88 218.06h.75v.75h-.75zM89.43 218.07h.75v.75h-.75zM93.57 218.1h.75v.75h-.75zM99.18 218.18h.75v.75h-.75zM100.71 217.8h.75v.75h-.75zM87.01 218.69h.75v.75h-.75zM90.32 218.85h.75v.75h-.75zM98.17 219.65h.75v.75h-.75zM88.51 220.48h.75v.75h-.75zM99.87 220.43h.75v.75h-.75zM84.93 220.99h.75v.75h-.75zM91.97 220.98h.75v.75h-.75zM85.6 222.07h.75v.75h-.75zM89.68 222.12h.75v.75h-.75zM84.89 222.92h.75v.75h-.75zM81.6 223.79h.75v.75h-.75zM93.72 224.59h.75v.75h-.75zM84.95 225.13h.75v.75h-.75zM82.26 226.06h.75v.75h-.75zM84.67 226.2h.75v.75h-.75zM92.53 226.16h.75v.75h-.75zM83.22 227.35h.75v.75h-.75zM83.95 227.72h.75v.75h-.75zM85.66 228.23h.75v.75h-.75z"/>
<path fill="#6670c4" d="M90.09 203.77h.75v.75h-.75zM87.32 206.16h.75v.75h-.75zM90.22 205.78h.75v.75h-.75zM94.24 206.76h.75v.75h-.75zM87.69 207.44h.75v.75h-.75zM93.73 207.57h.75v.75h-.75zM96.03 207.59h.75v.75h-.75zM87.35 208.24h.75v.75h-.75zM89.48 208.18h.75v.75h-.75zM90.51 208.42h.75v.75h-.75zM90.85 208.31h.75v.75h-.75zM93.68 208.21h.75v.75h-.75zM96.04 208.4h.75v.75h-.75zM83.79 209.41h.75v.75h-.75zM90.97 209.07h.75v.75h-.75zM96.63 208.96h.75v.75h-.75zM99.34 209.21h.75v.75h-.75zM88.89 209.79h.75v.75h-.75zM91.97 210.01h.75v.75h-.75zM94.55 210.03h.75v.75h-.75zM96.71 210.14h.75v.75h-.75zM97.57 209.84h.75v.75h-.75zM84.48 211.03h.75v.75h-.75zM86.13 210.91h.75v.75h-.75zM87.22 210.99h.75v.75h-.75zM95.13 210.83h.75v.75h-.75zM95.86 210.89h.75v.75h-.75zM86.3 211.72h.75v.75h-.75zM89.42 211.44h.75v.75h-.75zM91.19 211.76h.75v.75h-.75zM87.01 212.63h.75v.75h-.75zM89.3 212.24h.75v.75h-.75zM94.96 212.2h.75v.75h-.75zM96.48 212.16h.75v.75h-.75zM90.28 213.22h.75v.75h-.75zM95.86 213.27h.75v.75h-.75zM90.44 214.09h.75v.75h-.75zM92.47 213.83h.75v.75h-.75zM97.5 214.18h.75v.75h-.75zM101.44 213.84h.75v.75h-.75zM88.61 214.8h.75v.75h-.75zM91.66 214.96h.75v.75h-.75zM103.03 214.7h.75v.75h-.75zM90.26 215.63h.75v.75h-.75zM93.46 215.63h.75v.75h-.75zM94.18 215.79h.75v.75h-.75zM89.34 216.61h.75v.75h-.75zM101.42 216.17h.75v.75h-.75zM88.7 217.11h.75v.75h-.75zM90.18 216.96h.75v.75h-.75zM95.96 217.12h.75v.75h-.75zM96.91 217.16h.75v.75h-.75zM100.94 216.96h.75v.75h-.75zM102.46 217.1h.75v.75h-.75zM87.92 217.76h.75v.75h-.75zM91.98 217.87h.75v.75h-.75zM88.61 218.95h.75v.75h-.75zM91.96 219.54h.75v.75h-.75zM92.8 220.38h.75v.75h-.75zM94.41 220.52h.75v.75h-.75zM95.25 220.4h.75v.75h-.75zM96.53 220.3h.75v.75h-.75zM98.36 220.45h.75v.75h-.75zM100.67 220.32h.75v.75h-.75zM88.58 221.05h.75v.75h-.75zM90.86 221.1h.75v.75h-.75zM96.13 220.96h.75v.75h-.75zM87.29 222.96h.75v.75h-.75zM84.47 223.45h.75v.75h-.75zM90.55 223.47h.75v.75h-.75zM93.48 223.41h.75v.75h-.75zM90.23 224.29h.75v.75h-.75zM92.66 225.03h.75v.75h-.75zM86.08 226.04h.75v.75h-.75zM91.06 226.1h.75v.75h-.75zM84.94 226.78h.75v.75h-.75zM84.93 227.68h.75v.75h-.75zM85.61 227.48h.75v.75h-.75z"/>
<path fill="#7680cc" d="M82.29 204.37h.75v.75h-.75zM84.81 204.97h.75v.75h-.75zM81.56 205.92h.75v.75h-.75zM85.3 206.04h.75v.75h-.75zM82.4 206.9h.75v.75h-.75zM93.48 206.68h.75v.75h-.75zM86.17 207.43h.75v.75h-.75zM83.06 209.92h.75v.75h-.75zM90.14 210.01h.75v.75h-.75zM92.49 210.99h.75v.75h-.75zM97.31 210.95h.75v.75h-.75zM88.52 211.41h.75v.75h-.75zM91.72 211.79h.75v.75h-.75zM85.6 212.23h.75v.75h-.75zM86.09 212.32h.75v.75h-.75zM91.29 212.28h.75v.75h-.75zM94.25 212.62h.75v.75h-.75zM97.56 212.35h.75v.75h-.75zM87.3 213.3h.75v.75h-.75zM88.04 213.27h.75v.75h-.75zM95.04 213.21h.75v.75h-.75zM96.78 213.22h.75v.75h-.75zM90.98 214.24h.75v.75h-.75zM98.44 214.19h.75v.75h-.75zM100.48 213.87h.75v.75h-.75zM89.34 214.62h.75v.75h-.75zM94.26 214.89h.75v.75h-.75zM88.47 215.76h.75v.75h-.75zM91.86 215.51h.75v.75h-.75zM95.23 215.49h.75v.75h-.75zM103.71 215.7h.75v.75h-.75zM88.14 217.34h.75v.75h-.75zM95.16 217.32h.75v.75h-.75zM91.33 218.23h.75v.75h-.75zM92.85 218h.75v.75h-.75zM97.69 218.15h.75v.75h-.75zM98.35 217.76h.75v.75h-.75zM91.12 218.81h.75v.75h-.75zM98.48 219.03h.75v.75h-.75zM100 218.73h.75v.75h-.75zM95.72 220.17h.75v.75h-.75zM97.7 220.34h.75v.75h-.75zM85.47 220.96h.75v.75h-.75zM89.34 220.96h.75v.75h-.75zM84.85 221.93h.75v.75h-.75zM87.74 222.08h.75v.75h-.75zM94.42 221.94h.75v.75h-.75zM86.47 222.69h.75v.75h-.75zM90.86 223.36h.75v.75h-.75zM92.9 223.64h.75v.75h-.75zM95.1 223.64h.75v.75h-.75zM95.65 223.84h.75v.75h-.75zM83.24 224.59h.75v.75h-.75zM94.27 224.32h.75v.75h-.75zM83.99 225.35h.75v.75h-.75zM87.33 225.31h.75v.75h-.75zM89.3 225.05h.75v.75h-.75zM82.96 226.92h.75v.75h-.75zM83.79 228.17h.75v.75h-.75z"/>
<path fill="#9c98da" d="M89.7 204.36h.75v.75h-.75zM82.16 205.86h.75v.75h-.75zM84.08 205.82h.75v.75h-.75zM91.94 205.76h.75v.75h-.75zM85.27 206.71h.75v.75h-.75zM83.94 207.48h.75v.75h-.75zM90.22 207.72h.75v.75h-.75zM87.3 208.98h.75v.75h-.75zM92.87 209.41h.75v.75h-.75zM93.5 209.06h.75v.75h-.75zM98.51 209.4h.75v.75h-.75zM89.68 210.16h.75v.75h-.75zM95.16 209.87h.75v.75h-.75zM88.03 210.69h.75v.75h-.75zM89.56 210.78h.75v.75h-.75zM91.1 210.94h.75v.75h-.75zM96.56 210.6h.75v.75h-.75zM98.07 210.87h.75v.75h-.75zM92.74 211.45h.75v.75h-.75zM93.65 211.4h.75v.75h-.75zM98.27 211.37h.75v.75h-.75zM99.82 211.71h.75v.75h-.75zM87.94 212.52h.75v.75h-.75zM96.02 212.24h.75v.75h-.75zM101.67 213.08h.75v.75h-.75zM87.25 213.79h.75v.75h-.75zM89.7 214.16h.75v.75h-.75zM95.96 213.92h.75v.75h-.75zM96.76 214.05h.75v.75h-.75zM100.03 214.89h.75v.75h-.75zM100.63 214.71h.75v.75h-.75zM89.75 215.41h.75v.75h-.75zM96.9 215.72h.75v.75h-.75zM99.14 215.65h.75v.75h-.75zM101.51 215.55h.75v.75h-.75zM88.88 216.5h.75v.75h-.75zM93.6 216.53h.75v.75h-.75zM96.02 216.36h.75v.75h-.75zM99.22 216.38h.75v.75h-.75zM86.49 217.43h.75v.75h-.75zM97.45 217.05h.75v.75h-.75zM99.74 217.45h.75v.75h-.75zM87.04 217.92h.75v.75h-.75zM95.1 217.81h.75v.75h-.75zM87.76 218.77h.75v.75h-.75zM89.25 218.69h.75v.75h-.75zM91.91 218.63h.75v.75h-.75zM95.96 218.62h.75v.75h-.75zM87.01 219.6h.75v.75h-.75zM90.29 219.67h.75v.75h-.75zM91.01 219.53h.75v.75h-.75zM99.18 219.71h.75v.75h-.75zM99.85 219.38h.75v.75h-.75zM99.31 220.4h.75v.75h-.75zM90.36 221.15h.75v.75h-.75zM93.64 220.98h.75v.75h-.75zM94.07 221.4h.75v.75h-.75zM96.62 220.95h.75v.75h-.75zM84.04 222.16h.75v.75h-.75zM93.52 222.01h.75v.75h-.75zM83.86 222.82h.75v.75h-.75zM87.82 222.89h.75v.75h-.75zM96.86 222.81h.75v.75h-.75zM89.34 223.67h.75v.75h-.75zM84.72 224.22h.75v.75h-.75zM85.4 225.19h.75v.75h-.75zM85.31 225.85h.75v.75h-.75zM87.77 227.04h.75v.75h-.75z"/>
</g>
<g filter="url(#bl)">
<path d="M89.38,207.98 C89.95,208.42 92.04,209.34 92.79,210.6 C93.53,211.86 93.83,213.9 93.83,215.55 C93.83,217.2 93.53,219.24 92.79,220.5 C92.04,221.76 89.95,222.68 89.38,223.12" fill="none" stroke="#b9e1da" stroke-width="6" stroke-linecap="round" stroke-linejoin="round"/>
<ellipse cx="89.51" cy="208.1" rx="7.86" ry="7.27" fill="#b9e1da"/>
<ellipse cx="89.51" cy="223" rx="7.86" ry="7.27" fill="#b9e1da"/>
<path d="M89.38,207.98 C89.95,208.42 92.04,209.34 92.79,210.6 C93.53,211.86 93.83,213.9 93.83,215.55 C93.83,217.2 93.53,219.24 92.79,220.5 C92.04,221.76 89.95,222.68 89.38,223.12" fill="none" stroke="#d7eeba" stroke-width="4.4" stroke-linecap="round" stroke-linejoin="round"/>
<ellipse cx="89.51" cy="208.1" rx="6.55" ry="6.11" fill="#d7eeba"/>
<ellipse cx="89.51" cy="223" rx="6.55" ry="6.11" fill="#d7eeba"/>
<path d="M89.38,207.98 C89.95,208.42 92.04,209.34 92.79,210.6 C93.53,211.86 93.83,213.9 93.83,215.55 C93.83,217.2 93.53,219.24 92.79,220.5 C92.04,221.76 89.95,222.68 89.38,223.12" fill="none" stroke="#faf3ad" stroke-width="2.6" stroke-linecap="round" stroke-linejoin="round"/>
<ellipse cx="89.51" cy="208.1" rx="5.24" ry="4.95" fill="#faf3ad"/>
<ellipse cx="89.51" cy="223" rx="5.24" ry="4.95" fill="#faf3ad"/>
<ellipse cx="89.51" cy="208.1" rx="4.06" ry="4.22" fill="#f3a674"/>
<ellipse cx="89.51" cy="223" rx="4.06" ry="4.22" fill="#f3a674"/>
<ellipse cx="89.51" cy="208.1" rx="3.14" ry="3.35" fill="#dc6276"/>
<ellipse cx="89.51" cy="223" rx="3.14" ry="3.35" fill="#dc6276"/>
<ellipse cx="89.51" cy="208.1" rx="1.83" ry="2.04" fill="#a5528f"/>
<ellipse cx="89.51" cy="223" rx="1.83" ry="2.04" fill="#a5528f"/>
</g>
<g filter="url(#bl2)" opacity="0.8">
<path fill="#7a9ad6" d="M84.63 202.94h.7v.7h-.7zM86.86 213.36h.7v.7h-.7zM87.67 213.34h.7v.7h-.7zM94.94 213.42h.7v.7h-.7zM88.61 214.04h.7v.7h-.7zM90.18 214.13h.7v.7h-.7zM85.56 217.8h.7v.7h-.7zM96.67 221.17h.7v.7h-.7zM84.69 225.75h.7v.7h-.7zM85.4 227.48h.7v.7h-.7zM87.76 227.78h.7v.7h-.7z"/>
<path fill="#6fa8d0" d="M86.52 203.76h.7v.7h-.7zM84.8 205.32h.7v.7h-.7zM94.86 205.93h.7v.7h-.7zM81.69 207.62h.7v.7h-.7zM84.11 210.92h.7v.7h-.7zM91.93 215.69h.7v.7h-.7zM91.32 217.34h.7v.7h-.7zM91.68 217.19h.7v.7h-.7zM84.47 219.58h.7v.7h-.7zM94.93 220.39h.7v.7h-.7zM96.66 221.85h.7v.7h-.7z"/>
<path fill="#9aa8dc" d="M84.78 204.39h.7v.7h-.7zM82.52 206.1h.7v.7h-.7zM83.93 206.81h.7v.7h-.7zM84.08 209.36h.7v.7h-.7zM95.16 209.22h.7v.7h-.7zM96.91 209.34h.7v.7h-.7zM95.97 210.62h.7v.7h-.7zM84.89 211.65h.7v.7h-.7zM94.4 211.61h.7v.7h-.7zM86.34 213.17h.7v.7h-.7zM95.85 214.97h.7v.7h-.7zM95.27 216.63h.7v.7h-.7zM86.22 217.09h.7v.7h-.7zM94.53 219.67h.7v.7h-.7zM83.24 224.2h.7v.7h-.7zM85.48 226.73h.7v.7h-.7z"/>
<path fill="#8a90d4" d="M83.82 207.36h.7v.7h-.7zM95.17 215.63h.7v.7h-.7zM96.14 215.78h.7v.7h-.7zM95.03 217.32h.7v.7h-.7zM96.1 217.27h.7v.7h-.7zM96.65 223.53h.7v.7h-.7zM95.78 224.5h.7v.7h-.7zM83.65 224.99h.7v.7h-.7z"/>
</g>
</g>
<rect x="78.9" y="201" width="26.2" height="29.1" fill="none" stroke="#bababa" stroke-width="0.85"/>
<g clip-path="url(#jc16)">
<path fill="#58b4c4" d="M284.51 204.17h.95v.95h-.95zM284.85 205.04h.95v.95h-.95zM285.56 205.05h.95v.95h-.95zM287.51 210.08h.95v.95h-.95zM280.59 210.57h.95v.95h-.95zM282.61 211.08h.95v.95h-.95zM286.64 210.51h.95v.95h-.95zM279.66 211.93h.95v.95h-.95zM280.88 211.77h.95v.95h-.95zM282.95 211.46h.95v.95h-.95zM285.58 211.79h.95v.95h-.95zM287.66 211.65h.95v.95h-.95zM279.83 212.43h.95v.95h-.95zM280.83 212.62h.95v.95h-.95zM285.56 212.99h.95v.95h-.95zM288.2 212.4h.95v.95h-.95zM279.7 213.58h.95v.95h-.95zM281.02 213.45h.95v.95h-.95zM288.47 213.7h.95v.95h-.95zM279.63 214.31h.95v.95h-.95zM280.56 214.77h.95v.95h-.95zM285.75 214.53h.95v.95h-.95zM287.27 214.48h.95v.95h-.95zM288.6 214.78h.95v.95h-.95zM279.61 215.7h.95v.95h-.95zM282.44 215.5h.95v.95h-.95zM286.19 215.35h.95v.95h-.95zM288.22 215.52h.95v.95h-.95zM279.84 216.5h.95v.95h-.95zM281.78 216.36h.95v.95h-.95zM283.56 216.6h.95v.95h-.95zM285.52 216.51h.95v.95h-.95zM288.1 216.78h.95v.95h-.95zM289.4 216.57h.95v.95h-.95zM279.51 217.31h.95v.95h-.95zM282.59 217.45h.95v.95h-.95zM284.81 217.53h.95v.95h-.95zM287.46 217.24h.95v.95h-.95zM288.59 217.17h.95v.95h-.95zM289.27 217.33h.95v.95h-.95zM290.21 217.19h.95v.95h-.95zM279.87 218.35h.95v.95h-.95zM282.93 218.46h.95v.95h-.95zM285.3 218.29h.95v.95h-.95zM287.34 218.29h.95v.95h-.95zM289.04 218.69h.95v.95h-.95zM279.93 219.15h.95v.95h-.95zM280.7 219.21h.95v.95h-.95zM282.82 219.49h.95v.95h-.95zM285.67 219.36h.95v.95h-.95zM287.47 219.23h.95v.95h-.95zM288.58 219.36h.95v.95h-.95zM279.99 220.49h.95v.95h-.95zM281.62 220.33h.95v.95h-.95zM282.72 220.06h.95v.95h-.95zM287.46 220.01h.95v.95h-.95zM288.34 220.05h.95v.95h-.95zM289.52 221.26h.95v.95h-.95zM280.46 222.05h.95v.95h-.95zM280.72 223.13h.95v.95h-.95zM281.83 224.14h.95v.95h-.95z"/>
<path fill="#6a5cc0" d="M275.28 205.34h.95v.95h-.95zM279 206.83h.95v.95h-.95zM276.95 208.19h.95v.95h-.95zM290.39 208.13h.95v.95h-.95zM276.02 209.56h.95v.95h-.95zM279.11 210.84h.95v.95h-.95zM291.35 210.71h.95v.95h-.95zM290.12 211.68h.95v.95h-.95zM274.88 212.89h.95v.95h-.95zM276.94 213.5h.95v.95h-.95zM292.18 215.76h.95v.95h-.95zM293.86 216.43h.95v.95h-.95zM296.67 216.71h.95v.95h-.95zM274.76 218.12h.95v.95h-.95zM277.64 218.31h.95v.95h-.95zM292.98 218.1h.95v.95h-.95zM278.06 219.14h.95v.95h-.95zM277.92 222.2h.95v.95h-.95zM294.94 221.94h.95v.95h-.95zM291.23 222.99h.95v.95h-.95z"/>
<path fill="#4a5cc0" d="M275.91 205.38h.95v.95h-.95zM295.73 209.63h.95v.95h-.95zM292.29 214.44h.95v.95h-.95zM296.79 215.77h.95v.95h-.95zM278.02 216.32h.95v.95h-.95zM279.13 216.75h.95v.95h-.95zM292.2 217.26h.95v.95h-.95zM293.26 221.1h.95v.95h-.95zM295.91 221.34h.95v.95h-.95zM296.71 222.14h.95v.95h-.95zM278.01 223.24h.95v.95h-.95zM291.45 224.22h.95v.95h-.95zM277.91 224.97h.95v.95h-.95z"/>
<path fill="#5a6ad0" d="M275.79 206.11h.95v.95h-.95zM277.06 207.01h.95v.95h-.95zM278.57 211.51h.95v.95h-.95zM293.82 214.69h.95v.95h-.95zM274.99 215.29h.95v.95h-.95zM276.21 215.8h.95v.95h-.95zM278.88 218.26h.95v.95h-.95zM295.17 223.29h.95v.95h-.95zM281.49 225.06h.95v.95h-.95zM276.75 226.05h.95v.95h-.95z"/>
<path fill="#4a8ad0" d="M277.13 205.91h.95v.95h-.95zM275.3 206.96h.95v.95h-.95zM290.55 210.08h.95v.95h-.95zM296.21 211.68h.95v.95h-.95zM296.78 211.85h.95v.95h-.95zM277.13 219.07h.95v.95h-.95zM276.14 220.18h.95v.95h-.95zM277.23 221.04h.95v.95h-.95zM280.06 223.19h.95v.95h-.95z"/>
<path fill="#f2e266" d="M282.44 206.14h.95v.95h-.95zM285.37 205.91h.95v.95h-.95zM286.33 206.17h.95v.95h-.95zM288.27 206.81h.95v.95h-.95zM288.28 208.11h.95v.95h-.95zM287.32 209.11h.95v.95h-.95zM288.09 208.72h.95v.95h-.95zM280.72 209.67h.95v.95h-.95zM282.64 209.92h.95v.95h-.95zM285.78 209.87h.95v.95h-.95zM286.28 209.81h.95v.95h-.95zM283.4 210.76h.95v.95h-.95zM285.52 210.61h.95v.95h-.95zM283.32 220.53h.95v.95h-.95zM284.47 220.22h.95v.95h-.95zM285.63 220.29h.95v.95h-.95zM283.69 220.99h.95v.95h-.95zM287.68 221.17h.95v.95h-.95zM282 222.45h.95v.95h-.95zM287.6 221.99h.95v.95h-.95zM288.35 222.25h.95v.95h-.95zM288.21 223.02h.95v.95h-.95zM282.45 224.26h.95v.95h-.95zM282.4 224.75h.95v.95h-.95zM284.54 226.19h.95v.95h-.95zM285.28 225.95h.95v.95h-.95zM286.25 225.95h.95v.95h-.95z"/>
<path fill="#f59548" d="M284.56 206.35h.95v.95h-.95zM281.53 206.91h.95v.95h-.95zM284.36 207.7h.95v.95h-.95zM283.82 209.12h.95v.95h-.95zM284.61 208.63h.95v.95h-.95zM283.55 209.8h.95v.95h-.95zM284.61 221.3h.95v.95h-.95zM285.49 221.08h.95v.95h-.95zM286.73 221.49h.95v.95h-.95zM283.44 222.01h.95v.95h-.95zM284.66 221.97h.95v.95h-.95zM283.35 223.01h.95v.95h-.95zM284.41 223.13h.95v.95h-.95zM283.38 224.01h.95v.95h-.95zM286.71 224.9h.95v.95h-.95z"/>
<path fill="#d62e3a" d="M282.65 206.71h.95v.95h-.95zM283.63 206.93h.95v.95h-.95zM285.45 207.24h.95v.95h-.95zM286.42 206.97h.95v.95h-.95zM281.66 207.67h.95v.95h-.95zM282.93 208.14h.95v.95h-.95zM283.36 208.2h.95v.95h-.95zM285.22 208.13h.95v.95h-.95zM286.32 207.96h.95v.95h-.95zM281.91 208.6h.95v.95h-.95zM282.37 208.88h.95v.95h-.95zM285.72 208.66h.95v.95h-.95zM286.39 208.92h.95v.95h-.95zM285.5 222.43h.95v.95h-.95zM286.23 222h.95v.95h-.95zM285.21 223.09h.95v.95h-.95zM286.44 223.35h.95v.95h-.95zM284.71 224.07h.95v.95h-.95zM285.46 224.33h.95v.95h-.95zM285.53 225.15h.95v.95h-.95z"/>
</g>
<rect x="271.9" y="201" width="27.5" height="29.1" fill="none" stroke="#bababa" stroke-width="0.85"/>
<g clip-path="url(#jc2)">
<path d="M131.3,135.56 C133.63,135.56 136.34,137.81 138.3,139.22 C140.26,140.62 141.99,142.35 143.06,143.99 C144.13,145.63 144.74,147.36 144.74,149.05 C144.74,150.74 144.13,152.47 143.06,154.11 C141.99,155.75 140.26,157.48 138.3,158.88 C136.34,160.29 133.63,162.54 131.3,162.54 C128.97,162.54 126.26,160.29 124.3,158.88 C122.34,157.48 120.61,155.75 119.54,154.11 C118.47,152.47 117.86,150.74 117.86,149.05 C117.86,147.36 118.47,145.63 119.54,143.99 C120.61,142.35 122.34,140.62 124.3,139.22 C126.26,137.81 128.97,135.56 131.3,135.56Z" fill="#f1f1f9"/>
<path d="M131.3,139.34 C132.98,139.34 134.93,140.96 136.34,141.97 C137.75,142.98 138.99,144.23 139.77,145.41 C140.54,146.59 140.98,147.84 140.98,149.05 C140.98,150.26 140.54,151.51 139.77,152.69 C138.99,153.87 137.75,155.12 136.34,156.13 C134.93,157.14 132.98,158.76 131.3,158.76 C129.62,158.76 127.67,157.14 126.26,156.13 C124.85,155.12 123.61,153.87 122.83,152.69 C122.06,151.51 121.62,150.26 121.62,149.05 C121.62,147.84 122.06,146.59 122.83,145.41 C123.61,144.23 124.85,142.98 126.26,141.97 C127.67,140.96 129.62,139.34 131.3,139.34Z" fill="#e6e6f4"/>
<g filter="url(#bl2)">
<path fill="#6670c4" d="M131.86 136.16h.75v.75h-.75zM126.3 138.4h.75v.75h-.75zM128.07 138.32h.75v.75h-.75zM130.09 138.3h.75v.75h-.75zM131.84 139.15h.75v.75h-.75zM132.81 139.36h.75v.75h-.75zM130.12 140.24h.75v.75h-.75zM135.68 139.76h.75v.75h-.75zM131.3 140.77h.75v.75h-.75zM133.55 140.77h.75v.75h-.75zM137.65 140.82h.75v.75h-.75zM129.7 142.37h.75v.75h-.75zM135.26 142.49h.75v.75h-.75zM138.28 142.59h.75v.75h-.75zM130.89 143.43h.75v.75h-.75zM131.96 143.4h.75v.75h-.75zM135.22 143.08h.75v.75h-.75zM127.77 144.05h.75v.75h-.75zM128.79 143.89h.75v.75h-.75zM136.84 144.22h.75v.75h-.75zM119.91 145.03h.75v.75h-.75zM122.52 144.79h.75v.75h-.75zM133.75 144.91h.75v.75h-.75zM128 145.64h.75v.75h-.75zM129.34 145.66h.75v.75h-.75zM130.16 145.76h.75v.75h-.75zM133.27 145.35h.75v.75h-.75zM136.75 145.78h.75v.75h-.75zM128.91 146.16h.75v.75h-.75zM130.88 146.41h.75v.75h-.75zM132.79 146.54h.75v.75h-.75zM136.01 146.54h.75v.75h-.75zM127.81 147.02h.75v.75h-.75zM132.1 147.25h.75v.75h-.75zM135.81 147.26h.75v.75h-.75zM138.29 146.98h.75v.75h-.75zM142.2 147.06h.75v.75h-.75zM124.05 148.08h.75v.75h-.75zM126.26 148.06h.75v.75h-.75zM127.97 148.06h.75v.75h-.75zM134.41 147.87h.75v.75h-.75zM118.13 148.56h.75v.75h-.75zM123.25 148.69h.75v.75h-.75zM126.97 148.79h.75v.75h-.75zM127.7 148.8h.75v.75h-.75zM130.53 148.87h.75v.75h-.75zM132.81 148.79h.75v.75h-.75zM140.63 148.76h.75v.75h-.75zM120.49 149.69h.75v.75h-.75zM123.98 149.53h.75v.75h-.75zM129.39 149.75h.75v.75h-.75zM135.28 149.66h.75v.75h-.75zM137.55 149.77h.75v.75h-.75zM128.67 150.2h.75v.75h-.75zM138.13 150.58h.75v.75h-.75zM140.1 150.28h.75v.75h-.75zM123.8 151.41h.75v.75h-.75zM124.82 151.17h.75v.75h-.75zM142.86 151.3h.75v.75h-.75zM134.48 152.13h.75v.75h-.75zM132.69 152.73h.75v.75h-.75zM135.93 153.39h.75v.75h-.75zM126.38 154.51h.75v.75h-.75zM131.04 154.21h.75v.75h-.75zM133.38 154.26h.75v.75h-.75zM134.1 154.31h.75v.75h-.75zM139.15 154.31h.75v.75h-.75zM124.95 155.22h.75v.75h-.75zM130.94 155.39h.75v.75h-.75zM140.84 155.06h.75v.75h-.75zM121.69 156.03h.75v.75h-.75zM132.9 155.96h.75v.75h-.75zM134.17 155.84h.75v.75h-.75zM136.85 156.04h.75v.75h-.75zM139.27 155.95h.75v.75h-.75zM122.49 156.71h.75v.75h-.75zM130.98 156.98h.75v.75h-.75zM125.42 157.64h.75v.75h-.75zM134.48 157.7h.75v.75h-.75zM135.06 157.8h.75v.75h-.75zM128.56 159.03h.75v.75h-.75zM133.73 158.99h.75v.75h-.75zM134.89 160.15h.75v.75h-.75z"/>
<path fill="#7292d4" d="M129.55 136.58h.75v.75h-.75zM130.24 136.58h.75v.75h-.75zM131.33 136.92h.75v.75h-.75zM132.83 136.73h.75v.75h-.75zM129.25 137.38h.75v.75h-.75zM130.42 137.48h.75v.75h-.75zM132.1 138.2h.75v.75h-.75zM137.59 139.33h.75v.75h-.75zM133.38 139.83h.75v.75h-.75zM123.1 140.81h.75v.75h-.75zM127.2 140.96h.75v.75h-.75zM129.33 140.59h.75v.75h-.75zM130.52 140.93h.75v.75h-.75zM135.96 140.67h.75v.75h-.75zM139.3 140.74h.75v.75h-.75zM123.31 141.62h.75v.75h-.75zM123.94 141.81h.75v.75h-.75zM127.3 141.68h.75v.75h-.75zM132.89 141.39h.75v.75h-.75zM121.38 142.53h.75v.75h-.75zM127.34 142.63h.75v.75h-.75zM130.08 142.15h.75v.75h-.75zM120.66 143.03h.75v.75h-.75zM126.29 143.08h.75v.75h-.75zM127.72 143.03h.75v.75h-.75zM134.4 144.14h.75v.75h-.75zM135.79 144.14h.75v.75h-.75zM124.73 144.55h.75v.75h-.75zM125.56 144.91h.75v.75h-.75zM135.21 144.65h.75v.75h-.75zM136.81 144.92h.75v.75h-.75zM139.88 144.94h.75v.75h-.75zM141.4 144.86h.75v.75h-.75zM120.6 145.47h.75v.75h-.75zM124.94 145.72h.75v.75h-.75zM131.72 145.46h.75v.75h-.75zM137.54 145.81h.75v.75h-.75zM119.71 146.16h.75v.75h-.75zM127.11 146.22h.75v.75h-.75zM129.3 146.17h.75v.75h-.75zM120.01 147.03h.75v.75h-.75zM125.29 147.44h.75v.75h-.75zM127.19 147.43h.75v.75h-.75zM128.46 147.08h.75v.75h-.75zM130.14 147.38h.75v.75h-.75zM137.62 147.16h.75v.75h-.75zM127.06 148.03h.75v.75h-.75zM131.23 148.17h.75v.75h-.75zM137.29 147.78h.75v.75h-.75zM143.25 147.89h.75v.75h-.75zM120.47 148.63h.75v.75h-.75zM128.68 149.03h.75v.75h-.75zM135.89 149.02h.75v.75h-.75zM139.01 148.77h.75v.75h-.75zM124.7 149.53h.75v.75h-.75zM131.11 149.56h.75v.75h-.75zM120.52 150.57h.75v.75h-.75zM125.62 150.44h.75v.75h-.75zM129.58 150.33h.75v.75h-.75zM136.78 150.47h.75v.75h-.75zM143.05 150.58h.75v.75h-.75zM123.05 151.25h.75v.75h-.75zM126.42 150.95h.75v.75h-.75zM135.16 151.12h.75v.75h-.75zM139.02 151.3h.75v.75h-.75zM120.75 151.97h.75v.75h-.75zM124.89 152.15h.75v.75h-.75zM130.37 152.22h.75v.75h-.75zM131.26 152h.75v.75h-.75zM137.71 151.94h.75v.75h-.75zM143.65 151.89h.75v.75h-.75zM124.06 152.69h.75v.75h-.75zM138.21 153.01h.75v.75h-.75zM121.48 153.62h.75v.75h-.75zM124.9 153.53h.75v.75h-.75zM128.55 153.55h.75v.75h-.75zM134.87 153.81h.75v.75h-.75zM142.21 153.7h.75v.75h-.75zM121.54 154.48h.75v.75h-.75zM122.99 154.55h.75v.75h-.75zM127.12 154.54h.75v.75h-.75zM129.45 154.16h.75v.75h-.75zM130.16 154.47h.75v.75h-.75zM135.79 154.24h.75v.75h-.75zM140.49 154.62h.75v.75h-.75zM141.43 154.58h.75v.75h-.75zM125.48 154.99h.75v.75h-.75zM135.85 155.37h.75v.75h-.75zM131.24 156.12h.75v.75h-.75zM137.45 156.11h.75v.75h-.75zM140.86 155.76h.75v.75h-.75zM132.7 156.72h.75v.75h-.75zM135.91 157h.75v.75h-.75zM139.71 156.98h.75v.75h-.75zM137.52 157.59h.75v.75h-.75zM126.29 158.96h.75v.75h-.75zM133.67 160.06h.75v.75h-.75zM129.67 160.92h.75v.75h-.75z"/>
<path fill="#7680cc" d="M132.12 136.56h.75v.75h-.75zM128.76 137.8h.75v.75h-.75zM133.61 137.61h.75v.75h-.75zM129.29 138.27h.75v.75h-.75zM131 138.38h.75v.75h-.75zM134.29 139.1h.75v.75h-.75zM131.8 139.8h.75v.75h-.75zM128.66 140.88h.75v.75h-.75zM134.45 141.67h.75v.75h-.75zM136.82 141.62h.75v.75h-.75zM139.92 141.35h.75v.75h-.75zM130.91 142.35h.75v.75h-.75zM131.66 142.36h.75v.75h-.75zM133.6 142.45h.75v.75h-.75zM136 142.46h.75v.75h-.75zM139.66 142.16h.75v.75h-.75zM121.44 143.21h.75v.75h-.75zM127.15 143.27h.75v.75h-.75zM128.48 143.42h.75v.75h-.75zM138.54 143.06h.75v.75h-.75zM132.61 144.12h.75v.75h-.75zM133.54 144.23h.75v.75h-.75zM127.04 144.84h.75v.75h-.75zM130.47 144.98h.75v.75h-.75zM134.05 144.6h.75v.75h-.75zM122.32 145.43h.75v.75h-.75zM126.44 145.6h.75v.75h-.75zM132.91 145.57h.75v.75h-.75zM134.46 145.61h.75v.75h-.75zM140.61 145.83h.75v.75h-.75zM143.23 145.78h.75v.75h-.75zM119.14 146.52h.75v.75h-.75zM124.08 146.22h.75v.75h-.75zM126.32 146.58h.75v.75h-.75zM136.67 146.49h.75v.75h-.75zM141.7 146.25h.75v.75h-.75zM119.21 147.43h.75v.75h-.75zM129.47 147.03h.75v.75h-.75zM139.03 146.98h.75v.75h-.75zM120.89 147.78h.75v.75h-.75zM131.94 148.13h.75v.75h-.75zM135.92 148.18h.75v.75h-.75zM136.73 148.15h.75v.75h-.75zM142.38 148.22h.75v.75h-.75zM143.82 147.88h.75v.75h-.75zM129.52 148.83h.75v.75h-.75zM131.8 149.02h.75v.75h-.75zM125.27 149.51h.75v.75h-.75zM126.28 149.73h.75v.75h-.75zM127.24 149.68h.75v.75h-.75zM127.93 149.46h.75v.75h-.75zM132.11 149.56h.75v.75h-.75zM134.52 149.38h.75v.75h-.75zM136.11 149.65h.75v.75h-.75zM136.51 149.64h.75v.75h-.75zM118.44 150.3h.75v.75h-.75zM121.72 150.31h.75v.75h-.75zM122.24 150.2h.75v.75h-.75zM122.98 150.59h.75v.75h-.75zM127.1 150.22h.75v.75h-.75zM127.79 150.61h.75v.75h-.75zM133.32 150.5h.75v.75h-.75zM135.98 151.04h.75v.75h-.75zM136.55 151.1h.75v.75h-.75zM137.46 151.11h.75v.75h-.75zM121.32 152.08h.75v.75h-.75zM136.06 152.18h.75v.75h-.75zM143.34 151.83h.75v.75h-.75zM120.61 152.65h.75v.75h-.75zM130.11 152.87h.75v.75h-.75zM140.54 152.84h.75v.75h-.75zM123.86 153.41h.75v.75h-.75zM125.48 153.76h.75v.75h-.75zM139.08 153.51h.75v.75h-.75zM122.21 154.52h.75v.75h-.75zM127.8 154.23h.75v.75h-.75zM131.67 155.02h.75v.75h-.75zM128.91 156.88h.75v.75h-.75zM129.62 156.83h.75v.75h-.75zM130.11 156.8h.75v.75h-.75zM128.46 157.39h.75v.75h-.75zM129.29 157.83h.75v.75h-.75zM131.3 157.69h.75v.75h-.75zM129.74 159.31h.75v.75h-.75zM128.92 160.23h.75v.75h-.75zM135.67 159.82h.75v.75h-.75zM131.69 160.87h.75v.75h-.75z"/>
<path fill="#8c84d0" d="M127.12 138.29h.75v.75h-.75zM132.77 138.5h.75v.75h-.75zM127.13 139.08h.75v.75h-.75zM132.83 140.12h.75v.75h-.75zM134.4 139.86h.75v.75h-.75zM135.2 139.92h.75v.75h-.75zM131.91 140.77h.75v.75h-.75zM133.33 141.74h.75v.75h-.75zM123.89 142.46h.75v.75h-.75zM128.8 142.44h.75v.75h-.75zM136.47 142.22h.75v.75h-.75zM137.67 142.15h.75v.75h-.75zM124.85 143.17h.75v.75h-.75zM136.47 143.44h.75v.75h-.75zM139.14 143.15h.75v.75h-.75zM125.62 144.18h.75v.75h-.75zM129.65 143.9h.75v.75h-.75zM132.04 143.91h.75v.75h-.75zM137.64 143.9h.75v.75h-.75zM138.18 143.93h.75v.75h-.75zM128.66 144.71h.75v.75h-.75zM135.78 144.6h.75v.75h-.75zM137.61 145.03h.75v.75h-.75zM138.32 145.05h.75v.75h-.75zM128.52 145.46h.75v.75h-.75zM135.34 145.38h.75v.75h-.75zM135.73 145.64h.75v.75h-.75zM125.55 146.48h.75v.75h-.75zM134.96 146.47h.75v.75h-.75zM124.79 147.39h.75v.75h-.75zM131.12 147.04h.75v.75h-.75zM133.53 147.35h.75v.75h-.75zM122.95 148.16h.75v.75h-.75zM129.69 148.05h.75v.75h-.75zM135.2 148.22h.75v.75h-.75zM139.25 147.79h.75v.75h-.75zM136.51 148.97h.75v.75h-.75zM118.48 149.61h.75v.75h-.75zM122.89 149.42h.75v.75h-.75zM132.57 149.6h.75v.75h-.75zM139.81 149.68h.75v.75h-.75zM142.07 149.53h.75v.75h-.75zM143.2 149.46h.75v.75h-.75zM119.91 150.54h.75v.75h-.75zM136.02 150.43h.75v.75h-.75zM141.45 150.33h.75v.75h-.75zM119.11 151.45h.75v.75h-.75zM120.14 151.1h.75v.75h-.75zM126.85 151.14h.75v.75h-.75zM128.86 150.97h.75v.75h-.75zM129.69 151.34h.75v.75h-.75zM133.38 151.37h.75v.75h-.75zM125.26 152.2h.75v.75h-.75zM131.88 151.78h.75v.75h-.75zM132.84 152h.75v.75h-.75zM139.78 151.85h.75v.75h-.75zM119.35 152.76h.75v.75h-.75zM124.6 152.67h.75v.75h-.75zM125.62 152.62h.75v.75h-.75zM126.15 152.69h.75v.75h-.75zM135.24 152.88h.75v.75h-.75zM142.89 153.01h.75v.75h-.75zM122.88 153.81h.75v.75h-.75zM136.77 153.66h.75v.75h-.75zM138.19 153.61h.75v.75h-.75zM123.71 154.24h.75v.75h-.75zM125.68 154.64h.75v.75h-.75zM136.61 154.51h.75v.75h-.75zM126.05 155.25h.75v.75h-.75zM128.69 155.32h.75v.75h-.75zM134.06 155.35h.75v.75h-.75zM127.09 155.77h.75v.75h-.75zM130.25 156.09h.75v.75h-.75zM128.05 156.97h.75v.75h-.75zM131.3 158.46h.75v.75h-.75zM136.47 158.28h.75v.75h-.75zM136.06 159.19h.75v.75h-.75zM128.52 160.67h.75v.75h-.75zM132.45 161.38h.75v.75h-.75z"/>
<path fill="#9c98da" d="M127.81 139.97h.75v.75h-.75zM132.87 140.58h.75v.75h-.75zM127.9 141.65h.75v.75h-.75zM129.55 141.4h.75v.75h-.75zM124.12 143.35h.75v.75h-.75zM129.71 143.37h.75v.75h-.75zM130.54 142.98h.75v.75h-.75zM132.82 143.1h.75v.75h-.75zM134.53 143.26h.75v.75h-.75zM140.68 143.22h.75v.75h-.75zM141.51 143.33h.75v.75h-.75zM126.99 144h.75v.75h-.75zM130.1 144.11h.75v.75h-.75zM135.31 144.24h.75v.75h-.75zM123.78 144.67h.75v.75h-.75zM127.89 144.66h.75v.75h-.75zM130.97 144.63h.75v.75h-.75zM132.8 144.92h.75v.75h-.75zM139.18 144.83h.75v.75h-.75zM123.02 145.85h.75v.75h-.75zM125.45 145.46h.75v.75h-.75zM138.21 145.48h.75v.75h-.75zM120.69 146.54h.75v.75h-.75zM132.11 146.58h.75v.75h-.75zM138.85 146.64h.75v.75h-.75zM136.72 147.12h.75v.75h-.75zM128.58 148.25h.75v.75h-.75zM133.7 147.89h.75v.75h-.75zM121.25 148.99h.75v.75h-.75zM133.68 148.59h.75v.75h-.75zM139.68 149.02h.75v.75h-.75zM119.02 149.67h.75v.75h-.75zM124.58 150.45h.75v.75h-.75zM130.2 150.44h.75v.75h-.75zM132.56 150.16h.75v.75h-.75zM134.98 150.15h.75v.75h-.75zM138.98 150.31h.75v.75h-.75zM140.67 150.41h.75v.75h-.75zM142.05 150.17h.75v.75h-.75zM122.48 151.1h.75v.75h-.75zM132.75 151.37h.75v.75h-.75zM127.81 152.16h.75v.75h-.75zM133.64 152.17h.75v.75h-.75zM134.88 152.2h.75v.75h-.75zM140.74 152.07h.75v.75h-.75zM120.15 152.64h.75v.75h-.75zM133.68 152.91h.75v.75h-.75zM136.92 152.63h.75v.75h-.75zM126.09 153.77h.75v.75h-.75zM129.52 153.85h.75v.75h-.75zM132.5 153.75h.75v.75h-.75zM134.07 153.76h.75v.75h-.75zM137.71 154.22h.75v.75h-.75zM123.79 155.07h.75v.75h-.75zM127.12 155.43h.75v.75h-.75zM132.62 155.12h.75v.75h-.75zM133.37 155.31h.75v.75h-.75zM136.62 155.4h.75v.75h-.75zM123.87 155.83h.75v.75h-.75zM128.85 156.21h.75v.75h-.75zM131.96 155.99h.75v.75h-.75zM135.31 156.23h.75v.75h-.75zM125.73 156.71h.75v.75h-.75zM127.15 156.74h.75v.75h-.75zM134.22 156.84h.75v.75h-.75zM123.94 157.57h.75v.75h-.75zM133.73 157.68h.75v.75h-.75zM139.18 157.8h.75v.75h-.75zM128.09 158.4h.75v.75h-.75zM130.19 158.57h.75v.75h-.75zM125.7 159.03h.75v.75h-.75zM135.21 159.17h.75v.75h-.75zM130.4 159.82h.75v.75h-.75z"/>
</g>
<g filter="url(#bl)">
<path d="M131.3,135 C132.23,135 133.07,137.34 134.1,139.22 C135.13,141.09 136.81,144.6 137.46,146.24 C138.11,147.88 138.02,148.11 138.02,149.05 C138.02,149.99 138.11,150.22 137.46,151.86 C136.81,153.5 135.13,157.01 134.1,158.88 C133.07,160.76 132.23,163.1 131.3,163.1 C130.37,163.1 129.53,160.76 128.5,158.88 C127.47,157.01 125.79,153.5 125.14,151.86 C124.49,150.22 124.58,149.99 124.58,149.05 C124.58,148.11 124.49,147.88 125.14,146.24 C125.79,144.6 127.47,141.09 128.5,139.22 C129.53,137.34 130.37,135 131.3,135Z" fill="#b9e1da"/>
<path d="M131.3,135.28 C131.86,135.28 132.33,137.39 132.98,139.22 C133.63,141.04 134.75,144.6 135.22,146.24 C135.69,147.88 135.78,148.11 135.78,149.05 C135.78,149.99 135.69,150.22 135.22,151.86 C134.75,153.5 133.63,157.06 132.98,158.88 C132.33,160.71 131.86,162.82 131.3,162.82 C130.74,162.82 130.27,160.71 129.62,158.88 C128.97,157.06 127.85,153.5 127.38,151.86 C126.91,150.22 126.82,149.99 126.82,149.05 C126.82,148.11 126.91,147.88 127.38,146.24 C127.85,144.6 128.97,141.04 129.62,139.22 C130.27,137.39 130.74,135.28 131.3,135.28Z" fill="#d7eeba"/>
<ellipse cx="131.3" cy="149.05" rx="1.68" ry="13.49" fill="#faf3ad"/>
<ellipse cx="131.3" cy="149.05" rx="2.8" ry="3.37" fill="#faf3ad"/>
<ellipse cx="131.3" cy="160.29" rx="2.24" ry="2.25" fill="#faf3ad"/>
<ellipse cx="131.3" cy="138.93" rx="1.12" ry="2.81" fill="#f3a674"/>
<ellipse cx="131.3" cy="149.05" rx="2.1" ry="2.53" fill="#f3a674"/>
<ellipse cx="131.3" cy="149.05" rx="1.4" ry="1.83" fill="#dc6276"/>
<ellipse cx="131.3" cy="138.37" rx="0.7" ry="1.69" fill="#dc6276"/>
<ellipse cx="131.3" cy="149.05" rx="0.84" ry="0.98" fill="#a5528f"/>
</g>
<g filter="url(#bl2)" opacity="0.8">
<path fill="#7a9ad6" d="M129.47 139.08h.7v.7h-.7zM127.91 142.45h.7v.7h-.7zM128.61 143.94h.7v.7h-.7zM134.13 145.8h.7v.7h-.7zM136.94 148.97h.7v.7h-.7zM124.92 150.24h.7v.7h-.7zM125.52 150.55h.7v.7h-.7zM134.26 151.25h.7v.7h-.7zM126.49 152.65h.7v.7h-.7zM127.34 155.87h.7v.7h-.7zM128.6 157.83h.7v.7h-.7z"/>
<path fill="#8a90d4" d="M133.71 140.06h.7v.7h-.7zM127.86 141.54h.7v.7h-.7zM134.97 143.36h.7v.7h-.7zM134.51 143.85h.7v.7h-.7zM136.7 146.5h.7v.7h-.7zM127.87 147h.7v.7h-.7zM135.92 147.11h.7v.7h-.7zM126.29 149.36h.7v.7h-.7zM127.76 149.81h.7v.7h-.7zM125.62 151.22h.7v.7h-.7zM133.59 151.38h.7v.7h-.7zM128.5 152.17h.7v.7h-.7zM127.28 152.65h.7v.7h-.7zM136.73 152.65h.7v.7h-.7zM127.97 155.26h.7v.7h-.7zM128.68 155.86h.7v.7h-.7zM132.83 156.04h.7v.7h-.7zM134.09 156.21h.7v.7h-.7zM134.06 157.84h.7v.7h-.7zM128.78 159.1h.7v.7h-.7z"/>
<path fill="#6fa8d0" d="M129.52 140.69h.7v.7h-.7zM128.57 142.16h.7v.7h-.7zM134.47 143.24h.7v.7h-.7zM126.31 146.61h.7v.7h-.7zM134.41 146.2h.7v.7h-.7zM134.99 147.01h.7v.7h-.7zM134.13 148.23h.7v.7h-.7zM126.33 148.86h.7v.7h-.7zM135.03 149.78h.7v.7h-.7zM129.46 151.84h.7v.7h-.7zM133.73 151.75h.7v.7h-.7zM129.52 152.63h.7v.7h-.7zM133.61 156.68h.7v.7h-.7zM128 157.68h.7v.7h-.7zM129.73 157.65h.7v.7h-.7z"/>
<path fill="#9aa8dc" d="M129.73 141.56h.7v.7h-.7zM127.3 148.65h.7v.7h-.7zM134.29 150.34h.7v.7h-.7zM134.87 150.16h.7v.7h-.7zM136.55 150.43h.7v.7h-.7zM135.7 152.1h.7v.7h-.7zM134.97 153.62h.7v.7h-.7zM128.71 154.63h.7v.7h-.7zM133.27 155.01h.7v.7h-.7zM128.74 156.99h.7v.7h-.7z"/>
</g>
</g>
<rect x="117.3" y="135" width="28" height="28.1" fill="none" stroke="#bababa" stroke-width="0.85"/>
<g clip-path="url(#jc7)">
<path fill="#f59548" d="M325.9 135.44h.95v.95h-.95zM324.82 136.55h.95v.95h-.95zM326.68 137.4h.95v.95h-.95zM326.66 138.22h.95v.95h-.95zM325.18 139.4h.95v.95h-.95zM325.77 139.32h.95v.95h-.95zM325.66 140.26h.95v.95h-.95zM325.86 146.77h.95v.95h-.95zM324.17 147.38h.95v.95h-.95zM327.02 147.38h.95v.95h-.95zM324.21 148.78h.95v.95h-.95zM323.66 149.3h.95v.95h-.95zM324.25 150.5h.95v.95h-.95zM327 150.73h.95v.95h-.95zM326.83 151.17h.95v.95h-.95z"/>
<path fill="#d62e3a" d="M325.74 136h.95v.95h-.95zM324.93 137.24h.95v.95h-.95zM325.81 137.17h.95v.95h-.95zM325.14 138.11h.95v.95h-.95zM326.05 138.13h.95v.95h-.95zM324.99 147.56h.95v.95h-.95zM325.67 147.69h.95v.95h-.95zM324.86 148.75h.95v.95h-.95zM325.8 148.74h.95v.95h-.95zM326.7 148.51h.95v.95h-.95zM324.98 149.75h.95v.95h-.95zM326.13 149.25h.95v.95h-.95zM326.97 149.37h.95v.95h-.95zM325.07 150.48h.95v.95h-.95zM325.96 150.63h.95v.95h-.95z"/>
<path fill="#58b4c4" d="M323.81 139.22h.95v.95h-.95zM326.72 138.97h.95v.95h-.95zM327.89 139.32h.95v.95h-.95zM324.12 140.18h.95v.95h-.95zM323.04 140.88h.95v.95h-.95zM324.11 141.23h.95v.95h-.95zM326.84 141.09h.95v.95h-.95zM322.82 142.01h.95v.95h-.95zM323.1 143.93h.95v.95h-.95zM322.92 145.07h.95v.95h-.95zM327.53 144.87h.95v.95h-.95zM329.38 144.64h.95v.95h-.95zM323.12 145.57h.95v.95h-.95zM323.77 145.54h.95v.95h-.95zM328.57 146h.95v.95h-.95zM322.23 146.51h.95v.95h-.95zM327.58 146.86h.95v.95h-.95zM328.42 148.76h.95v.95h-.95zM329.54 148.65h.95v.95h-.95zM321.91 149.47h.95v.95h-.95zM323.08 150.27h.95v.95h-.95zM328.04 150.29h.95v.95h-.95zM328.58 150.21h.95v.95h-.95zM328.01 151.37h.95v.95h-.95zM328.79 151.22h.95v.95h-.95zM323.12 152.15h.95v.95h-.95zM327.9 152.33h.95v.95h-.95zM329.51 152.41h.95v.95h-.95zM322.06 153.22h.95v.95h-.95zM327.76 157.21h.95v.95h-.95zM327.79 158.34h.95v.95h-.95zM324.13 159.31h.95v.95h-.95z"/>
<path fill="#6a5cc0" d="M330.86 139.18h.95v.95h-.95zM320.43 142.95h.95v.95h-.95zM319.31 144.58h.95v.95h-.95zM315.48 146.81h.95v.95h-.95zM336.35 146.91h.95v.95h-.95zM331.62 148.87h.95v.95h-.95zM332.69 150.52h.95v.95h-.95zM333.28 150.32h.95v.95h-.95zM332.7 151.37h.95v.95h-.95zM320.27 159.28h.95v.95h-.95z"/>
<path fill="#4a5cc0" d="M319.18 140.05h.95v.95h-.95zM318.34 141.14h.95v.95h-.95zM333.33 142.16h.95v.95h-.95zM321.86 142.77h.95v.95h-.95zM335.52 143.14h.95v.95h-.95zM316.27 144.12h.95v.95h-.95zM330.84 146.87h.95v.95h-.95zM330.87 150.58h.95v.95h-.95zM320 153.3h.95v.95h-.95zM332.77 154.31h.95v.95h-.95z"/>
<path fill="#4a8ad0" d="M332.34 140.18h.95v.95h-.95zM317.48 141.82h.95v.95h-.95zM318.11 144.85h.95v.95h-.95zM318.03 145.76h.95v.95h-.95zM336.51 145.61h.95v.95h-.95zM331.46 146.97h.95v.95h-.95zM313.51 150.32h.95v.95h-.95zM331.59 150.76h.95v.95h-.95zM320.83 152.49h.95v.95h-.95zM315.14 153.4h.95v.95h-.95zM316.4 155.34h.95v.95h-.95zM334.24 155.3h.95v.95h-.95zM336.39 155.02h.95v.95h-.95zM331.43 157.96h.95v.95h-.95z"/>
<path fill="#f2e266" d="M326.12 141.08h.95v.95h-.95zM325.75 142.04h.95v.95h-.95zM326.51 142.16h.95v.95h-.95zM324.7 142.81h.95v.95h-.95zM326.1 142.69h.95v.95h-.95zM327 142.98h.95v.95h-.95zM324.66 144.6h.95v.95h-.95zM326.86 144.55h.95v.95h-.95zM325.17 145.45h.95v.95h-.95zM325.59 145.47h.95v.95h-.95zM324.12 146.83h.95v.95h-.95zM325.06 146.53h.95v.95h-.95zM327.01 146.54h.95v.95h-.95zM324.23 151.29h.95v.95h-.95zM325.07 151.62h.95v.95h-.95zM324.76 152.15h.95v.95h-.95zM323.8 153.49h.95v.95h-.95zM325.72 153.08h.95v.95h-.95zM326.56 153.64h.95v.95h-.95zM323.8 154.26h.95v.95h-.95zM325.2 154.46h.95v.95h-.95zM326.95 154.07h.95v.95h-.95zM324.83 155.01h.95v.95h-.95zM325.86 154.98h.95v.95h-.95zM324.12 155.98h.95v.95h-.95zM325.17 156h.95v.95h-.95zM325.96 156.25h.95v.95h-.95zM326.53 156.3h.95v.95h-.95zM324.91 157.23h.95v.95h-.95zM325.07 158.27h.95v.95h-.95zM325.75 158.18h.95v.95h-.95zM326.73 158.25h.95v.95h-.95zM324.71 158.75h.95v.95h-.95zM326.95 158.91h.95v.95h-.95zM324.76 159.9h.95v.95h-.95zM325.56 159.79h.95v.95h-.95zM325.07 160.99h.95v.95h-.95zM325.76 160.82h.95v.95h-.95z"/>
<path fill="#5a6ad0" d="M332.72 141.69h.95v.95h-.95zM333.2 146.01h.95v.95h-.95zM318.04 147.67h.95v.95h-.95zM317.15 148.64h.95v.95h-.95zM314.51 149.79h.95v.95h-.95zM317.15 149.82h.95v.95h-.95zM331.84 149.72h.95v.95h-.95zM318.17 150.3h.95v.95h-.95zM320.18 152.62h.95v.95h-.95zM337.4 152.45h.95v.95h-.95zM318.94 153.05h.95v.95h-.95zM334.6 153.59h.95v.95h-.95zM315.44 155.38h.95v.95h-.95zM320.02 156.16h.95v.95h-.95zM332.7 156.22h.95v.95h-.95zM320.23 157.13h.95v.95h-.95z"/>
</g>
<rect x="311.3" y="135" width="28.7" height="28.1" fill="none" stroke="#bababa" stroke-width="0.85"/>
<g clip-path="url(#jc12)">
<path d="M131.6,202.75 C133.65,202.75 135.89,205.27 137.76,206.82 C139.63,208.37 141.63,210.6 142.8,212.06 C143.97,213.51 144.76,214.39 144.76,215.55 C144.76,216.71 143.97,217.59 142.8,219.04 C141.63,220.5 139.63,222.63 137.76,224.28 C135.89,225.93 133.65,228.94 131.6,228.94 C129.55,228.94 127.31,225.93 125.44,224.28 C123.57,222.63 121.57,220.5 120.4,219.04 C119.23,217.59 118.44,216.71 118.44,215.55 C118.44,214.39 119.23,213.51 120.4,212.06 C121.57,210.6 123.57,208.37 125.44,206.82 C127.31,205.27 129.55,202.75 131.6,202.75Z" fill="#f1f1f9"/>
<path d="M131.6,206.34 C133.08,206.34 134.69,208.16 136.04,209.28 C137.38,210.4 138.82,212 139.66,213.05 C140.5,214.1 141.08,214.73 141.08,215.56 C141.08,216.4 140.5,217.03 139.66,218.08 C138.82,219.13 137.38,220.66 136.04,221.85 C134.69,223.04 133.08,225.2 131.6,225.2 C130.12,225.2 128.51,223.04 127.16,221.85 C125.82,220.66 124.38,219.13 123.54,218.08 C122.7,217.03 122.12,216.4 122.12,215.56 C122.12,214.73 122.7,214.1 123.54,213.05 C124.38,212 125.82,210.4 127.16,209.28 C128.51,208.16 130.12,206.34 131.6,206.34Z" fill="#e6e6f4"/>
<g filter="url(#bl2)">
<path fill="#7292d4" d="M132.26 203.44h.75v.75h-.75zM132.78 203.64h.75v.75h-.75zM129.74 204.46h.75v.75h-.75zM131.24 204.61h.75v.75h-.75zM132.17 205.31h.75v.75h-.75zM130.57 205.87h.75v.75h-.75zM125.94 206.98h.75v.75h-.75zM134.36 206.8h.75v.75h-.75zM137.57 206.71h.75v.75h-.75zM132.33 207.78h.75v.75h-.75zM134.56 207.56h.75v.75h-.75zM128.22 208.23h.75v.75h-.75zM129.77 208.51h.75v.75h-.75zM130.53 208.18h.75v.75h-.75zM132.44 208.41h.75v.75h-.75zM132.89 208.63h.75v.75h-.75zM138.63 208.6h.75v.75h-.75zM124.97 208.98h.75v.75h-.75zM135.15 210.24h.75v.75h-.75zM136.27 209.99h.75v.75h-.75zM124.78 210.93h.75v.75h-.75zM129.62 210.62h.75v.75h-.75zM135.55 210.79h.75v.75h-.75zM137.18 210.6h.75v.75h-.75zM125.68 211.48h.75v.75h-.75zM126.44 211.38h.75v.75h-.75zM127.19 211.53h.75v.75h-.75zM128.32 211.63h.75v.75h-.75zM135.42 211.75h.75v.75h-.75zM121.72 212.43h.75v.75h-.75zM133.16 212.19h.75v.75h-.75zM124.35 214.21h.75v.75h-.75zM133.82 213.85h.75v.75h-.75zM138.56 213.75h.75v.75h-.75zM121.11 215.02h.75v.75h-.75zM122.51 214.74h.75v.75h-.75zM126.51 214.85h.75v.75h-.75zM129.59 214.64h.75v.75h-.75zM139.99 214.88h.75v.75h-.75zM140.79 214.91h.75v.75h-.75zM126.64 215.68h.75v.75h-.75zM132.15 215.71h.75v.75h-.75zM124.95 216.54h.75v.75h-.75zM125.55 216.62h.75v.75h-.75zM126.71 216.51h.75v.75h-.75zM128.17 216.29h.75v.75h-.75zM129.15 216.58h.75v.75h-.75zM137.69 216.26h.75v.75h-.75zM122.79 217.39h.75v.75h-.75zM132.4 217.25h.75v.75h-.75zM133 217.32h.75v.75h-.75zM133.73 217.05h.75v.75h-.75zM135.17 217.36h.75v.75h-.75zM143.36 217.35h.75v.75h-.75zM122.39 217.85h.75v.75h-.75zM123.35 218.09h.75v.75h-.75zM126.66 218.11h.75v.75h-.75zM129.67 217.91h.75v.75h-.75zM124.19 218.61h.75v.75h-.75zM129.11 218.64h.75v.75h-.75zM140.27 218.92h.75v.75h-.75zM137.92 220.59h.75v.75h-.75zM127.42 221.26h.75v.75h-.75zM128.88 221.14h.75v.75h-.75zM133.97 221.28h.75v.75h-.75zM124.21 222.18h.75v.75h-.75zM128.41 222.06h.75v.75h-.75zM130 222.08h.75v.75h-.75zM125.99 222.67h.75v.75h-.75zM129.77 222.84h.75v.75h-.75zM137.87 222.64h.75v.75h-.75zM128.26 223.65h.75v.75h-.75zM130.83 223.58h.75v.75h-.75zM132.82 223.68h.75v.75h-.75z"/>
<path fill="#7680cc" d="M130.77 204.37h.75v.75h-.75zM131.37 207.04h.75v.75h-.75zM132.14 206.76h.75v.75h-.75zM136.31 206.74h.75v.75h-.75zM129.95 207.5h.75v.75h-.75zM129.16 209.14h.75v.75h-.75zM134.43 209.15h.75v.75h-.75zM135.22 209.1h.75v.75h-.75zM131.25 209.81h.75v.75h-.75zM132.88 210.16h.75v.75h-.75zM133.88 209.78h.75v.75h-.75zM139.22 210.09h.75v.75h-.75zM126.82 210.56h.75v.75h-.75zM130.64 210.99h.75v.75h-.75zM132.25 211.02h.75v.75h-.75zM140.85 211h.75v.75h-.75zM121.91 211.44h.75v.75h-.75zM124.21 211.74h.75v.75h-.75zM121.2 212.55h.75v.75h-.75zM130.68 212.4h.75v.75h-.75zM134.43 212.62h.75v.75h-.75zM122.46 213.04h.75v.75h-.75zM129.07 213.26h.75v.75h-.75zM130.04 213.17h.75v.75h-.75zM131.38 213.17h.75v.75h-.75zM132.89 213.35h.75v.75h-.75zM137.95 213.16h.75v.75h-.75zM122.8 214.15h.75v.75h-.75zM123.63 213.89h.75v.75h-.75zM126.8 214.18h.75v.75h-.75zM127.38 214.14h.75v.75h-.75zM135.29 214.05h.75v.75h-.75zM139.5 213.88h.75v.75h-.75zM121.71 214.94h.75v.75h-.75zM136.1 214.83h.75v.75h-.75zM139.19 214.73h.75v.75h-.75zM143.53 214.88h.75v.75h-.75zM122.7 215.55h.75v.75h-.75zM133.78 215.76h.75v.75h-.75zM137.1 215.72h.75v.75h-.75zM140.39 216.59h.75v.75h-.75zM128.22 217.35h.75v.75h-.75zM136.9 217.4h.75v.75h-.75zM138.63 217.03h.75v.75h-.75zM124.04 218.24h.75v.75h-.75zM131.29 218.05h.75v.75h-.75zM136.04 217.81h.75v.75h-.75zM140.83 218.05h.75v.75h-.75zM142.74 218.13h.75v.75h-.75zM132.97 219.61h.75v.75h-.75zM136.33 219.69h.75v.75h-.75zM127.97 220.49h.75v.75h-.75zM131.34 220.56h.75v.75h-.75zM124.97 221.06h.75v.75h-.75zM131.65 223.02h.75v.75h-.75zM127.34 223.68h.75v.75h-.75zM127.16 224.45h.75v.75h-.75zM128.13 224.25h.75v.75h-.75zM127.52 225.22h.75v.75h-.75zM135.38 225.23h.75v.75h-.75zM130.59 226.9h.75v.75h-.75z"/>
<path fill="#9c98da" d="M127.37 206h.75v.75h-.75zM128.11 207.8h.75v.75h-.75zM131.25 207.83h.75v.75h-.75zM133.83 207.74h.75v.75h-.75zM135.59 207.62h.75v.75h-.75zM137.8 207.83h.75v.75h-.75zM128.92 208.23h.75v.75h-.75zM124.02 209.44h.75v.75h-.75zM131.16 209.39h.75v.75h-.75zM138.39 208.96h.75v.75h-.75zM136.77 210.01h.75v.75h-.75zM137.57 209.9h.75v.75h-.75zM134.81 210.87h.75v.75h-.75zM130.02 211.5h.75v.75h-.75zM133.93 211.51h.75v.75h-.75zM129.92 212.22h.75v.75h-.75zM140.76 212.65h.75v.75h-.75zM123.41 213.43h.75v.75h-.75zM132.29 213.25h.75v.75h-.75zM135.62 213.13h.75v.75h-.75zM142.04 212.96h.75v.75h-.75zM120.83 213.98h.75v.75h-.75zM134.55 213.85h.75v.75h-.75zM136.82 214h.75v.75h-.75zM138.02 213.92h.75v.75h-.75zM142.75 214.23h.75v.75h-.75zM119.33 214.88h.75v.75h-.75zM125.86 214.95h.75v.75h-.75zM134.62 214.65h.75v.75h-.75zM120.15 215.75h.75v.75h-.75zM124.35 215.48h.75v.75h-.75zM133.01 215.45h.75v.75h-.75zM134.44 215.72h.75v.75h-.75zM139.17 215.65h.75v.75h-.75zM141.55 215.66h.75v.75h-.75zM144.3 215.38h.75v.75h-.75zM121.64 216.35h.75v.75h-.75zM127.47 216.42h.75v.75h-.75zM132.39 216.63h.75v.75h-.75zM133.02 216.42h.75v.75h-.75zM133.82 216.4h.75v.75h-.75zM135.39 216.23h.75v.75h-.75zM138.7 216.16h.75v.75h-.75zM144 216.23h.75v.75h-.75zM120.32 217.34h.75v.75h-.75zM125.19 217.28h.75v.75h-.75zM129.69 217.13h.75v.75h-.75zM131.27 217.19h.75v.75h-.75zM142.85 217.4h.75v.75h-.75zM125.74 218.19h.75v.75h-.75zM134.81 218.16h.75v.75h-.75zM136.81 217.94h.75v.75h-.75zM132.04 218.9h.75v.75h-.75zM135.29 219.05h.75v.75h-.75zM125 219.75h.75v.75h-.75zM125.93 219.84h.75v.75h-.75zM126.76 219.69h.75v.75h-.75zM133.95 219.66h.75v.75h-.75zM137.97 219.6h.75v.75h-.75zM141.91 219.47h.75v.75h-.75zM123.23 220.24h.75v.75h-.75zM128.99 220.41h.75v.75h-.75zM133.98 220.62h.75v.75h-.75zM135.38 221.03h.75v.75h-.75zM133.94 222.18h.75v.75h-.75zM134.8 222.06h.75v.75h-.75zM137.09 221.92h.75v.75h-.75zM127.51 222.92h.75v.75h-.75zM128.28 222.77h.75v.75h-.75zM128.76 222.65h.75v.75h-.75zM130.48 222.9h.75v.75h-.75zM132.16 223.72h.75v.75h-.75zM133.85 223.71h.75v.75h-.75zM136.98 223.75h.75v.75h-.75zM128.85 224.4h.75v.75h-.75zM130.81 224.6h.75v.75h-.75zM132.14 224.24h.75v.75h-.75zM136.17 224.37h.75v.75h-.75zM134.6 225.33h.75v.75h-.75zM136.04 225.1h.75v.75h-.75zM131.44 228.52h.75v.75h-.75z"/>
<path fill="#6670c4" d="M133.62 205.77h.75v.75h-.75zM126.58 207.69h.75v.75h-.75zM125.05 208.42h.75v.75h-.75zM134.42 208.38h.75v.75h-.75zM135.63 208.16h.75v.75h-.75zM133.84 209.41h.75v.75h-.75zM132.22 209.99h.75v.75h-.75zM134.82 210.13h.75v.75h-.75zM131.58 210.55h.75v.75h-.75zM136.06 210.67h.75v.75h-.75zM127.16 212.56h.75v.75h-.75zM128.18 212.53h.75v.75h-.75zM136.06 212.29h.75v.75h-.75zM139.41 212.59h.75v.75h-.75zM128.14 213.04h.75v.75h-.75zM130.78 213.34h.75v.75h-.75zM134.38 213.19h.75v.75h-.75zM136.24 213.32h.75v.75h-.75zM138.74 212.99h.75v.75h-.75zM131.49 214.08h.75v.75h-.75zM123.33 214.92h.75v.75h-.75zM132.16 214.58h.75v.75h-.75zM135.39 214.65h.75v.75h-.75zM136.98 214.99h.75v.75h-.75zM138.01 214.81h.75v.75h-.75zM124.17 216.25h.75v.75h-.75zM129.73 216.47h.75v.75h-.75zM125.72 217.09h.75v.75h-.75zM127.48 217h.75v.75h-.75zM134.84 217.41h.75v.75h-.75zM136.43 217.27h.75v.75h-.75zM125.14 217.89h.75v.75h-.75zM127.16 217.77h.75v.75h-.75zM130.42 217.82h.75v.75h-.75zM133.69 217.9h.75v.75h-.75zM135.52 218.14h.75v.75h-.75zM129.91 218.58h.75v.75h-.75zM137.84 218.96h.75v.75h-.75zM121.65 219.46h.75v.75h-.75zM123.34 219.46h.75v.75h-.75zM129 219.52h.75v.75h-.75zM131.46 219.67h.75v.75h-.75zM127.64 220.6h.75v.75h-.75zM129.78 220.58h.75v.75h-.75zM130.8 220.34h.75v.75h-.75zM134.58 220.46h.75v.75h-.75zM129.74 221.19h.75v.75h-.75zM138.56 221.18h.75v.75h-.75zM132.87 222.12h.75v.75h-.75zM135.64 221.97h.75v.75h-.75zM138.83 222.73h.75v.75h-.75zM134.38 224.16h.75v.75h-.75zM131.33 225.06h.75v.75h-.75z"/>
<path fill="#8c84d0" d="M135.46 206.17h.75v.75h-.75zM137.19 206.66h.75v.75h-.75zM127.38 208.38h.75v.75h-.75zM136 208.46h.75v.75h-.75zM130.66 209.08h.75v.75h-.75zM137.69 208.99h.75v.75h-.75zM125 209.86h.75v.75h-.75zM127.26 210.08h.75v.75h-.75zM129.08 209.79h.75v.75h-.75zM123.33 210.88h.75v.75h-.75zM129.05 211.04h.75v.75h-.75zM133.1 210.8h.75v.75h-.75zM136.23 211.76h.75v.75h-.75zM139.21 211.7h.75v.75h-.75zM141.95 211.47h.75v.75h-.75zM125.17 212.48h.75v.75h-.75zM126.54 212.31h.75v.75h-.75zM131.62 212.4h.75v.75h-.75zM132.32 212.35h.75v.75h-.75zM133.74 212.35h.75v.75h-.75zM135.18 212.48h.75v.75h-.75zM139.98 212.42h.75v.75h-.75zM123.99 213.27h.75v.75h-.75zM127.22 213.05h.75v.75h-.75zM133.66 213.16h.75v.75h-.75zM139.18 213.41h.75v.75h-.75zM125.07 214.1h.75v.75h-.75zM128.78 213.85h.75v.75h-.75zM132.04 214.16h.75v.75h-.75zM136.08 213.89h.75v.75h-.75zM140.84 214.09h.75v.75h-.75zM143.19 214.23h.75v.75h-.75zM133.2 214.55h.75v.75h-.75zM142.01 214.56h.75v.75h-.75zM125.57 215.84h.75v.75h-.75zM128.43 215.82h.75v.75h-.75zM131.23 215.56h.75v.75h-.75zM140.01 215.43h.75v.75h-.75zM140.78 215.54h.75v.75h-.75zM122.76 216.29h.75v.75h-.75zM130.7 216.29h.75v.75h-.75zM128.09 217.84h.75v.75h-.75zM122.59 218.61h.75v.75h-.75zM126.61 218.93h.75v.75h-.75zM127.48 219.01h.75v.75h-.75zM131.17 218.71h.75v.75h-.75zM133.17 218.68h.75v.75h-.75zM137 218.73h.75v.75h-.75zM139.25 218.87h.75v.75h-.75zM130.04 219.62h.75v.75h-.75zM131.96 219.45h.75v.75h-.75zM135.28 219.69h.75v.75h-.75zM136.86 219.61h.75v.75h-.75zM140.83 219.8h.75v.75h-.75zM121.89 220.3h.75v.75h-.75zM126.81 220.2h.75v.75h-.75zM133 220.49h.75v.75h-.75zM135.58 220.47h.75v.75h-.75zM128.05 221.15h.75v.75h-.75zM131.98 221.1h.75v.75h-.75zM134.64 221.07h.75v.75h-.75zM125.8 221.95h.75v.75h-.75zM132.14 221.77h.75v.75h-.75zM124.11 222.66h.75v.75h-.75zM133.76 222.98h.75v.75h-.75zM125.19 223.81h.75v.75h-.75zM129.91 223.62h.75v.75h-.75zM128.18 225.84h.75v.75h-.75zM130.55 226.23h.75v.75h-.75zM129.87 226.68h.75v.75h-.75zM131.45 227.7h.75v.75h-.75z"/>
</g>
<g filter="url(#bl)">
<ellipse cx="131.6" cy="208.57" rx="6.72" ry="6.69" fill="#b9e1da"/>
<ellipse cx="131.6" cy="223.7" rx="6.44" ry="5.53" fill="#b9e1da"/>
<ellipse cx="131.6" cy="215.55" rx="3.92" ry="8.73" fill="#b9e1da"/>
<ellipse cx="131.6" cy="208.57" rx="5.04" ry="5.53" fill="#d7eeba"/>
<ellipse cx="131.6" cy="223.99" rx="5.04" ry="4.66" fill="#d7eeba"/>
<ellipse cx="131.6" cy="208.57" rx="3.92" ry="4.51" fill="#faf3ad"/>
<ellipse cx="131.6" cy="223.99" rx="3.92" ry="3.64" fill="#faf3ad"/>
<ellipse cx="131.6" cy="208.57" rx="3.36" ry="3.49" fill="#f3a674"/>
<ellipse cx="131.6" cy="223.99" rx="2.52" ry="2.33" fill="#f3a674"/>
<ellipse cx="131.6" cy="208.42" rx="2.24" ry="2.62" fill="#dc6276"/>
<ellipse cx="131.6" cy="208.28" rx="1.4" ry="1.75" fill="#a5528f"/>
<ellipse cx="131.6" cy="223.99" rx="1.4" ry="1.45" fill="#f29068"/>
</g>
<g filter="url(#bl2)" opacity="0.8">
<path fill="#7a9ad6" d="M131.5 203.36h.7v.7h-.7zM132.2 203.43h.7v.7h-.7zM135.61 209.84h.7v.7h-.7zM136.39 209.91h.7v.7h-.7zM128.27 213.41h.7v.7h-.7zM132.96 213.21h.7v.7h-.7zM127.56 213.76h.7v.7h-.7zM128.18 215.39h.7v.7h-.7zM133.18 216.45h.7v.7h-.7zM135.28 216.62h.7v.7h-.7zM129.69 217.12h.7v.7h-.7zM128.77 218.92h.7v.7h-.7zM133.65 218.87h.7v.7h-.7zM135.16 218.94h.7v.7h-.7zM128.07 220.36h.7v.7h-.7zM135.18 220.43h.7v.7h-.7zM125.85 221.37h.7v.7h-.7zM128.12 221.2h.7v.7h-.7zM136.15 223.47h.7v.7h-.7zM125.79 224.51h.7v.7h-.7zM137.07 224.43h.7v.7h-.7z"/>
<path fill="#6fa8d0" d="M129.9 204.24h.7v.7h-.7zM136.36 206.12h.7v.7h-.7zM135.47 207.35h.7v.7h-.7zM127.35 208.26h.7v.7h-.7zM134.58 211.6h.7v.7h-.7zM133.95 212.97h.7v.7h-.7zM134.38 213.42h.7v.7h-.7zM129.78 216.17h.7v.7h-.7zM132.82 219.04h.7v.7h-.7zM134.67 220.24h.7v.7h-.7zM135.53 222.86h.7v.7h-.7zM127.49 225.22h.7v.7h-.7z"/>
<path fill="#8a90d4" d="M134 204.5h.7v.7h-.7zM135.5 209.02h.7v.7h-.7zM137.7 210.91h.7v.7h-.7zM137.02 211.78h.7v.7h-.7zM129.21 213.85h.7v.7h-.7zM133.77 215.47h.7v.7h-.7zM128.15 217.4h.7v.7h-.7zM132.37 217.33h.7v.7h-.7zM131.95 218.75h.7v.7h-.7zM136.33 220.18h.7v.7h-.7zM127.52 221.13h.7v.7h-.7zM137.22 223.71h.7v.7h-.7z"/>
<path fill="#9aa8dc" d="M134.85 205.99h.7v.7h-.7zM135.46 205.84h.7v.7h-.7zM137.15 207.45h.7v.7h-.7zM125.12 208.27h.7v.7h-.7zM127.19 209.43h.7v.7h-.7zM137.86 210.09h.7v.7h-.7zM127.25 211.63h.7v.7h-.7zM129.15 214.81h.7v.7h-.7zM134.53 214.8h.7v.7h-.7zM132.02 215.53h.7v.7h-.7zM132.44 216.64h.7v.7h-.7zM133.72 219.71h.7v.7h-.7zM126.85 220.24h.7v.7h-.7zM135.99 222.14h.7v.7h-.7zM136.81 222.64h.7v.7h-.7zM137.65 223.64h.7v.7h-.7z"/>
</g>
</g>
<rect x="117.6" y="201" width="28" height="29.1" fill="none" stroke="#bababa" stroke-width="0.85"/>
<g clip-path="url(#jc17)">
<path fill="#58b4c4" d="M325.5 203.43h.95v.95h-.95zM323.49 203.88h.95v.95h-.95zM324.5 204.33h.95v.95h-.95zM326.48 203.88h.95v.95h-.95zM323.49 205.04h.95v.95h-.95zM321.01 206.82h.95v.95h-.95zM330.04 207.99h.95v.95h-.95zM329.36 209.17h.95v.95h-.95zM322.85 209.97h.95v.95h-.95zM319.86 210.77h.95v.95h-.95zM321.49 210.83h.95v.95h-.95zM329.27 210.57h.95v.95h-.95zM330.24 211.02h.95v.95h-.95zM319.19 211.99h.95v.95h-.95zM322.78 211.58h.95v.95h-.95zM323.64 211.93h.95v.95h-.95zM324.76 211.94h.95v.95h-.95zM327.39 211.79h.95v.95h-.95zM318.69 212.9h.95v.95h-.95zM319.89 212.99h.95v.95h-.95zM327.54 212.5h.95v.95h-.95zM330.48 212.53h.95v.95h-.95zM318.94 213.37h.95v.95h-.95zM321.02 213.56h.95v.95h-.95zM324.38 213.78h.95v.95h-.95zM331.35 213.55h.95v.95h-.95zM318.68 214.87h.95v.95h-.95zM319.56 214.55h.95v.95h-.95zM320.66 214.53h.95v.95h-.95zM321.48 214.5h.95v.95h-.95zM322.98 214.46h.95v.95h-.95zM325.79 214.86h.95v.95h-.95zM318.73 215.43h.95v.95h-.95zM321.66 215.43h.95v.95h-.95zM322.89 215.7h.95v.95h-.95zM323.78 215.82h.95v.95h-.95zM325.58 215.45h.95v.95h-.95zM326.45 215.64h.95v.95h-.95zM330.24 215.8h.95v.95h-.95zM318.76 216.74h.95v.95h-.95zM321.48 216.64h.95v.95h-.95zM326.44 216.38h.95v.95h-.95zM327.41 216.22h.95v.95h-.95zM330.31 216.76h.95v.95h-.95zM331.02 216.24h.95v.95h-.95zM322.42 217.42h.95v.95h-.95zM325.45 217.61h.95v.95h-.95zM330.53 217.75h.95v.95h-.95zM331.49 217.27h.95v.95h-.95zM321.82 218.47h.95v.95h-.95zM323.36 218.38h.95v.95h-.95zM326.38 218.37h.95v.95h-.95zM329.49 218.15h.95v.95h-.95zM330.42 218.69h.95v.95h-.95zM331.24 218.31h.95v.95h-.95zM319.58 219.59h.95v.95h-.95zM320.51 219.13h.95v.95h-.95zM329.2 219.62h.95v.95h-.95zM330.47 219.1h.95v.95h-.95zM331.24 219.57h.95v.95h-.95zM329.38 220.02h.95v.95h-.95zM330.26 220.35h.95v.95h-.95zM324.41 227.62h.95v.95h-.95z"/>
<path fill="#5a6ad0" d="M322.02 204.19h.95v.95h-.95zM314.9 207.15h.95v.95h-.95zM314.84 210.02h.95v.95h-.95zM314.85 210.61h.95v.95h-.95zM336.29 212.65h.95v.95h-.95zM315.27 216.22h.95v.95h-.95zM313.99 219.57h.95v.95h-.95zM333.44 219.5h.95v.95h-.95zM317.96 225.01h.95v.95h-.95z"/>
<path fill="#f2e266" d="M324.65 204.94h.95v.95h-.95zM325.82 204.87h.95v.95h-.95zM322.89 206.21h.95v.95h-.95zM323.8 206.08h.95v.95h-.95zM328.31 207.19h.95v.95h-.95zM322.89 207.87h.95v.95h-.95zM323.53 207.92h.95v.95h-.95zM328.48 208.12h.95v.95h-.95zM322.65 209.02h.95v.95h-.95zM323.37 208.74h.95v.95h-.95zM323.58 209.62h.95v.95h-.95zM325.43 210.93h.95v.95h-.95zM327.67 210.63h.95v.95h-.95zM328.48 210.51h.95v.95h-.95zM322.6 220.32h.95v.95h-.95zM323.56 220.05h.95v.95h-.95zM324.48 220.25h.95v.95h-.95zM320.7 221.55h.95v.95h-.95zM321.9 221.26h.95v.95h-.95zM324.41 221.34h.95v.95h-.95zM327.27 221.34h.95v.95h-.95zM328.42 221.42h.95v.95h-.95zM319.98 221.92h.95v.95h-.95zM320.66 222.2h.95v.95h-.95zM321.47 222.17h.95v.95h-.95zM323.86 222.37h.95v.95h-.95zM324.83 222.5h.95v.95h-.95zM326.45 222.1h.95v.95h-.95zM329.14 222.4h.95v.95h-.95zM319.75 223.27h.95v.95h-.95zM320.69 223.33h.95v.95h-.95zM321.86 223.15h.95v.95h-.95zM322.71 223.33h.95v.95h-.95zM324.41 223.06h.95v.95h-.95zM326.36 223.22h.95v.95h-.95zM327.3 223.1h.95v.95h-.95zM328.53 222.94h.95v.95h-.95zM329.41 222.96h.95v.95h-.95zM319.97 224.28h.95v.95h-.95zM320.61 224.06h.95v.95h-.95zM321.62 223.81h.95v.95h-.95zM322.79 224.39h.95v.95h-.95zM323.78 224.24h.95v.95h-.95zM324.53 223.97h.95v.95h-.95zM325.42 224.26h.95v.95h-.95zM326.76 224.36h.95v.95h-.95zM328.33 224.35h.95v.95h-.95zM329.17 223.94h.95v.95h-.95zM320.64 225.27h.95v.95h-.95zM321.69 225.03h.95v.95h-.95zM322.89 225.1h.95v.95h-.95zM323.65 224.85h.95v.95h-.95zM324.62 224.75h.95v.95h-.95zM326.65 224.93h.95v.95h-.95zM327.38 224.91h.95v.95h-.95zM323.6 225.95h.95v.95h-.95zM325.62 226.23h.95v.95h-.95z"/>
<path fill="#f59548" d="M326.39 205.34h.95v.95h-.95zM324.87 206.11h.95v.95h-.95zM327.43 206.19h.95v.95h-.95zM323.83 206.88h.95v.95h-.95zM324.32 207.02h.95v.95h-.95zM327.74 207.98h.95v.95h-.95zM324.42 208.99h.95v.95h-.95zM327.36 208.75h.95v.95h-.95zM324.36 209.72h.95v.95h-.95zM325.65 210.06h.95v.95h-.95zM327.19 209.76h.95v.95h-.95z"/>
<path fill="#4a8ad0" d="M314.23 205.8h.95v.95h-.95zM314.32 209.64h.95v.95h-.95zM316.83 209.81h.95v.95h-.95zM313.89 210.65h.95v.95h-.95zM318.11 210.99h.95v.95h-.95zM314.94 211.94h.95v.95h-.95zM314.11 213.52h.95v.95h-.95zM332.29 214.86h.95v.95h-.95zM318.64 219.28h.95v.95h-.95zM337.14 219.56h.95v.95h-.95zM332.35 220.14h.95v.95h-.95zM333.81 220h.95v.95h-.95zM315.13 221.1h.95v.95h-.95zM314.84 223.96h.95v.95h-.95z"/>
<path fill="#d62e3a" d="M325.34 206.01h.95v.95h-.95zM326.49 206.21h.95v.95h-.95zM325.55 206.7h.95v.95h-.95zM326.25 206.79h.95v.95h-.95zM327.2 207.01h.95v.95h-.95zM324.89 207.72h.95v.95h-.95zM325.68 207.91h.95v.95h-.95zM326.43 207.98h.95v.95h-.95zM325.48 209.02h.95v.95h-.95zM326.5 208.87h.95v.95h-.95z"/>
<path fill="#6a5cc0" d="M331.92 207.17h.95v.95h-.95zM317.68 209.7h.95v.95h-.95zM335.95 209.69h.95v.95h-.95zM316.97 210.87h.95v.95h-.95zM332.08 210.59h.95v.95h-.95zM316.14 212.66h.95v.95h-.95zM333.9 213.72h.95v.95h-.95zM314.19 218.49h.95v.95h-.95zM315.1 218.61h.95v.95h-.95zM335.31 221.38h.95v.95h-.95zM318.14 222.45h.95v.95h-.95zM331.37 223.06h.95v.95h-.95zM331.21 224.21h.95v.95h-.95z"/>
<path fill="#4a5cc0" d="M336.19 216.3h.95v.95h-.95zM315.89 223.08h.95v.95h-.95zM316.77 223.24h.95v.95h-.95zM316.11 226.12h.95v.95h-.95z"/>
<path fill="#a6d890" d="M321.82 219.31h.95v.95h-.95zM323.79 219.44h.95v.95h-.95zM324.88 219.51h.95v.95h-.95zM327.23 219.27h.95v.95h-.95zM320.1 220.25h.95v.95h-.95zM319.7 221.37h.95v.95h-.95zM330.49 221.95h.95v.95h-.95zM318.62 223.15h.95v.95h-.95zM330.57 223.03h.95v.95h-.95zM330.33 223.86h.95v.95h-.95zM320.07 224.95h.95v.95h-.95zM319.8 225.84h.95v.95h-.95zM320.51 225.86h.95v.95h-.95zM328.43 226.29h.95v.95h-.95zM321.86 226.66h.95v.95h-.95zM323.74 226.89h.95v.95h-.95zM324.76 227.23h.95v.95h-.95zM325.38 227.16h.95v.95h-.95z"/>
</g>
<rect x="311" y="201" width="28.7" height="29.1" fill="none" stroke="#bababa" stroke-width="0.85"/>
<g clip-path="url(#jc3)">
<path d="M156.86,147.65 C157.19,146.24 157.81,143.43 158.86,142.03 C159.91,140.62 161.72,139.82 163.15,139.22 C164.58,138.61 166.01,138.28 167.44,138.37 C168.87,138.47 170.3,139.17 171.73,139.78 C173.16,140.39 174.59,141.18 176.02,142.03 C177.45,142.87 179.12,143.9 180.31,144.84 C181.5,145.77 182.69,146.71 183.17,147.65 C183.65,148.58 183.65,149.52 183.17,150.45 C182.69,151.39 181.5,152.33 180.31,153.26 C179.12,154.2 177.45,155.23 176.02,156.07 C174.59,156.92 173.16,157.71 171.73,158.32 C170.3,158.93 168.87,159.63 167.44,159.73 C166.01,159.82 164.58,159.49 163.15,158.88 C161.72,158.28 159.91,157.48 158.86,156.07 C157.81,154.67 157.19,151.86 156.86,150.45 C156.52,149.05 156.52,149.05 156.86,147.65Z" fill="#f1f1f9"/>
<path d="M160.45,148.04 C160.69,147.03 161.14,145 161.89,143.99 C162.65,142.98 163.95,142.41 164.98,141.97 C166.01,141.53 167.04,141.29 168.07,141.36 C169.1,141.43 170.13,141.94 171.16,142.37 C172.19,142.81 173.22,143.39 174.25,143.99 C175.28,144.6 176.48,145.34 177.34,146.02 C178.2,146.69 179.05,147.36 179.4,148.04 C179.74,148.71 179.74,149.39 179.4,150.06 C179.05,150.74 178.2,151.41 177.34,152.08 C176.48,152.76 175.28,153.5 174.25,154.11 C173.22,154.71 172.19,155.29 171.16,155.73 C170.13,156.16 169.1,156.67 168.07,156.74 C167.04,156.81 166.01,156.57 164.98,156.13 C163.95,155.69 162.65,155.12 161.89,154.11 C161.14,153.1 160.69,151.07 160.45,150.06 C160.21,149.05 160.21,149.05 160.45,148.04Z" fill="#e6e6f4"/>
<g filter="url(#bl2)">
<path fill="#9c98da" d="M168.27 139.18h.75v.75h-.75zM165.62 139.92h.75v.75h-.75zM161.72 141.72h.75v.75h-.75zM172.92 141.77h.75v.75h-.75zM172.41 142.34h.75v.75h-.75zM176.35 142.3h.75v.75h-.75zM168.15 143.39h.75v.75h-.75zM175.41 143.21h.75v.75h-.75zM166.69 144.16h.75v.75h-.75zM157.57 145.76h.75v.75h-.75zM171.17 145.79h.75v.75h-.75zM179.64 145.67h.75v.75h-.75zM168.09 146.45h.75v.75h-.75zM169.87 146.24h.75v.75h-.75zM177.2 146.16h.75v.75h-.75zM162.56 147.33h.75v.75h-.75zM168.17 146.97h.75v.75h-.75zM168.91 147.13h.75v.75h-.75zM175.56 147.22h.75v.75h-.75zM165.23 148.1h.75v.75h-.75zM166.78 148.13h.75v.75h-.75zM169.2 148.18h.75v.75h-.75zM172.08 148.04h.75v.75h-.75zM175.43 147.88h.75v.75h-.75zM163.48 148.77h.75v.75h-.75zM168.4 149.03h.75v.75h-.75zM175.55 148.7h.75v.75h-.75zM182.4 148.78h.75v.75h-.75zM160.1 149.6h.75v.75h-.75zM168.42 149.64h.75v.75h-.75zM173.75 149.74h.75v.75h-.75zM175.5 149.36h.75v.75h-.75zM181.08 149.52h.75v.75h-.75zM159.46 150.61h.75v.75h-.75zM165.21 150.48h.75v.75h-.75zM176.1 150.33h.75v.75h-.75zM157.65 151.19h.75v.75h-.75zM160.15 151.12h.75v.75h-.75zM168.78 151.25h.75v.75h-.75zM169.62 151.1h.75v.75h-.75zM173.1 150.96h.75v.75h-.75zM174.62 151.38h.75v.75h-.75zM177.09 151.03h.75v.75h-.75zM170.81 151.84h.75v.75h-.75zM165.69 152.73h.75v.75h-.75zM178.82 152.71h.75v.75h-.75zM161.69 153.63h.75v.75h-.75zM165.55 153.72h.75v.75h-.75zM166.38 153.38h.75v.75h-.75zM177.07 153.54h.75v.75h-.75zM159.16 154.37h.75v.75h-.75zM162.7 154.48h.75v.75h-.75zM165.16 154.4h.75v.75h-.75zM172 154.19h.75v.75h-.75zM166.52 155.03h.75v.75h-.75zM168 155.12h.75v.75h-.75zM165.24 156.14h.75v.75h-.75zM163.21 156.62h.75v.75h-.75zM166.67 156.99h.75v.75h-.75zM169.2 156.74h.75v.75h-.75zM173.17 157.56h.75v.75h-.75zM165.02 158.6h.75v.75h-.75zM168.39 159.09h.75v.75h-.75z"/>
<path fill="#7292d4" d="M169.64 139.22h.75v.75h-.75zM164.17 140.25h.75v.75h-.75zM168.75 140.22h.75v.75h-.75zM169.84 139.86h.75v.75h-.75zM167.38 140.61h.75v.75h-.75zM168.96 140.67h.75v.75h-.75zM171.51 140.99h.75v.75h-.75zM171.32 141.42h.75v.75h-.75zM165.13 143.84h.75v.75h-.75zM172.19 144.04h.75v.75h-.75zM176 144.09h.75v.75h-.75zM162.72 145h.75v.75h-.75zM170.45 144.82h.75v.75h-.75zM164.06 145.65h.75v.75h-.75zM176.78 145.71h.75v.75h-.75zM159.31 146.6h.75v.75h-.75zM161.74 146.33h.75v.75h-.75zM164.79 146.24h.75v.75h-.75zM170.71 146.46h.75v.75h-.75zM173.92 146.64h.75v.75h-.75zM163.99 147.39h.75v.75h-.75zM164.99 147.16h.75v.75h-.75zM169.58 147.08h.75v.75h-.75zM170.56 147.39h.75v.75h-.75zM178.52 147.35h.75v.75h-.75zM167.41 148.15h.75v.75h-.75zM168.19 148h.75v.75h-.75zM161.13 148.57h.75v.75h-.75zM162.35 148.57h.75v.75h-.75zM176.91 148.84h.75v.75h-.75zM161.98 149.82h.75v.75h-.75zM173.25 149.82h.75v.75h-.75zM179.32 149.52h.75v.75h-.75zM182.73 149.56h.75v.75h-.75zM168.79 150.25h.75v.75h-.75zM172.2 150.6h.75v.75h-.75zM164.98 151.19h.75v.75h-.75zM170.56 150.97h.75v.75h-.75zM174.05 151.43h.75v.75h-.75zM178.45 151.35h.75v.75h-.75zM160.94 152.11h.75v.75h-.75zM161.63 152.17h.75v.75h-.75zM163.34 152.21h.75v.75h-.75zM163.62 152.77h.75v.75h-.75zM168.01 152.78h.75v.75h-.75zM175.19 152.66h.75v.75h-.75zM172.2 153.76h.75v.75h-.75zM158.38 154.42h.75v.75h-.75zM164 154.2h.75v.75h-.75zM165.86 154.26h.75v.75h-.75zM167.23 154.48h.75v.75h-.75zM176.13 154.41h.75v.75h-.75zM170.84 155.44h.75v.75h-.75zM169.61 155.95h.75v.75h-.75zM174.36 155.78h.75v.75h-.75zM173.78 156.58h.75v.75h-.75zM164.87 157.55h.75v.75h-.75zM168.04 157.4h.75v.75h-.75zM164.77 159.05h.75v.75h-.75z"/>
<path fill="#7680cc" d="M163.4 140.07h.75v.75h-.75zM163.43 140.56h.75v.75h-.75zM167.63 141.59h.75v.75h-.75zM168.09 141.73h.75v.75h-.75zM172.33 141.8h.75v.75h-.75zM173.83 141.73h.75v.75h-.75zM169.99 142.4h.75v.75h-.75zM175.2 142.21h.75v.75h-.75zM165.08 143.35h.75v.75h-.75zM166.39 142.96h.75v.75h-.75zM160.09 143.9h.75v.75h-.75zM161.18 144.23h.75v.75h-.75zM162.66 144.22h.75v.75h-.75zM171.62 144.02h.75v.75h-.75zM164.35 144.65h.75v.75h-.75zM166.58 144.98h.75v.75h-.75zM167.44 144.67h.75v.75h-.75zM168.98 144.68h.75v.75h-.75zM172.39 144.56h.75v.75h-.75zM172.83 144.84h.75v.75h-.75zM173.78 144.59h.75v.75h-.75zM161.92 145.56h.75v.75h-.75zM169.17 145.54h.75v.75h-.75zM174.81 145.64h.75v.75h-.75zM160.05 146.45h.75v.75h-.75zM172.41 146.26h.75v.75h-.75zM176.16 146.28h.75v.75h-.75zM180.8 146.4h.75v.75h-.75zM159.48 147.43h.75v.75h-.75zM165.78 147.06h.75v.75h-.75zM173.76 147.27h.75v.75h-.75zM177.03 147.32h.75v.75h-.75zM180.95 147.3h.75v.75h-.75zM158.58 148.13h.75v.75h-.75zM171.48 147.98h.75v.75h-.75zM176.13 147.87h.75v.75h-.75zM179.37 148.2h.75v.75h-.75zM170.78 149h.75v.75h-.75zM171.55 148.63h.75v.75h-.75zM172.88 148.65h.75v.75h-.75zM178.49 148.94h.75v.75h-.75zM179.33 148.66h.75v.75h-.75zM169.64 149.7h.75v.75h-.75zM170.69 149.39h.75v.75h-.75zM181.6 149.77h.75v.75h-.75zM157.62 150.41h.75v.75h-.75zM161.04 150.31h.75v.75h-.75zM163.96 150.22h.75v.75h-.75zM166.36 150.38h.75v.75h-.75zM168.35 150.33h.75v.75h-.75zM173.1 150.59h.75v.75h-.75zM164.34 151.21h.75v.75h-.75zM167.44 151.23h.75v.75h-.75zM171.17 151.21h.75v.75h-.75zM166.74 151.79h.75v.75h-.75zM167.42 151.78h.75v.75h-.75zM178.55 152.14h.75v.75h-.75zM161.97 152.57h.75v.75h-.75zM169.96 152.7h.75v.75h-.75zM172.17 152.57h.75v.75h-.75zM173.78 152.66h.75v.75h-.75zM176.36 152.82h.75v.75h-.75zM160.41 153.57h.75v.75h-.75zM163.2 153.82h.75v.75h-.75zM170.66 153.42h.75v.75h-.75zM175.3 153.49h.75v.75h-.75zM177.9 153.67h.75v.75h-.75zM166.36 154.45h.75v.75h-.75zM174.76 154.6h.75v.75h-.75zM158.81 155.35h.75v.75h-.75zM167.48 155.12h.75v.75h-.75zM172.22 155.24h.75v.75h-.75zM173.62 155.37h.75v.75h-.75zM172.09 155.89h.75v.75h-.75zM173.84 155.86h.75v.75h-.75zM162.56 157.01h.75v.75h-.75z"/>
<path fill="#6670c4" d="M168.45 140.15h.75v.75h-.75zM165.92 140.84h.75v.75h-.75zM173.96 141.03h.75v.75h-.75zM163.5 142.31h.75v.75h-.75zM164.82 142.22h.75v.75h-.75zM167.17 142.65h.75v.75h-.75zM168.79 142.46h.75v.75h-.75zM170.46 142.5h.75v.75h-.75zM174.76 142.17h.75v.75h-.75zM164.19 143.18h.75v.75h-.75zM165.56 142.96h.75v.75h-.75zM169.11 143.01h.75v.75h-.75zM169.92 143.03h.75v.75h-.75zM165.96 143.76h.75v.75h-.75zM168.34 143.89h.75v.75h-.75zM169.1 144h.75v.75h-.75zM169.56 143.91h.75v.75h-.75zM170.63 143.98h.75v.75h-.75zM161.02 145.03h.75v.75h-.75zM164.8 144.8h.75v.75h-.75zM168.37 144.64h.75v.75h-.75zM163.5 145.7h.75v.75h-.75zM165.82 145.67h.75v.75h-.75zM170.52 145.82h.75v.75h-.75zM172.06 145.78h.75v.75h-.75zM173.93 145.35h.75v.75h-.75zM175.53 145.81h.75v.75h-.75zM178.44 145.49h.75v.75h-.75zM179.98 145.56h.75v.75h-.75zM157.6 146.2h.75v.75h-.75zM164.39 146.32h.75v.75h-.75zM166.04 146.42h.75v.75h-.75zM167.58 146.46h.75v.75h-.75zM171.34 146.44h.75v.75h-.75zM175.59 146.33h.75v.75h-.75zM177.87 146.38h.75v.75h-.75zM162.05 147.23h.75v.75h-.75zM167.5 147.37h.75v.75h-.75zM171.41 147.43h.75v.75h-.75zM172.33 147.1h.75v.75h-.75zM160.85 147.86h.75v.75h-.75zM164.37 147.9h.75v.75h-.75zM165.63 147.82h.75v.75h-.75zM181.97 147.93h.75v.75h-.75zM164.33 148.76h.75v.75h-.75zM165.58 148.88h.75v.75h-.75zM167.43 148.67h.75v.75h-.75zM173.65 148.74h.75v.75h-.75zM174.44 148.82h.75v.75h-.75zM175.96 148.64h.75v.75h-.75zM164.06 149.77h.75v.75h-.75zM165.09 149.67h.75v.75h-.75zM167.56 149.63h.75v.75h-.75zM171.5 149.4h.75v.75h-.75zM174.64 149.52h.75v.75h-.75zM177.73 149.36h.75v.75h-.75zM180 149.65h.75v.75h-.75zM173.86 150.41h.75v.75h-.75zM162.63 151.4h.75v.75h-.75zM180.79 151.03h.75v.75h-.75zM164.3 152.23h.75v.75h-.75zM165.86 151.93h.75v.75h-.75zM169.09 151.76h.75v.75h-.75zM169.85 152.1h.75v.75h-.75zM172.3 152.18h.75v.75h-.75zM173.86 151.83h.75v.75h-.75zM177.81 152.24h.75v.75h-.75zM166.71 153.02h.75v.75h-.75zM170.47 152.71h.75v.75h-.75zM169.63 153.77h.75v.75h-.75zM172.81 153.49h.75v.75h-.75zM163.22 154.59h.75v.75h-.75zM169.85 154.45h.75v.75h-.75zM173.57 154.64h.75v.75h-.75zM176.92 154.62h.75v.75h-.75zM177.84 154.4h.75v.75h-.75zM161.63 156.17h.75v.75h-.75zM165.76 156.22h.75v.75h-.75zM167.19 155.81h.75v.75h-.75zM167.24 156.77h.75v.75h-.75zM171.61 156.58h.75v.75h-.75zM172.91 156.64h.75v.75h-.75zM169.08 157.5h.75v.75h-.75zM164.22 159.03h.75v.75h-.75zM167.55 159.15h.75v.75h-.75z"/>
<path fill="#8c84d0" d="M170.54 139.75h.75v.75h-.75zM161.98 140.83h.75v.75h-.75zM164.2 141.83h.75v.75h-.75zM161.93 142.37h.75v.75h-.75zM165.61 142.38h.75v.75h-.75zM168.32 142.58h.75v.75h-.75zM173.64 142.2h.75v.75h-.75zM164.18 143.91h.75v.75h-.75zM175.49 144.07h.75v.75h-.75zM177.2 144.03h.75v.75h-.75zM161.66 144.79h.75v.75h-.75zM177.82 144.79h.75v.75h-.75zM180.15 145.03h.75v.75h-.75zM162.61 145.8h.75v.75h-.75zM164.92 145.75h.75v.75h-.75zM166.76 145.56h.75v.75h-.75zM168.22 145.63h.75v.75h-.75zM169.97 145.39h.75v.75h-.75zM162.5 146.41h.75v.75h-.75zM166.57 146.62h.75v.75h-.75zM172.86 146.48h.75v.75h-.75zM174.83 147.07h.75v.75h-.75zM162.56 148.06h.75v.75h-.75zM163.49 147.79h.75v.75h-.75zM170.53 148.14h.75v.75h-.75zM158.39 148.81h.75v.75h-.75zM161.24 149.54h.75v.75h-.75zM163.16 149.37h.75v.75h-.75zM165.79 149.36h.75v.75h-.75zM166.37 149.65h.75v.75h-.75zM178.83 149.38h.75v.75h-.75zM167.61 150.36h.75v.75h-.75zM170.4 150.47h.75v.75h-.75zM171.22 150.24h.75v.75h-.75zM174.38 150.48h.75v.75h-.75zM175.45 150.51h.75v.75h-.75zM176.85 150.38h.75v.75h-.75zM180.38 150.37h.75v.75h-.75zM163.33 151.27h.75v.75h-.75zM172.91 152.19h.75v.75h-.75zM174.82 151.88h.75v.75h-.75zM158.65 153.02h.75v.75h-.75zM167.55 152.99h.75v.75h-.75zM172.87 152.67h.75v.75h-.75zM177.68 152.97h.75v.75h-.75zM173.87 153.62h.75v.75h-.75zM175.29 154.16h.75v.75h-.75zM159.55 155.93h.75v.75h-.75zM160.01 155.82h.75v.75h-.75zM168.36 155.79h.75v.75h-.75zM164.23 156.94h.75v.75h-.75zM171.54 157.51h.75v.75h-.75zM169.2 158.4h.75v.75h-.75zM168.78 158.99h.75v.75h-.75z"/>
</g>
<g filter="url(#bl)">
<path d="M156,145.12 C156.95,143.52 159.57,143.71 161.72,143.43 C163.87,143.15 166.49,143.15 168.87,143.43 C171.25,143.71 173.87,144.46 176.02,145.12 C178.16,145.77 180.41,146.71 181.74,147.36 C183.07,148.02 184.03,148.49 184.03,149.05 C184.03,149.61 183.07,150.08 181.74,150.74 C180.41,151.39 178.16,152.33 176.02,152.98 C173.87,153.64 171.25,154.39 168.87,154.67 C166.49,154.95 163.87,154.95 161.72,154.67 C159.57,154.39 156.95,154.58 156,152.98 C155.05,151.39 155.05,146.71 156,145.12Z" fill="#b9e1da"/>
<path d="M156,146.52 C156.95,145.49 159.57,145.54 161.72,145.4 C163.87,145.26 166.49,145.44 168.87,145.68 C171.25,145.91 173.87,146.38 176.02,146.8 C178.16,147.22 180.45,147.83 181.74,148.21 C183.03,148.58 183.74,148.77 183.74,149.05 C183.74,149.33 183.03,149.52 181.74,149.89 C180.45,150.27 178.16,150.88 176.02,151.3 C173.87,151.72 171.25,152.19 168.87,152.42 C166.49,152.66 163.87,152.84 161.72,152.7 C159.57,152.56 156.95,152.61 156,151.58 C155.05,150.55 155.05,147.55 156,146.52Z" fill="#d7eeba"/>
<path d="M156,147.79 C157.19,147.29 160.77,147.39 163.15,147.36 C165.53,147.34 167.92,147.5 170.3,147.65 C172.68,147.79 175.31,148.02 177.45,148.21 C179.59,148.39 182.12,148.63 183.17,148.77 C184.22,148.91 183.74,148.96 183.74,149.05 C183.74,149.14 184.22,149.19 183.17,149.33 C182.12,149.47 179.59,149.71 177.45,149.89 C175.31,150.08 172.68,150.31 170.3,150.45 C167.92,150.6 165.53,150.76 163.15,150.74 C160.77,150.71 157.19,150.81 156,150.31 C154.81,149.82 154.81,148.28 156,147.79Z" fill="#faf3ad"/>
<ellipse cx="176.02" cy="149.05" rx="7.44" ry="0.79" fill="#f3a674"/>
<ellipse cx="169.73" cy="149.05" rx="2.86" ry="1.69" fill="#f3a674"/>
<ellipse cx="169.59" cy="149.05" rx="2" ry="1.26" fill="#dc6276"/>
<ellipse cx="169.44" cy="149.05" rx="1.14" ry="0.84" fill="#a5528f"/>
</g>
<g filter="url(#bl2)" opacity="0.8">
<path fill="#9aa8dc" d="M162.81 144.2h.7v.7h-.7zM159.26 144.56h.7v.7h-.7zM171.6 144.82h.7v.7h-.7zM165.59 145.65h.7v.7h-.7zM167.41 145.5h.7v.7h-.7zM176.02 145.73h.7v.7h-.7zM163.56 146.19h.7v.7h-.7zM164.89 146.63h.7v.7h-.7zM169.08 147.39h.7v.7h-.7zM174.77 147.97h.7v.7h-.7zM180.15 148.18h.7v.7h-.7zM158.65 151.4h.7v.7h-.7zM162.47 151.18h.7v.7h-.7zM176.04 151.17h.7v.7h-.7zM176.93 151.01h.7v.7h-.7zM167.16 151.84h.7v.7h-.7zM173.16 151.84h.7v.7h-.7zM169.6 152.66h.7v.7h-.7zM167.64 154.27h.7v.7h-.7z"/>
<path fill="#6fa8d0" d="M163.15 143.81h.7v.7h-.7zM167.57 144.11h.7v.7h-.7zM171.46 145.5h.7v.7h-.7zM174.83 145.83h.7v.7h-.7zM167.4 146.51h.7v.7h-.7zM172.18 146.56h.7v.7h-.7zM176.37 146.23h.7v.7h-.7zM172.35 147.07h.7v.7h-.7zM177.7 150.2h.7v.7h-.7zM170.63 151.08h.7v.7h-.7zM174.68 150.96h.7v.7h-.7zM159.42 152.1h.7v.7h-.7zM165.86 151.83h.7v.7h-.7zM170.41 151.91h.7v.7h-.7zM174.35 152.03h.7v.7h-.7zM170.4 153.7h.7v.7h-.7zM160.97 154.19h.7v.7h-.7z"/>
<path fill="#8a90d4" d="M165.22 143.85h.7v.7h-.7zM165.81 143.86h.7v.7h-.7zM164.91 144.92h.7v.7h-.7zM168.44 144.81h.7v.7h-.7zM159.52 145.64h.7v.7h-.7zM161.72 145.83h.7v.7h-.7zM168.79 145.63h.7v.7h-.7zM158.46 146.64h.7v.7h-.7zM162.82 146.39h.7v.7h-.7zM159.47 146.99h.7v.7h-.7zM170.82 147.44h.7v.7h-.7zM177.23 148.05h.7v.7h-.7zM175.35 151.2h.7v.7h-.7zM161.83 152.15h.7v.7h-.7zM171.41 152.56h.7v.7h-.7zM172.86 152.71h.7v.7h-.7zM173.71 153.03h.7v.7h-.7zM169 154.62h.7v.7h-.7z"/>
<path fill="#7a9ad6" d="M160.11 144.72h.7v.7h-.7zM160.79 144.78h.7v.7h-.7zM164.91 145.55h.7v.7h-.7zM172.16 145.41h.7v.7h-.7zM165.95 146.5h.7v.7h-.7zM162.76 147.23h.7v.7h-.7zM167.99 147.3h.7v.7h-.7zM175.54 147.18h.7v.7h-.7zM176.84 146.97h.7v.7h-.7zM180.11 147.34h.7v.7h-.7zM182.43 149.56h.7v.7h-.7zM167.25 150.6h.7v.7h-.7zM173.76 150.23h.7v.7h-.7zM175.15 150.28h.7v.7h-.7zM173.78 151.08h.7v.7h-.7zM163.41 152.13h.7v.7h-.7zM177.95 152.2h.7v.7h-.7zM160.1 152.9h.7v.7h-.7zM172.17 152.8h.7v.7h-.7zM159.44 153.78h.7v.7h-.7z"/>
</g>
</g>
<rect x="156" y="135" width="28.6" height="28.1" fill="none" stroke="#bababa" stroke-width="0.85"/>
<g clip-path="url(#jc8)">
<path fill="#6a5cc0" d="M364.48 140.27h.95v.95h-.95zM368.69 140.01h.95v.95h-.95zM372.58 142.07h.95v.95h-.95zM365.86 142.87h.95v.95h-.95zM364.84 144.14h.95v.95h-.95zM373.17 144.59h.95v.95h-.95zM364.66 153.58h.95v.95h-.95zM363.74 156.05h.95v.95h-.95z"/>
<path fill="#4a8ad0" d="M365.82 140.28h.95v.95h-.95zM371.37 140.71h.95v.95h-.95zM360.81 141.76h.95v.95h-.95zM374.27 142.15h.95v.95h-.95zM360.83 142.77h.95v.95h-.95zM375.08 143.04h.95v.95h-.95zM366.74 144.05h.95v.95h-.95zM376.97 145.83h.95v.95h-.95zM355.32 146.46h.95v.95h-.95zM378.02 146.87h.95v.95h-.95z"/>
<path fill="#5a6ad0" d="M366.79 140.35h.95v.95h-.95zM367.31 140.22h.95v.95h-.95zM367.37 141.24h.95v.95h-.95zM362.89 141.93h.95v.95h-.95zM366.76 141.82h.95v.95h-.95zM357.87 145.95h.95v.95h-.95zM372.2 145.68h.95v.95h-.95zM354.97 151.42h.95v.95h-.95zM370.18 153.39h.95v.95h-.95zM376.21 153.6h.95v.95h-.95zM371.26 154.07h.95v.95h-.95zM369.17 155.21h.95v.95h-.95z"/>
<path fill="#4a5cc0" d="M357.36 142.98h.95v.95h-.95zM374.15 143.79h.95v.95h-.95zM360.1 145.04h.95v.95h-.95zM357.38 145.69h.95v.95h-.95zM371.22 145.76h.95v.95h-.95zM362.98 154.56h.95v.95h-.95zM370.65 154h.95v.95h-.95zM361.63 155.19h.95v.95h-.95zM362.63 156.01h.95v.95h-.95zM363.02 157.02h.95v.95h-.95zM364.81 156.89h.95v.95h-.95z"/>
<path fill="#58b4c4" d="M360.94 145.67h.95v.95h-.95zM361.93 145.69h.95v.95h-.95zM363.54 145.79h.95v.95h-.95zM365.62 145.48h.95v.95h-.95zM367.69 145.86h.95v.95h-.95zM370.19 145.75h.95v.95h-.95zM358.04 146.71h.95v.95h-.95zM361.98 146.93h.95v.95h-.95zM364.49 146.92h.95v.95h-.95zM365.54 146.9h.95v.95h-.95zM366.75 146.45h.95v.95h-.95zM369.21 146.61h.95v.95h-.95zM370.45 146.9h.95v.95h-.95zM371.24 146.93h.95v.95h-.95zM372.57 146.61h.95v.95h-.95zM373.51 146.58h.95v.95h-.95zM374.01 146.77h.95v.95h-.95zM374.93 146.95h.95v.95h-.95zM354.43 147.81h.95v.95h-.95zM376.32 147.69h.95v.95h-.95zM376.76 147.62h.95v.95h-.95zM352.45 148.56h.95v.95h-.95zM353.26 149.82h.95v.95h-.95zM378.07 149.52h.95v.95h-.95zM375.05 150.63h.95v.95h-.95zM359.79 151.46h.95v.95h-.95zM362.61 151.35h.95v.95h-.95zM366.8 151.64h.95v.95h-.95zM370.33 151.28h.95v.95h-.95zM371.36 151.49h.95v.95h-.95zM361.71 152.4h.95v.95h-.95zM362.99 152.42h.95v.95h-.95zM363.65 152.64h.95v.95h-.95zM369.71 152.22h.95v.95h-.95z"/>
<path fill="#f2e266" d="M358.85 147.93h.95v.95h-.95zM359.93 147.71h.95v.95h-.95zM360.63 147.57h.95v.95h-.95zM365.9 147.55h.95v.95h-.95zM367.63 147.5h.95v.95h-.95zM371.52 147.4h.95v.95h-.95zM372.27 147.56h.95v.95h-.95zM372.96 147.62h.95v.95h-.95zM353.49 148.69h.95v.95h-.95zM354.08 148.87h.95v.95h-.95zM356.02 148.56h.95v.95h-.95zM356.81 148.82h.95v.95h-.95zM358.03 148.33h.95v.95h-.95zM358.74 148.54h.95v.95h-.95zM359.87 148.85h.95v.95h-.95zM361.07 148.54h.95v.95h-.95zM361.77 148.58h.95v.95h-.95zM356.24 149.34h.95v.95h-.95zM357.15 149.43h.95v.95h-.95zM358.19 149.62h.95v.95h-.95zM359.21 149.43h.95v.95h-.95zM359.69 149.43h.95v.95h-.95zM360.63 149.81h.95v.95h-.95zM361.56 149.55h.95v.95h-.95zM355.2 150.3h.95v.95h-.95zM356.81 150.27h.95v.95h-.95zM357.92 150.38h.95v.95h-.95zM358.89 150.45h.95v.95h-.95zM361.01 150.25h.95v.95h-.95zM361.68 150.73h.95v.95h-.95zM362.79 150.66h.95v.95h-.95zM364.01 150.64h.95v.95h-.95zM368.36 150.74h.95v.95h-.95zM369.68 150.56h.95v.95h-.95zM371.52 150.64h.95v.95h-.95zM372.28 150.67h.95v.95h-.95zM373.19 150.48h.95v.95h-.95z"/>
<path fill="#d62e3a" d="M366.39 147.94h.95v.95h-.95zM375.23 147.94h.95v.95h-.95zM366.57 148.67h.95v.95h-.95zM367.68 148.42h.95v.95h-.95zM373.02 148.42h.95v.95h-.95zM374.05 148.69h.95v.95h-.95zM375.19 148.64h.95v.95h-.95zM376.05 148.34h.95v.95h-.95zM365.61 149.78h.95v.95h-.95zM366.67 149.4h.95v.95h-.95zM367.46 149.6h.95v.95h-.95zM373.23 149.26h.95v.95h-.95zM374.01 149.63h.95v.95h-.95zM374.95 149.8h.95v.95h-.95zM376.22 149.27h.95v.95h-.95zM377.24 149.38h.95v.95h-.95zM365.84 150.73h.95v.95h-.95zM366.8 150.48h.95v.95h-.95zM367.4 150.4h.95v.95h-.95z"/>
<path fill="#f59548" d="M369.23 147.8h.95v.95h-.95zM362.61 148.88h.95v.95h-.95zM363.97 148.78h.95v.95h-.95zM364.81 148.5h.95v.95h-.95zM368.8 148.71h.95v.95h-.95zM369.74 148.7h.95v.95h-.95zM370.4 148.54h.95v.95h-.95zM371.63 148.9h.95v.95h-.95zM372.53 148.39h.95v.95h-.95zM362.9 149.53h.95v.95h-.95zM363.64 149.38h.95v.95h-.95zM364.85 149.61h.95v.95h-.95zM368.31 149.46h.95v.95h-.95zM369.75 149.46h.95v.95h-.95zM370.26 149.5h.95v.95h-.95zM371.65 149.36h.95v.95h-.95zM372.49 149.64h.95v.95h-.95zM370.52 150.31h.95v.95h-.95zM374.35 150.24h.95v.95h-.95z"/>
</g>
<rect x="351.1" y="135" width="28.2" height="28.1" fill="none" stroke="#bababa" stroke-width="0.85"/>
<g clip-path="url(#jc13)">
<path d="M157.32,215.55 C157.32,213.51 158.07,211.19 159.17,209.73 C160.27,208.27 162.25,207.31 163.92,206.82 C165.59,206.33 167.44,207.06 169.2,206.82 C170.96,206.58 172.72,205.61 174.48,205.37 C176.24,205.12 178.53,204.4 179.76,205.37 C180.99,206.34 181.52,208.52 181.87,211.19 C182.22,213.85 182.22,218.8 181.87,221.37 C181.52,223.94 180.99,225.64 179.76,226.61 C178.53,227.58 176.24,227.58 174.48,227.19 C172.72,226.8 170.96,224.76 169.2,224.28 C167.44,223.8 165.59,224.67 163.92,224.28 C162.25,223.89 160.27,223.41 159.17,221.95 C158.07,220.5 157.32,217.59 157.32,215.55Z" fill="#f1f1f9"/>
<path d="M160.96,215.64 C160.96,214.18 161.5,212.5 162.29,211.45 C163.08,210.41 164.51,209.71 165.71,209.36 C166.91,209.01 168.25,209.53 169.51,209.36 C170.78,209.18 172.05,208.49 173.31,208.31 C174.58,208.14 176.23,207.61 177.12,208.31 C178,209.01 178.38,210.58 178.64,212.5 C178.89,214.42 178.89,217.98 178.64,219.83 C178.38,221.69 178,222.91 177.12,223.61 C176.23,224.3 174.58,224.3 173.31,224.02 C172.05,223.75 170.78,222.28 169.51,221.93 C168.25,221.58 166.91,222.21 165.71,221.93 C164.51,221.65 163.08,221.3 162.29,220.25 C161.5,219.21 160.96,217.11 160.96,215.64Z" fill="#e6e6f4"/>
<g filter="url(#bl2)">
<path fill="#7680cc" d="M175.61 206.24h.75v.75h-.75zM179.52 206.15h.75v.75h-.75zM170.62 206.92h.75v.75h-.75zM177.64 206.87h.75v.75h-.75zM173.73 207.43h.75v.75h-.75zM163.22 208.24h.75v.75h-.75zM170.44 208.95h.75v.75h-.75zM173.59 209.17h.75v.75h-.75zM161.16 209.79h.75v.75h-.75zM166.37 209.94h.75v.75h-.75zM167.49 210.11h.75v.75h-.75zM170.49 209.85h.75v.75h-.75zM171.26 210.14h.75v.75h-.75zM173.21 210.04h.75v.75h-.75zM162.42 210.58h.75v.75h-.75zM168.85 210.64h.75v.75h-.75zM159.19 211.47h.75v.75h-.75zM168.35 211.7h.75v.75h-.75zM173.04 211.68h.75v.75h-.75zM175.96 211.63h.75v.75h-.75zM166.52 212.33h.75v.75h-.75zM168.01 212.43h.75v.75h-.75zM176.01 212.4h.75v.75h-.75zM179.95 212.39h.75v.75h-.75zM158.83 213.43h.75v.75h-.75zM169.77 213.39h.75v.75h-.75zM162.44 213.86h.75v.75h-.75zM170.62 214.25h.75v.75h-.75zM171.26 214.12h.75v.75h-.75zM173.7 214.08h.75v.75h-.75zM178.46 214.17h.75v.75h-.75zM173.23 214.96h.75v.75h-.75zM176.82 214.7h.75v.75h-.75zM157.76 215.54h.75v.75h-.75zM170.72 215.45h.75v.75h-.75zM164.98 216.6h.75v.75h-.75zM166.74 216.21h.75v.75h-.75zM170.02 216.3h.75v.75h-.75zM176.82 216.18h.75v.75h-.75zM178.65 216.5h.75v.75h-.75zM172.34 216.98h.75v.75h-.75zM173.64 217.37h.75v.75h-.75zM160.32 218.2h.75v.75h-.75zM161.64 217.91h.75v.75h-.75zM162.4 218.17h.75v.75h-.75zM167.59 218.06h.75v.75h-.75zM172.84 218.14h.75v.75h-.75zM177.55 218.14h.75v.75h-.75zM158.71 218.71h.75v.75h-.75zM168.26 218.6h.75v.75h-.75zM177.16 218.63h.75v.75h-.75zM179.53 218.81h.75v.75h-.75zM160.39 219.62h.75v.75h-.75zM170.4 219.5h.75v.75h-.75zM175.97 219.67h.75v.75h-.75zM160.23 220.57h.75v.75h-.75zM161.1 220.45h.75v.75h-.75zM161.77 220.6h.75v.75h-.75zM163.37 220.19h.75v.75h-.75zM168.84 220.34h.75v.75h-.75zM177.6 220.16h.75v.75h-.75zM180.13 220.59h.75v.75h-.75zM180.81 221.08h.75v.75h-.75zM161.61 221.78h.75v.75h-.75zM163.99 222.18h.75v.75h-.75zM172.95 221.95h.75v.75h-.75zM179.32 222.56h.75v.75h-.75zM168.16 223.52h.75v.75h-.75zM172.96 223.38h.75v.75h-.75zM179.54 224.38h.75v.75h-.75zM173.64 226.19h.75v.75h-.75zM175.34 225.85h.75v.75h-.75zM179.26 225.85h.75v.75h-.75zM173.92 226.65h.75v.75h-.75z"/>
<path fill="#7292d4" d="M177.9 206.02h.75v.75h-.75zM165.13 208.46h.75v.75h-.75zM168.93 208.23h.75v.75h-.75zM174.81 208.46h.75v.75h-.75zM173.23 209.08h.75v.75h-.75zM174.79 209.01h.75v.75h-.75zM159.61 210.11h.75v.75h-.75zM165.84 209.81h.75v.75h-.75zM169.18 210.03h.75v.75h-.75zM176.88 210.21h.75v.75h-.75zM165.77 210.89h.75v.75h-.75zM177.57 210.68h.75v.75h-.75zM181.56 210.58h.75v.75h-.75zM174.83 211.52h.75v.75h-.75zM176.93 211.68h.75v.75h-.75zM162.61 212.17h.75v.75h-.75zM167.39 212.36h.75v.75h-.75zM176.79 212.16h.75v.75h-.75zM177.72 212.19h.75v.75h-.75zM181.56 212.18h.75v.75h-.75zM164.97 213.06h.75v.75h-.75zM166.37 213.09h.75v.75h-.75zM167.16 213.21h.75v.75h-.75zM176.3 213.39h.75v.75h-.75zM180.38 213.13h.75v.75h-.75zM165.22 214.12h.75v.75h-.75zM169.16 213.8h.75v.75h-.75zM172.01 213.98h.75v.75h-.75zM169.04 215.01h.75v.75h-.75zM179.38 214.8h.75v.75h-.75zM160.98 215.68h.75v.75h-.75zM161.58 215.75h.75v.75h-.75zM163.37 215.84h.75v.75h-.75zM167.57 215.56h.75v.75h-.75zM157.83 216.53h.75v.75h-.75zM164.21 216.27h.75v.75h-.75zM181.24 216.57h.75v.75h-.75zM181.82 216.44h.75v.75h-.75zM158.64 217.23h.75v.75h-.75zM161.98 217.3h.75v.75h-.75zM163.28 217.06h.75v.75h-.75zM175.3 217.18h.75v.75h-.75zM174.39 218.04h.75v.75h-.75zM176.4 217.81h.75v.75h-.75zM178.41 218.13h.75v.75h-.75zM174.36 218.93h.75v.75h-.75zM176.36 218.76h.75v.75h-.75zM164.39 219.56h.75v.75h-.75zM173.71 219.66h.75v.75h-.75zM179.18 219.65h.75v.75h-.75zM165.07 220.25h.75v.75h-.75zM165.93 220.29h.75v.75h-.75zM174.48 220.46h.75v.75h-.75zM176.87 220.22h.75v.75h-.75zM165.19 221.02h.75v.75h-.75zM165.96 220.98h.75v.75h-.75zM168.83 221.14h.75v.75h-.75zM169.69 221.09h.75v.75h-.75zM170.5 221.24h.75v.75h-.75zM172.97 221.18h.75v.75h-.75zM176.81 221.09h.75v.75h-.75zM177.58 221.15h.75v.75h-.75zM163.34 221.9h.75v.75h-.75zM176.95 222.08h.75v.75h-.75zM177.83 222.19h.75v.75h-.75zM181.21 221.99h.75v.75h-.75zM160.93 222.65h.75v.75h-.75zM161.65 222.8h.75v.75h-.75zM170.45 222.96h.75v.75h-.75z"/>
<path fill="#8c84d0" d="M164.91 206.89h.75v.75h-.75zM178.44 206.96h.75v.75h-.75zM171.32 207.62h.75v.75h-.75zM164.04 208.21h.75v.75h-.75zM169.83 208.34h.75v.75h-.75zM173.68 208.58h.75v.75h-.75zM175.59 208.53h.75v.75h-.75zM160.8 209.44h.75v.75h-.75zM169.73 208.98h.75v.75h-.75zM175.25 209.11h.75v.75h-.75zM174.68 210.24h.75v.75h-.75zM161.24 210.94h.75v.75h-.75zM165.15 211.04h.75v.75h-.75zM166.62 210.92h.75v.75h-.75zM168.39 210.76h.75v.75h-.75zM172.14 210.55h.75v.75h-.75zM178.75 211.01h.75v.75h-.75zM164.2 211.78h.75v.75h-.75zM169.8 211.48h.75v.75h-.75zM171.61 211.47h.75v.75h-.75zM173.65 211.8h.75v.75h-.75zM180.92 211.42h.75v.75h-.75zM164.05 212.27h.75v.75h-.75zM165.76 212.36h.75v.75h-.75zM173.55 212.59h.75v.75h-.75zM159.4 213.22h.75v.75h-.75zM165.97 213h.75v.75h-.75zM171.64 213.18h.75v.75h-.75zM172.12 213.25h.75v.75h-.75zM174.37 213.17h.75v.75h-.75zM176.82 213.06h.75v.75h-.75zM163.41 215.05h.75v.75h-.75zM164.08 214.84h.75v.75h-.75zM166.02 214.59h.75v.75h-.75zM168 214.95h.75v.75h-.75zM176.26 215h.75v.75h-.75zM162.42 215.53h.75v.75h-.75zM169.1 215.81h.75v.75h-.75zM177.81 215.74h.75v.75h-.75zM167.53 216.26h.75v.75h-.75zM171.19 216.4h.75v.75h-.75zM172.9 216.36h.75v.75h-.75zM175.59 216.62h.75v.75h-.75zM167.63 217.44h.75v.75h-.75zM178.66 217.1h.75v.75h-.75zM165.83 217.98h.75v.75h-.75zM175.55 218.07h.75v.75h-.75zM161.7 218.81h.75v.75h-.75zM162.81 218.84h.75v.75h-.75zM169.09 219.02h.75v.75h-.75zM173.6 218.81h.75v.75h-.75zM175.29 218.56h.75v.75h-.75zM166.59 219.74h.75v.75h-.75zM172.33 219.61h.75v.75h-.75zM164 220.32h.75v.75h-.75zM168.1 220.49h.75v.75h-.75zM170.54 220.31h.75v.75h-.75zM172.81 220.58h.75v.75h-.75zM173.66 220.38h.75v.75h-.75zM175.32 220.17h.75v.75h-.75zM176.03 220.25h.75v.75h-.75zM166.71 221.33h.75v.75h-.75zM175.3 221.36h.75v.75h-.75zM174.37 221.99h.75v.75h-.75zM165.67 222.74h.75v.75h-.75zM171.54 222.94h.75v.75h-.75zM175.42 222.67h.75v.75h-.75zM170.78 223.68h.75v.75h-.75zM172.2 223.48h.75v.75h-.75zM178.61 225.44h.75v.75h-.75zM178.8 226.16h.75v.75h-.75z"/>
<path fill="#9c98da" d="M173.69 206.57h.75v.75h-.75zM170.41 207.63h.75v.75h-.75zM165.87 208.32h.75v.75h-.75zM167.33 208.37h.75v.75h-.75zM171.58 208.24h.75v.75h-.75zM163.32 208.99h.75v.75h-.75zM160.12 209.93h.75v.75h-.75zM162.04 210.04h.75v.75h-.75zM175.32 210.19h.75v.75h-.75zM180.07 209.85h.75v.75h-.75zM181.14 209.85h.75v.75h-.75zM161.9 210.99h.75v.75h-.75zM163.96 210.76h.75v.75h-.75zM176.07 210.72h.75v.75h-.75zM179.19 210.62h.75v.75h-.75zM161.58 211.48h.75v.75h-.75zM164.76 211.83h.75v.75h-.75zM169.18 211.63h.75v.75h-.75zM170.72 211.38h.75v.75h-.75zM160.23 212.55h.75v.75h-.75zM163.42 212.38h.75v.75h-.75zM165.08 212.39h.75v.75h-.75zM170.84 212.46h.75v.75h-.75zM172.18 212.52h.75v.75h-.75zM172.82 212.47h.75v.75h-.75zM163.22 213.27h.75v.75h-.75zM163.99 213.31h.75v.75h-.75zM164.19 214.22h.75v.75h-.75zM167.97 213.91h.75v.75h-.75zM158.47 214.91h.75v.75h-.75zM160.22 214.97h.75v.75h-.75zM166.38 214.69h.75v.75h-.75zM170.64 215h.75v.75h-.75zM175.29 214.79h.75v.75h-.75zM177.97 214.63h.75v.75h-.75zM164.4 215.43h.75v.75h-.75zM165.75 215.65h.75v.75h-.75zM172.44 215.8h.75v.75h-.75zM173.58 215.77h.75v.75h-.75zM174.66 215.78h.75v.75h-.75zM176.35 215.8h.75v.75h-.75zM177 215.7h.75v.75h-.75zM158.57 216.5h.75v.75h-.75zM170.68 216.37h.75v.75h-.75zM172.31 216.15h.75v.75h-.75zM176.13 216.28h.75v.75h-.75zM179.31 216.36h.75v.75h-.75zM165.1 218.16h.75v.75h-.75zM166.49 217.81h.75v.75h-.75zM167.3 218.96h.75v.75h-.75zM169.61 218.85h.75v.75h-.75zM178.43 218.83h.75v.75h-.75zM162.67 219.45h.75v.75h-.75zM164.8 219.65h.75v.75h-.75zM165.72 219.67h.75v.75h-.75zM168.04 219.53h.75v.75h-.75zM166.68 220.35h.75v.75h-.75zM171.42 220.51h.75v.75h-.75zM178.49 220.47h.75v.75h-.75zM167.49 221.11h.75v.75h-.75zM172.42 221.11h.75v.75h-.75zM173.86 221.17h.75v.75h-.75zM162.45 221.96h.75v.75h-.75zM167.96 221.91h.75v.75h-.75zM178.72 221.91h.75v.75h-.75zM163.54 222.97h.75v.75h-.75zM168.78 222.7h.75v.75h-.75zM164.78 223.69h.75v.75h-.75zM171.15 223.52h.75v.75h-.75zM171.35 224.29h.75v.75h-.75zM175.44 224.5h.75v.75h-.75zM179.99 224.47h.75v.75h-.75zM177 226.16h.75v.75h-.75zM177.77 226.18h.75v.75h-.75z"/>
<path fill="#6670c4" d="M176.86 206.64h.75v.75h-.75zM166.69 207.49h.75v.75h-.75zM169 207.62h.75v.75h-.75zM179.57 207.7h.75v.75h-.75zM166.63 208.16h.75v.75h-.75zM168.4 208.48h.75v.75h-.75zM173.22 208.39h.75v.75h-.75zM176.26 208.15h.75v.75h-.75zM166.71 209.31h.75v.75h-.75zM171.43 209.35h.75v.75h-.75zM177.65 209.08h.75v.75h-.75zM178.82 209.01h.75v.75h-.75zM162.83 210.16h.75v.75h-.75zM165.12 209.84h.75v.75h-.75zM173.64 210.2h.75v.75h-.75zM178.52 210.01h.75v.75h-.75zM163.25 210.91h.75v.75h-.75zM167.55 210.75h.75v.75h-.75zM174.36 210.66h.75v.75h-.75zM162.4 211.35h.75v.75h-.75zM175.29 211.47h.75v.75h-.75zM180.06 211.46h.75v.75h-.75zM160.93 212.4h.75v.75h-.75zM169.97 212.16h.75v.75h-.75zM161.62 213.28h.75v.75h-.75zM170.53 213.16h.75v.75h-.75zM174.05 213.23h.75v.75h-.75zM177.67 213.41h.75v.75h-.75zM178.68 213.11h.75v.75h-.75zM179.15 213.14h.75v.75h-.75zM161.98 214.18h.75v.75h-.75zM163.35 213.99h.75v.75h-.75zM166.49 214.04h.75v.75h-.75zM167.21 214.04h.75v.75h-.75zM172.95 213.79h.75v.75h-.75zM176.77 213.89h.75v.75h-.75zM177.98 213.77h.75v.75h-.75zM179.34 214.2h.75v.75h-.75zM180.29 214.01h.75v.75h-.75zM171.6 215h.75v.75h-.75zM174.79 214.64h.75v.75h-.75zM160.45 215.42h.75v.75h-.75zM175.22 215.76h.75v.75h-.75zM163.52 216.47h.75v.75h-.75zM168.06 216.43h.75v.75h-.75zM174.77 216.4h.75v.75h-.75zM177.85 216.63h.75v.75h-.75zM162.51 217.05h.75v.75h-.75zM165.69 217.17h.75v.75h-.75zM177.59 217.01h.75v.75h-.75zM169.55 218.1h.75v.75h-.75zM170.5 218.21h.75v.75h-.75zM174.02 218.03h.75v.75h-.75zM159.52 218.74h.75v.75h-.75zM160.93 218.63h.75v.75h-.75zM165.18 218.67h.75v.75h-.75zM166.42 218.64h.75v.75h-.75zM172.28 218.78h.75v.75h-.75zM169.19 219.7h.75v.75h-.75zM177.85 219.44h.75v.75h-.75zM167.64 220.51h.75v.75h-.75zM170 220.3h.75v.75h-.75zM172.32 220.2h.75v.75h-.75zM179.18 220.34h.75v.75h-.75zM171.51 221.34h.75v.75h-.75zM174.5 221.43h.75v.75h-.75zM176.18 221.35h.75v.75h-.75zM167.26 221.78h.75v.75h-.75zM168.92 222.16h.75v.75h-.75zM176.18 221.79h.75v.75h-.75zM169.8 222.8h.75v.75h-.75zM172.4 222.81h.75v.75h-.75zM176.27 222.95h.75v.75h-.75zM177.12 222.76h.75v.75h-.75zM181.1 222.91h.75v.75h-.75zM167.31 223.72h.75v.75h-.75zM173.84 223.81h.75v.75h-.75zM174.43 223.46h.75v.75h-.75zM166.64 224.25h.75v.75h-.75zM176.21 224.2h.75v.75h-.75zM172.43 225.19h.75v.75h-.75zM173.77 225.42h.75v.75h-.75zM179.21 225.4h.75v.75h-.75zM172.11 225.86h.75v.75h-.75zM174.44 226.25h.75v.75h-.75z"/>
</g>
<g filter="url(#bl)">
<ellipse cx="169.2" cy="216.02" rx="12.14" ry="4.95" fill="#b9e1da"/>
<ellipse cx="169.2" cy="216.02" rx="11.62" ry="3.78" fill="#d7eeba"/>
<ellipse cx="162.47" cy="216.02" rx="4.49" ry="2.91" fill="#faf3ad"/>
<ellipse cx="176.59" cy="216.02" rx="3.43" ry="3.2" fill="#faf3ad"/>
<ellipse cx="169.2" cy="216.02" rx="7.92" ry="1.31" fill="#faf3ad"/>
<ellipse cx="162.34" cy="216.02" rx="3.43" ry="2.24" fill="#f3a674"/>
<ellipse cx="176.59" cy="216.02" rx="1.32" ry="1.66" fill="#f3a674"/>
<ellipse cx="162.47" cy="216.02" rx="2.38" ry="1.6" fill="#dc6276"/>
<ellipse cx="162.47" cy="216.02" rx="1.32" ry="1.02" fill="#a5528f"/>
</g>
<g filter="url(#bl2)" opacity="0.8">
<path fill="#9aa8dc" d="M164.4 211.6h.7v.7h-.7zM167.54 211.83h.7v.7h-.7zM170.66 212.38h.7v.7h-.7zM157.81 216.37h.7v.7h-.7zM180 218.07h.7v.7h-.7zM160.32 218.59h.7v.7h-.7zM165.76 218.83h.7v.7h-.7zM173.6 218.66h.7v.7h-.7zM171.99 219.53h.7v.7h-.7zM165.84 220.41h.7v.7h-.7z"/>
<path fill="#8a90d4" d="M171.45 211.79h.7v.7h-.7zM173.66 211.64h.7v.7h-.7zM166.46 212.59h.7v.7h-.7zM173.64 212.5h.7v.7h-.7zM164.16 213h.7v.7h-.7zM165.73 213.33h.7v.7h-.7zM167.58 213.13h.7v.7h-.7zM165.88 214h.7v.7h-.7zM173.11 213.96h.7v.7h-.7zM172.3 214.7h.7v.7h-.7zM166.6 219.68h.7v.7h-.7zM169.56 219.63h.7v.7h-.7zM173.06 219.47h.7v.7h-.7zM164.98 220.55h.7v.7h-.7z"/>
<path fill="#7a9ad6" d="M172.45 211.37h.7v.7h-.7zM160.92 212.62h.7v.7h-.7zM174.41 213.37h.7v.7h-.7zM169.98 214.21h.7v.7h-.7zM171.59 213.95h.7v.7h-.7zM158.79 218.01h.7v.7h-.7zM167.63 218.1h.7v.7h-.7zM178.44 218.81h.7v.7h-.7zM179.35 218.57h.7v.7h-.7zM165.21 219.45h.7v.7h-.7zM171.19 219.65h.7v.7h-.7zM169.12 220.56h.7v.7h-.7z"/>
<path fill="#6fa8d0" d="M173.08 211.81h.7v.7h-.7zM167.18 212.64h.7v.7h-.7zM172.19 213.02h.7v.7h-.7zM158.81 214.08h.7v.7h-.7zM171.6 214.75h.7v.7h-.7zM180.16 214.82h.7v.7h-.7zM172.96 217.36h.7v.7h-.7zM179.96 217.04h.7v.7h-.7zM170.41 218.73h.7v.7h-.7zM168.3 219.38h.7v.7h-.7zM169.25 219.8h.7v.7h-.7zM174.72 219.71h.7v.7h-.7zM176.11 219.67h.7v.7h-.7zM171.33 220.31h.7v.7h-.7z"/>
</g>
</g>
<rect x="156" y="201" width="26.4" height="29.1" fill="none" stroke="#bababa" stroke-width="0.85"/>
<g clip-path="url(#jc18)">
<path fill="#6a5cc0" d="M365.01 206.73h.95v.95h-.95zM364.95 207.71h.95v.95h-.95zM359.59 211.03h.95v.95h-.95zM372.51 210.7h.95v.95h-.95zM375.7 212.49h.95v.95h-.95zM358.42 220.18h.95v.95h-.95zM375.59 221.21h.95v.95h-.95zM358.6 221.95h.95v.95h-.95zM364.87 222.92h.95v.95h-.95zM368.68 223.26h.95v.95h-.95z"/>
<path fill="#4a8ad0" d="M367.66 207.25h.95v.95h-.95zM368.01 207.7h.95v.95h-.95zM367.06 208.79h.95v.95h-.95zM361.37 210.08h.95v.95h-.95zM363.14 210.13h.95v.95h-.95zM376.24 213.93h.95v.95h-.95zM355.41 219.44h.95v.95h-.95zM368.9 221.21h.95v.95h-.95zM369.45 222.21h.95v.95h-.95zM366.79 224.2h.95v.95h-.95zM370.78 223.82h.95v.95h-.95z"/>
<path fill="#5a6ad0" d="M364.84 208.96h.95v.95h-.95zM369.69 208.85h.95v.95h-.95zM368.75 209.88h.95v.95h-.95zM354.83 219.25h.95v.95h-.95zM366.75 221.54h.95v.95h-.95zM357.22 222.24h.95v.95h-.95zM356.63 223.24h.95v.95h-.95zM364.03 222.87h.95v.95h-.95zM369.52 223.86h.95v.95h-.95z"/>
<path fill="#4a5cc0" d="M356.72 210.05h.95v.95h-.95zM369.73 209.96h.95v.95h-.95zM375.23 209.81h.95v.95h-.95zM360.1 210.87h.95v.95h-.95zM373.61 211.72h.95v.95h-.95zM375.3 211.75h.95v.95h-.95zM374.63 212.44h.95v.95h-.95zM372.8 220.48h.95v.95h-.95zM363.77 221.41h.95v.95h-.95zM364.81 221.4h.95v.95h-.95zM355.67 221.91h.95v.95h-.95zM365 222.01h.95v.95h-.95zM362.13 222.93h.95v.95h-.95zM357.17 224.26h.95v.95h-.95z"/>
<path fill="#58b4c4" d="M359.5 211.76h.95v.95h-.95zM363.26 211.5h.95v.95h-.95zM369.65 211.99h.95v.95h-.95zM371.6 211.85h.95v.95h-.95zM355.27 212.85h.95v.95h-.95zM356.58 212.55h.95v.95h-.95zM360.12 212.52h.95v.95h-.95zM362.29 212.86h.95v.95h-.95zM364.32 212.84h.95v.95h-.95zM370.02 212.54h.95v.95h-.95zM362.83 213.6h.95v.95h-.95zM363.86 213.71h.95v.95h-.95zM366.63 213.8h.95v.95h-.95zM374.78 213.43h.95v.95h-.95zM375.18 213.54h.95v.95h-.95zM362.26 214.57h.95v.95h-.95zM363.27 214.66h.95v.95h-.95zM363.93 214.34h.95v.95h-.95zM364.85 214.38h.95v.95h-.95zM366.1 214.81h.95v.95h-.95zM374.72 214.48h.95v.95h-.95zM375.16 214.55h.95v.95h-.95zM362.88 215.63h.95v.95h-.95zM366.64 215.55h.95v.95h-.95zM364.02 216.75h.95v.95h-.95zM364.91 216.75h.95v.95h-.95zM355.45 218.17h.95v.95h-.95zM359.96 218.6h.95v.95h-.95zM360.93 218.61h.95v.95h-.95zM362.17 218.37h.95v.95h-.95zM363.97 218.11h.95v.95h-.95zM366.64 218.36h.95v.95h-.95zM372.87 218.3h.95v.95h-.95zM373.27 218.63h.95v.95h-.95zM361.17 219.07h.95v.95h-.95zM363.13 219.29h.95v.95h-.95zM367.08 219.21h.95v.95h-.95zM368.77 219.4h.95v.95h-.95zM371.85 219.3h.95v.95h-.95zM372.65 219.11h.95v.95h-.95zM365.13 220.41h.95v.95h-.95zM366.65 220.41h.95v.95h-.95z"/>
<path fill="#f2e266" d="M358.33 213h.95v.95h-.95zM371.81 212.88h.95v.95h-.95zM355.5 213.41h.95v.95h-.95zM359.59 213.6h.95v.95h-.95zM360.13 213.61h.95v.95h-.95zM370.61 213.45h.95v.95h-.95zM371.61 213.41h.95v.95h-.95zM372.7 213.9h.95v.95h-.95zM373.77 213.8h.95v.95h-.95zM360.52 214.36h.95v.95h-.95zM367.85 214.43h.95v.95h-.95zM368.73 214.86h.95v.95h-.95zM369.01 215.29h.95v.95h-.95zM373.83 215.6h.95v.95h-.95zM367.89 216.78h.95v.95h-.95zM368.87 216.23h.95v.95h-.95zM373.67 216.21h.95v.95h-.95zM354.67 217.44h.95v.95h-.95zM355.73 217.47h.95v.95h-.95zM358.56 217.68h.95v.95h-.95zM359.13 217.33h.95v.95h-.95zM360.04 217.29h.95v.95h-.95zM368.87 217.43h.95v.95h-.95zM369.85 217.24h.95v.95h-.95zM372.66 217.3h.95v.95h-.95zM373.82 217.16h.95v.95h-.95zM356.56 218.36h.95v.95h-.95zM370.7 218.37h.95v.95h-.95z"/>
<path fill="#f59548" d="M356.6 213.71h.95v.95h-.95zM357.13 213.7h.95v.95h-.95zM358.26 213.88h.95v.95h-.95zM369.93 213.91h.95v.95h-.95zM355.58 214.57h.95v.95h-.95zM356.43 214.47h.95v.95h-.95zM359.22 214.38h.95v.95h-.95zM369.63 214.42h.95v.95h-.95zM370.65 214.82h.95v.95h-.95zM372.52 214.39h.95v.95h-.95zM354.59 215.4h.95v.95h-.95zM359.38 215.67h.95v.95h-.95zM360.03 215.59h.95v.95h-.95zM369.7 215.34h.95v.95h-.95zM370.64 215.51h.95v.95h-.95zM371.72 215.67h.95v.95h-.95zM372.82 215.71h.95v.95h-.95zM355.29 216.25h.95v.95h-.95zM359.41 216.71h.95v.95h-.95zM369.55 216.37h.95v.95h-.95zM370.97 216.68h.95v.95h-.95zM371.76 216.44h.95v.95h-.95zM372.43 216.28h.95v.95h-.95zM370.62 217.27h.95v.95h-.95zM371.64 217.22h.95v.95h-.95z"/>
<path fill="#d62e3a" d="M357.3 214.54h.95v.95h-.95zM358.14 214.67h.95v.95h-.95zM355.53 215.31h.95v.95h-.95zM356.59 215.55h.95v.95h-.95zM357.62 215.57h.95v.95h-.95zM358.35 215.83h.95v.95h-.95zM356.24 216.26h.95v.95h-.95zM357.25 216.38h.95v.95h-.95zM358.34 216.53h.95v.95h-.95zM357.42 217.19h.95v.95h-.95z"/>
</g>
<rect x="351.4" y="201" width="26.5" height="29.1" fill="none" stroke="#bababa" stroke-width="0.85"/>
<g clip-path="url(#jc4)">
<g filter="url(#bl)">
<path d="M208.36,159.17 C207.46,160.2 204.48,158.98 202.68,158.04 C200.89,157.11 198.71,155.28 197.57,153.55 C196.44,151.81 196.06,149.52 195.87,147.65 C195.68,145.77 196.06,143.62 196.44,142.31 C196.81,140.99 197.38,140.25 198.14,139.78 C198.9,139.31 200.03,138.98 200.98,139.5 C201.93,140.01 202.97,141.56 203.82,142.87 C204.67,144.18 205.38,145.87 206.09,147.36 C206.8,148.86 207.7,149.89 208.08,151.86 C208.46,153.83 209.26,158.14 208.36,159.17Z" fill="none" stroke="#bfe4d4" stroke-width="2.8" stroke-linejoin="round"/>
<path d="M210.64,159.17 C211.54,160.2 214.52,158.98 216.32,158.04 C218.11,157.11 220.29,155.28 221.43,153.55 C222.56,151.81 222.94,149.52 223.13,147.65 C223.32,145.77 222.94,143.62 222.56,142.31 C222.19,140.99 221.62,140.25 220.86,139.78 C220.1,139.31 218.97,138.98 218.02,139.5 C217.07,140.01 216.03,141.56 215.18,142.87 C214.33,144.18 213.62,145.87 212.91,147.36 C212.2,148.86 211.3,149.89 210.92,151.86 C210.54,153.83 209.74,158.14 210.64,159.17Z" fill="none" stroke="#bfe4d4" stroke-width="2.8" stroke-linejoin="round"/>
<path d="M208.36,159.17 C207.46,160.2 204.48,158.98 202.68,158.04 C200.89,157.11 198.71,155.28 197.57,153.55 C196.44,151.81 196.06,149.52 195.87,147.65 C195.68,145.77 196.06,143.62 196.44,142.31 C196.81,140.99 197.38,140.25 198.14,139.78 C198.9,139.31 200.03,138.98 200.98,139.5 C201.93,140.01 202.97,141.56 203.82,142.87 C204.67,144.18 205.38,145.87 206.09,147.36 C206.8,148.86 207.7,149.89 208.08,151.86 C208.46,153.83 209.26,158.14 208.36,159.17Z" fill="#d2ebe2"/>
<path d="M210.64,159.17 C211.54,160.2 214.52,158.98 216.32,158.04 C218.11,157.11 220.29,155.28 221.43,153.55 C222.56,151.81 222.94,149.52 223.13,147.65 C223.32,145.77 222.94,143.62 222.56,142.31 C222.19,140.99 221.62,140.25 220.86,139.78 C220.1,139.31 218.97,138.98 218.02,139.5 C217.07,140.01 216.03,141.56 215.18,142.87 C214.33,144.18 213.62,145.87 212.91,147.36 C212.2,148.86 211.3,149.89 210.92,151.86 C210.54,153.83 209.74,158.14 210.64,159.17Z" fill="#d2ebe2"/>
<path d="M208.36,159.17 C207.46,160.2 204.48,158.98 202.68,158.04 C200.89,157.11 198.71,155.28 197.57,153.55 C196.44,151.81 196.06,149.52 195.87,147.65 C195.68,145.77 196.06,143.62 196.44,142.31 C196.81,140.99 197.38,140.25 198.14,139.78 C198.9,139.31 200.03,138.98 200.98,139.5 C201.93,140.01 202.97,141.56 203.82,142.87 C204.67,144.18 205.38,145.87 206.09,147.36 C206.8,148.86 207.7,149.89 208.08,151.86 C208.46,153.83 209.26,158.14 208.36,159.17Z" fill="none" stroke="#d7eeba" stroke-width="1.9" stroke-linejoin="round"/>
<path d="M210.64,159.17 C211.54,160.2 214.52,158.98 216.32,158.04 C218.11,157.11 220.29,155.28 221.43,153.55 C222.56,151.81 222.94,149.52 223.13,147.65 C223.32,145.77 222.94,143.62 222.56,142.31 C222.19,140.99 221.62,140.25 220.86,139.78 C220.1,139.31 218.97,138.98 218.02,139.5 C217.07,140.01 216.03,141.56 215.18,142.87 C214.33,144.18 213.62,145.87 212.91,147.36 C212.2,148.86 211.3,149.89 210.92,151.86 C210.54,153.83 209.74,158.14 210.64,159.17Z" fill="none" stroke="#d7eeba" stroke-width="1.9" stroke-linejoin="round"/>
<path d="M208.36,159.17 C207.46,160.2 204.48,158.98 202.68,158.04 C200.89,157.11 198.71,155.28 197.57,153.55 C196.44,151.81 196.06,149.52 195.87,147.65 C195.68,145.77 196.06,143.62 196.44,142.31 C196.81,140.99 197.38,140.25 198.14,139.78 C198.9,139.31 200.03,138.98 200.98,139.5 C201.93,140.01 202.97,141.56 203.82,142.87 C204.67,144.18 205.38,145.87 206.09,147.36 C206.8,148.86 207.7,149.89 208.08,151.86 C208.46,153.83 209.26,158.14 208.36,159.17Z" fill="none" stroke="#faf3ad" stroke-width="1.1" stroke-linejoin="round"/>
<path d="M210.64,159.17 C211.54,160.2 214.52,158.98 216.32,158.04 C218.11,157.11 220.29,155.28 221.43,153.55 C222.56,151.81 222.94,149.52 223.13,147.65 C223.32,145.77 222.94,143.62 222.56,142.31 C222.19,140.99 221.62,140.25 220.86,139.78 C220.1,139.31 218.97,138.98 218.02,139.5 C217.07,140.01 216.03,141.56 215.18,142.87 C214.33,144.18 213.62,145.87 212.91,147.36 C212.2,148.86 211.3,149.89 210.92,151.86 C210.54,153.83 209.74,158.14 210.64,159.17Z" fill="none" stroke="#faf3ad" stroke-width="1.1" stroke-linejoin="round"/>
<path d="M205.24,143.99 C206.42,142.68 212.58,142.68 213.76,143.99 C214.94,145.3 212.58,149.24 212.34,151.86 C212.1,154.48 213.29,158.42 212.34,159.73 C211.39,161.04 207.61,161.04 206.66,159.73 C205.71,158.42 206.9,154.48 206.66,151.86 C206.42,149.24 204.06,145.3 205.24,143.99Z" fill="#faf3ad"/>
<path d="M206.66,145.96 C207.32,145.07 211.68,145.07 212.34,145.96 C213,146.85 210.92,149.28 210.64,151.3 C210.35,153.31 211.01,156.92 210.64,158.04 C210.26,159.17 208.74,159.17 208.36,158.04 C207.99,156.92 208.65,153.31 208.36,151.3 C208.08,149.28 206,146.85 206.66,145.96Z" fill="#f3a674"/>
<path d="M207.51,147.08 C207.94,146.47 211.06,146.47 211.49,147.08 C211.91,147.69 210.3,149 210.07,150.74 C209.83,152.47 210.26,156.36 210.07,157.48 C209.88,158.6 209.12,158.6 208.93,157.48 C208.74,156.36 209.17,152.47 208.93,150.74 C208.7,149 207.09,147.69 207.51,147.08Z" fill="#dc6276"/>
<ellipse cx="209.5" cy="149.05" rx="1.28" ry="1.12" fill="#a5528f"/>
</g>
<g filter="url(#bl2)">
<path fill="#86c4c8" d="M198.86 141.67h.75v.75h-.75zM200.31 142.54h.75v.75h-.75zM200.18 143.28h.75v.75h-.75zM197.89 144.14h.75v.75h-.75zM200.17 144.89h.75v.75h-.75zM203.32 145.78h.75v.75h-.75zM197.89 146.56h.75v.75h-.75zM200.39 146.22h.75v.75h-.75zM201.71 146.34h.75v.75h-.75zM204.93 147.42h.75v.75h-.75zM204.16 148.12h.75v.75h-.75zM199.52 148.9h.75v.75h-.75zM200.08 151.08h.75v.75h-.75zM199.73 151.79h.75v.75h-.75zM204.34 151.81h.75v.75h-.75zM205.84 151.85h.75v.75h-.75zM204.87 152.66h.75v.75h-.75zM204.5 154.26h.75v.75h-.75zM205.21 154.39h.75v.75h-.75zM201.76 155.06h.75v.75h-.75zM202.59 155.21h.75v.75h-.75zM202.65 155.79h.75v.75h-.75zM217.71 143h.75v.75h-.75zM218.06 144.71h.75v.75h-.75zM214.94 145.51h.75v.75h-.75zM218.65 145.53h.75v.75h-.75zM216.16 146.49h.75v.75h-.75zM220.46 147.22h.75v.75h-.75zM221.04 147h.75v.75h-.75zM214.01 147.94h.75v.75h-.75zM217.25 148.23h.75v.75h-.75zM220.99 148.83h.75v.75h-.75zM219.47 150.28h.75v.75h-.75zM220.5 150.56h.75v.75h-.75zM213.15 151.05h.75v.75h-.75zM217.03 151.23h.75v.75h-.75zM220.37 152.04h.75v.75h-.75zM217.74 152.87h.75v.75h-.75zM212.37 153.68h.75v.75h-.75zM216.4 153.83h.75v.75h-.75zM218.94 153.41h.75v.75h-.75zM213.85 154.56h.75v.75h-.75z"/>
<path fill="#a0c8e0" d="M199.41 141.59h.75v.75h-.75zM201.67 143.2h.75v.75h-.75zM201.72 143.77h.75v.75h-.75zM199.57 144.82h.75v.75h-.75zM199.33 145.38h.75v.75h-.75zM197.27 146.19h.75v.75h-.75zM199.39 146.17h.75v.75h-.75zM201.73 147.16h.75v.75h-.75zM202.8 148.14h.75v.75h-.75zM197.24 148.74h.75v.75h-.75zM197.95 148.84h.75v.75h-.75zM200.13 148.73h.75v.75h-.75zM203.26 149.02h.75v.75h-.75zM201.17 149.65h.75v.75h-.75zM202.76 150.35h.75v.75h-.75zM204.96 151.21h.75v.75h-.75zM200.44 151.79h.75v.75h-.75zM201.18 153.51h.75v.75h-.75zM202.59 153.83h.75v.75h-.75zM203.46 155.76h.75v.75h-.75zM219.36 141.82h.75v.75h-.75zM218.56 142.49h.75v.75h-.75zM217.32 144.21h.75v.75h-.75zM218.78 143.91h.75v.75h-.75zM216.34 144.69h.75v.75h-.75zM217.24 144.63h.75v.75h-.75zM216.99 146.2h.75v.75h-.75zM218.55 147.83h.75v.75h-.75zM217.25 148.87h.75v.75h-.75zM214.52 149.84h.75v.75h-.75zM221.25 149.8h.75v.75h-.75zM213.34 150.31h.75v.75h-.75zM216.45 150.47h.75v.75h-.75zM214.47 152.2h.75v.75h-.75zM212.17 153.05h.75v.75h-.75zM213.31 152.77h.75v.75h-.75zM219.26 152.55h.75v.75h-.75zM215.32 153.38h.75v.75h-.75zM214.05 155.11h.75v.75h-.75zM217.03 155.45h.75v.75h-.75zM213.67 156h.75v.75h-.75z"/>
<path fill="#6fb4cc" d="M200.49 141.67h.75v.75h-.75zM200.85 142.33h.75v.75h-.75zM202.66 143.91h.75v.75h-.75zM201.06 145.56h.75v.75h-.75zM198.5 146.34h.75v.75h-.75zM197.73 147.06h.75v.75h-.75zM197.72 148h.75v.75h-.75zM200.06 147.86h.75v.75h-.75zM201.24 148.24h.75v.75h-.75zM201.77 148.93h.75v.75h-.75zM198.72 149.46h.75v.75h-.75zM198.06 150.21h.75v.75h-.75zM201.73 150.16h.75v.75h-.75zM204.94 150.26h.75v.75h-.75zM205.82 151.06h.75v.75h-.75zM199.49 152.63h.75v.75h-.75zM200.26 152.72h.75v.75h-.75zM206.82 152.98h.75v.75h-.75zM203.34 153.5h.75v.75h-.75zM204.98 153.77h.75v.75h-.75zM200.97 154.47h.75v.75h-.75zM204.07 156.23h.75v.75h-.75zM220.97 144.25h.75v.75h-.75zM215.65 144.65h.75v.75h-.75zM216.18 145.35h.75v.75h-.75zM220.36 146.58h.75v.75h-.75zM214.12 147.44h.75v.75h-.75zM213.8 148.68h.75v.75h-.75zM216.44 148.75h.75v.75h-.75zM217.82 148.67h.75v.75h-.75zM219.38 148.99h.75v.75h-.75zM214.03 149.37h.75v.75h-.75zM216.91 150.32h.75v.75h-.75zM217.98 150.53h.75v.75h-.75zM215.74 151.39h.75v.75h-.75zM218.71 151.35h.75v.75h-.75zM217.19 152.07h.75v.75h-.75zM218.56 152.03h.75v.75h-.75zM215.29 155.91h.75v.75h-.75zM212.39 156.96h.75v.75h-.75z"/>
<path fill="#7a9ad0" d="M203.27 144.56h.75v.75h-.75zM197.82 145.55h.75v.75h-.75zM201.79 145.69h.75v.75h-.75zM203.48 146.21h.75v.75h-.75zM200.24 147.08h.75v.75h-.75zM204.41 147.45h.75v.75h-.75zM205.04 147.96h.75v.75h-.75zM200.06 149.72h.75v.75h-.75zM202.15 149.57h.75v.75h-.75zM202.8 149.54h.75v.75h-.75zM205.08 149.37h.75v.75h-.75zM199.7 150.16h.75v.75h-.75zM202.79 151.43h.75v.75h-.75zM201.97 152.24h.75v.75h-.75zM205.33 151.99h.75v.75h-.75zM204.37 152.94h.75v.75h-.75zM202.74 154.38h.75v.75h-.75zM204.51 155.44h.75v.75h-.75zM205.87 155.78h.75v.75h-.75zM217.65 141.82h.75v.75h-.75zM218.07 142.62h.75v.75h-.75zM219.73 143.41h.75v.75h-.75zM216.36 143.94h.75v.75h-.75zM220.18 144.04h.75v.75h-.75zM218.71 144.78h.75v.75h-.75zM219.48 144.86h.75v.75h-.75zM215.42 145.67h.75v.75h-.75zM214.68 146.6h.75v.75h-.75zM218.49 146.24h.75v.75h-.75zM215.55 147.21h.75v.75h-.75zM221.79 147.03h.75v.75h-.75zM213.06 149.63h.75v.75h-.75zM215.74 149.81h.75v.75h-.75zM218.73 149.69h.75v.75h-.75zM215.6 150.18h.75v.75h-.75zM212.42 151.02h.75v.75h-.75zM216.54 152.78h.75v.75h-.75zM219.39 153.69h.75v.75h-.75zM216.44 154.3h.75v.75h-.75zM212.32 155.02h.75v.75h-.75zM214.68 155.2h.75v.75h-.75zM215.52 155.04h.75v.75h-.75zM213.23 156.05h.75v.75h-.75zM213.81 156.66h.75v.75h-.75z"/>
</g>
</g>
<rect x="195.3" y="135" width="28.4" height="28.1" fill="none" stroke="#bababa" stroke-width="0.85"/>
<g clip-path="url(#jc9)">
<path fill="#a6d890" d="M411.97 139.1h.95v.95h-.95zM414.86 140.09h.95v.95h-.95zM410.13 141.06h.95v.95h-.95zM393.83 142.75h.95v.95h-.95zM415.81 142.98h.95v.95h-.95zM390.98 143.59h.95v.95h-.95zM410.27 143.91h.95v.95h-.95zM411.36 143.71h.95v.95h-.95zM396.67 144.7h.95v.95h-.95zM416.02 144.63h.95v.95h-.95zM391.54 145.7h.95v.95h-.95zM408.09 145.71h.95v.95h-.95zM390.46 146.75h.95v.95h-.95zM395.34 147.49h.95v.95h-.95zM409.18 147.9h.95v.95h-.95zM396.66 150.41h.95v.95h-.95zM410.95 150.26h.95v.95h-.95zM391.91 151.44h.95v.95h-.95zM410.39 151.15h.95v.95h-.95zM415.3 151.6h.95v.95h-.95zM392.25 152.14h.95v.95h-.95zM394.23 152.53h.95v.95h-.95zM412.93 152.61h.95v.95h-.95zM396.83 153.38h.95v.95h-.95zM408.22 153.47h.95v.95h-.95zM408.38 154.32h.95v.95h-.95zM412.91 154.17h.95v.95h-.95zM408.11 155h.95v.95h-.95zM406.63 156.48h.95v.95h-.95zM407.13 156.08h.95v.95h-.95zM410.3 155.91h.95v.95h-.95zM406.2 157.22h.95v.95h-.95zM407.58 157.11h.95v.95h-.95z"/>
<path fill="#f2e266" d="M413.36 139.07h.95v.95h-.95zM394.14 140.02h.95v.95h-.95zM394.92 140.09h.95v.95h-.95zM411.04 139.77h.95v.95h-.95zM391.44 140.74h.95v.95h-.95zM390.51 142.01h.95v.95h-.95zM414.74 142.11h.95v.95h-.95zM409.5 143.16h.95v.95h-.95zM410.5 142.72h.95v.95h-.95zM413.8 142.9h.95v.95h-.95zM390.35 144.84h.95v.95h-.95zM417.12 146.02h.95v.95h-.95zM392 146.71h.95v.95h-.95zM409.97 146.95h.95v.95h-.95zM413.23 146.91h.95v.95h-.95zM390.22 147.93h.95v.95h-.95zM416.81 147.53h.95v.95h-.95zM392.48 148.41h.95v.95h-.95zM393.41 148.83h.95v.95h-.95zM411.35 149.55h.95v.95h-.95zM406.29 150.71h.95v.95h-.95zM412.13 151.18h.95v.95h-.95zM397.12 152.21h.95v.95h-.95zM399.9 153.1h.95v.95h-.95zM409.57 153.51h.95v.95h-.95zM411.35 153.14h.95v.95h-.95zM413.16 155.55h.95v.95h-.95zM411.47 156.08h.95v.95h-.95zM400.95 157.44h.95v.95h-.95zM401 158.37h.95v.95h-.95z"/>
<path fill="#c8e070" d="M414.83 139.01h.95v.95h-.95zM391.92 139.93h.95v.95h-.95zM413.8 140.23h.95v.95h-.95zM415.86 140.23h.95v.95h-.95zM415.03 140.78h.95v.95h-.95zM398.19 142.92h.95v.95h-.95zM416.68 144.06h.95v.95h-.95zM416.89 144.56h.95v.95h-.95zM391.31 147.53h.95v.95h-.95z"/>
<path fill="#58b4c4" d="M412.26 141.3h.95v.95h-.95zM413.17 141.28h.95v.95h-.95zM397.25 143.77h.95v.95h-.95zM412.36 143.63h.95v.95h-.95zM413.78 143.93h.95v.95h-.95zM409.24 144.54h.95v.95h-.95zM393.44 146.01h.95v.95h-.95zM409.46 145.52h.95v.95h-.95zM393.99 146.53h.95v.95h-.95zM399.97 146.7h.95v.95h-.95zM408.14 146.72h.95v.95h-.95zM412.24 146.56h.95v.95h-.95zM411.1 147.61h.95v.95h-.95zM395.33 148.36h.95v.95h-.95zM407.69 148.67h.95v.95h-.95zM408.52 148.7h.95v.95h-.95zM412.13 148.72h.95v.95h-.95zM400.1 149.79h.95v.95h-.95zM400.82 149.81h.95v.95h-.95zM407.67 149.64h.95v.95h-.95zM414.74 149.27h.95v.95h-.95zM391.52 150.56h.95v.95h-.95zM393.03 150.74h.95v.95h-.95zM401.92 151.51h.95v.95h-.95zM413.19 151.62h.95v.95h-.95zM398.58 152.13h.95v.95h-.95zM401.04 152.55h.95v.95h-.95zM405.38 152.2h.95v.95h-.95zM400.94 153.59h.95v.95h-.95zM406.42 153.45h.95v.95h-.95zM407.27 153.43h.95v.95h-.95zM400.77 154.36h.95v.95h-.95zM411.48 154.45h.95v.95h-.95zM405.43 154.97h.95v.95h-.95zM396.1 156.2h.95v.95h-.95zM396.69 156.91h.95v.95h-.95zM408.31 156.93h.95v.95h-.95zM401.91 157.94h.95v.95h-.95zM409.18 157.84h.95v.95h-.95z"/>
<path fill="#5a6ad0" d="M394.95 141.86h.95v.95h-.95zM395.27 142.62h.95v.95h-.95zM394.05 144.04h.95v.95h-.95zM415.03 143.6h.95v.95h-.95zM395.03 144.97h.95v.95h-.95zM396.06 144.97h.95v.95h-.95zM397.2 146.51h.95v.95h-.95zM397.1 147.79h.95v.95h-.95zM397.75 147.85h.95v.95h-.95zM412 149.74h.95v.95h-.95zM415 150.2h.95v.95h-.95zM393.09 152.45h.95v.95h-.95zM394.86 152.66h.95v.95h-.95zM410.39 152.5h.95v.95h-.95zM412.38 152.15h.95v.95h-.95zM413.87 152.15h.95v.95h-.95zM393.24 153.2h.95v.95h-.95zM394.01 153.21h.95v.95h-.95zM401.65 154.44h.95v.95h-.95zM405.59 154.33h.95v.95h-.95zM398.69 155.1h.95v.95h-.95zM412.28 155.4h.95v.95h-.95zM396.8 156.01h.95v.95h-.95z"/>
<path fill="#6cc0a0" d="M398.64 144.12h.95v.95h-.95zM398.73 145.46h.95v.95h-.95zM411.01 146.87h.95v.95h-.95zM415.16 146.84h.95v.95h-.95zM392.19 147.62h.95v.95h-.95zM395.92 147.94h.95v.95h-.95zM391.25 148.73h.95v.95h-.95zM399.58 148.47h.95v.95h-.95zM411.37 148.87h.95v.95h-.95zM414.94 148.72h.95v.95h-.95zM394.99 149.79h.95v.95h-.95zM392.08 150.24h.95v.95h-.95zM395.99 150.42h.95v.95h-.95zM397.8 150.71h.95v.95h-.95zM399.8 150.34h.95v.95h-.95zM395.26 151.32h.95v.95h-.95zM414.07 151.71h.95v.95h-.95zM406.65 152.33h.95v.95h-.95zM396.05 153.14h.95v.95h-.95zM399.9 155.42h.95v.95h-.95zM401.59 156.08h.95v.95h-.95zM405.66 157.39h.95v.95h-.95z"/>
<path fill="#f59548" d="M402.87 148.36h.95v.95h-.95zM404.51 148.38h.95v.95h-.95zM405.36 148.56h.95v.95h-.95zM403.42 152.59h.95v.95h-.95zM404.3 152.62h.95v.95h-.95zM403.32 153.18h.95v.95h-.95zM404.62 153.38h.95v.95h-.95zM402.7 154.21h.95v.95h-.95zM403.37 154.5h.95v.95h-.95zM404.56 154.49h.95v.95h-.95zM402.93 155.01h.95v.95h-.95zM403.51 155.06h.95v.95h-.95zM404.84 155.32h.95v.95h-.95zM402.72 156.28h.95v.95h-.95zM404.66 156.17h.95v.95h-.95z"/>
<path fill="#d62e3a" d="M403.82 148.8h.95v.95h-.95zM402.85 149.45h.95v.95h-.95zM403.79 149.41h.95v.95h-.95zM404.76 149.77h.95v.95h-.95zM402.59 150.51h.95v.95h-.95zM403.31 150.4h.95v.95h-.95zM404.53 150.26h.95v.95h-.95zM403.41 151.47h.95v.95h-.95zM404.68 151.52h.95v.95h-.95z"/>
</g>
<rect x="390" y="135" width="27.6" height="28.1" fill="none" stroke="#bababa" stroke-width="0.85"/>
<g clip-path="url(#jc14)">
<path d="M196.54,215.55 C196.54,213.08 196.9,209.83 198.15,208.28 C199.41,206.72 202.19,206.48 204.07,206.24 C205.95,206 207.66,206.92 209.45,206.82 C211.24,206.72 212.95,205.56 214.83,205.66 C216.71,205.75 219.45,205.75 220.75,207.4 C222.05,209.05 222.63,212.74 222.63,215.55 C222.63,218.36 222.05,222.44 220.75,224.28 C219.45,226.12 216.71,226.51 214.83,226.61 C212.95,226.71 211.24,224.96 209.45,224.86 C207.66,224.76 205.95,226.32 204.07,226.03 C202.19,225.74 199.41,224.86 198.15,223.12 C196.9,221.37 196.54,218.02 196.54,215.55Z" fill="#f1f1f9"/>
<path d="M200.16,215.64 C200.16,213.86 200.42,211.52 201.32,210.4 C202.23,209.28 204.23,209.11 205.58,208.93 C206.94,208.76 208.17,209.42 209.46,209.35 C210.75,209.28 211.97,208.44 213.33,208.51 C214.69,208.58 216.65,208.58 217.59,209.77 C218.53,210.96 218.95,213.61 218.95,215.64 C218.95,217.66 218.53,220.6 217.59,221.92 C216.65,223.25 214.69,223.53 213.33,223.6 C211.97,223.67 210.75,222.41 209.46,222.34 C208.17,222.27 206.94,223.39 205.58,223.18 C204.23,222.97 202.23,222.34 201.32,221.09 C200.42,219.83 200.16,217.42 200.16,215.64Z" fill="#e6e6f4"/>
<g filter="url(#bl2)">
<path fill="#7680cc" d="M212.38 206.21h.75v.75h-.75zM205.88 206.8h.75v.75h-.75zM211.46 206.98h.75v.75h-.75zM211.3 207.63h.75v.75h-.75zM210.66 208.59h.75v.75h-.75zM204.24 209.35h.75v.75h-.75zM206.75 210.16h.75v.75h-.75zM207.59 210.12h.75v.75h-.75zM214 210.12h.75v.75h-.75zM205.63 210.98h.75v.75h-.75zM199.22 211.43h.75v.75h-.75zM204.12 211.68h.75v.75h-.75zM204.89 211.59h.75v.75h-.75zM200.86 212.4h.75v.75h-.75zM201.58 212.47h.75v.75h-.75zM204.77 212.54h.75v.75h-.75zM206.77 212.42h.75v.75h-.75zM216.27 212.51h.75v.75h-.75zM216.78 212.33h.75v.75h-.75zM202.59 213.07h.75v.75h-.75zM205.95 212.98h.75v.75h-.75zM208.14 213.13h.75v.75h-.75zM213.84 213.25h.75v.75h-.75zM202.76 213.95h.75v.75h-.75zM210.5 213.96h.75v.75h-.75zM214.57 214.2h.75v.75h-.75zM201.2 214.57h.75v.75h-.75zM196.94 215.8h.75v.75h-.75zM213.12 215.65h.75v.75h-.75zM210.55 216.59h.75v.75h-.75zM205.65 217.16h.75v.75h-.75zM207.34 217.04h.75v.75h-.75zM209.86 217.12h.75v.75h-.75zM211.61 217.19h.75v.75h-.75zM211.96 217.31h.75v.75h-.75zM220.3 217.39h.75v.75h-.75zM211.28 217.93h.75v.75h-.75zM212.23 218.22h.75v.75h-.75zM207.18 218.93h.75v.75h-.75zM213.7 218.7h.75v.75h-.75zM202.47 219.8h.75v.75h-.75zM203.57 219.73h.75v.75h-.75zM205.92 219.69h.75v.75h-.75zM209.69 219.73h.75v.75h-.75zM211.48 219.47h.75v.75h-.75zM208.96 220.56h.75v.75h-.75zM210.56 220.43h.75v.75h-.75zM212.45 220.42h.75v.75h-.75zM204.35 221.42h.75v.75h-.75zM211.54 221.36h.75v.75h-.75zM219.25 221.27h.75v.75h-.75zM204.08 222.12h.75v.75h-.75zM209.11 222.04h.75v.75h-.75zM214.02 221.82h.75v.75h-.75zM201.01 222.65h.75v.75h-.75zM213.02 222.91h.75v.75h-.75zM217.61 222.98h.75v.75h-.75zM218.47 222.76h.75v.75h-.75zM219.56 222.96h.75v.75h-.75zM204.77 223.69h.75v.75h-.75zM204.09 224.53h.75v.75h-.75zM206.36 224.53h.75v.75h-.75zM211.19 224.46h.75v.75h-.75zM213.01 225.88h.75v.75h-.75z"/>
<path fill="#9c98da" d="M206.69 206.99h.75v.75h-.75zM209.01 206.8h.75v.75h-.75zM212.76 206.9h.75v.75h-.75zM207.43 207.66h.75v.75h-.75zM205.16 208.18h.75v.75h-.75zM211.47 208.5h.75v.75h-.75zM211.98 208.16h.75v.75h-.75zM219.2 208.56h.75v.75h-.75zM211.3 209.07h.75v.75h-.75zM211.17 209.77h.75v.75h-.75zM200.15 210.74h.75v.75h-.75zM202.81 210.73h.75v.75h-.75zM205.24 210.59h.75v.75h-.75zM209.96 210.95h.75v.75h-.75zM216.21 210.69h.75v.75h-.75zM214.79 211.6h.75v.75h-.75zM218 211.61h.75v.75h-.75zM218.67 211.55h.75v.75h-.75zM221.72 211.69h.75v.75h-.75zM209.23 212.64h.75v.75h-.75zM209.84 212.38h.75v.75h-.75zM214.79 212.17h.75v.75h-.75zM218.01 212.49h.75v.75h-.75zM220.79 212.4h.75v.75h-.75zM197.91 213h.75v.75h-.75zM208.84 213.09h.75v.75h-.75zM212.92 213.36h.75v.75h-.75zM217.93 213.04h.75v.75h-.75zM199.55 213.84h.75v.75h-.75zM206.62 214.24h.75v.75h-.75zM208.23 213.94h.75v.75h-.75zM212.88 214.19h.75v.75h-.75zM218.77 214.02h.75v.75h-.75zM215.35 215h.75v.75h-.75zM217.14 214.8h.75v.75h-.75zM210.82 215.78h.75v.75h-.75zM211.64 215.4h.75v.75h-.75zM216.96 215.71h.75v.75h-.75zM218.02 215.59h.75v.75h-.75zM196.78 216.33h.75v.75h-.75zM205.25 216.57h.75v.75h-.75zM208.92 216.34h.75v.75h-.75zM211.18 216.48h.75v.75h-.75zM212.32 216.57h.75v.75h-.75zM212.78 216.25h.75v.75h-.75zM220.38 216.36h.75v.75h-.75zM197.94 217.14h.75v.75h-.75zM201.62 217.44h.75v.75h-.75zM203.62 217.38h.75v.75h-.75zM206.76 217.19h.75v.75h-.75zM210.66 217.17h.75v.75h-.75zM215.61 217.13h.75v.75h-.75zM218.55 217.29h.75v.75h-.75zM200.83 218.11h.75v.75h-.75zM208.24 218.03h.75v.75h-.75zM201.97 218.85h.75v.75h-.75zM202.77 218.86h.75v.75h-.75zM212.32 218.81h.75v.75h-.75zM214.63 219.04h.75v.75h-.75zM218.01 218.95h.75v.75h-.75zM200.08 219.76h.75v.75h-.75zM201.65 219.7h.75v.75h-.75zM204.26 219.56h.75v.75h-.75zM209.03 219.62h.75v.75h-.75zM212.3 219.69h.75v.75h-.75zM218.01 219.71h.75v.75h-.75zM200.78 220.38h.75v.75h-.75zM205.17 220.54h.75v.75h-.75zM214.66 220.2h.75v.75h-.75zM215.42 221.37h.75v.75h-.75zM217.19 220.99h.75v.75h-.75zM221.06 221.3h.75v.75h-.75zM199.45 221.9h.75v.75h-.75zM200.09 222.04h.75v.75h-.75zM210.38 221.82h.75v.75h-.75zM213.03 222.12h.75v.75h-.75zM220.16 222.08h.75v.75h-.75zM202.04 222.86h.75v.75h-.75zM205.03 222.55h.75v.75h-.75zM205.58 222.83h.75v.75h-.75zM206.35 222.73h.75v.75h-.75zM214.62 222.73h.75v.75h-.75zM219.44 223.41h.75v.75h-.75zM220.89 223.52h.75v.75h-.75zM203.52 224.16h.75v.75h-.75zM202.5 225.24h.75v.75h-.75z"/>
<path fill="#7292d4" d="M213.96 206.57h.75v.75h-.75zM217.82 206.96h.75v.75h-.75zM201.84 207.66h.75v.75h-.75zM214.66 207.76h.75v.75h-.75zM205.69 208.27h.75v.75h-.75zM215.29 208.64h.75v.75h-.75zM217.87 208.46h.75v.75h-.75zM204.77 209.44h.75v.75h-.75zM207.21 209.19h.75v.75h-.75zM208.82 209.4h.75v.75h-.75zM218.37 209.34h.75v.75h-.75zM210.39 210.08h.75v.75h-.75zM214.42 210.2h.75v.75h-.75zM218.57 209.8h.75v.75h-.75zM213.02 210.79h.75v.75h-.75zM214.37 210.88h.75v.75h-.75zM200.96 211.61h.75v.75h-.75zM206.43 211.53h.75v.75h-.75zM207.38 211.49h.75v.75h-.75zM209.87 211.65h.75v.75h-.75zM204.38 212.26h.75v.75h-.75zM207.16 212.64h.75v.75h-.75zM212.81 212.49h.75v.75h-.75zM215.41 212.36h.75v.75h-.75zM218.51 212.54h.75v.75h-.75zM201.09 213.21h.75v.75h-.75zM221.9 213.29h.75v.75h-.75zM200.85 213.82h.75v.75h-.75zM204.41 214.13h.75v.75h-.75zM207.42 213.9h.75v.75h-.75zM216.23 214.2h.75v.75h-.75zM219.53 214.14h.75v.75h-.75zM203.38 214.72h.75v.75h-.75zM206.44 214.55h.75v.75h-.75zM207.35 214.64h.75v.75h-.75zM210.39 214.68h.75v.75h-.75zM200.1 215.37h.75v.75h-.75zM212.13 215.79h.75v.75h-.75zM213.84 215.42h.75v.75h-.75zM215.58 215.62h.75v.75h-.75zM201.65 216.39h.75v.75h-.75zM206.69 216.39h.75v.75h-.75zM208.21 216.5h.75v.75h-.75zM214.38 216.49h.75v.75h-.75zM204.84 217.26h.75v.75h-.75zM201.76 217.92h.75v.75h-.75zM206.4 217.9h.75v.75h-.75zM210.65 217.81h.75v.75h-.75zM214.43 217.87h.75v.75h-.75zM217.59 217.85h.75v.75h-.75zM221.9 218.24h.75v.75h-.75zM204.91 218.68h.75v.75h-.75zM208.3 218.93h.75v.75h-.75zM208.9 218.85h.75v.75h-.75zM211.4 218.97h.75v.75h-.75zM213.14 219.04h.75v.75h-.75zM218.56 218.71h.75v.75h-.75zM199.46 219.53h.75v.75h-.75zM200.86 219.8h.75v.75h-.75zM206.67 219.66h.75v.75h-.75zM210.38 219.38h.75v.75h-.75zM219.63 219.69h.75v.75h-.75zM219.96 219.42h.75v.75h-.75zM199.35 220.49h.75v.75h-.75zM201.83 220.54h.75v.75h-.75zM202.46 220.19h.75v.75h-.75zM208.01 220.18h.75v.75h-.75zM213.05 220.63h.75v.75h-.75zM221.15 220.21h.75v.75h-.75zM208.04 221.37h.75v.75h-.75zM207.62 221.91h.75v.75h-.75zM215.44 221.98h.75v.75h-.75zM217.91 222.15h.75v.75h-.75zM220.75 222.08h.75v.75h-.75zM204.38 223.56h.75v.75h-.75zM212.17 223.39h.75v.75h-.75zM213.02 223.51h.75v.75h-.75zM202.8 224.4h.75v.75h-.75zM210.63 224.42h.75v.75h-.75zM214.67 224.33h.75v.75h-.75zM218.36 224.51h.75v.75h-.75z"/>
<path fill="#8c84d0" d="M204.01 207.67h.75v.75h-.75zM205.13 207.49h.75v.75h-.75zM216.04 207.54h.75v.75h-.75zM217.13 207.62h.75v.75h-.75zM218.61 208.54h.75v.75h-.75zM212.87 208.96h.75v.75h-.75zM212.03 210.04h.75v.75h-.75zM213.21 210.17h.75v.75h-.75zM215.16 210.05h.75v.75h-.75zM216.33 210.11h.75v.75h-.75zM219.56 210.14h.75v.75h-.75zM204.03 210.92h.75v.75h-.75zM207.56 210.56h.75v.75h-.75zM215.43 210.69h.75v.75h-.75zM211.48 211.44h.75v.75h-.75zM216.92 211.61h.75v.75h-.75zM197.86 212.2h.75v.75h-.75zM199.23 212.51h.75v.75h-.75zM202.69 212.45h.75v.75h-.75zM211.41 212.65h.75v.75h-.75zM199.16 212.98h.75v.75h-.75zM205.1 213.13h.75v.75h-.75zM216.25 213.15h.75v.75h-.75zM217.21 213.13h.75v.75h-.75zM203.6 214.07h.75v.75h-.75zM204.79 214.13h.75v.75h-.75zM209.65 214.09h.75v.75h-.75zM215.65 213.85h.75v.75h-.75zM217.6 214.2h.75v.75h-.75zM204.78 215.02h.75v.75h-.75zM212.79 214.83h.75v.75h-.75zM217.83 214.97h.75v.75h-.75zM221.83 214.67h.75v.75h-.75zM199.15 215.59h.75v.75h-.75zM201.83 215.85h.75v.75h-.75zM216.14 215.58h.75v.75h-.75zM203.53 216.54h.75v.75h-.75zM205.78 216.55h.75v.75h-.75zM207.37 216.51h.75v.75h-.75zM215.21 216.58h.75v.75h-.75zM216.18 216.23h.75v.75h-.75zM202.6 217.19h.75v.75h-.75zM216.23 217.27h.75v.75h-.75zM217.97 217.29h.75v.75h-.75zM221.08 217.17h.75v.75h-.75zM197.67 217.9h.75v.75h-.75zM203.18 217.9h.75v.75h-.75zM213.74 218.07h.75v.75h-.75zM219.63 217.93h.75v.75h-.75zM197.99 218.98h.75v.75h-.75zM203.55 218.8h.75v.75h-.75zM216.2 218.83h.75v.75h-.75zM216.82 218.97h.75v.75h-.75zM218.55 219.58h.75v.75h-.75zM203.5 220.65h.75v.75h-.75zM198.82 221.39h.75v.75h-.75zM201.82 221.23h.75v.75h-.75zM203.38 221.32h.75v.75h-.75zM213.83 221.16h.75v.75h-.75zM214.79 221h.75v.75h-.75zM217.8 221.18h.75v.75h-.75zM201.21 222.18h.75v.75h-.75zM202.42 221.76h.75v.75h-.75zM209.8 222.14h.75v.75h-.75zM202.66 222.79h.75v.75h-.75zM215.24 222.65h.75v.75h-.75zM221 223.02h.75v.75h-.75zM200.21 223.45h.75v.75h-.75zM203.27 223.6h.75v.75h-.75zM220.04 223.8h.75v.75h-.75zM213.92 224.5h.75v.75h-.75zM217.56 224.32h.75v.75h-.75zM207.27 225.13h.75v.75h-.75z"/>
<path fill="#6670c4" d="M209.57 207.79h.75v.75h-.75zM207.2 208.47h.75v.75h-.75zM200.05 209.19h.75v.75h-.75zM205.86 209.36h.75v.75h-.75zM210.01 209.34h.75v.75h-.75zM212.43 209.28h.75v.75h-.75zM214.02 209.14h.75v.75h-.75zM214.49 209.39h.75v.75h-.75zM221.06 209.05h.75v.75h-.75zM200.26 210.2h.75v.75h-.75zM202.02 209.94h.75v.75h-.75zM202.61 210.1h.75v.75h-.75zM217.92 210.15h.75v.75h-.75zM197.89 210.96h.75v.75h-.75zM201.18 210.84h.75v.75h-.75zM203.48 210.87h.75v.75h-.75zM209.02 210.7h.75v.75h-.75zM211.44 210.6h.75v.75h-.75zM212.44 210.94h.75v.75h-.75zM213.91 210.56h.75v.75h-.75zM220.34 210.85h.75v.75h-.75zM197.59 211.5h.75v.75h-.75zM203.62 211.7h.75v.75h-.75zM210.41 211.84h.75v.75h-.75zM213.17 211.56h.75v.75h-.75zM215.46 211.83h.75v.75h-.75zM216.05 211.54h.75v.75h-.75zM219.23 211.79h.75v.75h-.75zM203.58 212.27h.75v.75h-.75zM205.61 212.27h.75v.75h-.75zM208.02 212.36h.75v.75h-.75zM214.03 212.22h.75v.75h-.75zM201.62 212.98h.75v.75h-.75zM203.26 213.18h.75v.75h-.75zM207.28 213.21h.75v.75h-.75zM196.95 213.87h.75v.75h-.75zM211.48 214.06h.75v.75h-.75zM220.21 214h.75v.75h-.75zM197.8 214.56h.75v.75h-.75zM209.92 214.68h.75v.75h-.75zM211.97 214.73h.75v.75h-.75zM216.34 214.7h.75v.75h-.75zM218.46 214.92h.75v.75h-.75zM219.28 215h.75v.75h-.75zM202.36 215.61h.75v.75h-.75zM206.54 215.48h.75v.75h-.75zM208.34 215.49h.75v.75h-.75zM209.16 215.45h.75v.75h-.75zM221.84 215.68h.75v.75h-.75zM217.71 216.36h.75v.75h-.75zM200.79 217.06h.75v.75h-.75zM208 217.09h.75v.75h-.75zM209.14 217.36h.75v.75h-.75zM217.1 217.12h.75v.75h-.75zM219.48 217.31h.75v.75h-.75zM207.38 218.09h.75v.75h-.75zM216.16 218.1h.75v.75h-.75zM218.84 218.1h.75v.75h-.75zM210.52 218.55h.75v.75h-.75zM215.51 218.87h.75v.75h-.75zM220.19 218.85h.75v.75h-.75zM197.7 219.74h.75v.75h-.75zM208.37 219.72h.75v.75h-.75zM213.16 219.8h.75v.75h-.75zM216.04 219.79h.75v.75h-.75zM200.27 220.3h.75v.75h-.75zM215.22 220.44h.75v.75h-.75zM216.26 220.44h.75v.75h-.75zM216.85 220.54h.75v.75h-.75zM217.82 220.17h.75v.75h-.75zM202.69 221.43h.75v.75h-.75zM211.98 221.36h.75v.75h-.75zM218.43 221.22h.75v.75h-.75zM206.49 221.86h.75v.75h-.75zM211.15 222.22h.75v.75h-.75zM214.48 221.86h.75v.75h-.75zM216.97 222.17h.75v.75h-.75zM198.39 222.89h.75v.75h-.75zM203.44 222.76h.75v.75h-.75zM204.06 222.83h.75v.75h-.75zM208.99 222.76h.75v.75h-.75zM214.02 222.97h.75v.75h-.75zM207.51 223.67h.75v.75h-.75zM207.96 223.82h.75v.75h-.75zM217.61 223.62h.75v.75h-.75zM212.95 224.4h.75v.75h-.75zM215.5 224.18h.75v.75h-.75zM204.81 225.12h.75v.75h-.75zM206.03 224.98h.75v.75h-.75zM213.57 225.08h.75v.75h-.75zM218.49 225.17h.75v.75h-.75zM216.27 225.88h.75v.75h-.75z"/>
</g>
<g filter="url(#bl)">
<ellipse cx="209.99" cy="216.42" rx="12.64" ry="5.82" fill="#b9e1da"/>
<ellipse cx="209.99" cy="216.42" rx="12.11" ry="4.8" fill="#d7eeba"/>
<ellipse cx="203.53" cy="216.42" rx="5.38" ry="4.36" fill="#faf3ad"/>
<ellipse cx="216.44" cy="216.42" rx="5.38" ry="4.36" fill="#faf3ad"/>
<ellipse cx="209.99" cy="216.42" rx="5.38" ry="2.04" fill="#faf3ad"/>
<ellipse cx="203.13" cy="216.42" rx="4.04" ry="3.35" fill="#f3a674"/>
<ellipse cx="216.61" cy="216.42" rx="4.04" ry="3.35" fill="#f3a674"/>
<ellipse cx="203.13" cy="216.42" rx="3.09" ry="2.47" fill="#dc6276"/>
<ellipse cx="216.61" cy="216.42" rx="3.09" ry="2.47" fill="#dc6276"/>
<ellipse cx="202.99" cy="216.42" rx="1.75" ry="1.45" fill="#a5528f"/>
<ellipse cx="216.71" cy="216.42" rx="1.75" ry="1.45" fill="#a5528f"/>
</g>
<g filter="url(#bl2)" opacity="0.8">
<path fill="#7a9ad6" d="M211.21 210.87h.7v.7h-.7zM214.56 211.47h.7v.7h-.7zM213.56 212.31h.7v.7h-.7zM208.92 213.01h.7v.7h-.7zM208.39 219.59h.7v.7h-.7zM208.81 219.52h.7v.7h-.7zM210.38 219.77h.7v.7h-.7zM206.61 221.08h.7v.7h-.7zM207.42 221.07h.7v.7h-.7z"/>
<path fill="#6fa8d0" d="M203.61 211.81h.7v.7h-.7zM205.95 211.48h.7v.7h-.7zM209.63 211.49h.7v.7h-.7zM201.59 212.23h.7v.7h-.7zM209.77 214.13h.7v.7h-.7zM221.64 214.7h.7v.7h-.7zM212.78 221.03h.7v.7h-.7zM215.33 221.08h.7v.7h-.7z"/>
<path fill="#8a90d4" d="M205.22 211.76h.7v.7h-.7zM199.65 213.21h.7v.7h-.7zM211.36 213.93h.7v.7h-.7zM221.11 214.21h.7v.7h-.7zM221.99 217.92h.7v.7h-.7zM198.64 218.68h.7v.7h-.7zM220.41 219.43h.7v.7h-.7zM209.96 220.22h.7v.7h-.7zM211.55 222.03h.7v.7h-.7z"/>
<path fill="#9aa8dc" d="M212.21 211.81h.7v.7h-.7zM211.36 212.59h.7v.7h-.7zM207.59 213.44h.7v.7h-.7zM198.72 213.92h.7v.7h-.7zM207.98 218.96h.7v.7h-.7zM211.49 218.81h.7v.7h-.7zM208.08 220.31h.7v.7h-.7zM205.75 221.14h.7v.7h-.7z"/>
</g>
</g>
<rect x="196" y="201" width="26.9" height="29.1" fill="none" stroke="#bababa" stroke-width="0.85"/>
<g clip-path="url(#jc19)">
<path fill="#4a5cc0" d="M402.03 207.15h.95v.95h-.95zM400.03 208.15h.95v.95h-.95zM409.45 208.01h.95v.95h-.95zM400.94 210.08h.95v.95h-.95zM408.53 210.68h.95v.95h-.95zM415.37 219.13h.95v.95h-.95zM410 220.57h.95v.95h-.95zM397.58 221.24h.95v.95h-.95zM403.94 222.99h.95v.95h-.95zM406.12 223.42h.95v.95h-.95z"/>
<path fill="#6a5cc0" d="M403.94 206.94h.95v.95h-.95zM398.18 208.05h.95v.95h-.95zM398.49 208.7h.95v.95h-.95zM411.39 209.18h.95v.95h-.95zM412.33 209.1h.95v.95h-.95zM395.8 210.67h.95v.95h-.95zM405.91 210.6h.95v.95h-.95zM406.68 210.66h.95v.95h-.95z"/>
<path fill="#5a6ad0" d="M409.58 207.13h.95v.95h-.95zM403.08 208.17h.95v.95h-.95zM407.77 208.19h.95v.95h-.95zM399.18 223.27h.95v.95h-.95zM410.85 222.97h.95v.95h-.95zM405.96 224.33h.95v.95h-.95z"/>
<path fill="#4a8ad0" d="M403.95 208.98h.95v.95h-.95zM413.31 210.01h.95v.95h-.95zM400.14 210.62h.95v.95h-.95zM411.84 211.79h.95v.95h-.95zM415.37 212.55h.95v.95h-.95zM412.41 219.52h.95v.95h-.95zM394.75 220.02h.95v.95h-.95zM411.69 221h.95v.95h-.95zM399.11 222.1h.95v.95h-.95zM402.97 221.92h.95v.95h-.95z"/>
<path fill="#58b4c4" d="M401.12 211.02h.95v.95h-.95zM402.84 211.77h.95v.95h-.95zM404.13 211.57h.95v.95h-.95zM404.98 211.72h.95v.95h-.95zM407.17 211.74h.95v.95h-.95zM408.99 211.84h.95v.95h-.95zM409.96 211.79h.95v.95h-.95zM410.46 211.9h.95v.95h-.95zM399.43 212.86h.95v.95h-.95zM401.05 212.59h.95v.95h-.95zM402.32 212.88h.95v.95h-.95zM405.08 212.85h.95v.95h-.95zM405.76 212.4h.95v.95h-.95zM400.27 213.95h.95v.95h-.95zM401.42 213.44h.95v.95h-.95zM401.9 213.57h.95v.95h-.95zM404.23 213.69h.95v.95h-.95zM414.67 213.41h.95v.95h-.95zM403.14 214.87h.95v.95h-.95zM405.07 214.67h.95v.95h-.95zM405.84 214.8h.95v.95h-.95zM402.41 215.76h.95v.95h-.95zM406.01 215.72h.95v.95h-.95zM401.93 216.59h.95v.95h-.95zM404.79 216.26h.95v.95h-.95zM405.84 216.49h.95v.95h-.95zM414.64 216.73h.95v.95h-.95zM415.25 216.49h.95v.95h-.95zM401.12 217.5h.95v.95h-.95zM405.83 217.27h.95v.95h-.95zM400.08 218.3h.95v.95h-.95zM401.38 218.1h.95v.95h-.95zM403.06 218.31h.95v.95h-.95zM404.17 218.33h.95v.95h-.95zM405.03 218.11h.95v.95h-.95zM406.11 218.17h.95v.95h-.95zM406.77 218.52h.95v.95h-.95zM407.93 218.37h.95v.95h-.95zM412.81 218.54h.95v.95h-.95zM397.32 219.11h.95v.95h-.95zM398.45 219.51h.95v.95h-.95zM399.96 219.43h.95v.95h-.95zM401.37 219.19h.95v.95h-.95zM403.39 219.29h.95v.95h-.95zM407.93 219.22h.95v.95h-.95z"/>
<path fill="#f2e266" d="M395.57 212.53h.95v.95h-.95zM396.27 212.47h.95v.95h-.95zM397.39 213h.95v.95h-.95zM411.38 212.76h.95v.95h-.95zM412.61 212.71h.95v.95h-.95zM393.51 213.81h.95v.95h-.95zM399.38 213.39h.95v.95h-.95zM406.83 213.89h.95v.95h-.95zM407.96 213.61h.95v.95h-.95zM413.38 213.78h.95v.95h-.95zM393.42 214.51h.95v.95h-.95zM400.08 214.65h.95v.95h-.95zM413.77 215.61h.95v.95h-.95zM414.46 215.54h.95v.95h-.95zM393.59 216.23h.95v.95h-.95zM399.45 216.3h.95v.95h-.95zM406.84 216.27h.95v.95h-.95zM413.74 216.79h.95v.95h-.95zM393.38 217.18h.95v.95h-.95zM399.14 217.25h.95v.95h-.95zM407.64 217.73h.95v.95h-.95zM412.41 217.69h.95v.95h-.95zM413.3 217.72h.95v.95h-.95zM395.26 218.61h.95v.95h-.95zM396.49 218.54h.95v.95h-.95zM397.17 218.11h.95v.95h-.95zM398.42 218.42h.95v.95h-.95zM399.16 218.18h.95v.95h-.95zM408.88 218.39h.95v.95h-.95zM409.69 218.47h.95v.95h-.95zM410.45 218.29h.95v.95h-.95z"/>
<path fill="#f59548" d="M410.61 212.99h.95v.95h-.95zM395.29 213.6h.95v.95h-.95zM396.53 213.58h.95v.95h-.95zM397.12 213.44h.95v.95h-.95zM408.92 213.37h.95v.95h-.95zM409.55 213.51h.95v.95h-.95zM398.27 214.54h.95v.95h-.95zM408.1 214.84h.95v.95h-.95zM408.67 214.6h.95v.95h-.95zM412.61 214.3h.95v.95h-.95zM393.82 215.79h.95v.95h-.95zM398.5 215.4h.95v.95h-.95zM399.03 215.71h.95v.95h-.95zM407.98 215.28h.95v.95h-.95zM412.58 215.43h.95v.95h-.95zM394.4 216.61h.95v.95h-.95zM408.07 216.2h.95v.95h-.95zM408.81 216.45h.95v.95h-.95zM412.43 216.57h.95v.95h-.95zM395.65 217.66h.95v.95h-.95zM397.61 217.33h.95v.95h-.95zM398.33 217.56h.95v.95h-.95zM408.72 217.6h.95v.95h-.95zM409.88 217.61h.95v.95h-.95zM411.76 217.21h.95v.95h-.95z"/>
<path fill="#d62e3a" d="M410.93 213.76h.95v.95h-.95zM411.55 213.83h.95v.95h-.95zM394.6 214.87h.95v.95h-.95zM395.23 214.75h.95v.95h-.95zM396.61 214.39h.95v.95h-.95zM397.19 214.55h.95v.95h-.95zM409.57 214.52h.95v.95h-.95zM410.5 214.46h.95v.95h-.95zM411.67 214.79h.95v.95h-.95zM394.41 215.81h.95v.95h-.95zM395.41 215.57h.95v.95h-.95zM396.36 215.72h.95v.95h-.95zM397.52 215.74h.95v.95h-.95zM408.97 215.36h.95v.95h-.95zM409.87 215.28h.95v.95h-.95zM410.65 215.35h.95v.95h-.95zM411.41 215.7h.95v.95h-.95zM395.26 216.52h.95v.95h-.95zM396.24 216.71h.95v.95h-.95zM397.45 216.38h.95v.95h-.95zM409.76 216.8h.95v.95h-.95zM410.72 216.21h.95v.95h-.95zM411.37 216.34h.95v.95h-.95zM396.17 217.23h.95v.95h-.95zM410.43 217.25h.95v.95h-.95z"/>
</g>
<rect x="391.4" y="201" width="25.7" height="29.1" fill="none" stroke="#bababa" stroke-width="0.85"/>
<text x="53.7" y="133.2" font-family="'Liberation Serif', serif" font-style="italic" font-size="4.6" fill="#222" stroke="#222" stroke-width="0.1" text-anchor="middle" textLength="19.0" lengthAdjust="spacingAndGlyphs">p(<tspan>Z</tspan><tspan font-size="3.2" dy="0.7">0</tspan><tspan dy="-0.7">, Z</tspan><tspan font-size="3.2" dy="0.7">1</tspan>)</text>
<text x="54" y="173.3" font-family="'Liberation Serif', serif" font-style="italic" font-size="4.8" fill="#222" stroke="#222" stroke-width="0.18" text-anchor="middle">Z<tspan font-size="3.4" dy="0.7">0</tspan></text>
<text transform="translate(33.2,149.05) rotate(-90)" x="0" y="0" font-family="'Liberation Serif', serif" font-style="italic" font-size="4.8" fill="#222" stroke="#222" stroke-width="0.18" text-anchor="middle">Z<tspan font-size="3.4" dy="0.7">1</tspan></text>
<text x="42.57" y="168" font-family="'Liberation Sans', sans-serif" font-size="4.3" fill="#222" text-anchor="middle" stroke="#222" stroke-width="0.26">-2</text>
<text x="49.5" y="168" font-family="'Liberation Sans', sans-serif" font-size="4.3" fill="#222" text-anchor="middle" stroke="#222" stroke-width="0.26">0</text>
<text x="56.32" y="168" font-family="'Liberation Sans', sans-serif" font-size="4.3" fill="#222" text-anchor="middle" stroke="#222" stroke-width="0.26">2</text>
<text x="63.25" y="168" font-family="'Liberation Sans', sans-serif" font-size="4.3" fill="#222" text-anchor="middle" stroke="#222" stroke-width="0.26">4</text>
<text x="39" y="137.15" font-family="'Liberation Sans', sans-serif" font-size="4.3" fill="#222" text-anchor="end" stroke="#222" stroke-width="0.26">5</text>
<text x="39" y="151.36" font-family="'Liberation Sans', sans-serif" font-size="4.3" fill="#222" text-anchor="end" stroke="#222" stroke-width="0.26">0</text>
<text x="39" y="164.88" font-family="'Liberation Sans', sans-serif" font-size="4.3" fill="#222" text-anchor="end" stroke="#222" stroke-width="0.26">-5</text>
<text x="92.75" y="133.2" font-family="'Liberation Serif', serif" font-style="italic" font-size="4.6" fill="#222" stroke="#222" stroke-width="0.1" text-anchor="middle" textLength="19.0" lengthAdjust="spacingAndGlyphs">p(<tspan>Z</tspan><tspan font-size="3.2" dy="0.7">0</tspan><tspan dy="-0.7">, Z</tspan><tspan font-size="3.2" dy="0.7">2</tspan>)</text>
<text x="93.05" y="173.3" font-family="'Liberation Serif', serif" font-style="italic" font-size="4.8" fill="#222" stroke="#222" stroke-width="0.18" text-anchor="middle">Z<tspan font-size="3.4" dy="0.7">0</tspan></text>
<text transform="translate(71.8,149.05) rotate(-90)" x="0" y="0" font-family="'Liberation Serif', serif" font-style="italic" font-size="4.8" fill="#222" stroke="#222" stroke-width="0.18" text-anchor="middle">Z<tspan font-size="3.4" dy="0.7">2</tspan></text>
<text x="81.26" y="168" font-family="'Liberation Sans', sans-serif" font-size="4.3" fill="#222" text-anchor="middle" stroke="#222" stroke-width="0.26">-2</text>
<text x="88.41" y="168" font-family="'Liberation Sans', sans-serif" font-size="4.3" fill="#222" text-anchor="middle" stroke="#222" stroke-width="0.26">0</text>
<text x="95.46" y="168" font-family="'Liberation Sans', sans-serif" font-size="4.3" fill="#222" text-anchor="middle" stroke="#222" stroke-width="0.26">2</text>
<text x="102.61" y="168" font-family="'Liberation Sans', sans-serif" font-size="4.3" fill="#222" text-anchor="middle" stroke="#222" stroke-width="0.26">4</text>
<text x="77.6" y="137.15" font-family="'Liberation Sans', sans-serif" font-size="4.3" fill="#222" text-anchor="end" stroke="#222" stroke-width="0.26">5</text>
<text x="77.6" y="151.36" font-family="'Liberation Sans', sans-serif" font-size="4.3" fill="#222" text-anchor="end" stroke="#222" stroke-width="0.26">0</text>
<text x="77.6" y="164.88" font-family="'Liberation Sans', sans-serif" font-size="4.3" fill="#222" text-anchor="end" stroke="#222" stroke-width="0.26">-5</text>
<text x="131.3" y="133.2" font-family="'Liberation Serif', serif" font-style="italic" font-size="4.6" fill="#222" stroke="#222" stroke-width="0.1" text-anchor="middle" textLength="19.0" lengthAdjust="spacingAndGlyphs">p(<tspan>Z</tspan><tspan font-size="3.2" dy="0.7">1</tspan><tspan dy="-0.7">, Z</tspan><tspan font-size="3.2" dy="0.7">2</tspan>)</text>
<text x="131.6" y="173.3" font-family="'Liberation Serif', serif" font-style="italic" font-size="4.8" fill="#222" stroke="#222" stroke-width="0.18" text-anchor="middle">Z<tspan font-size="3.4" dy="0.7">1</tspan></text>
<text transform="translate(110.5,149.05) rotate(-90)" x="0" y="0" font-family="'Liberation Serif', serif" font-style="italic" font-size="4.8" fill="#222" stroke="#222" stroke-width="0.18" text-anchor="middle">Z<tspan font-size="3.4" dy="0.7">2</tspan></text>
<text x="117.86" y="168" font-family="'Liberation Sans', sans-serif" font-size="4.3" fill="#222" text-anchor="middle" stroke="#222" stroke-width="0.26">-5</text>
<text x="131.3" y="168" font-family="'Liberation Sans', sans-serif" font-size="4.3" fill="#222" text-anchor="middle" stroke="#222" stroke-width="0.26">0</text>
<text x="144.74" y="168" font-family="'Liberation Sans', sans-serif" font-size="4.3" fill="#222" text-anchor="middle" stroke="#222" stroke-width="0.26">5</text>
<text x="116.3" y="137.15" font-family="'Liberation Sans', sans-serif" font-size="4.3" fill="#222" text-anchor="end" stroke="#222" stroke-width="0.26">5</text>
<text x="116.3" y="151.36" font-family="'Liberation Sans', sans-serif" font-size="4.3" fill="#222" text-anchor="end" stroke="#222" stroke-width="0.26">0</text>
<text x="116.3" y="164.88" font-family="'Liberation Sans', sans-serif" font-size="4.3" fill="#222" text-anchor="end" stroke="#222" stroke-width="0.26">-5</text>
<text x="170.3" y="133.2" font-family="'Liberation Serif', serif" font-style="italic" font-size="4.6" fill="#222" stroke="#222" stroke-width="0.1" text-anchor="middle" textLength="19.0" lengthAdjust="spacingAndGlyphs">p(<tspan>Z</tspan><tspan font-size="3.2" dy="0.7">2</tspan><tspan dy="-0.7">, Z</tspan><tspan font-size="3.2" dy="0.7">3</tspan>)</text>
<text x="170.6" y="173.3" font-family="'Liberation Serif', serif" font-style="italic" font-size="4.8" fill="#222" stroke="#222" stroke-width="0.18" text-anchor="middle">Z<tspan font-size="3.4" dy="0.7">2</tspan></text>
<text transform="translate(149.2,149.05) rotate(-90)" x="0" y="0" font-family="'Liberation Serif', serif" font-style="italic" font-size="4.8" fill="#222" stroke="#222" stroke-width="0.18" text-anchor="middle">Z<tspan font-size="3.4" dy="0.7">3</tspan></text>
<text x="156.57" y="168" font-family="'Liberation Sans', sans-serif" font-size="4.3" fill="#222" text-anchor="middle" stroke="#222" stroke-width="0.26">-5</text>
<text x="170.3" y="168" font-family="'Liberation Sans', sans-serif" font-size="4.3" fill="#222" text-anchor="middle" stroke="#222" stroke-width="0.26">0</text>
<text x="184.03" y="168" font-family="'Liberation Sans', sans-serif" font-size="4.3" fill="#222" text-anchor="middle" stroke="#222" stroke-width="0.26">5</text>
<text x="155" y="137.15" font-family="'Liberation Sans', sans-serif" font-size="4.3" fill="#222" text-anchor="end" stroke="#222" stroke-width="0.26">4</text>
<text x="155" y="144.09" font-family="'Liberation Sans', sans-serif" font-size="4.3" fill="#222" text-anchor="end" stroke="#222" stroke-width="0.26">2</text>
<text x="155" y="151.36" font-family="'Liberation Sans', sans-serif" font-size="4.3" fill="#222" text-anchor="end" stroke="#222" stroke-width="0.26">0</text>
<text x="155" y="158.14" font-family="'Liberation Sans', sans-serif" font-size="4.3" fill="#222" text-anchor="end" stroke="#222" stroke-width="0.26">-2</text>
<text x="155" y="164.88" font-family="'Liberation Sans', sans-serif" font-size="4.3" fill="#222" text-anchor="end" stroke="#222" stroke-width="0.26">-4</text>
<text x="209.5" y="133.2" font-family="'Liberation Serif', serif" font-style="italic" font-size="4.6" fill="#222" stroke="#222" stroke-width="0.1" text-anchor="middle" textLength="19.0" lengthAdjust="spacingAndGlyphs">p(<tspan>Z</tspan><tspan font-size="3.2" dy="0.7">2</tspan><tspan dy="-0.7">, Z</tspan><tspan font-size="3.2" dy="0.7">4</tspan>)</text>
<text x="209.8" y="173.3" font-family="'Liberation Serif', serif" font-style="italic" font-size="4.8" fill="#222" stroke="#222" stroke-width="0.18" text-anchor="middle">Z<tspan font-size="3.4" dy="0.7">2</tspan></text>
<text transform="translate(188.5,149.05) rotate(-90)" x="0" y="0" font-family="'Liberation Serif', serif" font-style="italic" font-size="4.8" fill="#222" stroke="#222" stroke-width="0.18" text-anchor="middle">Z<tspan font-size="3.4" dy="0.7">4</tspan></text>
<text x="195.87" y="168" font-family="'Liberation Sans', sans-serif" font-size="4.3" fill="#222" text-anchor="middle" stroke="#222" stroke-width="0.26">-5</text>
<text x="209.5" y="168" font-family="'Liberation Sans', sans-serif" font-size="4.3" fill="#222" text-anchor="middle" stroke="#222" stroke-width="0.26">0</text>
<text x="223.13" y="168" font-family="'Liberation Sans', sans-serif" font-size="4.3" fill="#222" text-anchor="middle" stroke="#222" stroke-width="0.26">5</text>
<text x="194.3" y="137.15" font-family="'Liberation Sans', sans-serif" font-size="4.3" fill="#222" text-anchor="end" stroke="#222" stroke-width="0.26">5</text>
<text x="194.3" y="151.36" font-family="'Liberation Sans', sans-serif" font-size="4.3" fill="#222" text-anchor="end" stroke="#222" stroke-width="0.26">0</text>
<text x="194.3" y="164.88" font-family="'Liberation Sans', sans-serif" font-size="4.3" fill="#222" text-anchor="end" stroke="#222" stroke-width="0.26">-5</text>
<text x="247.95" y="133.2" font-family="'Liberation Serif', serif" font-style="italic" font-size="4.6" fill="#222" stroke="#222" stroke-width="0.1" text-anchor="middle" textLength="19.0" lengthAdjust="spacingAndGlyphs">p(<tspan>Z</tspan><tspan font-size="3.2" dy="0.7">0</tspan><tspan dy="-0.7">, Z</tspan><tspan font-size="3.2" dy="0.7">1</tspan>)</text>
<text x="248.25" y="173.3" font-family="'Liberation Serif', serif" font-style="italic" font-size="4.8" fill="#222" stroke="#222" stroke-width="0.18" text-anchor="middle">Z<tspan font-size="3.4" dy="0.7">0</tspan></text>
<text transform="translate(227.2,149.05) rotate(-90)" x="0" y="0" font-family="'Liberation Serif', serif" font-style="italic" font-size="4.8" fill="#222" stroke="#222" stroke-width="0.18" text-anchor="middle">Z<tspan font-size="3.4" dy="0.7">1</tspan></text>
<text x="236.62" y="168" font-family="'Liberation Sans', sans-serif" font-size="4.3" fill="#222" text-anchor="middle" stroke="#222" stroke-width="0.26">-2</text>
<text x="243.67" y="168" font-family="'Liberation Sans', sans-serif" font-size="4.3" fill="#222" text-anchor="middle" stroke="#222" stroke-width="0.26">0</text>
<text x="250.62" y="168" font-family="'Liberation Sans', sans-serif" font-size="4.3" fill="#222" text-anchor="middle" stroke="#222" stroke-width="0.26">2</text>
<text x="257.67" y="168" font-family="'Liberation Sans', sans-serif" font-size="4.3" fill="#222" text-anchor="middle" stroke="#222" stroke-width="0.26">4</text>
<text x="233" y="137.15" font-family="'Liberation Sans', sans-serif" font-size="4.3" fill="#222" text-anchor="end" stroke="#222" stroke-width="0.26">5</text>
<text x="233" y="151.36" font-family="'Liberation Sans', sans-serif" font-size="4.3" fill="#222" text-anchor="end" stroke="#222" stroke-width="0.26">0</text>
<text x="233" y="164.88" font-family="'Liberation Sans', sans-serif" font-size="4.3" fill="#222" text-anchor="end" stroke="#222" stroke-width="0.26">-5</text>
<text x="286.95" y="133.2" font-family="'Liberation Serif', serif" font-style="italic" font-size="4.6" fill="#222" stroke="#222" stroke-width="0.1" text-anchor="middle" textLength="19.0" lengthAdjust="spacingAndGlyphs">p(<tspan>Z</tspan><tspan font-size="3.2" dy="0.7">0</tspan><tspan dy="-0.7">, Z</tspan><tspan font-size="3.2" dy="0.7">2</tspan>)</text>
<text x="287.25" y="173.3" font-family="'Liberation Serif', serif" font-style="italic" font-size="4.8" fill="#222" stroke="#222" stroke-width="0.18" text-anchor="middle">Z<tspan font-size="3.4" dy="0.7">0</tspan></text>
<text transform="translate(266.2,149.05) rotate(-90)" x="0" y="0" font-family="'Liberation Serif', serif" font-style="italic" font-size="4.8" fill="#222" stroke="#222" stroke-width="0.18" text-anchor="middle">Z<tspan font-size="3.4" dy="0.7">2</tspan></text>
<text x="275.62" y="168" font-family="'Liberation Sans', sans-serif" font-size="4.3" fill="#222" text-anchor="middle" stroke="#222" stroke-width="0.26">-2</text>
<text x="282.67" y="168" font-family="'Liberation Sans', sans-serif" font-size="4.3" fill="#222" text-anchor="middle" stroke="#222" stroke-width="0.26">0</text>
<text x="289.62" y="168" font-family="'Liberation Sans', sans-serif" font-size="4.3" fill="#222" text-anchor="middle" stroke="#222" stroke-width="0.26">2</text>
<text x="296.67" y="168" font-family="'Liberation Sans', sans-serif" font-size="4.3" fill="#222" text-anchor="middle" stroke="#222" stroke-width="0.26">4</text>
<text x="272" y="137.15" font-family="'Liberation Sans', sans-serif" font-size="4.3" fill="#222" text-anchor="end" stroke="#222" stroke-width="0.26">5</text>
<text x="272" y="151.36" font-family="'Liberation Sans', sans-serif" font-size="4.3" fill="#222" text-anchor="end" stroke="#222" stroke-width="0.26">0</text>
<text x="272" y="164.88" font-family="'Liberation Sans', sans-serif" font-size="4.3" fill="#222" text-anchor="end" stroke="#222" stroke-width="0.26">-5</text>
<text x="325.65" y="133.2" font-family="'Liberation Serif', serif" font-style="italic" font-size="4.6" fill="#222" stroke="#222" stroke-width="0.1" text-anchor="middle" textLength="19.0" lengthAdjust="spacingAndGlyphs">p(<tspan>Z</tspan><tspan font-size="3.2" dy="0.7">1</tspan><tspan dy="-0.7">, Z</tspan><tspan font-size="3.2" dy="0.7">2</tspan>)</text>
<text x="325.95" y="173.3" font-family="'Liberation Serif', serif" font-style="italic" font-size="4.8" fill="#222" stroke="#222" stroke-width="0.18" text-anchor="middle">Z<tspan font-size="3.4" dy="0.7">1</tspan></text>
<text transform="translate(304.5,149.05) rotate(-90)" x="0" y="0" font-family="'Liberation Serif', serif" font-style="italic" font-size="4.8" fill="#222" stroke="#222" stroke-width="0.18" text-anchor="middle">Z<tspan font-size="3.4" dy="0.7">2</tspan></text>
<text x="311.87" y="168" font-family="'Liberation Sans', sans-serif" font-size="4.3" fill="#222" text-anchor="middle" stroke="#222" stroke-width="0.26">-5</text>
<text x="325.65" y="168" font-family="'Liberation Sans', sans-serif" font-size="4.3" fill="#222" text-anchor="middle" stroke="#222" stroke-width="0.26">0</text>
<text x="339.43" y="168" font-family="'Liberation Sans', sans-serif" font-size="4.3" fill="#222" text-anchor="middle" stroke="#222" stroke-width="0.26">5</text>
<text x="310.3" y="137.15" font-family="'Liberation Sans', sans-serif" font-size="4.3" fill="#222" text-anchor="end" stroke="#222" stroke-width="0.26">5</text>
<text x="310.3" y="151.36" font-family="'Liberation Sans', sans-serif" font-size="4.3" fill="#222" text-anchor="end" stroke="#222" stroke-width="0.26">0</text>
<text x="310.3" y="164.88" font-family="'Liberation Sans', sans-serif" font-size="4.3" fill="#222" text-anchor="end" stroke="#222" stroke-width="0.26">-5</text>
<text x="365.2" y="133.2" font-family="'Liberation Serif', serif" font-style="italic" font-size="4.6" fill="#222" stroke="#222" stroke-width="0.1" text-anchor="middle" textLength="19.0" lengthAdjust="spacingAndGlyphs">p(<tspan>Z</tspan><tspan font-size="3.2" dy="0.7">2</tspan><tspan dy="-0.7">, Z</tspan><tspan font-size="3.2" dy="0.7">3</tspan>)</text>
<text x="365.5" y="173.3" font-family="'Liberation Serif', serif" font-style="italic" font-size="4.8" fill="#222" stroke="#222" stroke-width="0.18" text-anchor="middle">Z<tspan font-size="3.4" dy="0.7">2</tspan></text>
<text transform="translate(344.3,149.05) rotate(-90)" x="0" y="0" font-family="'Liberation Serif', serif" font-style="italic" font-size="4.8" fill="#222" stroke="#222" stroke-width="0.18" text-anchor="middle">Z<tspan font-size="3.4" dy="0.7">3</tspan></text>
<text x="351.66" y="168" font-family="'Liberation Sans', sans-serif" font-size="4.3" fill="#222" text-anchor="middle" stroke="#222" stroke-width="0.26">-5</text>
<text x="365.2" y="168" font-family="'Liberation Sans', sans-serif" font-size="4.3" fill="#222" text-anchor="middle" stroke="#222" stroke-width="0.26">0</text>
<text x="378.74" y="168" font-family="'Liberation Sans', sans-serif" font-size="4.3" fill="#222" text-anchor="middle" stroke="#222" stroke-width="0.26">5</text>
<text x="350.1" y="137.15" font-family="'Liberation Sans', sans-serif" font-size="4.3" fill="#222" text-anchor="end" stroke="#222" stroke-width="0.26">4</text>
<text x="350.1" y="144.09" font-family="'Liberation Sans', sans-serif" font-size="4.3" fill="#222" text-anchor="end" stroke="#222" stroke-width="0.26">2</text>
<text x="350.1" y="151.36" font-family="'Liberation Sans', sans-serif" font-size="4.3" fill="#222" text-anchor="end" stroke="#222" stroke-width="0.26">0</text>
<text x="350.1" y="158.14" font-family="'Liberation Sans', sans-serif" font-size="4.3" fill="#222" text-anchor="end" stroke="#222" stroke-width="0.26">-2</text>
<text x="350.1" y="164.88" font-family="'Liberation Sans', sans-serif" font-size="4.3" fill="#222" text-anchor="end" stroke="#222" stroke-width="0.26">-4</text>
<text x="403.8" y="133.2" font-family="'Liberation Serif', serif" font-style="italic" font-size="4.6" fill="#222" stroke="#222" stroke-width="0.1" text-anchor="middle" textLength="19.0" lengthAdjust="spacingAndGlyphs">p(<tspan>Z</tspan><tspan font-size="3.2" dy="0.7">2</tspan><tspan dy="-0.7">, Z</tspan><tspan font-size="3.2" dy="0.7">4</tspan>)</text>
<text x="404.1" y="173.3" font-family="'Liberation Serif', serif" font-style="italic" font-size="4.8" fill="#222" stroke="#222" stroke-width="0.18" text-anchor="middle">Z<tspan font-size="3.4" dy="0.7">2</tspan></text>
<text transform="translate(383.2,149.05) rotate(-90)" x="0" y="0" font-family="'Liberation Serif', serif" font-style="italic" font-size="4.8" fill="#222" stroke="#222" stroke-width="0.18" text-anchor="middle">Z<tspan font-size="3.4" dy="0.7">4</tspan></text>
<text x="390.55" y="168" font-family="'Liberation Sans', sans-serif" font-size="4.3" fill="#222" text-anchor="middle" stroke="#222" stroke-width="0.26">-5</text>
<text x="403.8" y="168" font-family="'Liberation Sans', sans-serif" font-size="4.3" fill="#222" text-anchor="middle" stroke="#222" stroke-width="0.26">0</text>
<text x="417.05" y="168" font-family="'Liberation Sans', sans-serif" font-size="4.3" fill="#222" text-anchor="middle" stroke="#222" stroke-width="0.26">5</text>
<text x="389" y="137.15" font-family="'Liberation Sans', sans-serif" font-size="4.3" fill="#222" text-anchor="end" stroke="#222" stroke-width="0.26">5</text>
<text x="389" y="151.36" font-family="'Liberation Sans', sans-serif" font-size="4.3" fill="#222" text-anchor="end" stroke="#222" stroke-width="0.26">0</text>
<text x="389" y="164.88" font-family="'Liberation Sans', sans-serif" font-size="4.3" fill="#222" text-anchor="end" stroke="#222" stroke-width="0.26">-5</text>
<text x="53.55" y="199.8" font-family="'Liberation Serif', serif" font-style="italic" font-size="4.6" fill="#222" stroke="#222" stroke-width="0.1" text-anchor="middle" textLength="17.8" lengthAdjust="spacingAndGlyphs">p(<tspan>Y</tspan><tspan font-size="3.2" dy="0.7">0</tspan><tspan dy="-0.7">, Y</tspan><tspan font-size="3.2" dy="0.7">1</tspan>)</text>
<text x="53.85" y="240.3" font-family="'Liberation Serif', serif" font-style="italic" font-size="4.8" fill="#222" stroke="#222" stroke-width="0.18" text-anchor="middle">Y<tspan font-size="3.4" dy="0.7">0</tspan></text>
<text transform="translate(33.3,215.55) rotate(-90)" x="0" y="0" font-family="'Liberation Serif', serif" font-style="italic" font-size="4.8" fill="#222" stroke="#222" stroke-width="0.18" text-anchor="middle">Y<tspan font-size="3.4" dy="0.7">1</tspan></text>
<text x="42.24" y="235" font-family="'Liberation Sans', sans-serif" font-size="4.3" fill="#222" text-anchor="middle" stroke="#222" stroke-width="0.26">-0.1</text>
<text x="52.39" y="235" font-family="'Liberation Sans', sans-serif" font-size="4.3" fill="#222" text-anchor="middle" stroke="#222" stroke-width="0.26">0</text>
<text x="61.77" y="235" font-family="'Liberation Sans', sans-serif" font-size="4.3" fill="#222" text-anchor="middle" stroke="#222" stroke-width="0.26">0.1</text>
<text x="39.7" y="203.55" font-family="'Liberation Sans', sans-serif" font-size="4.3" fill="#222" text-anchor="end" stroke="#222" stroke-width="0.26">0.1</text>
<text x="39.7" y="217.54" font-family="'Liberation Sans', sans-serif" font-size="4.3" fill="#222" text-anchor="end" stroke="#222" stroke-width="0.26">0</text>
<text x="39.7" y="231.6" font-family="'Liberation Sans', sans-serif" font-size="4.3" fill="#222" text-anchor="end" stroke="#222" stroke-width="0.26">-0.1</text>
<text x="92" y="199.8" font-family="'Liberation Serif', serif" font-style="italic" font-size="4.6" fill="#222" stroke="#222" stroke-width="0.1" text-anchor="middle" textLength="17.8" lengthAdjust="spacingAndGlyphs">p(<tspan>Y</tspan><tspan font-size="3.2" dy="0.7">0</tspan><tspan dy="-0.7">, Y</tspan><tspan font-size="3.2" dy="0.7">2</tspan>)</text>
<text x="92.3" y="240.3" font-family="'Liberation Serif', serif" font-style="italic" font-size="4.8" fill="#222" stroke="#222" stroke-width="0.18" text-anchor="middle">Y<tspan font-size="3.4" dy="0.7">0</tspan></text>
<text transform="translate(71.5,215.55) rotate(-90)" x="0" y="0" font-family="'Liberation Serif', serif" font-style="italic" font-size="4.8" fill="#222" stroke="#222" stroke-width="0.18" text-anchor="middle">Y<tspan font-size="3.4" dy="0.7">2</tspan></text>
<text x="80.47" y="235" font-family="'Liberation Sans', sans-serif" font-size="4.3" fill="#222" text-anchor="middle" stroke="#222" stroke-width="0.26">-0.1</text>
<text x="89.64" y="235" font-family="'Liberation Sans', sans-serif" font-size="4.3" fill="#222" text-anchor="middle" stroke="#222" stroke-width="0.26">0</text>
<text x="99.6" y="235" font-family="'Liberation Sans', sans-serif" font-size="4.3" fill="#222" text-anchor="middle" stroke="#222" stroke-width="0.26">0.1</text>
<text x="77.9" y="203.55" font-family="'Liberation Sans', sans-serif" font-size="4.3" fill="#222" text-anchor="end" stroke="#222" stroke-width="0.26">0.1</text>
<text x="77.9" y="217.54" font-family="'Liberation Sans', sans-serif" font-size="4.3" fill="#222" text-anchor="end" stroke="#222" stroke-width="0.26">0</text>
<text x="77.9" y="231.6" font-family="'Liberation Sans', sans-serif" font-size="4.3" fill="#222" text-anchor="end" stroke="#222" stroke-width="0.26">-0.1</text>
<text x="131.6" y="199.8" font-family="'Liberation Serif', serif" font-style="italic" font-size="4.6" fill="#222" stroke="#222" stroke-width="0.1" text-anchor="middle" textLength="17.8" lengthAdjust="spacingAndGlyphs">p(<tspan>Y</tspan><tspan font-size="3.2" dy="0.7">1</tspan><tspan dy="-0.7">, Y</tspan><tspan font-size="3.2" dy="0.7">3</tspan>)</text>
<text x="131.9" y="240.3" font-family="'Liberation Serif', serif" font-style="italic" font-size="4.8" fill="#222" stroke="#222" stroke-width="0.18" text-anchor="middle">Y<tspan font-size="3.4" dy="0.7">1</tspan></text>
<text transform="translate(110.2,215.55) rotate(-90)" x="0" y="0" font-family="'Liberation Serif', serif" font-style="italic" font-size="4.8" fill="#222" stroke="#222" stroke-width="0.18" text-anchor="middle">Y<tspan font-size="3.4" dy="0.7">3</tspan></text>
<text x="120.4" y="235" font-family="'Liberation Sans', sans-serif" font-size="4.3" fill="#222" text-anchor="middle" stroke="#222" stroke-width="0.26">-0.1</text>
<text x="130.9" y="235" font-family="'Liberation Sans', sans-serif" font-size="4.3" fill="#222" text-anchor="middle" stroke="#222" stroke-width="0.26">0</text>
<text x="142.52" y="235" font-family="'Liberation Sans', sans-serif" font-size="4.3" fill="#222" text-anchor="middle" stroke="#222" stroke-width="0.26">0.1</text>
<text x="116.6" y="203.55" font-family="'Liberation Sans', sans-serif" font-size="4.3" fill="#222" text-anchor="end" stroke="#222" stroke-width="0.26">0.1</text>
<text x="116.6" y="217.54" font-family="'Liberation Sans', sans-serif" font-size="4.3" fill="#222" text-anchor="end" stroke="#222" stroke-width="0.26">0</text>
<text x="116.6" y="231.6" font-family="'Liberation Sans', sans-serif" font-size="4.3" fill="#222" text-anchor="end" stroke="#222" stroke-width="0.26">-0.1</text>
<text x="169.2" y="199.8" font-family="'Liberation Serif', serif" font-style="italic" font-size="4.6" fill="#222" stroke="#222" stroke-width="0.1" text-anchor="middle" textLength="17.8" lengthAdjust="spacingAndGlyphs">p(<tspan>Y</tspan><tspan font-size="3.2" dy="0.7">2</tspan><tspan dy="-0.7">, Y</tspan><tspan font-size="3.2" dy="0.7">3</tspan>)</text>
<text x="169.5" y="240.3" font-family="'Liberation Serif', serif" font-style="italic" font-size="4.8" fill="#222" stroke="#222" stroke-width="0.18" text-anchor="middle">Y<tspan font-size="3.4" dy="0.7">2</tspan></text>
<text transform="translate(148.6,215.55) rotate(-90)" x="0" y="0" font-family="'Liberation Serif', serif" font-style="italic" font-size="4.8" fill="#222" stroke="#222" stroke-width="0.18" text-anchor="middle">Y<tspan font-size="3.4" dy="0.7">3</tspan></text>
<text x="160.49" y="235" font-family="'Liberation Sans', sans-serif" font-size="4.3" fill="#222" text-anchor="middle" stroke="#222" stroke-width="0.26">-0.1</text>
<text x="171.31" y="235" font-family="'Liberation Sans', sans-serif" font-size="4.3" fill="#222" text-anchor="middle" stroke="#222" stroke-width="0.26">0</text>
<text x="180.29" y="235" font-family="'Liberation Sans', sans-serif" font-size="4.3" fill="#222" text-anchor="middle" stroke="#222" stroke-width="0.26">0.1</text>
<text x="155" y="203.55" font-family="'Liberation Sans', sans-serif" font-size="4.3" fill="#222" text-anchor="end" stroke="#222" stroke-width="0.26">0.1</text>
<text x="155" y="217.54" font-family="'Liberation Sans', sans-serif" font-size="4.3" fill="#222" text-anchor="end" stroke="#222" stroke-width="0.26">0</text>
<text x="155" y="231.6" font-family="'Liberation Sans', sans-serif" font-size="4.3" fill="#222" text-anchor="end" stroke="#222" stroke-width="0.26">-0.1</text>
<text x="209.45" y="199.8" font-family="'Liberation Serif', serif" font-style="italic" font-size="4.6" fill="#222" stroke="#222" stroke-width="0.1" text-anchor="middle" textLength="17.8" lengthAdjust="spacingAndGlyphs">p(<tspan>Y</tspan><tspan font-size="3.2" dy="0.7">3</tspan><tspan dy="-0.7">, Y</tspan><tspan font-size="3.2" dy="0.7">4</tspan>)</text>
<text x="209.75" y="240.3" font-family="'Liberation Serif', serif" font-style="italic" font-size="4.8" fill="#222" stroke="#222" stroke-width="0.18" text-anchor="middle">Y<tspan font-size="3.4" dy="0.7">3</tspan></text>
<text transform="translate(188.6,215.55) rotate(-90)" x="0" y="0" font-family="'Liberation Serif', serif" font-style="italic" font-size="4.8" fill="#222" stroke="#222" stroke-width="0.18" text-anchor="middle">Y<tspan font-size="3.4" dy="0.7">4</tspan></text>
<text x="196.81" y="235" font-family="'Liberation Sans', sans-serif" font-size="4.3" fill="#222" text-anchor="middle" stroke="#222" stroke-width="0.26">-0.1</text>
<text x="208.1" y="235" font-family="'Liberation Sans', sans-serif" font-size="4.3" fill="#222" text-anchor="middle" stroke="#222" stroke-width="0.26">0</text>
<text x="218.87" y="235" font-family="'Liberation Sans', sans-serif" font-size="4.3" fill="#222" text-anchor="middle" stroke="#222" stroke-width="0.26">0.1</text>
<text x="195" y="203.55" font-family="'Liberation Sans', sans-serif" font-size="4.3" fill="#222" text-anchor="end" stroke="#222" stroke-width="0.26">0.05</text>
<text x="195" y="217.54" font-family="'Liberation Sans', sans-serif" font-size="4.3" fill="#222" text-anchor="end" stroke="#222" stroke-width="0.26">0</text>
<text x="195" y="231.6" font-family="'Liberation Sans', sans-serif" font-size="4.3" fill="#222" text-anchor="end" stroke="#222" stroke-width="0.26">-0.05</text>
<text x="248.1" y="199.8" font-family="'Liberation Serif', serif" font-style="italic" font-size="4.6" fill="#222" stroke="#222" stroke-width="0.1" text-anchor="middle" textLength="17.8" lengthAdjust="spacingAndGlyphs">p(<tspan>Y</tspan><tspan font-size="3.2" dy="0.7">0</tspan><tspan dy="-0.7">, Y</tspan><tspan font-size="3.2" dy="0.7">1</tspan>)</text>
<text x="248.4" y="240.3" font-family="'Liberation Serif', serif" font-style="italic" font-size="4.8" fill="#222" stroke="#222" stroke-width="0.18" text-anchor="middle">Y<tspan font-size="3.4" dy="0.7">0</tspan></text>
<text transform="translate(227.7,215.55) rotate(-90)" x="0" y="0" font-family="'Liberation Serif', serif" font-style="italic" font-size="4.8" fill="#222" stroke="#222" stroke-width="0.18" text-anchor="middle">Y<tspan font-size="3.4" dy="0.7">1</tspan></text>
<text x="235.1" y="235" font-family="'Liberation Sans', sans-serif" font-size="4.3" fill="#222" text-anchor="middle" stroke="#222" stroke-width="0.26">-0.1</text>
<text x="247.32" y="235" font-family="'Liberation Sans', sans-serif" font-size="4.3" fill="#222" text-anchor="middle" stroke="#222" stroke-width="0.26">0</text>
<text x="257.72" y="235" font-family="'Liberation Sans', sans-serif" font-size="4.3" fill="#222" text-anchor="middle" stroke="#222" stroke-width="0.26">0.1</text>
<text x="234.1" y="203.55" font-family="'Liberation Sans', sans-serif" font-size="4.3" fill="#222" text-anchor="end" stroke="#222" stroke-width="0.26">0.1</text>
<text x="234.1" y="217.54" font-family="'Liberation Sans', sans-serif" font-size="4.3" fill="#222" text-anchor="end" stroke="#222" stroke-width="0.26">0</text>
<text x="234.1" y="231.6" font-family="'Liberation Sans', sans-serif" font-size="4.3" fill="#222" text-anchor="end" stroke="#222" stroke-width="0.26">-0.1</text>
<text x="285.65" y="199.8" font-family="'Liberation Serif', serif" font-style="italic" font-size="4.6" fill="#222" stroke="#222" stroke-width="0.1" text-anchor="middle" textLength="17.8" lengthAdjust="spacingAndGlyphs">p(<tspan>Y</tspan><tspan font-size="3.2" dy="0.7">0</tspan><tspan dy="-0.7">, Y</tspan><tspan font-size="3.2" dy="0.7">2</tspan>)</text>
<text x="285.95" y="240.3" font-family="'Liberation Serif', serif" font-style="italic" font-size="4.8" fill="#222" stroke="#222" stroke-width="0.18" text-anchor="middle">Y<tspan font-size="3.4" dy="0.7">0</tspan></text>
<text transform="translate(264.5,215.55) rotate(-90)" x="0" y="0" font-family="'Liberation Serif', serif" font-style="italic" font-size="4.8" fill="#222" stroke="#222" stroke-width="0.18" text-anchor="middle">Y<tspan font-size="3.4" dy="0.7">2</tspan></text>
<text x="274.65" y="235" font-family="'Liberation Sans', sans-serif" font-size="4.3" fill="#222" text-anchor="middle" stroke="#222" stroke-width="0.26">-0.1</text>
<text x="284.27" y="235" font-family="'Liberation Sans', sans-serif" font-size="4.3" fill="#222" text-anchor="middle" stroke="#222" stroke-width="0.26">0</text>
<text x="293.07" y="235" font-family="'Liberation Sans', sans-serif" font-size="4.3" fill="#222" text-anchor="middle" stroke="#222" stroke-width="0.26">0.1</text>
<text x="270.9" y="203.55" font-family="'Liberation Sans', sans-serif" font-size="4.3" fill="#222" text-anchor="end" stroke="#222" stroke-width="0.26">0.1</text>
<text x="270.9" y="217.54" font-family="'Liberation Sans', sans-serif" font-size="4.3" fill="#222" text-anchor="end" stroke="#222" stroke-width="0.26">0</text>
<text x="270.9" y="231.6" font-family="'Liberation Sans', sans-serif" font-size="4.3" fill="#222" text-anchor="end" stroke="#222" stroke-width="0.26">-0.1</text>
<text x="325.35" y="199.8" font-family="'Liberation Serif', serif" font-style="italic" font-size="4.6" fill="#222" stroke="#222" stroke-width="0.1" text-anchor="middle" textLength="17.8" lengthAdjust="spacingAndGlyphs">p(<tspan>Y</tspan><tspan font-size="3.2" dy="0.7">1</tspan><tspan dy="-0.7">, Y</tspan><tspan font-size="3.2" dy="0.7">3</tspan>)</text>
<text x="325.65" y="240.3" font-family="'Liberation Serif', serif" font-style="italic" font-size="4.8" fill="#222" stroke="#222" stroke-width="0.18" text-anchor="middle">Y<tspan font-size="3.4" dy="0.7">1</tspan></text>
<text transform="translate(303.6,215.55) rotate(-90)" x="0" y="0" font-family="'Liberation Serif', serif" font-style="italic" font-size="4.8" fill="#222" stroke="#222" stroke-width="0.18" text-anchor="middle">Y<tspan font-size="3.4" dy="0.7">3</tspan></text>
<text x="313.58" y="235" font-family="'Liberation Sans', sans-serif" font-size="4.3" fill="#222" text-anchor="middle" stroke="#222" stroke-width="0.26">-0.1</text>
<text x="325.06" y="235" font-family="'Liberation Sans', sans-serif" font-size="4.3" fill="#222" text-anchor="middle" stroke="#222" stroke-width="0.26">0</text>
<text x="336.54" y="235" font-family="'Liberation Sans', sans-serif" font-size="4.3" fill="#222" text-anchor="middle" stroke="#222" stroke-width="0.26">0.1</text>
<text x="310" y="203.55" font-family="'Liberation Sans', sans-serif" font-size="4.3" fill="#222" text-anchor="end" stroke="#222" stroke-width="0.26">0.1</text>
<text x="310" y="217.54" font-family="'Liberation Sans', sans-serif" font-size="4.3" fill="#222" text-anchor="end" stroke="#222" stroke-width="0.26">0</text>
<text x="310" y="231.6" font-family="'Liberation Sans', sans-serif" font-size="4.3" fill="#222" text-anchor="end" stroke="#222" stroke-width="0.26">-0.1</text>
<text x="364.65" y="199.8" font-family="'Liberation Serif', serif" font-style="italic" font-size="4.6" fill="#222" stroke="#222" stroke-width="0.1" text-anchor="middle" textLength="17.8" lengthAdjust="spacingAndGlyphs">p(<tspan>Y</tspan><tspan font-size="3.2" dy="0.7">2</tspan><tspan dy="-0.7">, Y</tspan><tspan font-size="3.2" dy="0.7">3</tspan>)</text>
<text x="364.95" y="240.3" font-family="'Liberation Serif', serif" font-style="italic" font-size="4.8" fill="#222" stroke="#222" stroke-width="0.18" text-anchor="middle">Y<tspan font-size="3.4" dy="0.7">2</tspan></text>
<text transform="translate(344,215.55) rotate(-90)" x="0" y="0" font-family="'Liberation Serif', serif" font-style="italic" font-size="4.8" fill="#222" stroke="#222" stroke-width="0.18" text-anchor="middle">Y<tspan font-size="3.4" dy="0.7">3</tspan></text>
<text x="354.31" y="235" font-family="'Liberation Sans', sans-serif" font-size="4.3" fill="#222" text-anchor="middle" stroke="#222" stroke-width="0.26">-0.1</text>
<text x="364.91" y="235" font-family="'Liberation Sans', sans-serif" font-size="4.3" fill="#222" text-anchor="middle" stroke="#222" stroke-width="0.26">0</text>
<text x="375.78" y="235" font-family="'Liberation Sans', sans-serif" font-size="4.3" fill="#222" text-anchor="middle" stroke="#222" stroke-width="0.26">0.1</text>
<text x="350.4" y="203.55" font-family="'Liberation Sans', sans-serif" font-size="4.3" fill="#222" text-anchor="end" stroke="#222" stroke-width="0.26">0.1</text>
<text x="350.4" y="217.54" font-family="'Liberation Sans', sans-serif" font-size="4.3" fill="#222" text-anchor="end" stroke="#222" stroke-width="0.26">0</text>
<text x="350.4" y="231.6" font-family="'Liberation Sans', sans-serif" font-size="4.3" fill="#222" text-anchor="end" stroke="#222" stroke-width="0.26">-0.1</text>
<text x="404.25" y="199.8" font-family="'Liberation Serif', serif" font-style="italic" font-size="4.6" fill="#222" stroke="#222" stroke-width="0.1" text-anchor="middle" textLength="17.8" lengthAdjust="spacingAndGlyphs">p(<tspan>Y</tspan><tspan font-size="3.2" dy="0.7">3</tspan><tspan dy="-0.7">, Y</tspan><tspan font-size="3.2" dy="0.7">4</tspan>)</text>
<text x="404.55" y="240.3" font-family="'Liberation Serif', serif" font-style="italic" font-size="4.8" fill="#222" stroke="#222" stroke-width="0.18" text-anchor="middle">Y<tspan font-size="3.4" dy="0.7">3</tspan></text>
<text transform="translate(384,215.55) rotate(-90)" x="0" y="0" font-family="'Liberation Serif', serif" font-style="italic" font-size="4.8" fill="#222" stroke="#222" stroke-width="0.18" text-anchor="middle">Y<tspan font-size="3.4" dy="0.7">4</tspan></text>
<text x="392.43" y="235" font-family="'Liberation Sans', sans-serif" font-size="4.3" fill="#222" text-anchor="middle" stroke="#222" stroke-width="0.26">-0.1</text>
<text x="403.22" y="235" font-family="'Liberation Sans', sans-serif" font-size="4.3" fill="#222" text-anchor="middle" stroke="#222" stroke-width="0.26">0</text>
<text x="414.02" y="235" font-family="'Liberation Sans', sans-serif" font-size="4.3" fill="#222" text-anchor="middle" stroke="#222" stroke-width="0.26">0.1</text>
<text x="390.4" y="203.55" font-family="'Liberation Sans', sans-serif" font-size="4.3" fill="#222" text-anchor="end" stroke="#222" stroke-width="0.26">0.05</text>
<text x="390.4" y="217.54" font-family="'Liberation Sans', sans-serif" font-size="4.3" fill="#222" text-anchor="end" stroke="#222" stroke-width="0.26">0</text>
<text x="390.4" y="231.6" font-family="'Liberation Sans', sans-serif" font-size="4.3" fill="#222" text-anchor="end" stroke="#222" stroke-width="0.26">-0.05</text>
<text x="36" y="127.6" font-family="'Liberation Serif', serif" font-size="7.4" fill="#111" text-anchor="start" stroke="#111" stroke-width="0.15" textLength="22" lengthAdjust="spacingAndGlyphs">full MC</text>
<text x="233.6" y="126.9" font-family="'Liberation Serif', serif" font-size="7.4" fill="#111" text-anchor="start" stroke="#111" stroke-width="0.15" textLength="15.8" lengthAdjust="spacingAndGlyphs">RBM</text>
<text x="36" y="191.5" font-family="'Liberation Serif', serif" font-size="7.4" fill="#111" text-anchor="start" stroke="#111" stroke-width="0.15" textLength="22" lengthAdjust="spacingAndGlyphs">full MC</text>
<text x="233.9" y="194.4" font-family="'Liberation Serif', serif" font-size="7.4" fill="#111" text-anchor="start" stroke="#111" stroke-width="0.15" textLength="15.5" lengthAdjust="spacingAndGlyphs">RBM</text>
<text x="171.9" y="184" font-family="'Liberation Serif', serif" font-size="7.1" fill="#1a1a1a" text-anchor="start" textLength="106" lengthAdjust="spacingAndGlyphs">(c) joint PDFs of large-scale modes</text>
<text x="169.4" y="247.3" font-family="'Liberation Serif', serif" font-size="7.2" fill="#1a1a1a" text-anchor="start" textLength="110.9" lengthAdjust="spacingAndGlyphs">(d) joint PDFs of small-scale modes</text>
</svg></body></html>
